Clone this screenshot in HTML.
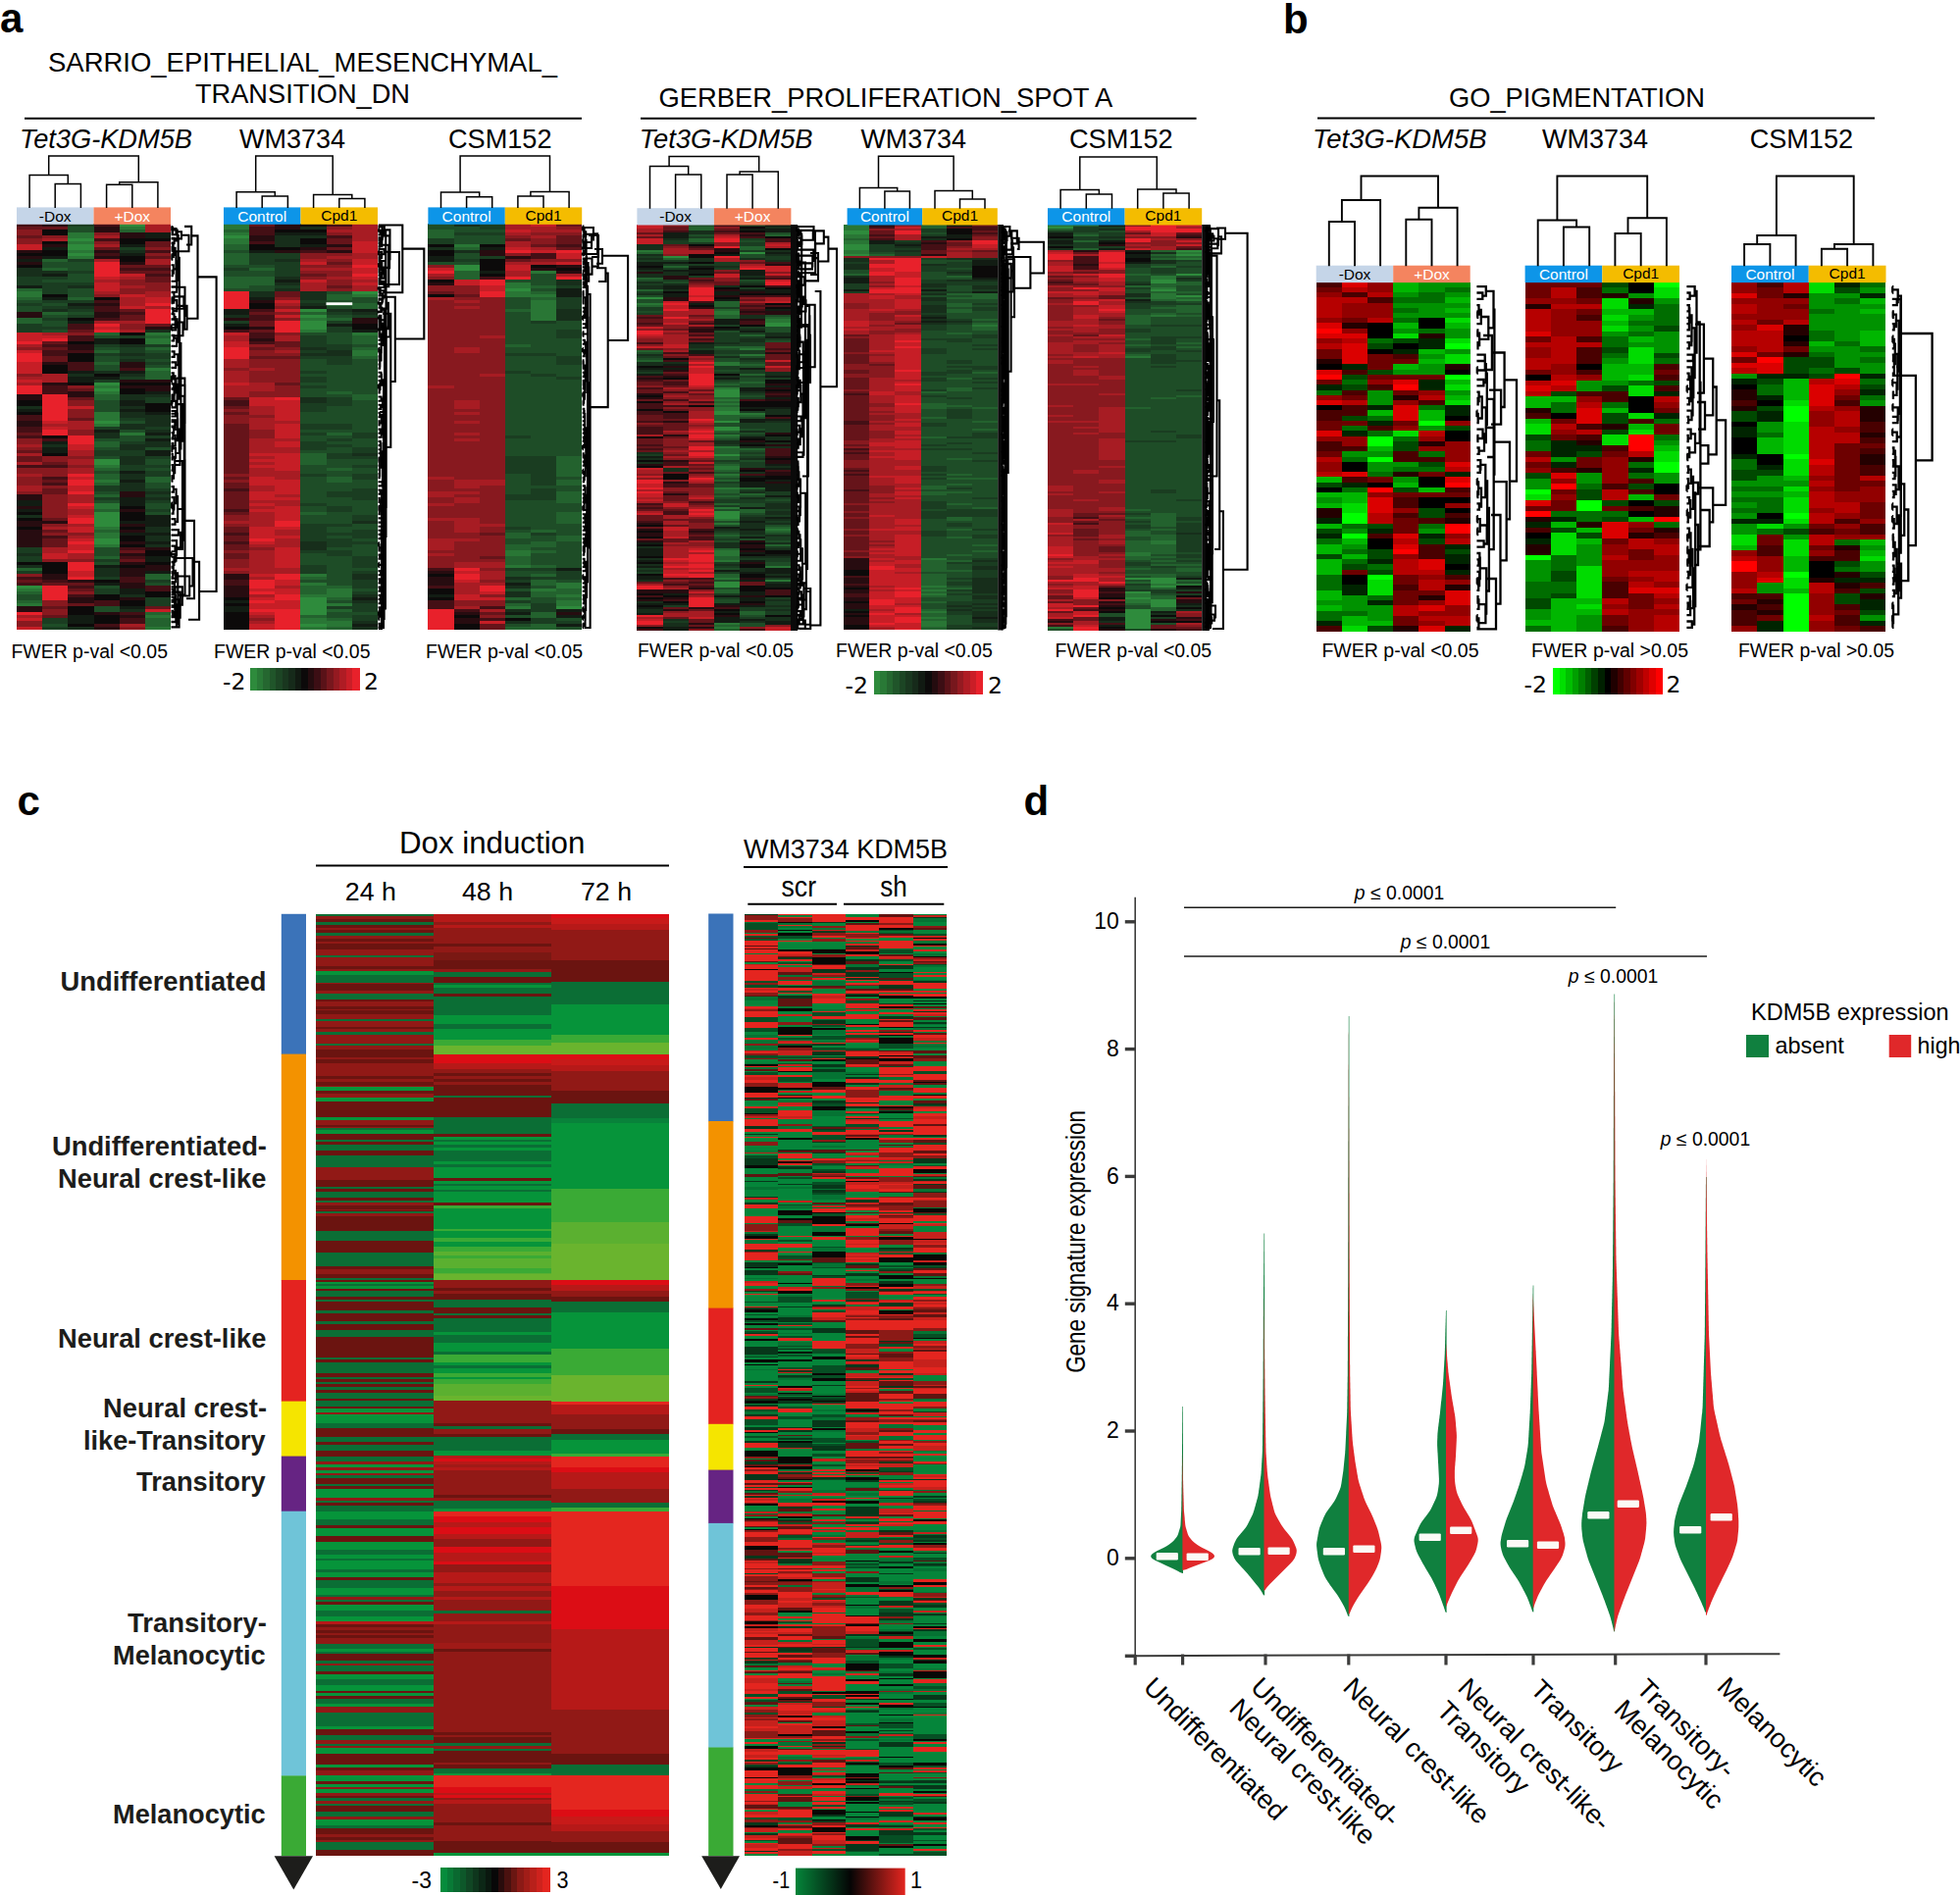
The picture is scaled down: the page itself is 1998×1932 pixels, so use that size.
<!DOCTYPE html><html><head><meta charset="utf-8"><title>Figure</title><style>html,body{margin:0;padding:0;background:#fff}svg{display:block}</style></head><body><svg width="1998" height="1932" viewBox="0 0 1998 1932" font-family="'Liberation Sans',sans-serif"><text x="0.0" y="33.0" font-size="42" font-weight="bold">a</text>
<text x="1308.0" y="33.5" font-size="42" font-weight="bold">b</text>
<text x="17.5" y="831.0" font-size="42" font-weight="bold">c</text>
<text x="1043.5" y="831.0" font-size="42" font-weight="bold">d</text>
<text x="49.0" y="72.5" font-size="27.3" textLength="519.0" lengthAdjust="spacingAndGlyphs">SARRIO_EPITHELIAL_MESENCHYMAL_</text>
<text x="199.0" y="105.0" font-size="27.3" textLength="219.0" lengthAdjust="spacingAndGlyphs">TRANSITION_DN</text>
<path d="M25.0 120.7L593.0 120.7" stroke="#000" stroke-width="2" fill="none"/>
<text x="671.4" y="109.3" font-size="27.3" textLength="463.0" lengthAdjust="spacingAndGlyphs">GERBER_PROLIFERATION_SPOT A</text>
<path d="M653.0 120.7L1219.6 120.7" stroke="#000" stroke-width="2" fill="none"/>
<text x="1477.0" y="109.0" font-size="27.3" textLength="261.0" lengthAdjust="spacingAndGlyphs">GO_PIGMENTATION</text>
<path d="M1343.0 120.5L1911.0 120.5" stroke="#000" stroke-width="2" fill="none"/>
<text x="20.0" y="150.5" font-size="27.3" font-style="italic" textLength="176.0" lengthAdjust="spacingAndGlyphs">Tet3G-KDM5B</text>
<text x="651.8" y="150.5" font-size="27.3" font-style="italic" textLength="176.8" lengthAdjust="spacingAndGlyphs">Tet3G-KDM5B</text>
<text x="1338.0" y="150.5" font-size="27.3" font-style="italic" textLength="177.5" lengthAdjust="spacingAndGlyphs">Tet3G-KDM5B</text>
<text x="244.0" y="150.5" font-size="27.3" textLength="108.0" lengthAdjust="spacingAndGlyphs">WM3734</text>
<text x="877.5" y="150.5" font-size="27.3" textLength="107.5" lengthAdjust="spacingAndGlyphs">WM3734</text>
<text x="1572.0" y="150.5" font-size="27.3" textLength="108.0" lengthAdjust="spacingAndGlyphs">WM3734</text>
<text x="457.0" y="150.5" font-size="27.3" textLength="105.5" lengthAdjust="spacingAndGlyphs">CSM152</text>
<text x="1090.0" y="150.5" font-size="27.3" textLength="105.7" lengthAdjust="spacingAndGlyphs">CSM152</text>
<text x="1783.7" y="150.5" font-size="27.3" textLength="105.3" lengthAdjust="spacingAndGlyphs">CSM152</text>
<g shape-rendering="crispEdges"><path fill="#2e8b3c" d="M17 597h26v3h-26zM69 243h27v3h-27zM69 249h27v6h-27zM69 258h27v3h-27zM96 390h26v3h-26zM96 396h26v3h-26zM96 429h26v3h-26zM96 468h26v6h-26zM96 522h26v15h-26zM96 549h26v6h-26zM122 228h26v3h-26z"/><path fill="#297635" d="M17 297h26v6h-26zM17 600h26v3h-26zM17 615h26v3h-26zM69 237h27v6h-27zM69 246h27v3h-27zM69 255h27v3h-27zM69 261h27v3h-27zM96 393h26v3h-26zM96 399h26v3h-26zM96 420h26v9h-26zM96 432h26v3h-26zM96 474h26v3h-26zM96 489h26v3h-26zM96 513h26v6h-26zM96 537h26v3h-26zM96 543h26v6h-26zM96 555h26v3h-26zM122 231h26v3h-26zM122 441h26v3h-26zM148 339h26v3h-26zM148 345h26v6h-26zM148 375h26v3h-26zM148 627h26v3h-26zM148 639h26v3h-26z"/><path fill="#23622e" d="M17 294h26v3h-26zM17 303h26v3h-26zM17 324h26v6h-26zM17 579h26v3h-26zM17 603h26v3h-26zM17 612h26v3h-26zM43 264h26v3h-26zM43 273h26v3h-26zM43 318h26v3h-26zM69 303h27v3h-27zM96 339h26v3h-26zM96 357h26v3h-26zM96 369h26v3h-26zM96 402h26v6h-26zM96 450h26v6h-26zM96 477h26v3h-26zM96 483h26v6h-26zM96 492h26v3h-26zM96 504h26v3h-26zM96 519h26v3h-26zM96 540h26v3h-26zM96 567h26v3h-26zM122 234h26v3h-26zM148 342h26v3h-26zM148 354h26v3h-26zM148 378h26v9h-26zM148 486h26v6h-26zM148 585h26v6h-26zM148 624h26v3h-26zM148 630h26v9h-26z"/><path fill="#1e4d27" d="M17 306h26v3h-26zM17 312h26v6h-26zM17 606h26v6h-26zM43 267h26v6h-26zM43 285h26v3h-26zM43 309h26v3h-26zM43 321h26v3h-26zM43 327h26v6h-26zM43 336h26v3h-26zM43 636h26v3h-26zM69 231h27v6h-27zM69 267h27v9h-27zM69 279h27v9h-27zM69 294h27v9h-27zM69 318h27v3h-27zM96 342h26v3h-26zM96 354h26v3h-26zM96 363h26v6h-26zM96 372h26v6h-26zM96 408h26v12h-26zM96 447h26v3h-26zM96 456h26v3h-26zM96 465h26v3h-26zM96 480h26v3h-26zM96 501h26v3h-26zM96 510h26v3h-26zM96 558h26v9h-26zM96 573h26v3h-26zM96 597h26v3h-26zM96 618h26v6h-26zM122 429h26v3h-26zM122 438h26v3h-26zM122 444h26v6h-26zM148 357h26v3h-26zM148 366h26v3h-26zM148 372h26v3h-26zM148 456h26v3h-26zM148 468h26v6h-26zM148 477h26v3h-26zM148 492h26v6h-26zM148 513h26v6h-26zM148 522h26v3h-26zM148 594h26v3h-26z"/><path fill="#1a3d21" d="M17 282h26v9h-26zM17 309h26v3h-26zM17 330h26v9h-26zM17 558h26v6h-26zM17 567h26v6h-26zM17 582h26v3h-26zM43 282h26v3h-26zM43 288h26v12h-26zM43 306h26v3h-26zM43 312h26v3h-26zM43 324h26v3h-26zM43 333h26v3h-26zM43 630h26v6h-26zM43 639h26v3h-26zM69 228h27v3h-27zM69 264h27v3h-27zM69 276h27v3h-27zM69 288h27v3h-27zM69 306h27v3h-27zM69 315h27v3h-27zM69 321h27v3h-27zM96 351h26v3h-26zM96 360h26v3h-26zM96 387h26v3h-26zM96 435h26v3h-26zM96 459h26v6h-26zM96 495h26v6h-26zM96 507h26v3h-26zM96 570h26v3h-26zM96 588h26v3h-26zM96 600h26v6h-26zM122 252h26v3h-26zM122 342h26v3h-26zM122 354h26v6h-26zM122 363h26v3h-26zM122 384h26v3h-26zM122 426h26v3h-26zM122 450h26v3h-26zM122 459h26v6h-26zM122 474h26v6h-26zM148 351h26v3h-26zM148 360h26v6h-26zM148 369h26v3h-26zM148 405h26v6h-26zM148 435h26v3h-26zM148 444h26v3h-26zM148 465h26v3h-26zM148 474h26v3h-26zM148 480h26v6h-26zM148 498h26v3h-26zM148 504h26v3h-26zM148 510h26v3h-26zM148 519h26v3h-26zM148 591h26v3h-26zM148 609h26v9h-26z"/><path fill="#172e1b" d="M17 273h26v9h-26zM17 414h26v3h-26zM17 525h26v3h-26zM17 564h26v3h-26zM17 576h26v3h-26zM43 276h26v3h-26zM43 315h26v3h-26zM43 453h26v3h-26zM69 291h27v3h-27zM69 312h27v3h-27zM69 381h27v3h-27zM69 639h27v3h-27zM96 378h26v3h-26zM96 441h26v6h-26zM96 579h26v9h-26zM122 255h26v3h-26zM122 351h26v3h-26zM122 360h26v3h-26zM122 366h26v3h-26zM122 381h26v3h-26zM122 402h26v6h-26zM122 414h26v3h-26zM122 420h26v6h-26zM122 432h26v6h-26zM122 453h26v6h-26zM122 465h26v9h-26zM122 483h26v6h-26zM122 492h26v9h-26zM122 606h26v3h-26zM122 621h26v3h-26zM148 336h26v3h-26zM148 402h26v3h-26zM148 423h26v12h-26zM148 438h26v3h-26zM148 450h26v6h-26zM148 501h26v3h-26zM148 507h26v3h-26zM148 537h26v6h-26zM148 546h26v6h-26zM148 555h26v3h-26z"/><path fill="#121c13" d="M17 264h26v3h-26zM17 291h26v3h-26zM17 417h26v3h-26zM17 510h26v6h-26zM17 519h26v3h-26zM43 252h26v3h-26zM43 261h26v3h-26zM43 279h26v3h-26zM43 303h26v3h-26zM43 450h26v3h-26zM43 456h26v6h-26zM69 309h27v3h-27zM69 327h27v3h-27zM69 378h27v3h-27zM69 384h27v6h-27zM69 627h27v9h-27zM96 345h26v6h-26zM96 384h26v3h-26zM96 438h26v3h-26zM96 576h26v3h-26zM96 594h26v3h-26zM122 249h26v3h-26zM122 258h26v3h-26zM122 378h26v3h-26zM122 408h26v6h-26zM122 417h26v3h-26zM122 480h26v3h-26zM122 489h26v3h-26zM122 507h26v9h-26zM122 531h26v3h-26zM122 543h26v3h-26zM122 600h26v6h-26zM122 618h26v3h-26zM148 237h26v6h-26zM148 399h26v3h-26zM148 420h26v3h-26zM148 441h26v3h-26zM148 447h26v3h-26zM148 459h26v6h-26zM148 525h26v12h-26zM148 543h26v3h-26zM148 552h26v3h-26zM148 567h26v6h-26zM148 582h26v3h-26z"/><path fill="#0c0a0a" d="M17 258h26v3h-26zM17 270h26v3h-26zM17 408h26v6h-26zM17 420h26v3h-26zM17 522h26v3h-26zM17 528h26v3h-26zM17 537h26v3h-26zM17 573h26v3h-26zM43 234h26v6h-26zM43 246h26v3h-26zM43 255h26v6h-26zM43 300h26v3h-26zM43 372h26v9h-26zM43 444h26v3h-26zM43 462h26v3h-26zM43 573h26v12h-26zM69 324h27v3h-27zM69 348h27v3h-27zM69 360h27v9h-27zM69 390h27v3h-27zM69 618h27v9h-27zM69 636h27v3h-27zM96 303h26v3h-26zM96 381h26v3h-26zM96 591h26v3h-26zM96 606h26v6h-26zM96 627h26v9h-26zM122 243h26v6h-26zM122 261h26v6h-26zM122 339h26v3h-26zM122 345h26v6h-26zM122 390h26v3h-26zM122 396h26v6h-26zM122 516h26v3h-26zM122 522h26v9h-26zM122 537h26v3h-26zM122 546h26v6h-26zM122 555h26v3h-26zM122 576h26v3h-26zM122 612h26v6h-26zM148 243h26v3h-26zM148 390h26v3h-26zM148 411h26v9h-26zM148 561h26v6h-26zM148 573h26v3h-26zM148 603h26v6h-26z"/><path fill="#270c10" d="M17 255h26v3h-26zM17 261h26v3h-26zM17 267h26v3h-26zM17 318h26v6h-26zM17 402h26v6h-26zM17 429h26v6h-26zM17 504h26v6h-26zM17 516h26v3h-26zM17 531h26v6h-26zM17 540h26v18h-26zM17 618h26v6h-26zM43 228h26v3h-26zM43 249h26v3h-26zM43 369h26v3h-26zM43 390h26v3h-26zM43 531h26v3h-26zM43 585h26v6h-26zM69 351h27v6h-27zM69 399h27v6h-27zM69 591h27v3h-27zM69 609h27v6h-27zM96 231h26v6h-26zM96 255h26v3h-26zM96 261h26v3h-26zM96 309h26v3h-26zM96 318h26v6h-26zM96 624h26v3h-26zM96 639h26v3h-26zM122 237h26v6h-26zM122 267h26v3h-26zM122 369h26v6h-26zM122 387h26v3h-26zM122 393h26v3h-26zM122 501h26v6h-26zM122 519h26v3h-26zM122 534h26v3h-26zM122 540h26v3h-26zM122 552h26v3h-26zM122 564h26v3h-26zM122 573h26v3h-26zM122 579h26v9h-26zM122 594h26v6h-26zM122 609h26v3h-26zM122 627h26v3h-26zM148 333h26v3h-26zM148 387h26v3h-26zM148 393h26v6h-26zM148 558h26v3h-26zM148 576h26v6h-26z"/><path fill="#440f15" d="M17 228h26v3h-26zM17 423h26v6h-26zM17 435h26v6h-26zM17 444h26v3h-26zM17 474h26v3h-26zM17 588h26v3h-26zM17 594h26v3h-26zM43 351h26v3h-26zM43 357h26v6h-26zM43 393h26v9h-26zM43 447h26v3h-26zM43 474h26v3h-26zM43 486h26v3h-26zM43 492h26v3h-26zM43 546h26v3h-26zM43 591h26v3h-26zM69 330h27v6h-27zM69 342h27v6h-27zM69 357h27v3h-27zM69 369h27v9h-27zM69 597h27v3h-27zM69 606h27v3h-27zM96 228h26v3h-26zM96 243h26v3h-26zM96 258h26v3h-26zM96 306h26v3h-26zM96 312h26v6h-26zM96 324h26v3h-26zM96 612h26v6h-26zM96 636h26v3h-26zM122 273h26v3h-26zM122 318h26v3h-26zM122 375h26v3h-26zM122 558h26v3h-26zM122 567h26v3h-26zM122 588h26v6h-26zM122 624h26v3h-26zM122 630h26v6h-26zM148 255h26v3h-26zM148 273h26v3h-26zM148 279h26v3h-26zM148 597h26v6h-26z"/><path fill="#66141a" d="M17 231h26v3h-26zM17 240h26v3h-26zM17 441h26v3h-26zM17 459h26v3h-26zM17 465h26v6h-26zM17 591h26v3h-26zM43 231h26v3h-26zM43 348h26v3h-26zM43 354h26v3h-26zM43 363h26v6h-26zM43 471h26v3h-26zM43 489h26v3h-26zM43 498h26v6h-26zM43 528h26v3h-26zM43 540h26v3h-26zM43 549h26v9h-26zM43 594h26v3h-26zM43 618h26v3h-26zM43 627h26v3h-26zM69 336h27v3h-27zM69 396h27v3h-27zM69 405h27v3h-27zM69 426h27v3h-27zM69 594h27v3h-27zM69 600h27v3h-27zM69 615h27v3h-27zM96 252h26v3h-26zM122 270h26v3h-26zM122 276h26v3h-26zM122 315h26v3h-26zM122 321h26v6h-26zM122 561h26v3h-26zM122 570h26v3h-26zM148 246h26v6h-26zM148 261h26v3h-26zM148 270h26v3h-26zM148 276h26v3h-26zM148 282h26v6h-26zM148 330h26v3h-26zM148 618h26v3h-26z"/><path fill="#88191f" d="M17 234h26v6h-26zM17 243h26v6h-26zM17 354h26v3h-26zM17 381h26v3h-26zM17 447h26v6h-26zM17 456h26v3h-26zM17 477h26v6h-26zM17 486h26v9h-26zM17 501h26v3h-26zM17 585h26v3h-26zM17 633h26v6h-26zM43 240h26v3h-26zM43 465h26v6h-26zM43 477h26v9h-26zM43 495h26v3h-26zM43 504h26v24h-26zM43 534h26v3h-26zM43 543h26v3h-26zM43 570h26v3h-26zM43 612h26v6h-26zM43 621h26v6h-26zM69 339h27v3h-27zM69 393h27v3h-27zM69 408h27v6h-27zM69 417h27v9h-27zM69 438h27v6h-27zM69 465h27v3h-27zM69 474h27v3h-27zM69 543h27v3h-27zM69 570h27v3h-27zM69 603h27v3h-27zM96 237h26v3h-26zM96 246h26v3h-26zM96 300h26v3h-26zM122 285h26v6h-26zM122 294h26v6h-26zM122 330h26v6h-26zM122 639h26v3h-26zM148 252h26v3h-26zM148 258h26v3h-26zM148 288h26v9h-26z"/><path fill="#a71c23" d="M17 351h26v3h-26zM17 384h26v3h-26zM17 390h26v3h-26zM17 453h26v3h-26zM17 462h26v3h-26zM17 471h26v3h-26zM17 483h26v3h-26zM17 495h26v6h-26zM17 627h26v3h-26zM43 243h26v3h-26zM43 339h26v3h-26zM43 381h26v9h-26zM43 432h26v3h-26zM43 537h26v3h-26zM43 558h26v6h-26zM69 429h27v9h-27zM69 459h27v6h-27zM69 468h27v6h-27zM69 477h27v6h-27zM69 504h27v9h-27zM69 519h27v6h-27zM69 534h27v3h-27zM69 546h27v3h-27zM69 564h27v6h-27zM96 240h26v3h-26zM96 249h26v3h-26zM96 264h26v3h-26zM96 285h26v3h-26zM96 297h26v3h-26zM96 327h26v3h-26zM122 282h26v3h-26zM122 291h26v3h-26zM122 303h26v9h-26zM122 327h26v3h-26zM122 336h26v3h-26zM122 636h26v3h-26zM148 228h26v9h-26zM148 264h26v6h-26zM148 297h26v6h-26zM148 312h26v3h-26z"/><path fill="#c61e26" d="M17 249h26v6h-26zM17 339h26v9h-26zM17 357h26v3h-26zM17 369h26v12h-26zM17 387h26v3h-26zM17 630h26v3h-26zM17 639h26v3h-26zM43 342h26v3h-26zM43 429h26v3h-26zM43 435h26v3h-26zM43 564h26v6h-26zM69 414h27v3h-27zM69 453h27v6h-27zM69 486h27v3h-27zM69 495h27v6h-27zM69 516h27v3h-27zM69 525h27v3h-27zM69 537h27v6h-27zM69 549h27v3h-27zM69 555h27v6h-27zM69 582h27v6h-27zM96 282h26v3h-26zM96 288h26v9h-26zM96 333h26v3h-26zM122 279h26v3h-26zM122 300h26v3h-26zM122 312h26v3h-26zM148 303h26v6h-26zM148 621h26v3h-26z"/><path fill="#e8212b" d="M17 348h26v3h-26zM17 360h26v9h-26zM17 393h26v9h-26zM17 624h26v3h-26zM43 345h26v3h-26zM43 402h26v27h-26zM43 438h26v6h-26zM43 597h26v15h-26zM69 444h27v9h-27zM69 483h27v3h-27zM69 489h27v6h-27zM69 501h27v3h-27zM69 513h27v3h-27zM69 528h27v6h-27zM69 552h27v3h-27zM69 561h27v3h-27zM69 573h27v9h-27zM69 588h27v3h-27zM96 267h26v15h-26zM96 330h26v3h-26zM96 336h26v3h-26zM148 309h26v3h-26zM148 315h26v15h-26z"/></g>
<rect x="17.00" y="211.40" width="78.50" height="17.40" fill="#c5d5e8"/>
<rect x="95.50" y="211.40" width="78.50" height="17.40" fill="#f4845f"/>
<text x="56.2" y="225.5" font-size="15.5" text-anchor="middle">-Dox</text>
<text x="134.8" y="225.5" font-size="15.5" text-anchor="middle" fill="#fff">+Dox</text>
<g shape-rendering="crispEdges"><path fill="#2e8b3c" d="M228 240h26v3h-26zM306 315h27v3h-27zM306 321h27v3h-27zM306 327h27v9h-27zM306 609h27v18h-27zM306 636h27v3h-27zM359 297h26v3h-26z"/><path fill="#297635" d="M228 228h26v6h-26zM228 237h26v3h-26zM228 243h26v6h-26zM306 324h27v3h-27zM306 336h27v3h-27zM306 585h27v3h-27zM306 594h27v3h-27zM306 606h27v3h-27zM306 630h27v6h-27zM306 639h27v3h-27zM333 600h26v9h-26zM333 615h26v3h-26zM333 633h26v6h-26zM359 300h26v3h-26zM359 339h26v3h-26zM359 357h26v6h-26z"/><path fill="#23622e" d="M228 234h26v3h-26zM228 249h26v6h-26zM228 258h26v12h-26zM228 282h26v12h-26zM254 273h26v3h-26zM254 282h26v9h-26zM306 318h27v3h-27zM306 462h27v12h-27zM306 522h27v3h-27zM306 588h27v3h-27zM306 597h27v9h-27zM306 627h27v3h-27zM333 300h26v6h-26zM333 309h26v3h-26zM333 324h26v3h-26zM333 399h26v3h-26zM333 441h26v3h-26zM333 477h26v3h-26zM333 486h26v6h-26zM333 597h26v3h-26zM333 609h26v3h-26zM333 621h26v3h-26zM333 630h26v3h-26zM333 639h26v3h-26zM359 309h26v6h-26zM359 342h26v9h-26zM359 354h26v3h-26zM359 363h26v3h-26zM359 402h26v6h-26z"/><path fill="#1e4d27" d="M228 255h26v3h-26zM228 270h26v3h-26zM228 276h26v6h-26zM228 294h26v3h-26zM254 270h26v3h-26zM254 276h26v6h-26zM254 291h26v6h-26zM306 339h27v3h-27zM306 366h27v12h-27zM306 381h27v3h-27zM306 390h27v3h-27zM306 396h27v9h-27zM306 420h27v12h-27zM306 438h27v3h-27zM306 444h27v6h-27zM306 459h27v3h-27zM306 474h27v9h-27zM306 486h27v27h-27zM306 516h27v6h-27zM306 525h27v9h-27zM306 564h27v12h-27zM306 591h27v3h-27zM333 297h26v3h-26zM333 306h26v3h-26zM333 312h26v3h-26zM333 321h26v3h-26zM333 339h26v12h-26zM333 372h26v27h-26zM333 402h26v3h-26zM333 414h26v18h-26zM333 438h26v3h-26zM333 444h26v3h-26zM333 450h26v3h-26zM333 456h26v6h-26zM333 468h26v9h-26zM333 480h26v6h-26zM333 492h26v9h-26zM333 507h26v9h-26zM333 522h26v12h-26zM333 537h26v6h-26zM333 546h26v3h-26zM333 558h26v3h-26zM333 567h26v30h-26zM333 612h26v3h-26zM333 624h26v6h-26zM359 303h26v6h-26zM359 351h26v3h-26zM359 366h26v36h-26zM359 408h26v33h-26zM359 447h26v9h-26zM359 468h26v6h-26zM359 477h26v6h-26zM359 489h26v9h-26zM359 510h26v15h-26zM359 534h26v6h-26zM359 549h26v3h-26zM359 555h26v12h-26zM359 579h26v3h-26zM359 600h26v3h-26zM359 624h26v3h-26z"/><path fill="#1a3d21" d="M228 273h26v3h-26zM228 327h26v3h-26zM254 258h26v12h-26zM280 258h26v6h-26zM280 267h26v15h-26zM280 291h26v3h-26zM306 306h27v3h-27zM306 342h27v12h-27zM306 357h27v3h-27zM306 363h27v3h-27zM306 378h27v3h-27zM306 384h27v6h-27zM306 393h27v3h-27zM306 411h27v9h-27zM306 432h27v6h-27zM306 441h27v3h-27zM306 450h27v9h-27zM306 483h27v3h-27zM306 513h27v3h-27zM306 534h27v18h-27zM306 561h27v3h-27zM306 576h27v9h-27zM333 318h26v3h-26zM333 327h26v3h-26zM333 333h26v6h-26zM333 351h26v6h-26zM333 363h26v9h-26zM333 405h26v9h-26zM333 432h26v6h-26zM333 447h26v3h-26zM333 453h26v3h-26zM333 462h26v6h-26zM333 501h26v6h-26zM333 516h26v6h-26zM333 534h26v3h-26zM333 543h26v3h-26zM333 549h26v9h-26zM333 561h26v6h-26zM333 618h26v3h-26zM359 321h26v3h-26zM359 441h26v6h-26zM359 456h26v6h-26zM359 465h26v3h-26zM359 474h26v3h-26zM359 483h26v6h-26zM359 498h26v12h-26zM359 525h26v6h-26zM359 540h26v9h-26zM359 552h26v3h-26zM359 567h26v12h-26zM359 582h26v3h-26zM359 591h26v9h-26zM359 603h26v3h-26zM359 615h26v9h-26zM359 627h26v6h-26z"/><path fill="#172e1b" d="M228 321h26v3h-26zM254 297h26v6h-26zM280 240h26v12h-26zM280 264h26v3h-26zM280 282h26v3h-26zM280 288h26v3h-26zM280 294h26v3h-26zM306 231h27v3h-27zM306 240h27v3h-27zM306 297h27v9h-27zM306 309h27v3h-27zM306 354h27v3h-27zM306 360h27v3h-27zM306 405h27v6h-27zM306 552h27v9h-27zM333 315h26v3h-26zM333 357h26v6h-26zM359 318h26v3h-26zM359 462h26v3h-26zM359 531h26v3h-26zM359 585h26v6h-26zM359 606h26v3h-26zM359 612h26v3h-26zM359 633h26v3h-26zM359 639h26v3h-26z"/><path fill="#121c13" d="M228 315h26v6h-26zM228 330h26v3h-26zM228 612h26v3h-26zM228 618h26v6h-26zM254 255h26v3h-26zM254 303h26v3h-26zM280 237h26v3h-26zM280 285h26v3h-26zM306 237h27v3h-27zM306 249h27v3h-27zM306 312h27v3h-27zM333 330h26v3h-26zM359 315h26v3h-26zM359 336h26v3h-26zM359 609h26v3h-26zM359 636h26v3h-26z"/><path fill="#0c0a0a" d="M228 333h26v3h-26zM228 609h26v3h-26zM228 615h26v3h-26zM228 624h26v18h-26zM254 249h26v6h-26zM254 309h26v6h-26zM280 234h26v3h-26zM280 252h26v3h-26zM306 228h27v3h-27zM306 234h27v3h-27zM306 243h27v6h-27zM359 330h26v6h-26z"/><path fill="#270c10" d="M228 324h26v3h-26zM228 585h26v6h-26zM228 597h26v12h-26zM254 240h26v6h-26zM254 306h26v3h-26zM254 333h26v3h-26zM254 345h26v3h-26zM280 228h26v6h-26zM280 255h26v3h-26zM306 252h27v3h-27zM333 249h26v3h-26zM333 255h26v3h-26zM359 324h26v6h-26z"/><path fill="#440f15" d="M228 336h26v3h-26zM228 408h26v6h-26zM228 498h26v3h-26zM228 519h26v3h-26zM228 543h26v3h-26zM228 552h26v3h-26zM228 591h26v6h-26zM254 231h26v9h-26zM254 246h26v3h-26zM254 315h26v3h-26zM254 321h26v6h-26zM254 339h26v6h-26zM254 348h26v3h-26zM306 255h27v3h-27zM333 228h26v3h-26zM333 240h26v3h-26z"/><path fill="#66141a" d="M228 405h26v3h-26zM228 414h26v3h-26zM228 420h26v3h-26zM228 432h26v51h-26zM228 486h26v3h-26zM228 492h26v6h-26zM228 501h26v18h-26zM228 522h26v3h-26zM228 537h26v6h-26zM228 546h26v6h-26zM228 555h26v6h-26zM228 564h26v6h-26zM254 228h26v3h-26zM254 318h26v3h-26zM254 327h26v6h-26zM254 336h26v3h-26zM254 354h26v3h-26zM254 363h26v3h-26zM280 297h26v6h-26zM280 348h26v6h-26zM280 363h26v3h-26zM280 390h26v3h-26zM306 279h27v3h-27zM333 243h26v6h-26zM333 252h26v3h-26zM333 267h26v3h-26zM333 291h26v3h-26z"/><path fill="#88191f" d="M228 375h26v3h-26zM228 417h26v3h-26zM228 423h26v9h-26zM228 483h26v3h-26zM228 489h26v3h-26zM228 525h26v6h-26zM228 534h26v3h-26zM228 561h26v3h-26zM228 570h26v9h-26zM228 582h26v3h-26zM254 351h26v3h-26zM254 357h26v6h-26zM254 366h26v9h-26zM254 378h26v12h-26zM254 399h26v6h-26zM254 423h26v3h-26zM254 438h26v9h-26zM254 558h26v3h-26zM254 630h26v3h-26zM280 303h26v3h-26zM280 312h26v3h-26zM280 318h26v3h-26zM280 324h26v3h-26zM280 339h26v3h-26zM280 354h26v3h-26zM280 360h26v3h-26zM280 366h26v24h-26zM280 393h26v12h-26zM306 258h27v6h-27zM306 270h27v3h-27zM306 276h27v3h-27zM306 282h27v3h-27zM333 231h26v3h-26zM333 237h26v3h-26zM333 258h26v3h-26zM333 264h26v3h-26zM333 270h26v3h-26zM333 276h26v6h-26zM333 285h26v6h-26zM333 294h26v3h-26z"/><path fill="#a71c23" d="M228 342h26v6h-26zM228 366h26v9h-26zM228 378h26v12h-26zM228 393h26v12h-26zM228 531h26v3h-26zM228 579h26v3h-26zM254 375h26v3h-26zM254 390h26v9h-26zM254 414h26v9h-26zM254 426h26v12h-26zM254 447h26v15h-26zM254 465h26v3h-26zM254 471h26v3h-26zM254 477h26v9h-26zM254 495h26v6h-26zM254 510h26v3h-26zM254 516h26v3h-26zM254 522h26v15h-26zM254 555h26v3h-26zM254 561h26v24h-26zM254 588h26v3h-26zM254 606h26v3h-26zM254 627h26v3h-26zM254 633h26v3h-26zM280 309h26v3h-26zM280 342h26v6h-26zM280 357h26v3h-26zM280 429h26v3h-26zM280 447h26v3h-26zM280 456h26v6h-26zM280 480h26v9h-26zM280 504h26v3h-26zM280 510h26v6h-26zM280 540h26v6h-26zM280 549h26v9h-26zM280 579h26v6h-26zM280 597h26v3h-26zM306 264h27v3h-27zM306 273h27v3h-27zM306 288h27v9h-27zM333 234h26v3h-26zM333 261h26v3h-26zM333 273h26v3h-26zM333 282h26v3h-26zM359 228h26v18h-26zM359 258h26v6h-26zM359 285h26v3h-26zM359 291h26v6h-26z"/><path fill="#c61e26" d="M228 339h26v3h-26zM228 348h26v6h-26zM228 390h26v3h-26zM254 405h26v9h-26zM254 462h26v3h-26zM254 468h26v3h-26zM254 474h26v3h-26zM254 486h26v9h-26zM254 501h26v9h-26zM254 513h26v3h-26zM254 519h26v3h-26zM254 537h26v12h-26zM254 552h26v3h-26zM254 585h26v3h-26zM254 600h26v3h-26zM254 609h26v3h-26zM254 615h26v6h-26zM254 624h26v3h-26zM254 636h26v6h-26zM280 306h26v3h-26zM280 315h26v3h-26zM280 321h26v3h-26zM280 408h26v21h-26zM280 432h26v15h-26zM280 450h26v6h-26zM280 462h26v18h-26zM280 489h26v15h-26zM280 507h26v3h-26zM280 516h26v15h-26zM280 537h26v3h-26zM280 546h26v3h-26zM280 558h26v21h-26zM280 591h26v6h-26zM280 600h26v6h-26zM280 612h26v9h-26zM306 267h27v3h-27zM306 285h27v3h-27zM359 246h26v12h-26zM359 264h26v6h-26zM359 273h26v6h-26zM359 282h26v3h-26zM359 288h26v3h-26z"/><path fill="#e8212b" d="M228 297h26v18h-26zM228 354h26v12h-26zM254 549h26v3h-26zM254 591h26v9h-26zM254 603h26v3h-26zM254 612h26v3h-26zM254 621h26v3h-26zM280 327h26v12h-26zM280 405h26v3h-26zM280 531h26v6h-26zM280 585h26v6h-26zM280 606h26v6h-26zM280 621h26v21h-26zM359 270h26v3h-26zM359 279h26v3h-26z"/></g>
<rect x="228.00" y="211.40" width="78.50" height="17.40" fill="#0d95e8"/>
<rect x="306.50" y="211.40" width="78.50" height="17.40" fill="#f4bc00"/>
<text x="267.2" y="225.5" font-size="15.5" text-anchor="middle" fill="#fff">Control</text>
<text x="345.8" y="224.5" font-size="15.5" text-anchor="middle">Cpd1</text>
<g shape-rendering="crispEdges"><path fill="#2e8b3c" d="M463 270h26v6h-26zM515 294h26v3h-26zM567 618h26v3h-26z"/><path fill="#297635" d="M463 249h26v3h-26zM515 288h26v6h-26zM515 297h26v6h-26zM515 561h26v6h-26zM515 576h26v3h-26zM515 618h26v3h-26zM541 276h26v3h-26zM541 300h26v3h-26zM541 306h26v21h-26zM541 600h26v3h-26zM567 594h26v6h-26zM567 606h26v3h-26zM567 612h26v6h-26z"/><path fill="#23622e" d="M436 234h27v9h-27zM463 252h26v3h-26zM463 276h26v9h-26zM515 315h26v3h-26zM515 351h26v3h-26zM515 543h26v6h-26zM515 555h26v6h-26zM515 567h26v9h-26zM515 609h26v3h-26zM515 615h26v3h-26zM515 639h26v3h-26zM541 291h26v3h-26zM541 297h26v3h-26zM541 303h26v3h-26zM541 540h26v3h-26zM541 552h26v6h-26zM541 561h26v3h-26zM541 576h26v3h-26zM541 585h26v3h-26zM541 591h26v6h-26zM541 603h26v6h-26zM541 624h26v6h-26zM541 636h26v6h-26zM567 465h26v21h-26zM567 489h26v6h-26zM567 501h26v12h-26zM567 522h26v12h-26zM567 546h26v6h-26zM567 600h26v6h-26zM567 609h26v3h-26z"/><path fill="#1e4d27" d="M436 228h27v6h-27zM436 267h27v3h-27zM463 231h26v6h-26zM463 240h26v9h-26zM463 258h26v6h-26zM463 267h26v3h-26zM489 234h26v3h-26zM489 240h26v9h-26zM515 285h26v3h-26zM515 303h26v12h-26zM515 318h26v33h-26zM515 354h26v6h-26zM515 363h26v15h-26zM515 381h26v63h-26zM515 447h26v18h-26zM515 483h26v21h-26zM515 510h26v27h-26zM515 540h26v3h-26zM515 549h26v6h-26zM515 582h26v6h-26zM515 600h26v3h-26zM515 627h26v3h-26zM515 636h26v3h-26zM541 279h26v12h-26zM541 294h26v3h-26zM541 330h26v30h-26zM541 363h26v18h-26zM541 384h26v81h-26zM541 495h26v3h-26zM541 510h26v30h-26zM541 546h26v6h-26zM541 558h26v3h-26zM541 564h26v12h-26zM541 582h26v3h-26zM541 597h26v3h-26zM541 609h26v6h-26zM567 327h26v9h-26zM567 345h26v18h-26zM567 372h26v12h-26zM567 387h26v78h-26zM567 486h26v3h-26zM567 495h26v6h-26zM567 513h26v9h-26zM567 534h26v12h-26zM567 552h26v27h-26zM567 591h26v3h-26zM567 630h26v3h-26zM567 639h26v3h-26z"/><path fill="#1a3d21" d="M436 243h27v6h-27zM463 237h26v3h-26zM463 264h26v3h-26zM489 228h26v6h-26zM489 237h26v3h-26zM489 261h26v3h-26zM515 360h26v3h-26zM515 378h26v3h-26zM515 444h26v3h-26zM515 465h26v18h-26zM515 504h26v6h-26zM515 537h26v3h-26zM515 579h26v3h-26zM515 591h26v3h-26zM515 612h26v3h-26zM541 327h26v3h-26zM541 360h26v3h-26zM541 381h26v3h-26zM541 465h26v30h-26zM541 498h26v12h-26zM541 543h26v3h-26zM541 579h26v3h-26zM541 588h26v3h-26zM541 615h26v9h-26zM541 630h26v6h-26zM567 291h26v3h-26zM567 303h26v12h-26zM567 336h26v9h-26zM567 363h26v9h-26zM567 384h26v3h-26zM567 582h26v9h-26zM567 633h26v3h-26z"/><path fill="#172e1b" d="M436 252h27v3h-27zM463 228h26v3h-26zM463 255h26v3h-26zM515 588h26v3h-26zM515 597h26v3h-26zM515 603h26v6h-26zM515 621h26v3h-26zM515 633h26v3h-26zM567 285h26v6h-26zM567 315h26v12h-26z"/><path fill="#121c13" d="M436 261h27v6h-27zM436 606h27v3h-27zM489 252h26v3h-26zM489 276h26v3h-26zM515 594h26v3h-26zM515 624h26v3h-26zM567 294h26v9h-26zM567 579h26v3h-26zM567 621h26v3h-26zM567 627h26v3h-26zM567 636h26v3h-26z"/><path fill="#0c0a0a" d="M436 249h27v3h-27zM436 255h27v6h-27zM436 285h27v3h-27zM436 300h27v3h-27zM436 585h27v3h-27zM436 600h27v6h-27zM436 609h27v3h-27zM463 627h26v3h-26zM463 636h26v6h-26zM489 249h26v3h-26zM489 264h26v12h-26zM489 279h26v3h-26zM515 630h26v3h-26zM541 270h26v3h-26zM567 273h26v3h-26z"/><path fill="#270c10" d="M436 288h27v3h-27zM436 582h27v3h-27zM436 588h27v9h-27zM463 624h26v3h-26zM463 630h26v6h-26zM489 255h26v6h-26zM515 261h26v3h-26zM541 273h26v3h-26zM567 270h26v3h-26zM567 276h26v3h-26zM567 624h26v3h-26z"/><path fill="#440f15" d="M436 579h27v3h-27zM436 597h27v3h-27zM436 612h27v9h-27zM463 621h26v3h-26zM489 282h26v3h-26zM489 618h26v3h-26zM489 630h26v3h-26zM541 258h26v6h-26zM567 249h26v3h-26z"/><path fill="#66141a" d="M436 297h27v3h-27zM463 300h26v3h-26zM489 543h26v3h-26zM489 567h26v3h-26zM489 624h26v3h-26zM489 636h26v6h-26zM515 243h26v3h-26zM515 264h26v3h-26zM541 249h26v3h-26zM567 228h26v3h-26zM567 240h26v9h-26zM567 252h26v3h-26z"/><path fill="#88191f" d="M436 270h27v3h-27zM436 282h27v3h-27zM436 291h27v6h-27zM436 306h27v87h-27zM436 396h27v90h-27zM436 489h27v12h-27zM436 507h27v6h-27zM436 516h27v12h-27zM436 531h27v18h-27zM436 561h27v3h-27zM436 567h27v12h-27zM463 291h26v9h-26zM463 303h26v3h-26zM463 309h26v3h-26zM463 315h26v39h-26zM463 360h26v48h-26zM463 417h26v3h-26zM463 423h26v6h-26zM463 432h26v9h-26zM463 444h26v3h-26zM463 450h26v39h-26zM463 498h26v3h-26zM463 504h26v3h-26zM463 513h26v15h-26zM463 543h26v6h-26zM463 552h26v21h-26zM463 612h26v6h-26zM489 303h26v39h-26zM489 345h26v36h-26zM489 384h26v105h-26zM489 495h26v39h-26zM489 537h26v6h-26zM489 546h26v21h-26zM489 570h26v3h-26zM489 579h26v3h-26zM489 591h26v3h-26zM489 606h26v3h-26zM489 612h26v6h-26zM489 627h26v3h-26zM515 240h26v3h-26zM515 258h26v3h-26zM541 237h26v3h-26zM541 243h26v6h-26zM541 264h26v3h-26zM567 231h26v3h-26zM567 237h26v3h-26zM567 264h26v3h-26z"/><path fill="#a71c23" d="M436 279h27v3h-27zM436 303h27v3h-27zM436 393h27v3h-27zM436 486h27v3h-27zM436 501h27v6h-27zM436 513h27v3h-27zM436 528h27v3h-27zM436 549h27v12h-27zM436 564h27v3h-27zM463 306h26v3h-26zM463 312h26v3h-26zM463 354h26v6h-26zM463 408h26v9h-26zM463 420h26v3h-26zM463 429h26v3h-26zM463 441h26v3h-26zM463 447h26v3h-26zM463 489h26v9h-26zM463 501h26v3h-26zM463 507h26v6h-26zM463 528h26v15h-26zM463 549h26v3h-26zM463 573h26v6h-26zM463 594h26v12h-26zM463 618h26v3h-26zM489 342h26v3h-26zM489 381h26v3h-26zM489 489h26v6h-26zM489 534h26v3h-26zM489 573h26v6h-26zM489 582h26v9h-26zM489 594h26v3h-26zM489 621h26v3h-26zM515 228h26v6h-26zM515 237h26v3h-26zM515 246h26v6h-26zM515 267h26v3h-26zM515 276h26v6h-26zM541 231h26v6h-26zM541 240h26v3h-26zM541 252h26v3h-26zM541 267h26v3h-26zM567 234h26v3h-26zM567 279h26v3h-26z"/><path fill="#c61e26" d="M436 273h27v3h-27zM463 285h26v6h-26zM463 582h26v3h-26zM463 591h26v3h-26zM463 606h26v6h-26zM489 291h26v6h-26zM489 603h26v3h-26zM489 609h26v3h-26zM489 633h26v3h-26zM515 234h26v3h-26zM515 252h26v3h-26zM515 270h26v6h-26zM541 228h26v3h-26zM541 255h26v3h-26zM567 258h26v6h-26zM567 267h26v3h-26z"/><path fill="#e8212b" d="M436 276h27v3h-27zM436 621h27v21h-27zM463 579h26v3h-26zM463 585h26v6h-26zM489 285h26v6h-26zM489 297h26v6h-26zM489 597h26v6h-26zM515 255h26v3h-26zM515 282h26v3h-26zM567 255h26v3h-26zM567 282h26v3h-26z"/></g>
<rect x="436.40" y="211.40" width="78.40" height="17.40" fill="#0d95e8"/>
<rect x="514.80" y="211.40" width="78.40" height="17.40" fill="#f4bc00"/>
<text x="475.6" y="225.5" font-size="15.5" text-anchor="middle" fill="#fff">Control</text>
<text x="554.0" y="224.5" font-size="15.5" text-anchor="middle">Cpd1</text>
<g shape-rendering="crispEdges"><path fill="#2e8b3c" d="M649 303h27v2h-27zM676 261h26v2h-26zM728 397h26v8h-26zM728 419h26v4h-26zM728 429h26v2h-26zM728 435h26v4h-26zM728 463h26v2h-26zM728 521h26v8h-26zM728 593h26v6h-26zM754 257h26v2h-26zM780 329h26v4h-26z"/><path fill="#297635" d="M649 255h27v2h-27zM649 309h27v2h-27zM728 317h26v4h-26zM728 369h26v4h-26zM728 395h26v2h-26zM728 407h26v2h-26zM728 411h26v2h-26zM728 415h26v4h-26zM728 443h26v2h-26zM728 455h26v2h-26zM728 475h26v4h-26zM728 483h26v2h-26zM728 497h26v2h-26zM728 517h26v2h-26zM728 529h26v2h-26zM728 533h26v2h-26zM728 561h26v6h-26zM728 571h26v2h-26zM728 589h26v2h-26zM728 635h26v2h-26zM728 639h26v2h-26zM754 355h26v2h-26zM754 361h26v2h-26zM754 421h26v2h-26zM780 325h26v4h-26zM780 539h26v2h-26zM780 577h26v2h-26zM780 591h26v2h-26z"/><path fill="#23622e" d="M649 257h27v2h-27zM649 283h27v2h-27zM649 295h27v2h-27zM649 311h27v2h-27zM649 357h27v2h-27zM649 367h27v2h-27zM676 263h26v2h-26zM676 271h26v2h-26zM702 231h26v4h-26zM702 243h26v4h-26zM728 307h26v6h-26zM728 315h26v2h-26zM728 321h26v4h-26zM728 353h26v2h-26zM728 391h26v2h-26zM728 405h26v2h-26zM728 409h26v2h-26zM728 413h26v2h-26zM728 423h26v6h-26zM728 439h26v2h-26zM728 445h26v2h-26zM728 457h26v6h-26zM728 465h26v4h-26zM728 473h26v2h-26zM728 479h26v2h-26zM728 485h26v2h-26zM728 489h26v2h-26zM728 499h26v4h-26zM728 505h26v2h-26zM728 513h26v2h-26zM728 545h26v2h-26zM728 559h26v2h-26zM728 567h26v4h-26zM728 585h26v4h-26zM728 601h26v4h-26zM728 637h26v2h-26zM728 641h26v2h-26zM754 251h26v4h-26zM754 341h26v2h-26zM754 353h26v2h-26zM754 371h26v2h-26zM754 381h26v2h-26zM754 389h26v2h-26zM754 423h26v2h-26zM754 457h26v2h-26zM754 497h26v2h-26zM754 503h26v2h-26zM754 519h26v4h-26zM754 623h26v4h-26zM780 239h26v2h-26zM780 323h26v2h-26zM780 537h26v2h-26zM780 541h26v2h-26zM780 555h26v2h-26z"/><path fill="#1e4d27" d="M649 285h27v2h-27zM649 301h27v2h-27zM649 305h27v4h-27zM649 317h27v2h-27zM649 359h27v2h-27zM649 365h27v2h-27zM676 287h26v2h-26zM702 229h26v2h-26zM702 239h26v2h-26zM728 337h26v2h-26zM728 355h26v2h-26zM728 361h26v2h-26zM728 365h26v4h-26zM728 377h26v2h-26zM728 389h26v2h-26zM728 393h26v2h-26zM728 431h26v4h-26zM728 441h26v2h-26zM728 447h26v2h-26zM728 471h26v2h-26zM728 481h26v2h-26zM728 487h26v2h-26zM728 493h26v4h-26zM728 503h26v2h-26zM728 507h26v2h-26zM728 519h26v2h-26zM728 531h26v2h-26zM728 535h26v2h-26zM728 543h26v2h-26zM728 547h26v2h-26zM728 551h26v2h-26zM728 579h26v2h-26zM728 591h26v2h-26zM728 599h26v2h-26zM728 611h26v4h-26zM754 245h26v2h-26zM754 259h26v4h-26zM754 285h26v2h-26zM754 363h26v2h-26zM754 369h26v2h-26zM754 373h26v2h-26zM754 385h26v4h-26zM754 391h26v4h-26zM754 403h26v2h-26zM754 425h26v2h-26zM754 437h26v2h-26zM754 441h26v2h-26zM754 459h26v2h-26zM754 463h26v2h-26zM754 469h26v2h-26zM754 505h26v2h-26zM754 513h26v4h-26zM754 523h26v2h-26zM754 549h26v2h-26zM754 627h26v2h-26zM754 635h26v4h-26zM780 237h26v2h-26zM780 321h26v2h-26zM780 333h26v6h-26zM780 347h26v2h-26zM780 509h26v2h-26zM780 535h26v2h-26zM780 543h26v2h-26zM780 551h26v2h-26zM780 573h26v4h-26z"/><path fill="#1a3d21" d="M649 261h27v2h-27zM649 265h27v2h-27zM649 289h27v2h-27zM649 297h27v2h-27zM649 313h27v4h-27zM649 319h27v2h-27zM649 363h27v2h-27zM649 379h27v2h-27zM649 463h27v2h-27zM649 579h27v2h-27zM649 583h27v2h-27zM676 245h26v4h-26zM676 265h26v2h-26zM676 269h26v2h-26zM676 273h26v2h-26zM676 285h26v2h-26zM676 617h26v2h-26zM676 633h26v2h-26zM702 241h26v2h-26zM702 247h26v2h-26zM702 269h26v2h-26zM702 281h26v2h-26zM702 355h26v2h-26zM728 267h26v4h-26zM728 273h26v2h-26zM728 313h26v2h-26zM728 331h26v2h-26zM728 339h26v10h-26zM728 351h26v2h-26zM728 357h26v4h-26zM728 373h26v4h-26zM728 379h26v2h-26zM728 387h26v2h-26zM728 453h26v2h-26zM728 469h26v2h-26zM728 491h26v2h-26zM728 509h26v4h-26zM728 515h26v2h-26zM728 541h26v2h-26zM728 549h26v2h-26zM728 573h26v2h-26zM728 577h26v2h-26zM728 583h26v2h-26zM728 605h26v2h-26zM728 609h26v2h-26zM754 229h26v2h-26zM754 243h26v2h-26zM754 247h26v4h-26zM754 255h26v2h-26zM754 287h26v2h-26zM754 293h26v2h-26zM754 333h26v2h-26zM754 339h26v2h-26zM754 343h26v2h-26zM754 349h26v4h-26zM754 357h26v4h-26zM754 367h26v2h-26zM754 377h26v4h-26zM754 383h26v2h-26zM754 401h26v2h-26zM754 405h26v2h-26zM754 419h26v2h-26zM754 431h26v6h-26zM754 443h26v2h-26zM754 461h26v2h-26zM754 465h26v2h-26zM754 471h26v6h-26zM754 499h26v2h-26zM754 509h26v4h-26zM754 525h26v2h-26zM754 545h26v2h-26zM754 569h26v2h-26zM754 619h26v4h-26zM754 629h26v2h-26zM780 261h26v4h-26zM780 345h26v2h-26zM780 385h26v2h-26zM780 431h26v10h-26zM780 501h26v4h-26zM780 507h26v2h-26zM780 511h26v2h-26zM780 519h26v2h-26zM780 525h26v2h-26zM780 531h26v2h-26zM780 547h26v4h-26zM780 557h26v2h-26zM780 569h26v4h-26zM780 589h26v2h-26zM780 609h26v2h-26zM780 613h26v4h-26zM780 619h26v2h-26zM780 623h26v4h-26z"/><path fill="#172e1b" d="M649 249h27v6h-27zM649 259h27v2h-27zM649 263h27v2h-27zM649 275h27v2h-27zM649 279h27v4h-27zM649 287h27v2h-27zM649 291h27v4h-27zM649 299h27v2h-27zM649 361h27v2h-27zM649 369h27v4h-27zM649 377h27v2h-27zM649 461h27v2h-27zM649 467h27v2h-27zM649 471h27v2h-27zM649 557h27v2h-27zM649 569h27v2h-27zM649 575h27v2h-27zM649 581h27v2h-27zM649 591h27v2h-27zM649 613h27v2h-27zM649 621h27v4h-27zM676 243h26v2h-26zM676 277h26v4h-26zM676 289h26v2h-26zM676 295h26v2h-26zM676 369h26v2h-26zM676 477h26v4h-26zM676 631h26v2h-26zM676 635h26v4h-26zM702 235h26v4h-26zM702 263h26v4h-26zM702 351h26v4h-26zM728 271h26v2h-26zM728 291h26v2h-26zM728 349h26v2h-26zM728 363h26v2h-26zM728 383h26v2h-26zM728 449h26v4h-26zM728 539h26v2h-26zM728 553h26v6h-26zM728 575h26v2h-26zM754 263h26v2h-26zM754 281h26v2h-26zM754 289h26v2h-26zM754 321h26v4h-26zM754 335h26v2h-26zM754 345h26v4h-26zM754 365h26v2h-26zM754 399h26v2h-26zM754 439h26v2h-26zM754 455h26v2h-26zM754 467h26v2h-26zM754 481h26v2h-26zM754 501h26v2h-26zM754 507h26v2h-26zM754 527h26v4h-26zM754 533h26v6h-26zM754 541h26v4h-26zM754 567h26v2h-26zM754 579h26v4h-26zM754 633h26v2h-26zM780 231h26v2h-26zM780 255h26v2h-26zM780 259h26v2h-26zM780 265h26v2h-26zM780 339h26v4h-26zM780 379h26v4h-26zM780 417h26v6h-26zM780 429h26v2h-26zM780 445h26v4h-26zM780 451h26v2h-26zM780 455h26v2h-26zM780 475h26v2h-26zM780 513h26v6h-26zM780 521h26v4h-26zM780 529h26v2h-26zM780 533h26v2h-26zM780 545h26v2h-26zM780 553h26v2h-26zM780 559h26v2h-26zM780 567h26v2h-26zM780 585h26v2h-26zM780 593h26v2h-26zM780 611h26v2h-26zM780 617h26v2h-26zM780 621h26v2h-26zM780 629h26v4h-26z"/><path fill="#121c13" d="M649 267h27v4h-27zM649 273h27v2h-27zM649 375h27v2h-27zM649 381h27v2h-27zM649 465h27v2h-27zM649 553h27v2h-27zM649 559h27v8h-27zM649 571h27v2h-27zM649 577h27v2h-27zM649 587h27v4h-27zM649 615h27v2h-27zM649 619h27v2h-27zM649 625h27v2h-27zM676 237h26v6h-26zM676 267h26v2h-26zM676 275h26v2h-26zM676 291h26v4h-26zM676 299h26v4h-26zM676 371h26v2h-26zM676 375h26v2h-26zM676 605h26v2h-26zM676 615h26v2h-26zM676 639h26v4h-26zM702 271h26v2h-26zM702 275h26v4h-26zM702 309h26v2h-26zM702 349h26v2h-26zM702 357h26v4h-26zM728 259h26v2h-26zM728 297h26v4h-26zM728 305h26v2h-26zM728 325h26v6h-26zM728 335h26v2h-26zM728 385h26v2h-26zM728 537h26v2h-26zM728 581h26v2h-26zM728 607h26v2h-26zM728 615h26v2h-26zM728 623h26v2h-26zM728 629h26v6h-26zM754 233h26v2h-26zM754 275h26v6h-26zM754 283h26v2h-26zM754 295h26v2h-26zM754 337h26v2h-26zM754 375h26v2h-26zM754 395h26v4h-26zM754 415h26v2h-26zM754 427h26v4h-26zM754 445h26v2h-26zM754 451h26v2h-26zM754 485h26v2h-26zM754 491h26v6h-26zM754 517h26v2h-26zM754 531h26v2h-26zM754 539h26v2h-26zM754 547h26v2h-26zM754 563h26v2h-26zM754 571h26v2h-26zM754 583h26v2h-26zM754 591h26v2h-26zM754 603h26v4h-26zM754 609h26v4h-26zM754 617h26v2h-26zM754 631h26v2h-26zM780 229h26v2h-26zM780 233h26v4h-26zM780 257h26v2h-26zM780 295h26v4h-26zM780 315h26v2h-26zM780 343h26v2h-26zM780 383h26v2h-26zM780 393h26v2h-26zM780 405h26v2h-26zM780 415h26v2h-26zM780 427h26v2h-26zM780 473h26v2h-26zM780 477h26v2h-26zM780 489h26v2h-26zM780 493h26v8h-26zM780 505h26v2h-26zM780 527h26v2h-26zM780 565h26v2h-26zM780 579h26v6h-26zM780 587h26v2h-26zM780 595h26v4h-26zM780 633h26v4h-26z"/><path fill="#0c0a0a" d="M649 271h27v2h-27zM649 373h27v2h-27zM649 403h27v2h-27zM649 409h27v2h-27zM649 417h27v2h-27zM649 445h27v2h-27zM649 469h27v2h-27zM649 475h27v2h-27zM649 535h27v2h-27zM649 541h27v2h-27zM649 547h27v2h-27zM649 555h27v2h-27zM649 567h27v2h-27zM649 573h27v2h-27zM649 585h27v2h-27zM649 605h27v2h-27zM649 609h27v2h-27zM649 617h27v2h-27zM649 639h27v2h-27zM676 297h26v2h-26zM676 365h26v2h-26zM676 385h26v2h-26zM676 419h26v2h-26zM676 483h26v6h-26zM676 607h26v2h-26zM676 613h26v2h-26zM702 249h26v2h-26zM702 259h26v4h-26zM702 267h26v2h-26zM702 273h26v2h-26zM702 279h26v2h-26zM702 311h26v2h-26zM702 413h26v2h-26zM728 257h26v2h-26zM728 293h26v2h-26zM728 303h26v2h-26zM728 333h26v2h-26zM728 381h26v2h-26zM728 621h26v2h-26zM728 625h26v2h-26zM754 231h26v2h-26zM754 235h26v2h-26zM754 291h26v2h-26zM754 299h26v2h-26zM754 331h26v2h-26zM754 409h26v6h-26zM754 417h26v2h-26zM754 447h26v2h-26zM754 453h26v2h-26zM754 479h26v2h-26zM754 487h26v4h-26zM754 553h26v2h-26zM754 559h26v2h-26zM754 565h26v2h-26zM754 575h26v4h-26zM754 585h26v4h-26zM754 597h26v6h-26zM754 613h26v2h-26zM780 241h26v2h-26zM780 253h26v2h-26zM780 293h26v2h-26zM780 299h26v2h-26zM780 309h26v2h-26zM780 313h26v2h-26zM780 387h26v4h-26zM780 397h26v2h-26zM780 409h26v6h-26zM780 423h26v2h-26zM780 443h26v2h-26zM780 449h26v2h-26zM780 467h26v2h-26zM780 485h26v4h-26zM780 561h26v4h-26zM780 599h26v2h-26zM780 607h26v2h-26zM780 627h26v2h-26z"/><path fill="#270c10" d="M649 277h27v2h-27zM649 385h27v2h-27zM649 401h27v2h-27zM649 405h27v2h-27zM649 473h27v2h-27zM649 533h27v2h-27zM649 539h27v2h-27zM649 543h27v4h-27zM649 551h27v2h-27zM649 601h27v4h-27zM649 611h27v2h-27zM676 281h26v4h-26zM676 303h26v4h-26zM676 373h26v2h-26zM676 377h26v2h-26zM676 383h26v2h-26zM676 429h26v2h-26zM676 443h26v2h-26zM676 469h26v2h-26zM676 491h26v2h-26zM676 503h26v2h-26zM676 601h26v4h-26zM676 609h26v2h-26zM676 621h26v2h-26zM702 313h26v2h-26zM702 335h26v4h-26zM702 541h26v2h-26zM702 599h26v2h-26zM702 619h26v2h-26zM702 635h26v2h-26zM702 639h26v2h-26zM728 253h26v4h-26zM728 295h26v2h-26zM728 301h26v2h-26zM728 617h26v2h-26zM728 627h26v2h-26zM754 239h26v2h-26zM754 297h26v2h-26zM754 317h26v2h-26zM754 325h26v2h-26zM754 449h26v2h-26zM754 477h26v2h-26zM754 551h26v2h-26zM754 555h26v4h-26zM754 561h26v2h-26zM754 573h26v2h-26zM754 589h26v2h-26zM754 607h26v2h-26zM754 615h26v2h-26zM780 269h26v2h-26zM780 317h26v4h-26zM780 359h26v2h-26zM780 391h26v2h-26zM780 395h26v2h-26zM780 399h26v2h-26zM780 403h26v2h-26zM780 407h26v2h-26zM780 441h26v2h-26zM780 453h26v2h-26zM780 465h26v2h-26zM780 469h26v4h-26zM780 481h26v4h-26zM780 491h26v2h-26z"/><path fill="#440f15" d="M649 323h27v2h-27zM649 329h27v2h-27zM649 349h27v2h-27zM649 383h27v2h-27zM649 387h27v2h-27zM649 395h27v2h-27zM649 411h27v6h-27zM649 419h27v4h-27zM649 429h27v2h-27zM649 435h27v8h-27zM649 453h27v2h-27zM649 457h27v2h-27zM649 513h27v2h-27zM649 517h27v2h-27zM649 531h27v2h-27zM649 607h27v2h-27zM649 641h27v2h-27zM676 235h26v2h-26zM676 359h26v2h-26zM676 367h26v2h-26zM676 381h26v2h-26zM676 389h26v4h-26zM676 399h26v2h-26zM676 407h26v2h-26zM676 413h26v2h-26zM676 421h26v6h-26zM676 471h26v4h-26zM676 493h26v4h-26zM676 521h26v4h-26zM676 589h26v2h-26zM676 595h26v2h-26zM676 611h26v2h-26zM702 251h26v2h-26zM702 285h26v2h-26zM702 307h26v2h-26zM702 329h26v2h-26zM702 333h26v2h-26zM702 341h26v2h-26zM702 345h26v2h-26zM702 361h26v2h-26zM702 409h26v2h-26zM702 481h26v2h-26zM702 511h26v2h-26zM702 539h26v2h-26zM702 543h26v2h-26zM702 547h26v4h-26zM702 589h26v2h-26zM702 593h26v2h-26zM702 597h26v2h-26zM728 229h26v2h-26zM728 235h26v2h-26zM728 619h26v2h-26zM754 237h26v2h-26zM754 241h26v2h-26zM754 301h26v2h-26zM754 311h26v2h-26zM754 315h26v2h-26zM754 319h26v2h-26zM754 327h26v4h-26zM754 407h26v2h-26zM754 483h26v2h-26zM754 641h26v2h-26zM780 243h26v4h-26zM780 267h26v2h-26zM780 283h26v2h-26zM780 291h26v2h-26zM780 301h26v2h-26zM780 311h26v2h-26zM780 355h26v2h-26zM780 401h26v2h-26zM780 425h26v2h-26zM780 457h26v8h-26zM780 479h26v2h-26zM780 601h26v6h-26z"/><path fill="#66141a" d="M649 237h27v2h-27zM649 241h27v2h-27zM649 321h27v2h-27zM649 325h27v4h-27zM649 331h27v2h-27zM649 355h27v2h-27zM649 389h27v4h-27zM649 397h27v4h-27zM649 407h27v2h-27zM649 423h27v6h-27zM649 433h27v2h-27zM649 447h27v6h-27zM649 455h27v2h-27zM649 459h27v2h-27zM649 515h27v2h-27zM649 519h27v2h-27zM649 525h27v6h-27zM649 537h27v2h-27zM649 549h27v2h-27zM649 593h27v2h-27zM676 231h26v4h-26zM676 249h26v2h-26zM676 335h26v2h-26zM676 363h26v2h-26zM676 379h26v2h-26zM676 387h26v2h-26zM676 393h26v2h-26zM676 417h26v2h-26zM676 427h26v2h-26zM676 431h26v8h-26zM676 445h26v2h-26zM676 455h26v2h-26zM676 463h26v2h-26zM676 481h26v2h-26zM676 501h26v2h-26zM676 505h26v6h-26zM676 519h26v2h-26zM676 529h26v2h-26zM676 535h26v2h-26zM676 549h26v4h-26zM676 593h26v2h-26zM676 619h26v2h-26zM676 629h26v2h-26zM702 253h26v2h-26zM702 283h26v2h-26zM702 287h26v2h-26zM702 321h26v2h-26zM702 327h26v2h-26zM702 339h26v2h-26zM702 347h26v2h-26zM702 397h26v2h-26zM702 401h26v2h-26zM702 449h26v2h-26zM702 469h26v2h-26zM702 473h26v2h-26zM702 477h26v2h-26zM702 493h26v4h-26zM702 513h26v2h-26zM702 529h26v4h-26zM702 545h26v2h-26zM702 591h26v2h-26zM702 595h26v2h-26zM702 621h26v2h-26zM702 631h26v4h-26zM702 637h26v2h-26zM728 233h26v2h-26zM728 237h26v2h-26zM728 277h26v2h-26zM728 287h26v4h-26zM754 267h26v2h-26zM754 305h26v2h-26zM754 309h26v2h-26zM754 313h26v2h-26zM754 593h26v4h-26zM780 281h26v2h-26zM780 349h26v6h-26zM780 357h26v2h-26zM780 361h26v6h-26zM780 369h26v4h-26z"/><path fill="#88191f" d="M649 335h27v2h-27zM649 345h27v4h-27zM649 351h27v2h-27zM649 393h27v2h-27zM649 431h27v2h-27zM649 483h27v2h-27zM649 487h27v2h-27zM649 637h27v2h-27zM676 229h26v2h-26zM676 251h26v2h-26zM676 259h26v2h-26zM676 331h26v4h-26zM676 339h26v2h-26zM676 355h26v2h-26zM676 361h26v2h-26zM676 397h26v2h-26zM676 401h26v2h-26zM676 405h26v2h-26zM676 409h26v2h-26zM676 415h26v2h-26zM676 441h26v2h-26zM676 447h26v8h-26zM676 457h26v2h-26zM676 461h26v2h-26zM676 467h26v2h-26zM676 489h26v2h-26zM676 497h26v4h-26zM676 511h26v2h-26zM676 517h26v2h-26zM676 555h26v2h-26zM676 591h26v2h-26zM676 597h26v2h-26zM676 623h26v2h-26zM702 289h26v2h-26zM702 323h26v2h-26zM702 343h26v2h-26zM702 365h26v2h-26zM702 403h26v4h-26zM702 411h26v2h-26zM702 415h26v4h-26zM702 433h26v2h-26zM702 467h26v2h-26zM702 475h26v2h-26zM702 479h26v2h-26zM702 483h26v2h-26zM702 497h26v8h-26zM702 509h26v2h-26zM702 515h26v2h-26zM702 527h26v2h-26zM702 533h26v6h-26zM702 553h26v4h-26zM702 601h26v2h-26zM702 605h26v2h-26zM702 641h26v2h-26zM728 231h26v2h-26zM728 247h26v4h-26zM728 275h26v2h-26zM728 283h26v4h-26zM754 265h26v2h-26zM754 303h26v2h-26zM754 639h26v2h-26zM780 277h26v2h-26zM780 375h26v4h-26zM780 637h26v2h-26z"/><path fill="#a71c23" d="M649 233h27v4h-27zM649 239h27v2h-27zM649 343h27v2h-27zM649 443h27v2h-27zM649 479h27v4h-27zM649 499h27v2h-27zM649 507h27v2h-27zM649 511h27v2h-27zM649 521h27v2h-27zM649 595h27v2h-27zM649 629h27v2h-27zM676 253h26v6h-26zM676 317h26v6h-26zM676 325h26v4h-26zM676 337h26v2h-26zM676 341h26v10h-26zM676 357h26v2h-26zM676 395h26v2h-26zM676 403h26v2h-26zM676 411h26v2h-26zM676 439h26v2h-26zM676 459h26v2h-26zM676 465h26v2h-26zM676 475h26v2h-26zM676 525h26v4h-26zM676 531h26v4h-26zM676 541h26v6h-26zM676 553h26v2h-26zM676 557h26v12h-26zM676 573h26v2h-26zM676 579h26v2h-26zM676 599h26v2h-26zM676 625h26v4h-26zM702 255h26v4h-26zM702 291h26v2h-26zM702 315h26v6h-26zM702 325h26v2h-26zM702 331h26v2h-26zM702 363h26v2h-26zM702 367h26v2h-26zM702 371h26v2h-26zM702 395h26v2h-26zM702 399h26v2h-26zM702 407h26v2h-26zM702 419h26v8h-26zM702 431h26v2h-26zM702 435h26v2h-26zM702 451h26v4h-26zM702 459h26v2h-26zM702 485h26v2h-26zM702 491h26v2h-26zM702 505h26v2h-26zM702 517h26v2h-26zM702 551h26v2h-26zM702 557h26v2h-26zM702 563h26v2h-26zM702 583h26v2h-26zM702 607h26v2h-26zM702 623h26v6h-26zM728 239h26v2h-26zM728 263h26v4h-26zM754 269h26v2h-26zM754 307h26v2h-26zM780 247h26v2h-26zM780 251h26v2h-26zM780 303h26v4h-26z"/><path fill="#c61e26" d="M649 229h27v4h-27zM649 243h27v6h-27zM649 333h27v2h-27zM649 341h27v2h-27zM649 353h27v2h-27zM649 477h27v2h-27zM649 485h27v2h-27zM649 493h27v4h-27zM649 503h27v4h-27zM649 509h27v2h-27zM649 523h27v2h-27zM649 631h27v2h-27zM676 307h26v2h-26zM676 311h26v4h-26zM676 329h26v2h-26zM676 351h26v4h-26zM676 513h26v4h-26zM676 537h26v4h-26zM676 547h26v2h-26zM676 571h26v2h-26zM676 575h26v2h-26zM676 581h26v4h-26zM676 587h26v2h-26zM702 301h26v2h-26zM702 375h26v6h-26zM702 393h26v2h-26zM702 429h26v2h-26zM702 437h26v2h-26zM702 441h26v2h-26zM702 447h26v2h-26zM702 465h26v2h-26zM702 471h26v2h-26zM702 489h26v2h-26zM702 507h26v2h-26zM702 521h26v2h-26zM702 525h26v2h-26zM702 559h26v2h-26zM702 573h26v2h-26zM702 579h26v2h-26zM702 603h26v2h-26zM702 629h26v2h-26zM728 241h26v2h-26zM728 279h26v4h-26zM754 271h26v2h-26zM780 249h26v2h-26zM780 271h26v6h-26zM780 279h26v2h-26zM780 285h26v2h-26zM780 307h26v2h-26zM780 367h26v2h-26zM780 373h26v2h-26zM780 639h26v4h-26z"/><path fill="#e8212b" d="M649 337h27v4h-27zM649 489h27v4h-27zM649 497h27v2h-27zM649 501h27v2h-27zM649 597h27v4h-27zM649 627h27v2h-27zM649 633h27v4h-27zM676 309h26v2h-26zM676 315h26v2h-26zM676 323h26v2h-26zM676 569h26v2h-26zM676 577h26v2h-26zM676 585h26v2h-26zM702 293h26v8h-26zM702 303h26v4h-26zM702 369h26v2h-26zM702 373h26v2h-26zM702 381h26v12h-26zM702 427h26v2h-26zM702 439h26v2h-26zM702 443h26v4h-26zM702 455h26v4h-26zM702 461h26v4h-26zM702 487h26v2h-26zM702 519h26v2h-26zM702 523h26v2h-26zM702 561h26v2h-26zM702 565h26v8h-26zM702 575h26v4h-26zM702 581h26v2h-26zM702 585h26v4h-26zM702 609h26v10h-26zM728 243h26v4h-26zM728 251h26v2h-26zM728 261h26v2h-26zM754 273h26v2h-26zM780 287h26v4h-26z"/></g>
<rect x="649.40" y="212.20" width="78.50" height="17.30" fill="#c5d5e8"/>
<rect x="727.90" y="212.20" width="78.50" height="17.30" fill="#f4845f"/>
<text x="688.6" y="226.2" font-size="15.5" text-anchor="middle">-Dox</text>
<text x="767.1" y="226.2" font-size="15.5" text-anchor="middle" fill="#fff">+Dox</text>
<g shape-rendering="crispEdges"><path fill="#2e8b3c" d="M860 235h26v4h-26zM860 249h26v6h-26zM860 259h26v2h-26z"/><path fill="#297635" d="M860 229h26v6h-26zM860 239h26v4h-26zM860 245h26v4h-26zM860 255h26v4h-26zM939 569h26v2h-26zM939 597h26v2h-26zM939 601h26v2h-26zM939 605h26v2h-26zM939 623h26v2h-26zM939 629h26v2h-26zM939 633h26v6h-26zM991 331h26v2h-26z"/><path fill="#23622e" d="M860 243h26v2h-26zM860 279h26v2h-26zM886 259h26v2h-26zM939 229h26v4h-26zM939 399h26v2h-26zM939 411h26v6h-26zM939 425h26v2h-26zM939 445h26v2h-26zM939 495h26v4h-26zM939 501h26v4h-26zM939 571h26v12h-26zM939 585h26v12h-26zM939 599h26v2h-26zM939 603h26v2h-26zM939 607h26v2h-26zM939 613h26v2h-26zM939 621h26v2h-26zM939 625h26v4h-26zM939 631h26v2h-26zM939 639h26v3h-26zM965 281h26v2h-26zM965 299h26v2h-26zM965 303h26v2h-26zM965 309h26v4h-26zM965 315h26v4h-26zM965 339h26v2h-26zM965 385h26v2h-26zM965 395h26v4h-26zM965 413h26v2h-26zM965 467h26v2h-26zM965 483h26v2h-26zM965 487h26v2h-26zM965 493h26v2h-26zM965 501h26v2h-26zM965 513h26v2h-26zM965 527h26v4h-26zM965 539h26v2h-26zM965 547h26v2h-26zM965 565h26v2h-26zM965 571h26v2h-26zM965 581h26v2h-26zM965 599h26v2h-26zM991 299h26v6h-26zM991 325h26v2h-26zM991 329h26v2h-26zM991 333h26v4h-26zM991 379h26v2h-26zM991 415h26v2h-26zM991 429h26v2h-26zM991 437h26v2h-26zM991 487h26v2h-26zM991 517h26v2h-26zM991 555h26v2h-26zM991 561h26v2h-26z"/><path fill="#1e4d27" d="M860 275h26v4h-26zM886 257h26v2h-26zM939 237h26v2h-26zM939 265h26v4h-26zM939 277h26v8h-26zM939 301h26v2h-26zM939 337h26v8h-26zM939 347h26v8h-26zM939 361h26v18h-26zM939 383h26v2h-26zM939 389h26v8h-26zM939 401h26v2h-26zM939 405h26v6h-26zM939 417h26v8h-26zM939 427h26v4h-26zM939 435h26v10h-26zM939 447h26v6h-26zM939 455h26v2h-26zM939 459h26v16h-26zM939 481h26v2h-26zM939 485h26v2h-26zM939 489h26v6h-26zM939 499h26v2h-26zM939 505h26v6h-26zM939 519h26v2h-26zM939 529h26v12h-26zM939 547h26v22h-26zM939 583h26v2h-26zM939 609h26v4h-26zM939 615h26v6h-26zM965 265h26v2h-26zM965 273h26v2h-26zM965 283h26v2h-26zM965 291h26v6h-26zM965 301h26v2h-26zM965 305h26v4h-26zM965 313h26v2h-26zM965 319h26v6h-26zM965 331h26v8h-26zM965 341h26v4h-26zM965 349h26v18h-26zM965 371h26v2h-26zM965 375h26v2h-26zM965 381h26v4h-26zM965 387h26v8h-26zM965 399h26v6h-26zM965 407h26v6h-26zM965 415h26v2h-26zM965 427h26v18h-26zM965 447h26v4h-26zM965 453h26v4h-26zM965 459h26v8h-26zM965 469h26v14h-26zM965 485h26v2h-26zM965 489h26v4h-26zM965 495h26v2h-26zM965 499h26v2h-26zM965 503h26v10h-26zM965 515h26v4h-26zM965 531h26v2h-26zM965 537h26v2h-26zM965 541h26v6h-26zM965 549h26v16h-26zM965 567h26v4h-26zM965 575h26v6h-26zM965 583h26v6h-26zM965 591h26v2h-26zM965 597h26v2h-26zM965 603h26v2h-26zM965 607h26v6h-26zM965 627h26v10h-26zM991 305h26v4h-26zM991 311h26v2h-26zM991 317h26v8h-26zM991 327h26v2h-26zM991 337h26v4h-26zM991 345h26v6h-26zM991 353h26v2h-26zM991 357h26v16h-26zM991 377h26v2h-26zM991 381h26v4h-26zM991 387h26v2h-26zM991 391h26v4h-26zM991 397h26v18h-26zM991 417h26v12h-26zM991 431h26v6h-26zM991 439h26v2h-26zM991 447h26v14h-26zM991 463h26v6h-26zM991 471h26v16h-26zM991 489h26v18h-26zM991 509h26v8h-26zM991 527h26v12h-26zM991 541h26v4h-26zM991 549h26v6h-26zM991 557h26v4h-26zM991 563h26v6h-26z"/><path fill="#1a3d21" d="M860 267h26v2h-26zM860 289h26v6h-26zM860 297h26v2h-26zM886 249h26v8h-26zM912 245h27v2h-27zM912 253h27v2h-27zM912 257h27v4h-27zM939 233h26v4h-26zM939 239h26v2h-26zM939 263h26v2h-26zM939 271h26v6h-26zM939 285h26v4h-26zM939 293h26v2h-26zM939 297h26v2h-26zM939 307h26v4h-26zM939 319h26v2h-26zM939 331h26v6h-26zM939 345h26v2h-26zM939 355h26v6h-26zM939 379h26v4h-26zM939 385h26v4h-26zM939 397h26v2h-26zM939 403h26v2h-26zM939 431h26v4h-26zM939 453h26v2h-26zM939 457h26v2h-26zM939 475h26v6h-26zM939 483h26v2h-26zM939 487h26v2h-26zM939 511h26v8h-26zM939 521h26v8h-26zM939 541h26v6h-26zM965 267h26v6h-26zM965 275h26v2h-26zM965 279h26v2h-26zM965 287h26v4h-26zM965 297h26v2h-26zM965 325h26v2h-26zM965 329h26v2h-26zM965 345h26v4h-26zM965 367h26v4h-26zM965 373h26v2h-26zM965 377h26v4h-26zM965 405h26v2h-26zM965 417h26v10h-26zM965 445h26v2h-26zM965 451h26v2h-26zM965 457h26v2h-26zM965 497h26v2h-26zM965 519h26v8h-26zM965 533h26v4h-26zM965 573h26v2h-26zM965 589h26v2h-26zM965 593h26v4h-26zM965 601h26v2h-26zM965 605h26v2h-26zM965 613h26v4h-26zM965 619h26v2h-26zM965 623h26v4h-26zM965 637h26v5h-26zM991 287h26v4h-26zM991 295h26v2h-26zM991 309h26v2h-26zM991 313h26v4h-26zM991 341h26v4h-26zM991 351h26v2h-26zM991 355h26v2h-26zM991 373h26v4h-26zM991 385h26v2h-26zM991 389h26v2h-26zM991 395h26v2h-26zM991 441h26v6h-26zM991 461h26v2h-26zM991 469h26v2h-26zM991 507h26v2h-26zM991 519h26v8h-26zM991 539h26v2h-26zM991 545h26v4h-26zM991 569h26v2h-26zM991 573h26v4h-26zM991 581h26v8h-26zM991 605h26v2h-26zM991 611h26v4h-26zM991 617h26v2h-26zM991 621h26v2h-26zM991 635h26v4h-26zM991 641h26v1h-26z"/><path fill="#172e1b" d="M860 263h26v4h-26zM860 269h26v6h-26zM860 281h26v2h-26zM912 247h27v2h-27zM912 251h27v2h-27zM912 255h27v2h-27zM939 243h26v2h-26zM939 269h26v2h-26zM939 289h26v4h-26zM939 299h26v2h-26zM939 303h26v4h-26zM939 311h26v8h-26zM939 321h26v2h-26zM939 325h26v2h-26zM939 329h26v2h-26zM965 263h26v2h-26zM965 277h26v2h-26zM965 285h26v2h-26zM965 327h26v2h-26zM965 617h26v2h-26zM965 621h26v2h-26zM991 263h26v2h-26zM991 285h26v2h-26zM991 291h26v4h-26zM991 571h26v2h-26zM991 577h26v4h-26zM991 589h26v16h-26zM991 607h26v4h-26zM991 615h26v2h-26zM991 619h26v2h-26zM991 623h26v6h-26zM991 631h26v4h-26zM991 639h26v2h-26z"/><path fill="#121c13" d="M860 283h26v6h-26zM860 295h26v2h-26zM860 621h26v2h-26zM886 245h26v4h-26zM912 249h27v2h-27zM939 241h26v2h-26zM939 295h26v2h-26zM939 323h26v2h-26zM939 327h26v2h-26zM965 229h26v2h-26zM965 239h26v4h-26zM991 265h26v6h-26zM991 283h26v2h-26zM991 297h26v2h-26zM991 629h26v2h-26z"/><path fill="#0c0a0a" d="M860 581h26v6h-26zM860 599h26v2h-26zM860 613h26v2h-26zM860 623h26v2h-26zM860 627h26v2h-26zM860 637h26v4h-26zM965 233h26v6h-26zM965 243h26v2h-26zM991 271h26v12h-26z"/><path fill="#270c10" d="M860 569h26v12h-26zM860 589h26v6h-26zM860 597h26v2h-26zM860 601h26v4h-26zM860 609h26v4h-26zM860 615h26v6h-26zM860 625h26v2h-26zM860 629h26v8h-26zM860 641h26v1h-26zM886 229h26v2h-26zM939 247h26v2h-26zM939 259h26v2h-26z"/><path fill="#440f15" d="M860 401h26v2h-26zM860 429h26v4h-26zM860 457h26v2h-26zM860 461h26v2h-26zM860 479h26v2h-26zM860 483h26v2h-26zM860 499h26v2h-26zM860 587h26v2h-26zM860 595h26v2h-26zM860 605h26v4h-26zM886 231h26v2h-26zM886 239h26v2h-26zM886 243h26v2h-26zM939 245h26v2h-26zM939 249h26v6h-26zM965 231h26v2h-26zM991 231h26v4h-26zM991 237h26v2h-26z"/><path fill="#66141a" d="M860 341h26v2h-26zM860 345h26v14h-26zM860 361h26v10h-26zM860 377h26v4h-26zM860 385h26v12h-26zM860 399h26v2h-26zM860 403h26v26h-26zM860 433h26v16h-26zM860 453h26v2h-26zM860 459h26v2h-26zM860 463h26v6h-26zM860 477h26v2h-26zM860 481h26v2h-26zM860 485h26v14h-26zM860 501h26v12h-26zM860 515h26v6h-26zM860 523h26v4h-26zM860 529h26v10h-26zM860 541h26v4h-26zM860 547h26v14h-26zM860 563h26v4h-26zM886 235h26v4h-26zM886 241h26v2h-26zM886 371h26v2h-26zM912 329h27v2h-27zM939 255h26v4h-26zM965 247h26v4h-26zM991 229h26v2h-26zM991 235h26v2h-26zM991 239h26v2h-26zM991 255h26v2h-26z"/><path fill="#88191f" d="M860 261h26v2h-26zM860 309h26v6h-26zM860 343h26v2h-26zM860 359h26v2h-26zM860 371h26v6h-26zM860 381h26v4h-26zM860 397h26v2h-26zM860 449h26v4h-26zM860 455h26v2h-26zM860 469h26v8h-26zM860 513h26v2h-26zM860 521h26v2h-26zM860 527h26v2h-26zM860 539h26v2h-26zM860 545h26v2h-26zM860 561h26v2h-26zM860 567h26v2h-26zM886 233h26v2h-26zM886 261h26v2h-26zM886 287h26v2h-26zM886 291h26v2h-26zM886 319h26v8h-26zM886 331h26v2h-26zM886 337h26v4h-26zM886 361h26v2h-26zM886 369h26v2h-26zM886 373h26v12h-26zM886 411h26v4h-26zM886 419h26v2h-26zM886 423h26v6h-26zM886 431h26v2h-26zM886 439h26v8h-26zM886 495h26v8h-26zM886 507h26v2h-26zM886 511h26v2h-26zM886 551h26v2h-26zM886 555h26v2h-26zM912 229h27v2h-27zM912 261h27v2h-27zM912 317h27v4h-27zM912 327h27v2h-27zM912 335h27v4h-27zM965 245h26v2h-26zM965 251h26v2h-26zM965 255h26v2h-26zM991 241h26v4h-26zM991 257h26v6h-26z"/><path fill="#a71c23" d="M860 299h26v10h-26zM860 315h26v12h-26zM860 333h26v2h-26zM860 337h26v4h-26zM886 265h26v4h-26zM886 281h26v6h-26zM886 289h26v2h-26zM886 299h26v2h-26zM886 305h26v10h-26zM886 317h26v2h-26zM886 327h26v4h-26zM886 333h26v4h-26zM886 341h26v16h-26zM886 359h26v2h-26zM886 363h26v6h-26zM886 385h26v14h-26zM886 403h26v8h-26zM886 415h26v4h-26zM886 421h26v2h-26zM886 429h26v2h-26zM886 433h26v6h-26zM886 447h26v4h-26zM886 455h26v4h-26zM886 461h26v4h-26zM886 467h26v18h-26zM886 487h26v8h-26zM886 503h26v4h-26zM886 509h26v2h-26zM886 513h26v12h-26zM886 527h26v12h-26zM886 541h26v10h-26zM886 553h26v2h-26zM886 557h26v2h-26zM886 561h26v2h-26zM886 565h26v4h-26zM886 571h26v2h-26zM886 597h26v2h-26zM886 601h26v2h-26zM886 621h26v2h-26zM886 639h26v3h-26zM912 233h27v2h-27zM912 239h27v6h-27zM912 301h27v4h-27zM912 315h27v2h-27zM912 323h27v4h-27zM912 331h27v4h-27zM912 339h27v2h-27zM912 387h27v2h-27zM912 399h27v4h-27zM912 421h27v6h-27zM912 429h27v2h-27zM912 435h27v4h-27zM912 443h27v2h-27zM912 447h27v2h-27zM912 457h27v2h-27zM912 469h27v6h-27zM912 479h27v6h-27zM912 493h27v4h-27zM912 499h27v2h-27zM912 505h27v2h-27zM912 509h27v20h-27zM912 535h27v2h-27zM912 541h27v4h-27zM912 567h27v4h-27zM912 575h27v4h-27zM912 583h27v2h-27zM912 615h27v2h-27zM912 625h27v2h-27zM965 253h26v2h-26zM965 257h26v6h-26zM991 253h26v2h-26z"/><path fill="#c61e26" d="M860 327h26v6h-26zM860 335h26v2h-26zM886 273h26v4h-26zM886 293h26v2h-26zM886 301h26v4h-26zM886 315h26v2h-26zM886 357h26v2h-26zM886 399h26v4h-26zM886 451h26v4h-26zM886 459h26v2h-26zM886 465h26v2h-26zM886 485h26v2h-26zM886 525h26v2h-26zM886 539h26v2h-26zM886 559h26v2h-26zM886 563h26v2h-26zM886 569h26v2h-26zM886 573h26v4h-26zM886 581h26v16h-26zM886 599h26v2h-26zM886 603h26v8h-26zM886 617h26v4h-26zM886 623h26v2h-26zM886 627h26v8h-26zM886 637h26v2h-26zM912 231h27v2h-27zM912 277h27v6h-27zM912 291h27v2h-27zM912 299h27v2h-27zM912 305h27v10h-27zM912 321h27v2h-27zM912 341h27v6h-27zM912 349h27v4h-27zM912 355h27v22h-27zM912 379h27v8h-27zM912 389h27v2h-27zM912 393h27v6h-27zM912 403h27v8h-27zM912 413h27v8h-27zM912 427h27v2h-27zM912 431h27v4h-27zM912 439h27v4h-27zM912 445h27v2h-27zM912 449h27v8h-27zM912 459h27v10h-27zM912 475h27v4h-27zM912 485h27v8h-27zM912 497h27v2h-27zM912 501h27v4h-27zM912 507h27v2h-27zM912 529h27v6h-27zM912 537h27v4h-27zM912 545h27v22h-27zM912 571h27v4h-27zM912 579h27v4h-27zM912 585h27v14h-27zM912 601h27v2h-27zM912 609h27v6h-27zM912 617h27v2h-27zM912 627h27v2h-27zM912 635h27v6h-27zM939 261h26v2h-26zM991 249h26v4h-26z"/><path fill="#e8212b" d="M886 263h26v2h-26zM886 269h26v4h-26zM886 277h26v4h-26zM886 295h26v4h-26zM886 577h26v4h-26zM886 611h26v6h-26zM886 625h26v2h-26zM886 635h26v2h-26zM912 235h27v4h-27zM912 263h27v14h-27zM912 283h27v8h-27zM912 293h27v6h-27zM912 347h27v2h-27zM912 353h27v2h-27zM912 377h27v2h-27zM912 391h27v2h-27zM912 411h27v2h-27zM912 599h27v2h-27zM912 603h27v6h-27zM912 619h27v6h-27zM912 629h27v6h-27zM912 641h27v1h-27zM991 245h26v4h-26z"/></g>
<rect x="863.60" y="212.20" width="76.60" height="17.30" fill="#0d95e8"/>
<rect x="940.20" y="212.20" width="76.60" height="17.30" fill="#f4bc00"/>
<text x="901.9" y="226.2" font-size="15.5" text-anchor="middle" fill="#fff">Control</text>
<text x="978.5" y="225.2" font-size="15.5" text-anchor="middle">Cpd1</text>
<g shape-rendering="crispEdges"><path fill="#2e8b3c" d="M1068 231h26v2h-26zM1147 589h26v2h-26zM1147 603h26v2h-26zM1147 609h26v2h-26zM1147 621h26v20h-26zM1173 285h26v4h-26zM1173 295h26v2h-26zM1173 589h26v6h-26zM1173 597h26v2h-26zM1173 611h26v8h-26zM1199 255h26v2h-26zM1199 259h26v2h-26zM1199 279h26v2h-26zM1199 301h26v2h-26z"/><path fill="#297635" d="M1068 229h26v2h-26zM1068 639h26v2h-26zM1147 363h26v2h-26zM1147 563h26v4h-26zM1147 605h26v4h-26zM1147 611h26v4h-26zM1173 281h26v4h-26zM1173 293h26v2h-26zM1173 299h26v6h-26zM1173 321h26v2h-26zM1173 551h26v4h-26zM1173 595h26v2h-26zM1199 257h26v2h-26zM1199 263h26v2h-26zM1199 305h26v2h-26zM1199 595h26v2h-26z"/><path fill="#23622e" d="M1068 233h26v2h-26zM1094 229h26v2h-26zM1094 239h26v2h-26zM1094 245h26v2h-26zM1094 253h26v2h-26zM1147 279h26v2h-26zM1147 291h26v2h-26zM1147 321h26v10h-26zM1147 345h26v2h-26zM1147 351h26v2h-26zM1147 361h26v2h-26zM1147 415h26v2h-26zM1147 519h26v2h-26zM1147 527h26v2h-26zM1147 541h26v6h-26zM1147 551h26v12h-26zM1147 567h26v4h-26zM1147 579h26v2h-26zM1147 585h26v2h-26zM1147 593h26v2h-26zM1147 615h26v2h-26zM1173 255h26v2h-26zM1173 259h26v2h-26zM1173 263h26v2h-26zM1173 271h26v2h-26zM1173 289h26v4h-26zM1173 297h26v2h-26zM1173 305h26v2h-26zM1173 313h26v2h-26zM1173 319h26v2h-26zM1173 405h26v2h-26zM1173 523h26v14h-26zM1173 539h26v2h-26zM1173 545h26v6h-26zM1173 555h26v10h-26zM1173 567h26v2h-26zM1173 571h26v2h-26zM1173 575h26v2h-26zM1173 585h26v4h-26zM1173 599h26v2h-26zM1173 607h26v4h-26zM1173 619h26v4h-26zM1199 261h26v2h-26zM1199 287h26v4h-26zM1199 297h26v2h-26zM1199 303h26v2h-26zM1199 311h26v8h-26zM1199 321h26v2h-26zM1199 349h26v2h-26zM1199 353h26v2h-26zM1199 403h26v2h-26zM1199 575h26v2h-26zM1199 579h26v4h-26zM1199 591h26v2h-26z"/><path fill="#1e4d27" d="M1068 641h26v2h-26zM1094 237h26v2h-26zM1120 235h27v2h-27zM1120 625h27v4h-27zM1147 273h26v6h-26zM1147 281h26v6h-26zM1147 295h26v4h-26zM1147 303h26v2h-26zM1147 315h26v6h-26zM1147 331h26v4h-26zM1147 339h26v6h-26zM1147 347h26v4h-26zM1147 353h26v2h-26zM1147 359h26v2h-26zM1147 365h26v50h-26zM1147 417h26v32h-26zM1147 451h26v68h-26zM1147 521h26v2h-26zM1147 525h26v2h-26zM1147 529h26v2h-26zM1147 533h26v2h-26zM1147 539h26v2h-26zM1147 547h26v4h-26zM1147 571h26v2h-26zM1147 577h26v2h-26zM1147 581h26v4h-26zM1147 587h26v2h-26zM1147 591h26v2h-26zM1147 597h26v4h-26zM1147 617h26v4h-26zM1147 641h26v2h-26zM1173 261h26v2h-26zM1173 269h26v2h-26zM1173 279h26v2h-26zM1173 311h26v2h-26zM1173 315h26v4h-26zM1173 323h26v8h-26zM1173 333h26v10h-26zM1173 351h26v2h-26zM1173 357h26v4h-26zM1173 371h26v2h-26zM1173 375h26v30h-26zM1173 407h26v32h-26zM1173 441h26v8h-26zM1173 451h26v48h-26zM1173 503h26v20h-26zM1173 537h26v2h-26zM1173 541h26v4h-26zM1173 565h26v2h-26zM1173 569h26v2h-26zM1173 573h26v2h-26zM1173 579h26v6h-26zM1173 605h26v2h-26zM1173 635h26v2h-26zM1199 267h26v4h-26zM1199 273h26v6h-26zM1199 281h26v2h-26zM1199 291h26v6h-26zM1199 299h26v2h-26zM1199 307h26v2h-26zM1199 319h26v2h-26zM1199 323h26v8h-26zM1199 333h26v10h-26zM1199 345h26v4h-26zM1199 351h26v2h-26zM1199 355h26v2h-26zM1199 359h26v8h-26zM1199 369h26v28h-26zM1199 399h26v4h-26zM1199 405h26v38h-26zM1199 447h26v62h-26zM1199 511h26v16h-26zM1199 531h26v2h-26zM1199 563h26v2h-26zM1199 569h26v2h-26zM1199 573h26v2h-26zM1199 577h26v2h-26zM1199 583h26v4h-26zM1199 593h26v2h-26z"/><path fill="#1a3d21" d="M1068 235h26v2h-26zM1094 231h26v6h-26zM1094 241h26v4h-26zM1094 247h26v6h-26zM1120 231h27v2h-27zM1120 237h27v4h-27zM1120 243h27v2h-27zM1120 251h27v2h-27zM1147 269h26v4h-26zM1147 287h26v2h-26zM1147 293h26v2h-26zM1147 309h26v6h-26zM1147 335h26v4h-26zM1147 355h26v4h-26zM1147 449h26v2h-26zM1147 523h26v2h-26zM1147 531h26v2h-26zM1147 535h26v4h-26zM1147 573h26v4h-26zM1147 595h26v2h-26zM1147 601h26v2h-26zM1173 273h26v6h-26zM1173 307h26v4h-26zM1173 331h26v2h-26zM1173 343h26v8h-26zM1173 353h26v4h-26zM1173 361h26v10h-26zM1173 373h26v2h-26zM1173 439h26v2h-26zM1173 449h26v2h-26zM1173 499h26v4h-26zM1173 577h26v2h-26zM1173 601h26v4h-26zM1173 629h26v2h-26zM1199 265h26v2h-26zM1199 271h26v2h-26zM1199 285h26v2h-26zM1199 309h26v2h-26zM1199 331h26v2h-26zM1199 343h26v2h-26zM1199 357h26v2h-26zM1199 367h26v2h-26zM1199 397h26v2h-26zM1199 443h26v4h-26zM1199 509h26v2h-26zM1199 527h26v4h-26zM1199 533h26v10h-26zM1199 545h26v18h-26zM1199 565h26v4h-26zM1199 571h26v2h-26zM1199 587h26v2h-26zM1199 601h26v2h-26zM1199 605h26v2h-26z"/><path fill="#172e1b" d="M1068 243h26v2h-26zM1068 249h26v2h-26zM1068 253h26v2h-26zM1120 233h27v2h-27zM1120 241h27v2h-27zM1120 633h27v2h-27zM1147 289h26v2h-26zM1147 299h26v4h-26zM1147 307h26v2h-26zM1173 257h26v2h-26zM1173 265h26v4h-26zM1173 625h26v2h-26zM1199 283h26v2h-26zM1199 543h26v2h-26zM1199 617h26v2h-26zM1199 621h26v2h-26z"/><path fill="#121c13" d="M1068 237h26v4h-26zM1068 245h26v4h-26zM1120 229h27v2h-27zM1120 245h27v2h-27zM1120 253h27v2h-27zM1120 629h27v4h-27zM1120 637h27v2h-27zM1147 255h26v2h-26zM1147 259h26v4h-26zM1147 267h26v2h-26zM1147 305h26v2h-26zM1173 623h26v2h-26zM1199 589h26v2h-26zM1199 599h26v2h-26zM1199 615h26v2h-26z"/><path fill="#0c0a0a" d="M1068 241h26v2h-26zM1068 251h26v2h-26zM1120 247h27v2h-27zM1120 609h27v2h-27zM1120 619h27v2h-27zM1120 623h27v2h-27zM1120 639h27v2h-27zM1147 257h26v2h-26zM1147 263h26v4h-26zM1173 627h26v2h-26zM1173 633h26v2h-26zM1199 597h26v2h-26zM1199 607h26v2h-26zM1199 619h26v2h-26zM1199 633h26v2h-26z"/><path fill="#270c10" d="M1068 633h26v2h-26zM1094 255h26v2h-26zM1094 269h26v2h-26zM1120 249h27v2h-27zM1120 599h27v4h-27zM1120 605h27v4h-27zM1120 613h27v2h-27zM1120 617h27v2h-27zM1120 621h27v2h-27zM1120 641h27v2h-27zM1173 631h26v2h-26zM1173 641h26v2h-26zM1199 241h26v2h-26zM1199 603h26v2h-26zM1199 611h26v4h-26zM1199 629h26v2h-26z"/><path fill="#440f15" d="M1068 287h26v2h-26zM1068 631h26v2h-26zM1068 637h26v2h-26zM1094 261h26v8h-26zM1094 271h26v4h-26zM1094 527h26v2h-26zM1094 533h26v2h-26zM1094 621h26v2h-26zM1120 603h27v2h-27zM1120 615h27v2h-27zM1120 635h27v2h-27zM1199 239h26v2h-26zM1199 253h26v2h-26zM1199 631h26v2h-26zM1199 641h26v2h-26z"/><path fill="#66141a" d="M1068 281h26v2h-26zM1068 285h26v2h-26zM1068 289h26v2h-26zM1068 303h26v2h-26zM1068 607h26v4h-26zM1068 613h26v2h-26zM1068 623h26v2h-26zM1094 257h26v2h-26zM1094 277h26v2h-26zM1094 289h26v2h-26zM1094 341h26v2h-26zM1094 523h26v4h-26zM1094 531h26v2h-26zM1094 539h26v8h-26zM1094 549h26v2h-26zM1094 619h26v2h-26zM1094 629h26v4h-26zM1120 301h27v4h-27zM1120 325h27v2h-27zM1120 523h27v2h-27zM1120 529h27v2h-27zM1120 557h27v6h-27zM1120 597h27v2h-27zM1147 237h26v2h-26zM1173 637h26v4h-26zM1199 237h26v2h-26zM1199 251h26v2h-26zM1199 609h26v2h-26zM1199 639h26v2h-26z"/><path fill="#88191f" d="M1068 265h26v2h-26zM1068 277h26v2h-26zM1068 283h26v2h-26zM1068 293h26v4h-26zM1068 305h26v4h-26zM1068 311h26v16h-26zM1068 333h26v2h-26zM1068 337h26v4h-26zM1068 343h26v6h-26zM1068 361h26v2h-26zM1068 365h26v2h-26zM1068 371h26v20h-26zM1068 393h26v20h-26zM1068 415h26v8h-26zM1068 425h26v4h-26zM1068 431h26v64h-26zM1068 501h26v2h-26zM1068 505h26v14h-26zM1068 527h26v6h-26zM1068 545h26v2h-26zM1068 569h26v2h-26zM1068 587h26v4h-26zM1068 595h26v2h-26zM1068 601h26v4h-26zM1068 635h26v2h-26zM1094 275h26v2h-26zM1094 281h26v2h-26zM1094 287h26v2h-26zM1094 291h26v2h-26zM1094 295h26v2h-26zM1094 303h26v2h-26zM1094 311h26v2h-26zM1094 339h26v2h-26zM1094 345h26v2h-26zM1094 351h26v8h-26zM1094 365h26v8h-26zM1094 375h26v2h-26zM1094 383h26v8h-26zM1094 393h26v36h-26zM1094 431h26v4h-26zM1094 437h26v4h-26zM1094 443h26v36h-26zM1094 483h26v26h-26zM1094 511h26v12h-26zM1094 535h26v4h-26zM1094 547h26v2h-26zM1094 551h26v16h-26zM1094 611h26v6h-26zM1120 275h27v4h-27zM1120 291h27v2h-27zM1120 323h27v2h-27zM1120 327h27v4h-27zM1120 335h27v6h-27zM1120 345h27v2h-27zM1120 349h27v2h-27zM1120 365h27v18h-27zM1120 387h27v14h-27zM1120 403h27v12h-27zM1120 441h27v6h-27zM1120 469h27v6h-27zM1120 477h27v12h-27zM1120 493h27v8h-27zM1120 503h27v14h-27zM1120 521h27v2h-27zM1120 527h27v2h-27zM1120 531h27v14h-27zM1120 549h27v2h-27zM1120 555h27v2h-27zM1120 563h27v2h-27zM1120 567h27v2h-27zM1120 571h27v8h-27zM1120 583h27v2h-27zM1120 611h27v2h-27zM1147 229h26v2h-26zM1147 241h26v2h-26zM1147 247h26v2h-26zM1147 251h26v2h-26zM1173 241h26v2h-26zM1173 245h26v6h-26zM1199 243h26v2h-26zM1199 247h26v2h-26zM1199 625h26v4h-26zM1199 637h26v2h-26z"/><path fill="#a71c23" d="M1068 255h26v2h-26zM1068 267h26v4h-26zM1068 279h26v2h-26zM1068 291h26v2h-26zM1068 299h26v4h-26zM1068 309h26v2h-26zM1068 327h26v6h-26zM1068 335h26v2h-26zM1068 341h26v2h-26zM1068 349h26v12h-26zM1068 363h26v2h-26zM1068 367h26v4h-26zM1068 391h26v2h-26zM1068 413h26v2h-26zM1068 423h26v2h-26zM1068 429h26v2h-26zM1068 495h26v6h-26zM1068 503h26v2h-26zM1068 519h26v8h-26zM1068 535h26v8h-26zM1068 547h26v10h-26zM1068 571h26v2h-26zM1068 575h26v2h-26zM1068 579h26v8h-26zM1068 593h26v2h-26zM1068 597h26v2h-26zM1068 605h26v2h-26zM1068 611h26v2h-26zM1068 619h26v2h-26zM1068 625h26v4h-26zM1094 259h26v2h-26zM1094 283h26v4h-26zM1094 301h26v2h-26zM1094 305h26v2h-26zM1094 313h26v8h-26zM1094 325h26v6h-26zM1094 333h26v6h-26zM1094 343h26v2h-26zM1094 347h26v4h-26zM1094 359h26v4h-26zM1094 373h26v2h-26zM1094 377h26v6h-26zM1094 391h26v2h-26zM1094 429h26v2h-26zM1094 435h26v2h-26zM1094 441h26v2h-26zM1094 479h26v4h-26zM1094 509h26v2h-26zM1094 529h26v2h-26zM1094 567h26v4h-26zM1094 575h26v10h-26zM1094 593h26v4h-26zM1094 633h26v4h-26zM1120 255h27v2h-27zM1120 287h27v4h-27zM1120 297h27v4h-27zM1120 307h27v4h-27zM1120 319h27v4h-27zM1120 331h27v4h-27zM1120 343h27v2h-27zM1120 347h27v2h-27zM1120 351h27v8h-27zM1120 361h27v4h-27zM1120 383h27v4h-27zM1120 401h27v2h-27zM1120 415h27v26h-27zM1120 447h27v22h-27zM1120 475h27v2h-27zM1120 489h27v4h-27zM1120 501h27v2h-27zM1120 517h27v4h-27zM1120 525h27v2h-27zM1120 545h27v4h-27zM1120 551h27v4h-27zM1120 565h27v2h-27zM1120 569h27v2h-27zM1120 579h27v4h-27zM1120 585h27v2h-27zM1120 589h27v4h-27zM1120 595h27v2h-27zM1147 235h26v2h-26zM1147 239h26v2h-26zM1147 249h26v2h-26zM1173 243h26v2h-26zM1173 251h26v4h-26zM1199 231h26v2h-26zM1199 623h26v2h-26zM1199 635h26v2h-26z"/><path fill="#c61e26" d="M1068 257h26v2h-26zM1068 271h26v6h-26zM1068 297h26v2h-26zM1068 533h26v2h-26zM1068 543h26v2h-26zM1068 557h26v8h-26zM1068 567h26v2h-26zM1068 573h26v2h-26zM1068 577h26v2h-26zM1068 599h26v2h-26zM1068 615h26v4h-26zM1068 629h26v2h-26zM1094 279h26v2h-26zM1094 297h26v4h-26zM1094 321h26v4h-26zM1094 331h26v2h-26zM1094 363h26v2h-26zM1094 571h26v4h-26zM1094 585h26v4h-26zM1094 597h26v4h-26zM1094 609h26v2h-26zM1094 623h26v4h-26zM1094 637h26v2h-26zM1120 267h27v2h-27zM1120 273h27v2h-27zM1120 283h27v4h-27zM1120 293h27v4h-27zM1120 305h27v2h-27zM1120 311h27v4h-27zM1120 317h27v2h-27zM1120 341h27v2h-27zM1120 359h27v2h-27zM1120 587h27v2h-27zM1147 253h26v2h-26zM1173 237h26v4h-26zM1199 229h26v2h-26zM1199 245h26v2h-26zM1199 249h26v2h-26z"/><path fill="#e8212b" d="M1068 259h26v6h-26zM1068 565h26v2h-26zM1068 591h26v2h-26zM1068 621h26v2h-26zM1094 293h26v2h-26zM1094 307h26v4h-26zM1094 589h26v4h-26zM1094 601h26v8h-26zM1094 617h26v2h-26zM1094 627h26v2h-26zM1094 639h26v4h-26zM1120 257h27v10h-27zM1120 269h27v4h-27zM1120 279h27v4h-27zM1120 315h27v2h-27zM1120 593h27v2h-27zM1147 231h26v4h-26zM1147 243h26v4h-26zM1173 229h26v8h-26zM1199 233h26v4h-26z"/></g>
<rect x="1068.00" y="212.20" width="78.60" height="17.30" fill="#0d95e8"/>
<rect x="1146.60" y="212.20" width="78.60" height="17.30" fill="#f4bc00"/>
<text x="1107.3" y="226.2" font-size="15.5" text-anchor="middle" fill="#fff">Control</text>
<text x="1185.9" y="225.2" font-size="15.5" text-anchor="middle">Cpd1</text>
<g shape-rendering="crispEdges"><path fill="#00ff00" d="M1368 523h26v11h-26zM1368 544h26v5h-26zM1394 445h26v10h-26zM1394 466h26v5h-26zM1394 586h26v5h-26zM1446 429h27v5h-27zM1473 350h26v6h-26zM1473 382h26v5h-26z"/><path fill="#00db00" d="M1368 513h26v10h-26zM1368 638h26v6h-26zM1394 591h26v16h-26zM1420 340h26v5h-26zM1420 439h26v6h-26zM1473 324h26v5h-26zM1473 345h26v5h-26zM1473 361h26v10h-26zM1473 392h26v6h-26zM1473 408h26v5h-26z"/><path fill="#00b600" d="M1342 486h26v6h-26zM1342 502h26v5h-26zM1342 513h26v5h-26zM1342 534h26v5h-26zM1342 555h26v10h-26zM1342 570h26v16h-26zM1342 602h26v10h-26zM1342 617h26v6h-26zM1368 502h26v11h-26zM1368 549h26v6h-26zM1368 565h26v5h-26zM1368 628h26v10h-26zM1394 418h26v6h-26zM1394 455h26v5h-26zM1394 633h26v5h-26zM1420 288h26v10h-26zM1420 329h26v6h-26zM1420 371h26v6h-26zM1420 492h26v5h-26zM1446 356h27v5h-27zM1446 366h27v5h-27zM1446 418h27v11h-27zM1446 497h27v5h-27zM1473 303h26v6h-26zM1473 314h26v5h-26zM1473 329h26v6h-26zM1473 387h26v5h-26zM1473 403h26v5h-26z"/><path fill="#009200" d="M1342 507h26v6h-26zM1342 612h26v5h-26zM1368 460h26v6h-26zM1368 539h26v5h-26zM1368 555h26v5h-26zM1368 607h26v16h-26zM1394 398h26v15h-26zM1394 460h26v6h-26zM1394 471h26v10h-26zM1394 617h26v16h-26zM1420 298h26v5h-26zM1420 309h26v5h-26zM1420 319h26v5h-26zM1420 335h26v5h-26zM1420 377h26v5h-26zM1420 471h26v5h-26zM1420 486h26v6h-26zM1446 288h27v10h-27zM1446 309h27v15h-27zM1446 361h27v5h-27zM1446 371h27v11h-27zM1446 434h27v5h-27zM1446 539h27v5h-27zM1473 288h26v5h-26zM1473 298h26v5h-26zM1473 309h26v5h-26zM1473 319h26v5h-26zM1473 335h26v10h-26zM1473 356h26v5h-26zM1473 398h26v5h-26z"/><path fill="#006d00" d="M1342 398h26v5h-26zM1342 549h26v6h-26zM1342 586h26v16h-26zM1342 623h26v10h-26zM1368 387h26v5h-26zM1368 434h26v5h-26zM1368 466h26v5h-26zM1368 497h26v5h-26zM1368 534h26v5h-26zM1368 560h26v5h-26zM1368 570h26v5h-26zM1368 623h26v5h-26zM1394 345h26v5h-26zM1394 424h26v5h-26zM1394 439h26v6h-26zM1394 481h26v5h-26zM1394 575h26v6h-26zM1394 607h26v5h-26zM1420 303h26v6h-26zM1420 314h26v5h-26zM1420 324h26v5h-26zM1420 445h26v5h-26zM1420 476h26v5h-26zM1446 298h27v11h-27zM1446 335h27v5h-27zM1446 413h27v5h-27zM1446 460h27v6h-27zM1446 476h27v5h-27zM1446 534h27v5h-27zM1473 293h26v5h-26z"/><path fill="#004900" d="M1342 492h26v5h-26zM1342 539h26v5h-26zM1342 565h26v5h-26zM1368 382h26v5h-26zM1368 392h26v6h-26zM1368 424h26v5h-26zM1368 575h26v6h-26zM1394 350h26v6h-26zM1394 377h26v5h-26zM1394 534h26v5h-26zM1394 560h26v10h-26zM1394 581h26v5h-26zM1394 638h26v6h-26zM1420 345h26v5h-26zM1420 450h26v10h-26zM1420 497h26v5h-26zM1446 471h27v5h-27zM1446 518h27v10h-27zM1446 549h27v6h-27zM1473 434h26v5h-26zM1473 560h26v5h-26z"/><path fill="#002400" d="M1342 392h26v6h-26zM1342 528h26v6h-26zM1342 544h26v5h-26zM1342 633h26v5h-26zM1368 371h26v6h-26zM1368 439h26v6h-26zM1368 492h26v5h-26zM1368 596h26v11h-26zM1394 413h26v5h-26zM1394 429h26v5h-26zM1394 539h26v5h-26zM1394 570h26v5h-26zM1394 612h26v5h-26zM1420 356h26v5h-26zM1446 345h27v11h-27zM1446 387h27v11h-27zM1446 544h27v5h-27zM1473 413h26v11h-26zM1473 481h26v5h-26zM1473 555h26v5h-26zM1473 565h26v10h-26zM1473 581h26v5h-26zM1473 638h26v6h-26z"/><path fill="#000000" d="M1342 371h26v6h-26zM1342 413h26v5h-26zM1342 497h26v5h-26zM1368 471h26v10h-26zM1368 586h26v10h-26zM1394 329h26v16h-26zM1394 356h26v5h-26zM1394 492h26v5h-26zM1394 549h26v11h-26zM1420 350h26v6h-26zM1446 324h27v11h-27zM1446 486h27v11h-27zM1446 507h27v11h-27zM1473 377h26v5h-26zM1473 424h26v5h-26zM1473 439h26v11h-26zM1473 507h26v6h-26zM1473 518h26v5h-26zM1473 575h26v6h-26z"/><path fill="#240000" d="M1342 366h26v5h-26zM1342 518h26v10h-26zM1368 329h26v6h-26zM1420 403h26v5h-26zM1420 481h26v5h-26zM1420 638h26v6h-26zM1446 340h27v5h-27zM1446 450h27v5h-27zM1446 607h27v5h-27zM1473 371h26v6h-26zM1473 528h26v6h-26zM1473 596h26v6h-26z"/><path fill="#490000" d="M1342 288h26v5h-26zM1342 418h26v11h-26zM1342 450h26v10h-26zM1342 638h26v6h-26zM1368 298h26v5h-26zM1368 377h26v5h-26zM1368 398h26v5h-26zM1368 413h26v11h-26zM1368 455h26v5h-26zM1368 486h26v6h-26zM1394 303h26v6h-26zM1394 392h26v6h-26zM1394 434h26v5h-26zM1394 544h26v5h-26zM1420 361h26v5h-26zM1420 460h26v11h-26zM1420 507h26v11h-26zM1420 523h26v5h-26zM1420 596h26v6h-26zM1446 408h27v5h-27zM1446 466h27v5h-27zM1446 528h27v6h-27zM1446 555h27v15h-27zM1473 497h26v5h-26zM1473 523h26v5h-26zM1473 586h26v5h-26z"/><path fill="#6d0000" d="M1342 293h26v5h-26zM1342 356h26v10h-26zM1342 387h26v5h-26zM1342 429h26v10h-26zM1342 460h26v6h-26zM1368 324h26v5h-26zM1368 403h26v5h-26zM1368 429h26v5h-26zM1368 581h26v5h-26zM1394 361h26v16h-26zM1394 382h26v5h-26zM1394 486h26v6h-26zM1420 366h26v5h-26zM1420 382h26v5h-26zM1420 398h26v5h-26zM1420 429h26v5h-26zM1420 502h26v5h-26zM1420 528h26v16h-26zM1420 586h26v10h-26zM1420 602h26v15h-26zM1420 628h26v10h-26zM1446 382h27v5h-27zM1446 481h27v5h-27zM1446 502h27v5h-27zM1446 602h27v5h-27zM1473 502h26v5h-26z"/><path fill="#920000" d="M1342 298h26v5h-26zM1342 324h26v5h-26zM1342 345h26v5h-26zM1342 403h26v5h-26zM1342 445h26v5h-26zM1342 471h26v10h-26zM1368 309h26v15h-26zM1368 335h26v5h-26zM1368 445h26v10h-26zM1394 288h26v10h-26zM1394 309h26v15h-26zM1394 387h26v5h-26zM1394 502h26v5h-26zM1420 408h26v5h-26zM1420 434h26v5h-26zM1420 518h26v5h-26zM1420 565h26v5h-26zM1446 398h27v5h-27zM1446 445h27v5h-27zM1446 455h27v5h-27zM1446 586h27v5h-27zM1446 612h27v5h-27zM1446 623h27v5h-27zM1446 633h27v5h-27zM1473 429h26v5h-26zM1473 450h26v21h-26zM1473 513h26v5h-26zM1473 544h26v5h-26zM1473 591h26v5h-26zM1473 617h26v11h-26z"/><path fill="#b60000" d="M1342 303h26v21h-26zM1342 350h26v6h-26zM1342 466h26v5h-26zM1342 481h26v5h-26zM1368 293h26v5h-26zM1368 303h26v6h-26zM1368 345h26v5h-26zM1368 408h26v5h-26zM1394 298h26v5h-26zM1394 324h26v5h-26zM1394 523h26v11h-26zM1420 549h26v6h-26zM1420 570h26v16h-26zM1420 617h26v11h-26zM1446 403h27v5h-27zM1446 439h27v6h-27zM1446 581h27v5h-27zM1446 591h27v11h-27zM1446 628h27v5h-27zM1473 476h26v5h-26zM1473 549h26v6h-26zM1473 628h26v10h-26z"/><path fill="#db0000" d="M1342 329h26v6h-26zM1342 340h26v5h-26zM1342 377h26v5h-26zM1342 408h26v5h-26zM1342 439h26v6h-26zM1368 288h26v5h-26zM1368 340h26v5h-26zM1368 350h26v21h-26zM1368 481h26v5h-26zM1394 507h26v16h-26zM1420 387h26v5h-26zM1420 413h26v16h-26zM1420 544h26v5h-26zM1420 555h26v5h-26zM1446 570h27v11h-27zM1446 617h27v6h-27zM1446 638h27v6h-27zM1473 471h26v5h-26zM1473 486h26v6h-26zM1473 602h26v15h-26z"/><path fill="#ff0000" d="M1342 335h26v5h-26zM1342 382h26v5h-26zM1394 497h26v5h-26zM1420 392h26v6h-26zM1420 560h26v5h-26zM1473 492h26v5h-26zM1473 534h26v10h-26z"/></g>
<rect x="1341.70" y="270.70" width="78.50" height="17.40" fill="#c5d5e8"/>
<rect x="1420.20" y="270.70" width="78.50" height="17.40" fill="#f4845f"/>
<text x="1381.0" y="284.8" font-size="15.5" text-anchor="middle">-Dox</text>
<text x="1459.5" y="284.8" font-size="15.5" text-anchor="middle" fill="#fff">+Dox</text>
<g shape-rendering="crispEdges"><path fill="#00ff00" d="M1555 499h26v5h-26zM1555 566h26v5h-26zM1607 510h26v11h-26zM1686 288h26v5h-26zM1686 471h26v11h-26z"/><path fill="#00db00" d="M1555 432h26v11h-26zM1555 504h26v6h-26zM1581 543h26v23h-26zM1607 577h26v33h-26zM1607 616h26v5h-26zM1633 304h27v11h-27zM1633 321h27v6h-27zM1633 332h27v6h-27zM1633 443h27v11h-27zM1660 354h26v17h-26zM1660 382h26v6h-26zM1660 393h26v11h-26zM1660 421h26v6h-26zM1660 438h26v5h-26zM1686 293h26v11h-26zM1686 460h26v11h-26z"/><path fill="#00b600" d="M1555 404h26v12h-26zM1555 427h26v5h-26zM1555 632h26v6h-26zM1581 404h26v6h-26zM1581 532h26v6h-26zM1581 610h26v34h-26zM1607 538h26v5h-26zM1607 549h26v6h-26zM1607 610h26v6h-26zM1607 621h26v6h-26zM1633 315h27v6h-27zM1633 327h27v5h-27zM1633 371h27v17h-27zM1633 416h27v5h-27zM1660 315h26v6h-26zM1660 343h26v6h-26zM1660 371h26v11h-26zM1660 432h26v6h-26zM1660 504h26v6h-26zM1660 527h26v5h-26zM1686 454h26v6h-26z"/><path fill="#009200" d="M1555 488h26v11h-26zM1555 571h26v22h-26zM1555 621h26v11h-26zM1581 466h26v5h-26zM1607 388h26v11h-26zM1607 482h26v11h-26zM1607 555h26v22h-26zM1607 627h26v17h-26zM1633 338h27v5h-27zM1633 365h27v6h-27zM1633 388h27v5h-27zM1660 299h26v5h-26zM1660 321h26v6h-26zM1660 332h26v6h-26zM1660 349h26v5h-26zM1686 304h26v6h-26zM1686 338h26v22h-26zM1686 449h26v5h-26zM1686 482h26v11h-26z"/><path fill="#006d00" d="M1555 449h26v11h-26zM1555 593h26v17h-26zM1555 638h26v6h-26zM1581 410h26v11h-26zM1581 521h26v6h-26zM1581 566h26v16h-26zM1581 593h26v12h-26zM1607 493h26v6h-26zM1607 521h26v11h-26zM1633 293h27v6h-27zM1633 343h27v11h-27zM1633 360h27v5h-27zM1633 410h27v6h-27zM1633 521h27v6h-27zM1660 327h26v5h-26zM1660 338h26v5h-26zM1660 388h26v5h-26zM1660 471h26v6h-26zM1660 482h26v6h-26zM1686 310h26v22h-26zM1686 365h26v6h-26zM1686 427h26v5h-26zM1686 443h26v6h-26zM1686 532h26v6h-26z"/><path fill="#004900" d="M1555 443h26v6h-26zM1555 482h26v6h-26zM1555 610h26v11h-26zM1581 399h26v5h-26zM1581 538h26v5h-26zM1581 582h26v11h-26zM1581 605h26v5h-26zM1607 460h26v6h-26zM1607 499h26v11h-26zM1607 543h26v6h-26zM1633 288h27v5h-27zM1633 354h27v6h-27zM1633 393h27v6h-27zM1633 421h27v11h-27zM1633 438h27v5h-27zM1633 510h27v6h-27zM1633 527h27v5h-27zM1660 493h26v6h-26zM1686 332h26v6h-26zM1686 360h26v5h-26zM1686 388h26v5h-26zM1686 510h26v6h-26z"/><path fill="#002400" d="M1555 532h26v6h-26zM1555 549h26v6h-26zM1581 449h26v17h-26zM1581 471h26v6h-26zM1581 527h26v5h-26zM1607 454h26v6h-26zM1660 310h26v5h-26zM1660 477h26v5h-26zM1686 399h26v5h-26zM1686 421h26v6h-26z"/><path fill="#000000" d="M1555 382h26v6h-26zM1555 543h26v6h-26zM1581 421h26v6h-26zM1607 371h26v6h-26zM1660 288h26v11h-26zM1660 404h26v17h-26zM1660 510h26v6h-26zM1660 521h26v6h-26zM1686 493h26v11h-26z"/><path fill="#240000" d="M1555 310h26v5h-26zM1555 416h26v5h-26zM1555 527h26v5h-26zM1555 555h26v11h-26zM1607 449h26v5h-26zM1607 477h26v5h-26zM1607 532h26v6h-26zM1633 299h27v5h-27zM1633 432h27v6h-27zM1660 304h26v6h-26zM1660 466h26v5h-26zM1660 543h26v6h-26zM1686 516h26v11h-26zM1686 538h26v5h-26z"/><path fill="#490000" d="M1555 421h26v6h-26zM1555 538h26v5h-26zM1581 477h26v5h-26zM1607 293h26v11h-26zM1607 321h26v6h-26zM1607 343h26v6h-26zM1607 354h26v17h-26zM1607 377h26v5h-26zM1607 399h26v5h-26zM1607 432h26v6h-26zM1607 443h26v6h-26zM1633 399h27v11h-27zM1633 454h27v6h-27zM1633 493h27v6h-27zM1633 593h27v17h-27zM1633 638h27v6h-27zM1660 427h26v5h-26zM1660 488h26v5h-26zM1660 499h26v5h-26zM1660 516h26v5h-26zM1686 371h26v6h-26zM1686 382h26v6h-26zM1686 393h26v6h-26zM1686 543h26v6h-26z"/><path fill="#6d0000" d="M1555 288h26v16h-26zM1555 343h26v6h-26zM1555 377h26v5h-26zM1555 460h26v6h-26zM1555 471h26v6h-26zM1555 516h26v5h-26zM1581 288h26v5h-26zM1581 427h26v5h-26zM1581 443h26v6h-26zM1581 499h26v5h-26zM1581 510h26v11h-26zM1607 288h26v5h-26zM1607 304h26v6h-26zM1607 315h26v6h-26zM1607 466h26v11h-26zM1633 460h27v6h-27zM1633 516h27v5h-27zM1633 549h27v6h-27zM1633 588h27v5h-27zM1633 627h27v11h-27zM1660 538h26v5h-26zM1660 560h26v11h-26zM1660 605h26v16h-26zM1686 377h26v5h-26zM1686 416h26v5h-26zM1686 432h26v11h-26zM1686 504h26v6h-26z"/><path fill="#920000" d="M1555 304h26v6h-26zM1555 354h26v11h-26zM1555 477h26v5h-26zM1581 304h26v6h-26zM1581 315h26v28h-26zM1581 371h26v11h-26zM1581 438h26v5h-26zM1581 488h26v5h-26zM1581 504h26v6h-26zM1607 327h26v16h-26zM1607 382h26v6h-26zM1607 404h26v6h-26zM1633 466h27v27h-27zM1633 555h27v11h-27zM1633 571h27v17h-27zM1633 616h27v5h-27zM1660 532h26v6h-26zM1660 571h26v11h-26zM1660 588h26v5h-26zM1660 621h26v23h-26zM1686 410h26v6h-26zM1686 549h26v6h-26zM1686 566h26v16h-26zM1686 593h26v6h-26zM1686 610h26v6h-26zM1686 621h26v6h-26z"/><path fill="#b60000" d="M1555 315h26v23h-26zM1555 349h26v5h-26zM1555 365h26v12h-26zM1555 388h26v5h-26zM1555 399h26v5h-26zM1555 466h26v5h-26zM1581 293h26v11h-26zM1581 310h26v5h-26zM1581 343h26v28h-26zM1581 382h26v6h-26zM1581 393h26v6h-26zM1581 432h26v6h-26zM1607 310h26v5h-26zM1607 349h26v5h-26zM1607 410h26v6h-26zM1607 438h26v5h-26zM1633 499h27v11h-27zM1633 566h27v5h-27zM1633 610h27v6h-27zM1633 621h27v6h-27zM1660 460h26v6h-26zM1660 549h26v11h-26zM1660 582h26v6h-26zM1660 593h26v6h-26zM1686 404h26v6h-26zM1686 555h26v11h-26zM1686 582h26v11h-26zM1686 605h26v5h-26zM1686 616h26v5h-26zM1686 627h26v17h-26z"/><path fill="#db0000" d="M1555 338h26v5h-26zM1555 393h26v6h-26zM1555 510h26v6h-26zM1581 388h26v5h-26zM1581 482h26v6h-26zM1607 416h26v16h-26zM1633 532h27v17h-27zM1660 599h26v6h-26zM1686 599h26v6h-26z"/><path fill="#ff0000" d="M1555 521h26v6h-26zM1581 493h26v6h-26zM1660 443h26v17h-26zM1686 527h26v5h-26z"/></g>
<rect x="1554.60" y="270.70" width="78.70" height="17.40" fill="#0d95e8"/>
<rect x="1633.30" y="270.70" width="78.70" height="17.40" fill="#f4bc00"/>
<text x="1593.9" y="284.8" font-size="15.5" text-anchor="middle" fill="#fff">Control</text>
<text x="1672.7" y="283.8" font-size="15.5" text-anchor="middle">Cpd1</text>
<g shape-rendering="crispEdges"><path fill="#00ff00" d="M1818 414h26v16h-26zM1818 463h26v5h-26zM1818 523h26v6h-26zM1818 583h26v6h-26zM1818 605h26v39h-26z"/><path fill="#00db00" d="M1765 545h26v11h-26zM1791 534h27v5h-27zM1818 408h26v6h-26zM1818 430h26v33h-26zM1818 468h26v17h-26zM1818 496h26v5h-26zM1818 507h26v16h-26zM1818 529h26v5h-26zM1818 550h26v17h-26zM1818 589h26v11h-26zM1844 288h26v11h-26zM1896 567h26v5h-26z"/><path fill="#00b600" d="M1765 556h26v5h-26zM1791 446h27v17h-27zM1818 386h26v22h-26zM1818 485h26v5h-26zM1818 501h26v6h-26zM1818 567h26v16h-26zM1818 600h26v5h-26zM1844 348h26v5h-26zM1896 304h26v6h-26zM1896 315h26v5h-26zM1896 337h26v16h-26zM1896 550h26v6h-26zM1896 561h26v6h-26z"/><path fill="#009200" d="M1765 381h26v5h-26zM1765 490h26v6h-26zM1765 501h26v6h-26zM1765 512h26v6h-26zM1765 523h26v6h-26zM1765 534h26v11h-26zM1791 430h27v11h-27zM1791 485h27v11h-27zM1791 501h27v6h-27zM1791 594h27v11h-27zM1818 490h26v6h-26zM1818 534h26v5h-26zM1818 545h26v5h-26zM1844 299h26v16h-26zM1844 320h26v17h-26zM1844 353h26v6h-26zM1870 299h26v5h-26zM1870 310h26v38h-26zM1870 353h26v22h-26zM1896 293h26v6h-26zM1896 310h26v5h-26zM1896 320h26v17h-26zM1896 359h26v5h-26zM1896 370h26v11h-26zM1896 408h26v6h-26zM1896 556h26v5h-26zM1896 572h26v11h-26zM1896 627h26v6h-26z"/><path fill="#006d00" d="M1765 468h26v11h-26zM1765 496h26v5h-26zM1765 507h26v5h-26zM1765 518h26v5h-26zM1791 392h27v11h-27zM1791 441h27v5h-27zM1791 496h27v5h-27zM1791 507h27v16h-27zM1791 539h27v6h-27zM1844 315h26v5h-26zM1844 337h26v11h-26zM1844 359h26v5h-26zM1844 375h26v6h-26zM1870 304h26v6h-26zM1870 348h26v5h-26zM1870 550h26v6h-26zM1870 578h26v5h-26zM1896 288h26v5h-26zM1896 353h26v6h-26zM1896 364h26v6h-26zM1896 386h26v6h-26zM1896 403h26v5h-26z"/><path fill="#004900" d="M1765 419h26v11h-26zM1765 479h26v11h-26zM1791 386h27v6h-27zM1791 414h27v5h-27zM1791 479h27v6h-27zM1818 364h26v17h-26zM1818 539h26v6h-26zM1844 364h26v11h-26zM1844 381h26v5h-26zM1870 293h26v6h-26zM1870 375h26v6h-26zM1870 572h26v6h-26zM1870 605h26v11h-26zM1896 392h26v5h-26zM1896 583h26v6h-26zM1896 600h26v5h-26zM1896 622h26v5h-26z"/><path fill="#002400" d="M1765 386h26v6h-26zM1765 435h26v11h-26zM1765 463h26v5h-26zM1765 529h26v5h-26zM1791 381h27v5h-27zM1791 403h27v5h-27zM1791 419h27v11h-27zM1791 474h27v5h-27zM1791 529h27v5h-27zM1791 633h27v11h-27zM1818 381h26v5h-26zM1870 288h26v5h-26zM1870 589h26v5h-26zM1896 299h26v5h-26zM1896 381h26v5h-26zM1896 397h26v6h-26zM1896 589h26v5h-26zM1896 611h26v11h-26zM1896 633h26v5h-26z"/><path fill="#000000" d="M1765 392h26v5h-26zM1765 430h26v5h-26zM1765 446h26v17h-26zM1791 408h27v6h-27zM1791 463h27v11h-27zM1791 523h27v6h-27zM1818 342h26v6h-26zM1844 572h26v17h-26z"/><path fill="#240000" d="M1765 397h26v11h-26zM1765 414h26v5h-26zM1765 616h26v6h-26zM1791 611h27v5h-27zM1791 622h27v5h-27zM1818 299h26v5h-26zM1818 331h26v11h-26zM1818 348h26v5h-26zM1818 359h26v5h-26zM1844 589h26v5h-26zM1870 556h26v5h-26zM1870 583h26v6h-26zM1870 594h26v6h-26zM1896 414h26v16h-26zM1896 441h26v5h-26zM1896 463h26v11h-26zM1896 605h26v6h-26z"/><path fill="#490000" d="M1765 408h26v6h-26zM1765 605h26v6h-26zM1765 622h26v16h-26zM1791 288h27v5h-27zM1791 556h27v11h-27zM1791 605h27v6h-27zM1791 616h27v6h-27zM1844 539h26v6h-26zM1844 567h26v5h-26zM1870 408h26v6h-26zM1870 529h26v5h-26zM1870 561h26v11h-26zM1870 600h26v5h-26zM1870 616h26v6h-26zM1870 627h26v11h-26zM1896 430h26v11h-26zM1896 446h26v6h-26zM1896 457h26v6h-26zM1896 474h26v11h-26zM1896 534h26v11h-26zM1896 594h26v6h-26zM1896 638h26v6h-26z"/><path fill="#6d0000" d="M1765 364h26v6h-26zM1765 611h26v5h-26zM1791 293h27v11h-27zM1791 326h27v5h-27zM1791 359h27v5h-27zM1791 545h27v11h-27zM1791 627h27v6h-27zM1818 310h26v5h-26zM1818 353h26v6h-26zM1844 534h26v5h-26zM1844 556h26v5h-26zM1870 403h26v5h-26zM1870 452h26v49h-26zM1870 539h26v6h-26zM1870 622h26v5h-26zM1870 638h26v6h-26zM1896 452h26v5h-26zM1896 490h26v6h-26zM1896 512h26v17h-26z"/><path fill="#920000" d="M1765 288h26v11h-26zM1765 304h26v6h-26zM1765 320h26v6h-26zM1765 331h26v6h-26zM1765 353h26v6h-26zM1765 561h26v6h-26zM1765 583h26v17h-26zM1765 638h26v6h-26zM1791 304h27v22h-27zM1791 567h27v16h-27zM1818 304h26v6h-26zM1818 315h26v11h-26zM1844 419h26v16h-26zM1844 485h26v5h-26zM1844 496h26v5h-26zM1844 518h26v5h-26zM1844 561h26v6h-26zM1844 605h26v22h-26zM1844 633h26v11h-26zM1870 397h26v6h-26zM1870 414h26v5h-26zM1870 435h26v6h-26zM1870 501h26v11h-26zM1870 523h26v6h-26zM1870 534h26v5h-26zM1870 545h26v5h-26zM1896 496h26v16h-26zM1896 529h26v5h-26zM1896 545h26v5h-26z"/><path fill="#b60000" d="M1765 310h26v10h-26zM1765 326h26v5h-26zM1765 337h26v16h-26zM1765 375h26v6h-26zM1765 567h26v5h-26zM1765 600h26v5h-26zM1791 337h27v22h-27zM1791 583h27v6h-27zM1818 288h26v11h-26zM1818 326h26v5h-26zM1844 386h26v6h-26zM1844 414h26v5h-26zM1844 435h26v33h-26zM1844 474h26v11h-26zM1844 490h26v6h-26zM1844 501h26v17h-26zM1844 523h26v11h-26zM1844 545h26v11h-26zM1844 594h26v11h-26zM1844 627h26v6h-26zM1870 392h26v5h-26zM1870 419h26v16h-26zM1870 441h26v11h-26zM1870 512h26v11h-26zM1896 485h26v5h-26z"/><path fill="#db0000" d="M1765 299h26v5h-26zM1765 359h26v5h-26zM1765 370h26v5h-26zM1791 331h27v6h-27zM1791 370h27v11h-27zM1791 589h27v5h-27zM1844 392h26v22h-26zM1844 468h26v6h-26zM1870 386h26v6h-26z"/><path fill="#ff0000" d="M1765 572h26v11h-26zM1791 364h27v6h-27zM1870 381h26v5h-26z"/></g>
<rect x="1765.00" y="270.70" width="78.75" height="17.40" fill="#0d95e8"/>
<rect x="1843.75" y="270.70" width="78.75" height="17.40" fill="#f4bc00"/>
<text x="1804.4" y="284.8" font-size="15.5" text-anchor="middle" fill="#fff">Control</text>
<text x="1883.1" y="283.8" font-size="15.5" text-anchor="middle">Cpd1</text>
<rect x="332.50" y="308.30" width="26.70" height="2.80" fill="#fff"/>
<text x="11.4" y="670.6" font-size="19.5" textLength="159.6" lengthAdjust="spacingAndGlyphs">FWER p-val &lt;0.05</text>
<text x="218.0" y="670.6" font-size="19.5" textLength="159.5" lengthAdjust="spacingAndGlyphs">FWER p-val &lt;0.05</text>
<text x="434.0" y="670.7" font-size="19.5" textLength="160.0" lengthAdjust="spacingAndGlyphs">FWER p-val &lt;0.05</text>
<text x="650.0" y="669.6" font-size="19.5" textLength="159.0" lengthAdjust="spacingAndGlyphs">FWER p-val &lt;0.05</text>
<text x="852.0" y="669.6" font-size="19.5" textLength="159.8" lengthAdjust="spacingAndGlyphs">FWER p-val &lt;0.05</text>
<text x="1075.6" y="669.6" font-size="19.5" textLength="159.6" lengthAdjust="spacingAndGlyphs">FWER p-val &lt;0.05</text>
<text x="1347.4" y="669.5" font-size="19.5" textLength="160.2" lengthAdjust="spacingAndGlyphs">FWER p-val &lt;0.05</text>
<text x="1561.0" y="669.5" font-size="19.5" textLength="160.0" lengthAdjust="spacingAndGlyphs">FWER p-val &gt;0.05</text>
<text x="1772.0" y="669.5" font-size="19.5" textLength="159.0" lengthAdjust="spacingAndGlyphs">FWER p-val &gt;0.05</text>
<g shape-rendering="crispEdges"><rect x="255.00" y="681.0" width="7.03" height="22.6" fill="#2e8b3c"/><rect x="261.53" y="681.0" width="7.03" height="22.6" fill="#297936"/><rect x="268.06" y="681.0" width="7.03" height="22.6" fill="#256730"/><rect x="274.59" y="681.0" width="7.03" height="22.6" fill="#20552a"/><rect x="281.12" y="681.0" width="7.03" height="22.6" fill="#1c4524"/><rect x="287.65" y="681.0" width="7.03" height="22.6" fill="#19371f"/><rect x="294.18" y="681.0" width="7.03" height="22.6" fill="#162a1a"/><rect x="300.71" y="681.0" width="7.03" height="22.6" fill="#111a12"/><rect x="307.24" y="681.0" width="7.03" height="22.6" fill="#0c0a0a"/><rect x="313.76" y="681.0" width="7.03" height="22.6" fill="#240c0f"/><rect x="320.29" y="681.0" width="7.03" height="22.6" fill="#3c0e14"/><rect x="326.82" y="681.0" width="7.03" height="22.6" fill="#5a1218"/><rect x="333.35" y="681.0" width="7.03" height="22.6" fill="#77171d"/><rect x="339.88" y="681.0" width="7.03" height="22.6" fill="#941a21"/><rect x="346.41" y="681.0" width="7.03" height="22.6" fill="#af1c24"/><rect x="352.94" y="681.0" width="7.03" height="22.6" fill="#ca1e27"/><rect x="359.47" y="681.0" width="7.03" height="22.6" fill="#e8212b"/></g>
<text x="227.0" y="702.5" font-size="23.5" font-family="'DejaVu Sans',sans-serif">-2</text>
<text x="371.0" y="702.5" font-size="23.5" font-family="'DejaVu Sans',sans-serif">2</text>
<g shape-rendering="crispEdges"><rect x="890.70" y="683.8" width="7.04" height="24.0" fill="#2e8b3c"/><rect x="897.24" y="683.8" width="7.04" height="24.0" fill="#297936"/><rect x="903.77" y="683.8" width="7.04" height="24.0" fill="#256730"/><rect x="910.31" y="683.8" width="7.04" height="24.0" fill="#20552a"/><rect x="916.84" y="683.8" width="7.04" height="24.0" fill="#1c4524"/><rect x="923.38" y="683.8" width="7.04" height="24.0" fill="#19371f"/><rect x="929.91" y="683.8" width="7.04" height="24.0" fill="#162a1a"/><rect x="936.45" y="683.8" width="7.04" height="24.0" fill="#111a12"/><rect x="942.98" y="683.8" width="7.04" height="24.0" fill="#0c0a0a"/><rect x="949.52" y="683.8" width="7.04" height="24.0" fill="#240c0f"/><rect x="956.05" y="683.8" width="7.04" height="24.0" fill="#3c0e14"/><rect x="962.59" y="683.8" width="7.04" height="24.0" fill="#5a1218"/><rect x="969.12" y="683.8" width="7.04" height="24.0" fill="#77171d"/><rect x="975.66" y="683.8" width="7.04" height="24.0" fill="#941a21"/><rect x="982.19" y="683.8" width="7.04" height="24.0" fill="#af1c24"/><rect x="988.73" y="683.8" width="7.04" height="24.0" fill="#ca1e27"/><rect x="995.26" y="683.8" width="7.04" height="24.0" fill="#e8212b"/></g>
<text x="861.5" y="706.5" font-size="23.5" font-family="'DejaVu Sans',sans-serif">-2</text>
<text x="1007.0" y="706.5" font-size="23.5" font-family="'DejaVu Sans',sans-serif">2</text>
<g shape-rendering="crispEdges"><rect x="1583.00" y="681.0" width="7.06" height="26.6" fill="#00ff00"/><rect x="1589.56" y="681.0" width="7.06" height="26.6" fill="#00df00"/><rect x="1596.13" y="681.0" width="7.06" height="26.6" fill="#00bf00"/><rect x="1602.69" y="681.0" width="7.06" height="26.6" fill="#009f00"/><rect x="1609.26" y="681.0" width="7.06" height="26.6" fill="#008000"/><rect x="1615.82" y="681.0" width="7.06" height="26.6" fill="#006000"/><rect x="1622.39" y="681.0" width="7.06" height="26.6" fill="#004000"/><rect x="1628.95" y="681.0" width="7.06" height="26.6" fill="#002000"/><rect x="1635.52" y="681.0" width="7.06" height="26.6" fill="#000000"/><rect x="1642.08" y="681.0" width="7.06" height="26.6" fill="#200000"/><rect x="1648.65" y="681.0" width="7.06" height="26.6" fill="#400000"/><rect x="1655.21" y="681.0" width="7.06" height="26.6" fill="#600000"/><rect x="1661.78" y="681.0" width="7.06" height="26.6" fill="#800000"/><rect x="1668.34" y="681.0" width="7.06" height="26.6" fill="#9f0000"/><rect x="1674.91" y="681.0" width="7.06" height="26.6" fill="#bf0000"/><rect x="1681.47" y="681.0" width="7.06" height="26.6" fill="#df0000"/><rect x="1688.04" y="681.0" width="7.06" height="26.6" fill="#ff0000"/></g>
<text x="1553.5" y="705.5" font-size="23.5" font-family="'DejaVu Sans',sans-serif">-2</text>
<text x="1698.5" y="705.5" font-size="23.5" font-family="'DejaVu Sans',sans-serif">2</text>
<path d="M56.2 211.9V187.5H82.4V211.9M30.1 211.9V178.6H69.3V187.5M108.6 211.9V188.2H134.8V211.9M121.7 188.2V185.7H160.9V211.9M49.7 178.6V159.0H141.3V185.7" stroke="#000" stroke-width="1.5" fill="none" stroke-linejoin="miter"/>
<path d="M267.2 211.9V200.0H293.4V211.9M241.1 211.9V195.7H280.3V200.0M345.8 211.9V202.5H371.9V211.9M319.6 211.9V198.6H358.8V202.5M260.7 195.7V159.0H339.2V198.6" stroke="#000" stroke-width="1.5" fill="none" stroke-linejoin="miter"/>
<path d="M475.6 211.9V200.7H501.7V211.9M449.5 211.9V196.0H488.7V200.7M527.9 211.9V200.0H554.0V211.9M540.9 200.0V195.4H580.1V211.9M469.1 196.0V159.0H560.5V195.4" stroke="#000" stroke-width="1.5" fill="none" stroke-linejoin="miter"/>
<path d="M688.6 212.7V177.9H714.8V212.7M662.5 212.7V169.6H701.7V177.9M741.0 212.7V177.9H767.1V212.7M754.1 177.9V175.0H793.3V212.7M682.1 169.6V159.6H773.7V175.0" stroke="#000" stroke-width="1.5" fill="none" stroke-linejoin="miter"/>
<path d="M901.9 212.7V195.0H927.4V212.7M876.4 212.7V191.4H914.7V195.0M978.5 212.7V202.9H1004.0V212.7M953.0 212.7V194.6H991.3V202.9M895.5 191.4V159.3H972.1V194.6" stroke="#000" stroke-width="1.5" fill="none" stroke-linejoin="miter"/>
<path d="M1107.3 212.7V197.9H1133.5V212.7M1081.1 212.7V193.6H1120.4V197.9M1185.9 212.7V197.0H1212.1V212.7M1159.7 212.7V192.9H1199.0V197.0M1100.8 193.6V160.0H1179.3V192.9" stroke="#000" stroke-width="1.5" fill="none" stroke-linejoin="miter"/>
<path d="M1354.8 271.2V226.0H1381.0V271.2M1367.9 226.0V204.0H1407.1V271.2M1433.3 271.2V223.8H1459.5V271.2M1446.4 223.8V211.7H1485.6V271.2M1387.5 204.0V179.5H1466.0V211.7" stroke="#000" stroke-width="1.9" fill="none" stroke-linejoin="miter"/>
<path d="M1593.9 271.2V231.5H1620.2V271.2M1567.7 271.2V224.5H1607.1V231.5M1646.4 271.2V238.0H1672.7V271.2M1659.5 238.0V222.3H1698.9V271.2M1587.4 224.5V179.5H1679.2V222.3" stroke="#000" stroke-width="1.9" fill="none" stroke-linejoin="miter"/>
<path d="M1778.1 271.2V249.0H1804.4V271.2M1791.2 249.0V240.0H1830.6V271.2M1856.9 271.2V253.8H1883.1V271.2M1870.0 253.8V249.0H1909.4V271.2M1810.9 240.0V179.5H1889.7V249.0" stroke="#000" stroke-width="1.9" fill="none" stroke-linejoin="miter"/>
<path d="M174.5 556.6H178.5V562.2H174.5M174.5 314.4H176.4V319.9H174.5M174.5 408.0H175.0V413.5H174.5M174.5 474.0H176.0V479.6H174.5M174.5 358.4H177.6V363.9H174.5M174.5 633.7H179.9V639.2H174.5M174.5 303.3H177.3V308.8H174.5M174.5 341.9H177.2V347.4H174.5M174.5 441.0H176.4V446.5H174.5M174.5 496.1H176.9V501.6H174.5M174.5 540.1H181.9V545.6H174.5M174.5 275.8H175.8V281.3H174.5M174.5 231.8H176.0V237.3H174.5M174.5 529.1H178.5V534.6H174.5M174.5 430.0H178.3V435.5H174.5M174.5 330.9H179.1V336.4H174.5M174.5 600.7H176.6V606.2H174.5M174.5 584.2H181.1V589.7H174.5M174.5 452.0H176.2V457.5H174.5M174.5 611.7H178.1V617.2H174.5M174.5 380.4H176.8V385.9H174.5M174.5 485.1H175.4V490.6H174.5M174.5 573.2H176.6V578.7H174.5M174.5 419.0H178.9V424.5H174.5M174.5 242.8H177.6V248.3H174.5M174.5 512.6H175.1V518.1H174.5M174.5 463.0H175.8V468.5H174.5M175.1 515.3H176.6V523.6H174.5M174.5 270.3H176.8V278.6H175.8M174.5 292.3H180.1V297.8H174.5M174.5 622.7H175.9V628.2H174.5M174.5 391.4H177.1V397.0H174.5M176.0 476.8H177.1V487.8H175.4M174.5 259.3H175.3V264.8H174.5M174.5 253.8H176.8V262.0H175.3M174.5 369.4H179.1V374.9H174.5M176.8 257.9H179.4V274.4H176.8M174.5 507.1H177.4V519.5H176.6M176.4 443.8H178.7V454.8H176.2M174.5 402.5H175.5V410.7H175.0M177.3 306.1H180.3V317.1H176.4M174.5 595.2H177.9V603.5H176.6M176.9 498.8H179.6V513.3H177.4M177.1 394.2H177.5V406.6H175.5M174.5 567.7H177.4V575.9H176.6M175.8 465.8H178.2V482.3H177.1M176.8 383.2H178.6V400.4H177.5M177.2 344.6H180.1V352.9H174.5M177.6 361.2H181.4V372.2H179.1M177.9 599.3H178.6V614.5H178.1M174.5 325.4H180.6V333.6H179.1M176.0 234.5H180.7V245.5H177.6M178.6 606.9H178.9V625.5H175.9M178.3 432.7H181.0V449.3H178.7M178.6 391.8H180.6V421.7H178.9M178.5 559.4H179.5V571.8H177.4M180.6 329.5H181.6V348.8H180.1M179.4 266.2H179.7V286.8H174.5M174.5 551.1H180.0V565.6H179.5M178.9 616.2H180.9V636.5H179.9M179.6 506.1H181.1V531.9H178.5M179.7 276.5H180.3V295.1H180.1M180.7 240.0H181.7V285.8H180.3M181.0 441.0H183.5V474.0H178.2M181.1 586.9H181.3V626.3H180.9M181.4 366.7H182.4V406.8H180.6M181.7 262.9H182.8V311.6H180.3M181.9 542.9H184.1V558.4H180.0M182.8 287.3H182.9V339.1H181.6M182.9 313.2H183.1V386.7H182.4M181.1 519.0H187.8V550.6H184.1M183.1 350.0H184.4V457.5H183.5M184.4 403.7H187.8V534.8H187.8M187.8 469.3H188.5V606.6H181.3M174.5 231.1H175.2V235.2H174.5M174.5 247.6H176.2V251.7H174.5M176.2 249.6H176.6V255.8H174.5M175.2 233.1H179.5V239.3H174.5M176.6 252.7H178.6V259.9H174.5M179.5 236.2H185.0V243.4H174.5M185.0 239.8H192.5V256.3H178.6M174.5 331.2H174.7V336.8H174.5M174.5 303.8H175.4V309.2H174.5M174.5 298.2H177.4V306.5H175.4M177.4 302.4H187.4V314.8H174.5M174.5 320.2H177.5V325.8H174.5M177.5 323.0H178.7V334.0H174.7M178.7 328.5H186.5V342.2H174.5M187.4 308.6H188.1V335.4H186.5M174.5 292.8H188.5V322.0H188.1M174.5 624.1H177.5V629.2H174.5M174.5 618.9H178.3V626.6H177.5M174.5 608.7H177.4V613.8H174.5M174.5 583.1H176.3V588.2H174.5M174.5 577.9H176.7V585.6H176.3M178.3 622.8H179.3V634.3H174.5M177.4 611.2H181.8V628.5H179.3M181.8 619.9H182.6V639.4H174.5M174.5 603.6H183.7V629.7H182.6M174.5 562.6H174.5V567.7H174.5M174.5 565.1H178.5V572.8H174.5M174.5 598.4H185.9V616.6H183.7M176.7 581.8H179.0V593.3H174.5M179.0 587.5H193.2V607.5H185.9M178.5 569.0H196.5V597.5H193.2M174.5 408.9H179.3V415.4H174.5M174.5 434.6H177.1V441.1H174.5M174.5 396.1H177.7V402.5H174.5M174.5 428.2H178.8V437.9H177.1M174.5 453.9H175.3V460.4H174.5M174.5 383.2H174.9V389.6H174.5M175.3 457.1H179.0V466.8H174.5M174.5 421.8H180.9V433.0H178.8M174.9 386.4H179.5V399.3H177.7M180.9 427.4H181.1V447.5H174.5M181.1 437.5H182.8V462.0H179.0M179.3 412.1H186.3V449.7H182.8M179.5 392.9H188.5V430.9H186.3M201.5 282.4H220.6V603.0H203.1M195.2 240.4H201.5V324.8H190.6M188.0 230.9H195.2V249.5H190.0M184.0 311.9H190.6V335.7H186.0M198.0 572.8H203.1V631.8H192.0M186.0 530.9H198.0V610.3H190.0M180.0 385.6H188.4V470.0H182.0M178.0 470.0H186.0V560.0H180.0" stroke="#000" stroke-width="2.1" fill="none"/>
<path d="M385.5 421.0H387.3V425.2H385.5M385.5 635.8H386.8V639.9H385.5M385.5 404.5H388.6V408.7H385.5M385.5 342.6H388.3V346.7H385.5M385.5 590.4H387.2V594.5H385.5M385.5 623.4H385.9V627.5H385.5M385.5 437.6H387.7V441.7H385.5M385.5 371.5H387.1V375.6H385.5M385.5 507.8H386.7V511.9H385.5M385.5 288.9H391.6V293.0H385.5M385.5 355.0H386.2V359.1H385.5M385.5 313.7H389.3V317.8H385.5M385.5 297.1H387.6V301.3H385.5M385.5 483.0H386.7V487.1H385.5M385.5 429.3H386.6V433.4H385.5M385.5 516.0H386.4V520.2H385.5M385.5 392.1H385.7V396.3H385.5M385.5 268.2H386.0V272.4H385.5M385.5 458.2H387.9V462.3H385.5M385.5 235.2H388.1V239.3H385.5M385.5 573.9H386.1V578.0H385.5M385.5 466.5H386.4V470.6H385.5M385.7 394.2H386.7V400.4H385.5M385.5 255.8H386.0V260.0H385.5M385.5 247.6H387.0V251.7H385.5M385.5 363.2H386.7V367.4H385.5M385.5 491.3H389.6V495.4H385.5M385.5 280.6H387.5V284.8H385.5M385.5 330.2H386.6V334.3H385.5M385.5 553.2H386.0V557.3H385.5M385.5 544.9H388.5V549.1H385.5M385.5 305.4H389.4V309.5H385.5M385.5 532.6H389.1V536.7H385.5M385.5 582.1H388.2V586.2H385.5M385.5 321.9H388.4V326.1H385.5M385.5 611.0H387.7V615.2H385.5M385.5 412.8H388.2V416.9H385.5M386.0 555.3H386.5V561.5H385.5M385.5 450.0H387.8V454.1H385.5M385.5 379.7H388.5V383.9H385.5M385.5 565.6H387.0V569.7H385.5M386.0 270.3H386.8V276.5H385.5M385.5 598.6H387.3V602.8H385.5M385.5 499.5H387.7V503.6H385.5M387.2 592.4H388.9V600.7H387.3M386.4 518.1H386.8V524.3H385.5M386.7 509.8H388.0V521.2H386.8M386.2 357.0H387.1V365.3H386.7M386.4 468.5H386.9V474.7H385.5M386.0 257.9H386.7V264.1H385.5M385.5 478.9H387.1V485.1H386.7M385.5 243.5H388.0V249.7H387.0M386.6 332.2H387.3V338.4H385.5M385.9 625.5H386.2V631.7H385.5M386.5 558.4H388.7V567.7H387.0M385.5 619.3H387.0V628.6H386.2M386.7 261.0H387.5V273.4H386.8M387.1 361.2H387.3V373.5H387.1M385.5 388.0H387.5V397.3H386.7M386.9 471.6H387.1V482.0H387.1M387.3 423.1H388.8V431.4H386.6M387.0 623.9H389.1V637.9H386.8M386.1 575.9H390.1V584.2H388.2M385.5 606.9H387.8V613.1H387.7M385.5 350.8H388.5V367.4H387.3M388.1 237.3H389.3V246.6H388.0M387.9 460.3H388.2V476.8H387.1M387.5 267.2H389.3V282.7H387.5M387.8 452.0H388.4V468.5H388.2M387.7 439.6H388.7V445.8H385.5M388.4 324.0H388.4V335.3H387.3M387.7 501.6H389.1V515.5H388.0M388.6 406.6H390.1V414.9H388.2M385.5 540.8H388.5V547.0H388.5M388.5 381.8H389.0V392.7H387.5M388.3 344.6H388.7V359.1H388.5M388.8 427.2H389.7V442.7H388.7M388.5 543.9H390.8V563.0H388.7M385.5 528.4H389.4V534.6H389.1M388.4 329.7H390.3V351.9H388.7M387.6 299.2H390.1V307.5H389.4M387.8 610.0H391.6V630.9H389.1M385.5 231.1H389.6V241.9H389.3M389.1 508.5H389.8V531.5H389.4M388.4 460.3H390.0V493.3H389.6M390.0 476.8H390.4V520.0H389.8M389.6 236.5H393.2V274.9H389.3M390.1 580.1H390.8V596.6H388.9M390.1 410.7H390.7V435.0H389.7M389.3 315.7H391.8V340.8H390.3M390.8 553.5H392.0V588.3H390.8M390.7 422.9H391.1V498.4H390.4M391.6 290.9H392.7V303.3H390.1M389.0 387.2H391.1V460.6H391.1M391.8 328.2H392.0V423.9H391.1M392.0 376.1H392.6V570.9H392.0M392.6 473.5H392.9V620.4H391.6M393.2 255.7H393.3V297.1H392.7M393.3 276.4H393.5V547.0H392.9M385.5 260.1H389.0V263.0H385.5M385.5 268.9H386.7V271.9H385.5M386.7 270.4H388.7V274.9H385.5M385.5 292.6H385.6V295.6H385.5M385.5 277.8H387.2V280.8H385.5M385.6 294.1H387.7V298.5H385.5M385.5 242.3H389.4V245.3H385.5M385.5 286.7H392.1V289.6H385.5M385.5 257.1H389.1V261.5H389.0M385.5 233.4H386.1V236.4H385.5M392.1 288.2H392.7V296.3H387.7M388.7 272.6H391.3V279.3H387.2M391.3 276.0H391.8V283.7H385.5M385.5 266.0H392.7V279.8H391.8M385.5 248.2H389.3V251.2H385.5M385.5 254.1H391.7V259.3H389.1M391.7 256.7H396.0V272.9H392.7M396.0 264.8H396.3V292.2H392.7M385.5 239.4H389.8V243.8H389.4M386.1 234.9H390.1V241.6H389.8M385.5 230.5H391.8V238.2H390.1M389.3 249.7H396.3V278.5H396.3M391.8 234.4H397.5V264.1H396.3M385.5 322.5H385.8V325.5H385.5M385.5 307.5H385.7V310.5H385.5M385.5 316.5H385.5V319.5H385.5M385.5 334.5H385.8V337.5H385.5M385.7 309.0H387.5V313.5H385.5M385.5 331.5H389.8V336.0H385.8M385.5 301.5H390.6V304.5H385.5M387.5 311.2H388.3V318.0H385.5M385.8 324.0H386.5V328.5H385.5M390.6 303.0H394.0V314.6H388.3M386.5 326.2H391.7V333.8H389.8M391.7 330.0H391.9V340.5H385.5M394.0 308.8H395.9V335.2H391.9M395.9 322.0H397.5V343.5H385.5M410.3 253.6H432.3V345.5H402.8M386.0 229.5H410.3V298.3H390.3M389.0 240.4H397.1V273.3H390.0M397.1 257.0H407.0V290.0H392.0M389.2 302.8H402.8V389.0H398.3M390.0 319.8H398.3V456.0H393.7M388.0 333.5H393.7V517.0H391.0M387.0 420.0H391.0V640.0H387.0M386.0 500.0H389.0V641.0H386.0" stroke="#000" stroke-width="2.1" fill="none"/>
<path d="M593.7 321.9H594.1V326.1H593.7M593.7 355.0H593.9V359.1H593.7M593.7 305.4H594.6V309.5H593.7M593.7 231.1H593.9V235.2H593.7M593.7 470.6H595.6V474.7H593.7M593.7 264.1H596.1V268.2H593.7M593.7 598.6H596.5V602.8H593.7M593.7 524.3H596.3V528.4H593.7M593.7 255.8H595.0V260.0H593.7M593.7 487.1H595.0V491.3H593.7M593.7 619.3H594.2V623.4H593.7M593.7 416.9H595.3V421.0H593.7M593.7 606.9H595.1V611.0H593.7M593.7 400.4H594.2V404.5H593.7M593.7 557.3H594.7V561.5H593.7M593.7 586.2H594.2V590.4H593.7M593.7 408.7H594.6V412.8H593.7M593.7 272.4H596.3V276.5H593.7M593.7 243.5H594.2V247.6H593.7M593.7 437.6H595.6V441.7H593.7M593.7 379.7H595.7V383.9H593.7M593.7 445.8H595.3V450.0H593.7M593.7 367.4H594.5V371.5H593.7M593.7 549.1H595.5V553.2H593.7M593.7 462.3H594.7V466.5H593.7M593.7 516.0H594.2V520.2H593.7M593.7 536.7H596.0V540.8H593.7M593.7 346.7H595.9V350.8H593.7M593.7 429.3H596.0V433.4H593.7M593.7 573.9H595.6V578.0H593.7M593.7 507.8H595.3V511.9H593.7M593.7 288.9H596.4V293.0H593.7M593.7 313.7H595.8V317.8H593.7M593.7 627.5H594.0V631.7H593.7M593.7 280.6H595.1V284.8H593.7M593.7 388.0H594.8V392.1H593.7M593.9 357.0H595.6V363.2H593.7M593.7 297.1H594.5V301.3H593.7M594.2 588.3H596.3V594.5H593.7M593.9 233.1H595.6V239.3H593.7M593.7 454.1H594.0V458.2H593.7M593.7 330.2H597.3V334.3H593.7M593.7 495.4H596.2V499.5H593.7M593.7 478.9H594.2V483.0H593.7M593.7 338.4H594.4V342.6H593.7M594.2 621.3H596.2V629.6H594.0M594.2 245.5H594.6V251.7H593.7M594.7 559.4H595.3V565.6H593.7M594.5 299.2H594.6V307.5H594.6M594.5 369.4H594.7V375.6H593.7M593.7 635.8H594.5V639.9H593.7M593.7 503.6H595.5V509.8H595.3M594.2 402.5H595.2V410.7H594.6M594.8 390.1H595.0V396.3H593.7M594.2 480.9H595.7V489.2H595.0M594.6 248.6H596.4V257.9H595.0M595.0 393.2H595.9V406.6H595.2M595.5 551.1H595.8V562.5H595.3M595.1 609.0H595.4V615.2H593.7M595.3 419.0H595.6V425.2H593.7M593.7 569.7H595.6V575.9H595.6M595.3 447.9H596.0V456.1H594.0M595.5 506.7H595.6V518.1H594.2M594.7 372.5H596.4V381.8H595.7M595.9 348.8H596.9V360.1H595.6M593.7 544.9H597.0V556.8H595.8M595.6 422.1H596.2V431.4H596.0M595.6 572.8H597.4V582.1H593.7M594.7 464.4H596.0V472.7H595.6M595.6 439.6H596.0V452.0H596.0M596.0 468.5H596.8V485.1H595.7M596.1 266.2H596.7V274.4H596.3M595.8 315.7H595.9V324.0H594.1M596.2 625.5H596.5V637.9H594.5M596.4 377.2H596.7V399.9H595.9M595.1 282.7H596.6V290.9H596.4M596.3 526.4H596.4V532.6H593.7M594.6 303.3H597.0V319.9H595.9M596.2 497.4H596.7V512.4H595.6M596.2 426.7H596.2V445.8H596.0M596.4 529.5H597.1V538.8H596.0M596.3 591.4H596.7V600.7H596.5M595.6 236.2H596.9V253.3H596.4M596.7 270.3H597.2V286.8H596.6M595.4 612.1H596.6V631.7H596.5M596.7 596.1H597.2V621.9H596.6M596.2 436.3H597.3V476.8H596.8M596.9 244.7H597.6V278.6H597.2M596.9 354.4H597.9V388.5H596.7M597.1 534.1H597.7V550.9H597.0M596.7 504.9H598.2V542.5H597.7M594.4 340.5H599.0V371.5H597.9M597.0 311.6H597.8V332.2H597.3M597.6 261.7H597.9V321.9H597.8M597.4 577.5H598.1V609.0H597.2M598.2 523.7H599.0V593.2H598.1M597.9 291.8H599.0V356.0H599.0M599.0 323.9H599.2V456.5H597.3M599.2 390.2H599.7V558.5H599.0M593.7 257.5H593.8V260.5H593.7M593.7 287.5H596.8V290.5H593.7M593.7 245.5H594.4V248.5H593.7M593.7 230.5H594.4V233.5H593.7M593.7 278.5H594.4V281.5H593.7M593.7 266.5H595.0V269.5H593.7M593.7 272.5H598.3V275.5H593.7M593.7 251.5H593.8V254.5H593.7M598.3 274.0H598.9V280.0H594.4M593.7 239.5H594.5V242.5H593.7M594.4 247.0H603.0V253.0H593.8M593.7 236.5H597.2V241.0H594.5M595.0 268.0H599.6V277.0H598.9M593.7 284.5H598.0V289.0H596.8M599.6 272.5H600.2V286.8H598.0M597.2 238.8H603.1V250.0H603.0M593.7 263.5H603.5V279.6H600.2M594.4 232.0H604.9V244.4H603.1M604.9 238.2H609.1V259.0H593.8M609.1 248.6H609.7V271.6H603.5M614.0 260.8H640.1V347.0H619.7M617.4 278.5H619.7V415.1H601.6M608.0 273.3H617.4V287.0H610.0M606.0 254.0H614.0V268.8H608.0M597.0 300.0H601.6V640.0H596.0M595.0 292.0H599.0V520.0H595.0M600.0 240.0H610.0V262.0H603.0" stroke="#000" stroke-width="2.1" fill="none"/>
<rect x="806.00" y="229.00" width="7.20" height="414.00" fill="#0a0a0a"/>
<path d="M812.0 314.1H813.6V318.7H812.0M812.0 470.5H813.4V475.1H812.0M812.0 341.7H815.3V346.3H812.0M812.0 461.3H818.5V465.9H812.0M812.0 277.3H813.9V281.9H812.0M812.0 525.7H812.7V530.3H812.0M812.0 438.3H812.6V442.9H812.0M812.0 350.9H813.8V355.5H812.0M812.0 245.1H813.0V249.7H812.0M812.0 231.3H812.3V235.9H812.0M812.0 539.5H813.0V544.1H812.0M812.0 636.1H812.9V640.7H812.0M812.0 378.5H812.8V383.1H812.0M812.0 585.5H814.4V590.1H812.0M812.0 553.3H813.9V557.9H812.0M812.0 258.9H812.4V263.5H812.0M812.0 392.3H812.4V396.9H812.0M812.0 502.7H812.8V507.3H812.0M812.0 617.7H812.5V622.3H812.0M812.0 369.3H813.1V373.9H812.0M812.0 295.7H812.7V300.3H812.0M812.0 415.3H812.4V419.9H812.0M812.0 516.5H814.6V521.1H812.0M812.0 484.3H813.6V488.9H812.0M812.3 233.6H814.0V240.5H812.0M812.0 327.9H813.8V332.5H812.0M812.0 613.1H813.1V620.0H812.5M812.0 603.9H813.4V608.5H812.0M812.0 447.5H813.7V452.1H812.0M812.7 528.0H813.6V534.9H812.0M812.0 631.5H813.1V638.4H812.9M812.0 562.5H812.8V567.1H812.0M812.0 424.5H816.6V429.1H812.0M812.0 360.1H812.7V364.7H812.0M812.4 394.6H812.6V401.5H812.0M812.8 505.0H813.9V511.9H812.0M812.0 410.7H813.3V417.6H812.4M812.4 261.2H812.6V268.1H812.0M812.0 493.5H812.4V498.1H812.0M812.6 264.6H814.4V272.7H812.0M812.0 576.3H814.5V580.9H812.0M812.0 387.7H815.7V398.1H812.6M812.0 433.7H815.2V440.6H812.6M812.0 594.7H815.8V599.3H812.0M812.0 626.9H814.7V635.0H813.1M812.8 564.8H816.2V571.7H812.0M812.0 286.5H813.8V291.1H812.0M812.0 304.9H812.1V309.5H812.0M813.4 472.8H813.5V479.7H812.0M812.7 298.0H813.3V307.2H812.1M813.6 316.4H814.1V323.3H812.0M813.1 371.6H813.3V380.8H812.8M813.0 541.8H814.3V548.7H812.0M813.7 449.8H813.7V456.7H812.0M812.0 406.1H813.8V414.1H813.3M812.7 362.4H814.8V376.2H813.3M813.0 247.4H813.1V254.3H812.0M813.4 606.2H813.5V616.5H813.1M814.6 518.8H815.0V531.5H813.6M813.5 476.2H813.7V486.6H813.6M813.8 288.8H814.3V302.6H813.3M813.7 481.4H814.4V495.8H812.4M814.3 295.7H815.7V319.9H814.1M813.8 330.2H814.5V337.1H812.0M814.3 545.2H815.5V555.6H813.9M815.3 344.0H815.5V353.2H813.8M814.0 237.1H816.4V250.9H813.1M813.9 508.4H815.8V525.1H815.0M813.5 611.4H817.8V630.9H814.7M814.5 578.6H815.8V587.8H814.4M813.9 279.6H815.8V307.8H815.7M815.5 348.6H818.7V369.3H814.8M815.2 437.1H815.7V453.2H813.7M815.5 550.4H816.2V568.2H816.2M815.8 293.7H816.9V333.6H814.5M815.8 583.2H816.6V597.0H815.8M814.4 488.6H816.0V516.8H815.8M816.2 559.3H818.0V590.1H816.6M815.7 392.9H816.3V410.1H813.8M814.4 268.7H817.1V313.7H816.9M816.6 426.8H817.7V445.2H815.7M816.4 244.0H817.2V291.2H817.1M816.0 502.7H821.2V574.7H818.0M816.3 401.5H818.5V436.0H817.7M818.7 358.9H819.0V418.8H818.5M819.0 388.9H819.4V463.6H818.5M817.2 267.6H820.9V426.2H819.4M821.2 538.7H821.9V621.1H817.8M820.9 346.9H823.0V579.9H821.9M812.0 266.5H815.4V270.4H812.0M812.0 238.9H817.2V242.8H812.0M812.0 258.6H814.2V262.5H812.0M815.4 268.4H827.9V274.4H812.0M812.0 246.8H814.8V250.7H812.0M812.0 290.1H812.4V294.1H812.0M814.2 260.6H828.3V271.4H827.9M817.2 240.8H817.4V248.7H814.8M812.4 292.1H813.0V298.0H812.0M812.0 254.6H829.3V266.0H828.3M812.0 234.9H828.8V244.8H817.4M812.0 286.2H814.2V295.1H813.0M812.0 231.0H829.5V239.8H828.8M829.5 235.4H830.9V260.3H829.3M812.0 282.2H820.1V290.6H814.2M830.9 247.9H831.2V278.3H812.0M831.2 263.1H834.0V286.4H820.1M812.0 362.5H813.6V367.5H812.0M812.0 307.5H817.7V312.5H812.0M812.0 347.5H813.1V352.5H812.0M812.0 372.5H812.5V377.5H812.0M812.0 392.5H812.1V397.5H812.0M812.0 342.5H813.4V350.0H813.1M812.0 302.5H818.9V310.0H817.7M812.0 332.5H813.7V337.5H812.0M818.9 306.2H821.5V317.5H812.0M812.0 357.5H815.0V365.0H813.6M812.0 322.5H813.5V327.5H812.0M813.7 335.0H814.0V346.2H813.4M813.5 325.0H814.9V340.6H814.0M821.5 311.9H825.1V332.8H814.9M812.0 382.5H812.5V387.5H812.0M825.1 322.3H825.4V361.2H815.0M812.5 385.0H813.6V395.0H812.1M825.4 341.8H826.0V375.0H812.5M826.0 358.4H826.0V390.0H813.6M812.0 592.2H817.5V596.6H812.0M812.0 623.1H816.0V627.5H812.0M812.0 601.0H814.5V605.5H812.0M816.0 625.3H818.0V632.0H812.0M812.0 614.3H813.9V618.7H812.0M814.5 603.2H816.9V609.9H812.0M816.9 606.6H817.7V616.5H813.9M817.5 594.4H821.7V611.5H817.7M818.0 628.6H818.7V636.4H812.0M818.7 632.5H820.8V640.8H812.0M821.7 603.0H826.0V636.7H820.8M844.4 253.6H853.0V394.3H836.4M839.8 241.6H844.4V266.5H834.0M830.0 235.4H839.8V248.4H832.0M830.7 297.0H836.4V637.5H826.2M822.0 310.8H830.7V374.3H823.9M818.0 331.0H823.9V485.5H818.0M815.0 594.4H819.4V628.4H815.0M819.4 600.0H826.2V641.0H815.0M826.0 258.0H834.0V280.0H826.0" stroke="#000" stroke-width="2.1" fill="none"/>
<rect x="1017.20" y="229.00" width="4.50" height="413.50" fill="#0a0a0a"/>
<path d="M1021.0 633.5H1022.2V635.5H1021.0M1021.0 517.7H1021.7V519.6H1021.0M1021.0 479.7H1021.4V481.7H1021.0M1021.0 423.8H1021.8V425.8H1021.0M1021.0 351.9H1021.9V353.8H1021.0M1021.0 533.6H1021.4V535.6H1021.0M1021.0 459.7H1021.6V461.7H1021.0M1021.0 603.5H1021.5V605.5H1021.0M1021.0 599.6H1023.0V601.5H1021.0M1021.0 411.8H1021.6V413.8H1021.0M1021.0 299.9H1021.4V301.9H1021.0M1021.0 337.9H1023.2V339.9H1021.0M1021.0 236.0H1021.6V238.0H1021.0M1021.0 383.8H1023.3V385.8H1021.0M1021.0 525.6H1021.9V527.6H1021.0M1021.0 248.0H1021.7V250.0H1021.0M1021.0 305.9H1022.1V307.9H1021.0M1021.0 357.8H1021.7V359.8H1021.0M1021.0 343.9H1021.8V345.9H1021.0M1021.0 313.9H1021.7V315.9H1021.0M1021.0 471.7H1021.5V473.7H1021.0M1021.0 475.7H1022.0V477.7H1021.0M1021.0 609.5H1023.7V611.5H1021.0M1021.0 277.9H1023.1V279.9H1021.0M1021.0 639.5H1021.6V641.5H1021.0M1021.0 593.6H1021.8V595.6H1021.0M1021.0 331.9H1021.5V333.9H1021.0M1021.0 397.8H1021.4V399.8H1021.0M1021.0 583.6H1021.5V585.6H1021.0M1021.0 509.7H1021.6V511.7H1021.0M1021.0 433.8H1021.9V435.8H1021.0M1021.0 465.7H1022.3V467.7H1021.0M1021.0 455.7H1021.9V457.7H1021.0M1021.0 571.6H1022.2V573.6H1021.0M1021.0 575.6H1021.4V577.6H1021.0M1021.0 254.0H1021.6V256.0H1021.0M1021.0 445.7H1021.9V447.7H1021.0M1021.0 387.8H1022.0V389.8H1021.0M1021.0 401.8H1021.6V403.8H1021.0M1021.0 317.9H1022.5V319.9H1021.0M1021.0 325.9H1023.0V327.9H1021.0M1021.0 427.8H1022.5V429.8H1021.0M1021.0 529.6H1021.9V531.6H1021.0M1021.0 629.5H1022.4V631.5H1021.0M1021.0 589.6H1021.7V591.6H1021.0M1021.0 539.6H1021.8V541.6H1021.0M1021.0 244.0H1021.2V246.0H1021.0M1021.0 262.0H1021.3V264.0H1021.0M1021.0 270.0H1021.5V271.9H1021.0M1021.0 258.0H1022.2V260.0H1021.0M1021.0 419.8H1022.5V421.8H1021.0M1021.0 561.6H1021.3V563.6H1021.0M1021.0 513.7H1022.5V515.7H1021.0M1021.0 437.7H1022.0V439.7H1021.0M1021.0 285.9H1021.7V287.9H1021.0M1021.0 369.8H1021.4V371.8H1021.0M1021.0 295.9H1021.9V297.9H1021.0M1021.0 242.0H1022.6V245.0H1021.2M1021.0 321.9H1022.0V323.9H1021.0M1021.0 543.6H1023.3V545.6H1021.0M1021.0 483.7H1021.1V485.7H1021.0M1021.0 621.5H1022.4V623.5H1021.0M1021.0 281.9H1021.6V283.9H1021.0M1021.0 451.7H1022.0V453.7H1021.0M1021.0 625.5H1022.2V627.5H1021.0M1021.0 501.7H1023.0V503.7H1021.0M1021.0 375.8H1023.6V377.8H1021.0M1021.0 405.8H1021.5V407.8H1021.0M1021.0 273.9H1021.9V275.9H1021.0M1021.0 347.9H1021.7V349.9H1021.0M1021.0 565.6H1022.3V567.6H1021.0M1021.0 549.6H1022.9V551.6H1021.0M1021.0 489.7H1021.8V491.7H1021.0M1021.0 579.6H1021.8V581.6H1021.0M1021.0 613.5H1021.7V615.5H1021.0M1021.0 557.6H1022.7V559.6H1021.0M1021.0 505.7H1021.8V507.7H1021.0M1021.0 493.7H1022.2V495.7H1021.0M1021.0 415.8H1022.5V417.8H1021.0M1021.0 363.8H1021.2V365.8H1021.0M1021.0 266.0H1021.9V268.0H1021.0M1021.0 441.7H1021.1V443.7H1021.0M1021.0 395.8H1021.7V398.8H1021.4M1021.0 521.6H1021.8V523.6H1021.0M1021.0 553.6H1022.3V555.6H1021.0M1021.0 291.9H1021.6V293.9H1021.0M1021.4 534.6H1022.6V537.6H1021.0M1021.0 469.7H1023.0V472.7H1021.5M1021.0 367.8H1021.7V370.8H1021.4M1021.0 230.0H1021.9V232.0H1021.0M1021.0 391.8H1022.0V393.8H1021.0M1021.0 309.9H1021.5V311.9H1021.0M1021.0 361.8H1021.8V364.8H1021.2M1021.1 484.7H1022.2V487.7H1021.0M1021.0 617.5H1021.4V619.5H1021.0M1021.0 497.7H1022.5V499.7H1021.0M1021.5 332.9H1022.3V335.9H1021.0M1021.0 379.8H1022.5V381.8H1021.0M1021.4 300.9H1022.5V303.9H1021.0M1021.7 518.6H1022.9V522.6H1021.8M1021.7 397.3H1022.4V402.8H1021.6M1021.0 234.0H1021.9V237.0H1021.6M1021.5 584.6H1022.6V587.6H1021.0M1021.0 252.0H1021.8V255.0H1021.6M1021.5 406.8H1021.6V409.8H1021.0M1021.7 614.5H1022.7V618.5H1021.4M1021.6 282.9H1022.7V286.9H1021.7M1021.8 344.9H1021.9V348.9H1021.7M1021.8 363.3H1021.9V369.3H1021.7M1021.7 590.6H1023.2V594.6H1021.8M1021.5 604.5H1022.0V607.5H1021.0M1021.6 460.7H1022.0V463.7H1021.0M1021.0 637.5H1023.3V640.5H1021.6M1021.9 267.0H1022.7V270.9H1021.5M1021.9 346.9H1022.0V352.9H1021.9M1022.0 388.8H1022.0V392.8H1022.0M1021.0 355.8H1022.5V358.8H1021.7M1021.7 249.0H1021.8V253.5H1021.8M1021.6 408.3H1021.8V412.8H1021.6M1021.0 289.9H1021.9V292.9H1021.6M1021.0 431.8H1022.9V434.8H1021.9M1021.4 576.6H1023.2V580.6H1021.8M1021.0 449.7H1022.6V452.7H1022.0M1021.1 442.7H1023.1V446.7H1021.9M1021.9 456.7H1022.5V462.2H1022.0M1021.9 291.4H1022.9V296.9H1021.9M1021.0 341.9H1022.2V349.9H1022.0M1021.5 310.9H1022.2V314.9H1021.7M1021.9 526.6H1022.8V530.6H1021.9M1022.0 476.7H1022.2V480.7H1021.4M1021.9 366.3H1023.2V373.8H1021.0M1021.8 506.7H1022.7V510.7H1021.6M1021.9 231.0H1023.0V235.5H1021.9M1022.3 566.6H1022.5V569.6H1021.0M1021.0 329.9H1022.8V334.4H1022.3M1022.2 478.7H1022.7V486.2H1022.2M1021.8 251.2H1023.1V259.0H1022.2M1022.4 622.5H1022.9V626.5H1022.2M1021.3 562.6H1022.9V568.1H1022.5M1022.2 494.7H1023.0V498.7H1022.5M1022.4 400.0H1023.2V410.5H1021.8M1021.8 424.8H1022.9V428.8H1022.5M1022.2 312.9H1022.8V318.9H1022.5M1021.0 240.0H1024.6V243.5H1022.6M1022.1 306.9H1023.4V315.9H1022.8M1022.4 630.5H1022.4V634.5H1022.2M1022.5 459.5H1022.8V466.7H1022.3M1022.7 269.0H1024.2V274.9H1021.9M1022.7 482.4H1023.6V490.7H1021.8M1022.2 345.9H1023.4V357.3H1022.5M1022.6 536.1H1023.6V540.6H1021.8M1022.7 508.7H1022.7V514.7H1022.5M1022.9 294.2H1023.4V302.4H1022.5M1022.9 433.3H1023.0V438.7H1022.0M1022.5 416.8H1022.6V420.8H1022.5M1022.6 451.2H1022.9V463.1H1022.8M1022.7 616.5H1024.8V624.5H1022.9M1022.6 418.8H1024.2V426.8H1022.9M1022.9 520.6H1023.0V528.6H1022.8M1022.3 554.6H1023.5V558.6H1022.7M1023.0 600.6H1023.3V606.0H1022.0M1022.7 511.7H1023.2V524.6H1023.0M1022.9 457.2H1024.6V471.2H1023.0M1023.0 496.7H1023.5V502.7H1023.0M1023.0 326.9H1023.2V332.1H1022.8M1022.6 586.1H1023.9V592.6H1023.2M1021.0 547.6H1023.1V550.6H1022.9M1023.3 544.6H1023.3V549.1H1023.1M1023.1 255.1H1023.2V263.0H1021.3M1022.5 380.8H1024.4V384.8H1023.3M1023.1 278.9H1023.5V284.9H1022.7M1022.0 390.8H1023.4V405.3H1023.2M1023.0 436.0H1023.4V444.7H1023.1M1022.9 565.3H1023.0V572.6H1022.2M1023.3 546.9H1023.6V556.6H1023.5M1022.0 322.9H1023.4V329.5H1023.2M1021.0 597.6H1023.5V603.3H1023.3M1023.5 281.9H1023.9V298.3H1023.4M1023.0 569.0H1023.3V578.6H1023.2M1023.4 311.4H1023.7V326.2H1023.4M1023.2 338.9H1023.5V351.6H1023.4M1023.6 486.6H1023.7V499.7H1023.5M1023.2 518.2H1023.7V538.4H1023.6M1023.5 345.2H1023.9V370.1H1023.2M1022.4 632.5H1024.8V639.0H1023.3M1023.3 573.8H1024.2V589.3H1023.9M1023.7 493.1H1024.1V528.3H1023.7M1023.9 290.1H1024.3V318.8H1023.7M1023.9 357.7H1024.0V376.8H1023.6M1024.2 422.8H1024.4V440.4H1023.4M1024.1 510.7H1024.3V551.7H1023.6M1024.2 581.5H1024.5V600.4H1023.5M1024.3 304.5H1024.3V367.2H1024.0M1023.4 398.0H1025.1V431.6H1024.4M1024.2 271.9H1024.8V335.8H1024.3M1024.5 591.0H1024.9V610.5H1023.7M1023.0 233.2H1024.6V241.7H1024.6M1024.6 464.2H1024.7V531.2H1024.3M1024.8 303.9H1025.0V382.8H1024.4M1024.6 237.5H1025.1V259.0H1023.2M1025.1 414.8H1025.2V497.7H1024.7M1024.8 620.5H1025.3V635.8H1024.8M1025.2 456.3H1025.6V600.8H1024.9M1025.1 248.3H1025.9V343.4H1025.0M1025.6 528.5H1025.7V628.1H1025.3M1025.9 295.8H1026.0V578.3H1025.7M1021.0 250.3H1021.6V252.3H1021.0M1021.0 264.5H1021.1V266.5H1021.0M1021.0 240.2H1024.9V242.2H1021.0M1021.0 288.8H1023.1V290.9H1021.0M1021.1 265.5H1021.6V268.6H1021.0M1021.0 278.7H1021.3V280.7H1021.0M1021.0 246.2H1022.8V248.3H1021.0M1021.0 230.0H1021.4V232.0H1021.0M1021.0 276.7H1021.5V279.7H1021.3M1024.9 241.2H1025.8V244.2H1021.0M1025.8 242.7H1026.1V247.3H1022.8M1021.0 234.1H1023.6V236.1H1021.0M1021.6 251.3H1022.0V254.4H1021.0M1021.0 282.8H1021.4V284.8H1021.0M1023.1 289.9H1023.6V292.9H1021.0M1023.6 235.1H1025.1V238.1H1021.0M1025.1 236.6H1026.5V245.0H1026.1M1021.6 267.0H1022.6V270.6H1021.0M1021.4 231.0H1029.4V240.8H1026.5M1021.5 278.2H1022.3V283.8H1021.4M1022.0 252.8H1024.2V256.4H1021.0M1029.4 235.9H1031.3V254.6H1024.2M1021.0 262.5H1023.6V268.8H1022.6M1023.6 265.6H1027.2V272.6H1021.0M1021.0 274.6H1023.0V281.0H1022.3M1021.0 286.8H1025.4V291.4H1023.6M1021.0 294.9H1021.1V297.0H1021.0M1023.0 277.8H1027.3V289.1H1025.4M1027.2 269.1H1030.8V283.5H1027.3M1021.1 295.9H1024.1V299.0H1021.0M1030.8 276.3H1033.0V297.5H1024.1M1021.0 258.4H1021.8V260.4H1021.0M1031.3 245.3H1032.0V259.4H1021.8M1032.0 252.3H1033.0V286.9H1033.0M1038.6 246.8H1064.0V278.5H1050.4M1027.0 262.0H1050.4V293.7H1034.0M1030.0 242.7H1038.6V254.0H1036.8M1028.0 235.4H1036.8V248.4H1030.0M1025.0 264.2H1034.0V323.2H1030.6M1024.0 268.8H1030.6V378.8H1027.7M1023.0 274.5H1027.7V482.0H1024.0M1022.0 300.0H1024.5V640.0H1022.0" stroke="#000" stroke-width="2.1" fill="none"/>
<rect x="1225.20" y="229.00" width="4.50" height="414.00" fill="#0a0a0a"/>
<path d="M1229.0 528.0H1231.4V530.0H1229.0M1229.0 232.0H1229.9V234.0H1229.0M1229.0 600.0H1229.3V602.0H1229.0M1229.0 504.0H1230.2V506.0H1229.0M1229.0 318.0H1230.2V320.0H1229.0M1229.0 468.0H1230.4V470.0H1229.0M1229.0 298.0H1231.4V300.0H1229.0M1229.0 594.0H1229.8V596.0H1229.0M1229.0 384.0H1229.5V386.0H1229.0M1229.0 548.0H1229.8V550.0H1229.0M1229.0 614.0H1229.3V616.0H1229.0M1229.0 510.0H1229.9V512.0H1229.0M1229.0 566.0H1230.5V568.0H1229.0M1229.0 464.0H1231.2V466.0H1229.0M1229.0 540.0H1230.0V542.0H1229.0M1229.0 454.0H1230.1V456.0H1229.0M1229.0 306.0H1229.4V308.0H1229.0M1229.0 544.0H1229.7V546.0H1229.0M1229.0 284.0H1229.5V286.0H1229.0M1229.0 288.0H1229.4V290.0H1229.0M1229.0 560.0H1230.3V562.0H1229.0M1229.0 520.0H1230.0V522.0H1229.0M1229.0 534.0H1229.3V536.0H1229.0M1229.0 280.0H1230.2V282.0H1229.0M1229.0 362.0H1231.1V364.0H1229.0M1229.0 312.0H1230.1V314.0H1229.0M1229.0 640.0H1231.1V642.0H1229.0M1229.0 496.0H1229.4V498.0H1229.0M1229.0 554.0H1230.2V556.0H1229.0M1229.0 414.0H1229.5V416.0H1229.0M1229.0 610.0H1229.3V612.0H1229.0M1229.0 630.0H1229.7V632.0H1229.0M1229.0 484.0H1230.5V486.0H1229.0M1229.0 256.0H1229.5V258.0H1229.0M1229.0 292.0H1229.7V294.0H1229.0M1229.0 606.0H1231.2V608.0H1229.0M1229.0 636.0H1230.7V638.0H1229.0M1229.0 472.0H1229.7V474.0H1229.0M1229.0 584.0H1231.1V586.0H1229.0M1229.0 442.0H1230.8V444.0H1229.0M1229.0 492.0H1229.8V494.0H1229.0M1229.0 250.0H1229.6V252.0H1229.0M1229.0 246.0H1229.7V248.0H1229.0M1229.0 348.0H1230.0V350.0H1229.0M1229.0 260.0H1231.3V262.0H1229.0M1229.0 358.0H1231.2V360.0H1229.0M1229.0 396.0H1229.6V398.0H1229.0M1229.0 572.0H1230.6V574.0H1229.0M1229.0 402.0H1230.0V404.0H1229.0M1229.0 598.0H1230.3V601.0H1229.3M1229.0 488.0H1231.5V490.0H1229.0M1229.0 580.0H1230.4V582.0H1229.0M1229.0 322.0H1230.2V324.0H1229.0M1229.0 326.0H1229.5V328.0H1229.0M1229.0 366.0H1232.0V368.0H1229.0M1229.0 426.0H1231.3V428.0H1229.0M1229.0 458.0H1230.6V460.0H1229.0M1229.0 624.0H1230.8V626.0H1229.0M1229.0 338.0H1229.6V340.0H1229.0M1229.0 266.0H1230.0V268.0H1229.0M1229.0 446.0H1230.7V448.0H1229.0M1229.0 374.0H1230.0V376.0H1229.0M1229.0 344.0H1230.7V346.0H1229.0M1229.0 276.0H1229.9V278.0H1229.0M1229.0 422.0H1229.9V424.0H1229.0M1229.0 380.0H1229.3V382.0H1229.0M1229.0 438.0H1232.2V440.0H1229.0M1229.0 388.0H1229.3V390.0H1229.0M1229.0 378.0H1229.4V381.0H1229.3M1229.0 352.0H1230.1V354.0H1229.0M1229.0 334.0H1229.9V336.0H1229.0M1229.0 516.0H1229.1V518.0H1229.0M1229.0 406.0H1231.3V408.0H1229.0M1229.0 480.0H1230.8V482.0H1229.0M1229.0 590.0H1229.4V592.0H1229.0M1229.0 410.0H1229.7V412.0H1229.0M1229.0 238.0H1230.3V240.0H1229.0M1229.3 611.0H1230.5V615.0H1229.3M1229.0 476.0H1230.4V478.0H1229.0M1229.0 618.0H1231.4V620.0H1229.0M1229.4 379.5H1230.5V385.0H1229.5M1229.0 330.0H1230.0V332.0H1229.0M1229.0 370.0H1229.2V372.0H1229.0M1229.5 415.0H1229.9V418.0H1229.0M1229.0 514.0H1229.8V517.0H1229.1M1229.0 432.0H1231.2V434.0H1229.0M1229.0 532.0H1229.9V535.0H1229.3M1229.6 251.0H1230.0V254.0H1229.0M1229.4 289.0H1229.7V293.0H1229.7M1229.0 576.0H1230.5V578.0H1229.0M1229.0 524.0H1229.6V526.0H1229.0M1229.0 450.0H1229.5V452.0H1229.0M1229.0 272.0H1230.3V274.0H1229.0M1229.4 497.0H1230.0V500.0H1229.0M1229.0 242.0H1231.2V244.0H1229.0M1229.3 389.0H1229.7V392.0H1229.0M1229.0 302.0H1230.4V304.0H1229.0M1230.0 252.5H1231.0V257.0H1229.5M1229.0 588.0H1231.9V591.0H1229.4M1229.4 307.0H1230.1V310.0H1229.0M1229.0 394.0H1230.2V397.0H1229.6M1229.5 285.0H1230.0V291.0H1229.7M1229.0 230.0H1231.3V233.0H1229.9M1229.8 549.0H1229.9V552.0H1229.0M1229.7 631.0H1230.1V634.0H1229.0M1229.6 339.0H1230.5V342.0H1229.0M1229.9 416.5H1230.6V420.0H1229.0M1230.0 331.0H1232.9V335.0H1229.9M1230.0 288.0H1230.3V296.0H1229.0M1229.9 511.0H1232.4V515.5H1229.8M1230.0 498.5H1230.1V502.0H1229.0M1230.0 541.0H1230.8V545.0H1229.7M1229.9 533.5H1230.7V538.0H1229.0M1229.0 400.0H1230.3V403.0H1230.0M1230.0 521.0H1231.6V525.0H1229.6M1229.0 628.0H1230.6V632.5H1230.1M1229.2 371.0H1230.8V375.0H1230.0M1230.1 500.2H1230.2V505.0H1230.2M1229.7 390.5H1230.3V395.5H1230.2M1230.0 267.0H1230.3V270.0H1229.0M1229.9 277.0H1230.2V281.0H1230.2M1229.8 493.0H1230.3V502.6H1230.2M1230.1 308.5H1231.8V313.0H1230.1M1230.1 353.0H1231.2V356.0H1229.0M1230.3 273.0H1230.6V279.0H1230.2M1229.0 316.0H1231.6V319.0H1230.2M1230.3 393.0H1231.0V401.5H1230.3M1229.5 451.0H1230.2V455.0H1230.1M1230.2 555.0H1231.9V558.0H1229.0M1230.4 469.0H1230.7V473.0H1229.7M1229.8 595.0H1230.6V599.5H1230.3M1230.5 567.0H1230.6V570.0H1229.0M1230.2 323.0H1230.4V327.0H1229.5M1229.0 236.0H1230.7V239.0H1230.3M1230.6 459.0H1230.7V462.0H1229.0M1230.3 497.8H1230.8V508.0H1229.0M1229.7 411.0H1230.7V418.2H1230.6M1230.5 340.5H1231.0V345.0H1230.7M1229.0 264.0H1230.7V268.5H1230.3M1230.5 577.0H1230.7V581.0H1230.4M1230.3 561.0H1230.5V564.0H1229.0M1230.6 630.2H1230.9V637.0H1230.7M1230.6 597.2H1231.2V604.0H1229.0M1230.6 573.0H1230.7V579.0H1230.7M1230.7 471.0H1230.9V477.0H1230.4M1230.7 447.0H1231.6V453.0H1230.2M1230.7 414.6H1231.2V423.0H1229.9M1230.7 266.2H1231.1V276.0H1230.6M1230.5 562.5H1231.1V568.5H1230.6M1230.8 543.0H1232.5V550.5H1229.9M1229.0 622.0H1230.9V625.0H1230.8M1231.2 433.0H1231.5V436.0H1229.0M1230.9 474.0H1232.9V481.0H1230.8M1230.8 373.0H1231.9V382.2H1230.5M1231.0 342.8H1231.2V349.0H1230.0M1230.7 576.0H1231.2V585.0H1231.1M1231.2 600.6H1231.4V607.0H1231.2M1230.9 633.6H1232.3V641.0H1231.1M1231.2 243.0H1232.1V247.0H1229.7M1229.0 430.0H1232.1V434.5H1231.5M1231.1 565.5H1231.9V580.5H1231.2M1231.1 271.1H1232.4V292.0H1230.3M1231.4 603.8H1232.7V613.0H1230.5M1230.7 460.5H1231.3V465.0H1231.2M1231.2 359.0H1231.3V363.0H1231.1M1231.5 489.0H1233.8V502.9H1230.8M1231.3 407.0H1232.3V418.8H1231.2M1231.3 231.5H1231.6V237.5H1230.7M1231.2 345.9H1231.4V354.5H1231.2M1231.4 529.0H1231.4V535.8H1230.7M1231.4 350.2H1232.1V361.0H1231.3M1231.4 299.0H1234.1V303.0H1230.4M1231.4 619.0H1231.7V623.5H1230.9M1230.8 443.0H1231.7V450.0H1231.6M1231.6 523.0H1231.8V532.4H1231.4M1231.6 317.5H1231.7V325.0H1230.4M1231.7 446.5H1232.1V462.8H1231.3M1231.0 254.8H1232.5V261.0H1231.3M1231.9 377.6H1232.0V397.2H1231.0M1231.8 310.8H1232.1V321.2H1231.7M1231.9 556.5H1232.3V573.0H1231.9M1231.6 234.5H1233.8V245.0H1232.1M1231.8 527.7H1233.1V546.8H1232.5M1232.1 355.6H1232.9V367.0H1232.0M1231.7 621.2H1233.1V637.3H1232.3M1232.2 439.0H1232.3V454.6H1232.1M1232.1 432.2H1233.1V446.8H1232.3M1232.0 387.4H1232.4V412.9H1232.3M1231.9 589.5H1234.0V608.4H1232.7M1233.1 537.2H1233.1V564.8H1232.3M1232.5 257.9H1232.6V281.6H1232.4M1232.9 361.3H1233.6V400.2H1232.4M1231.3 427.0H1234.3V439.5H1233.1M1232.9 477.5H1234.0V485.0H1230.5M1232.1 316.0H1233.0V333.0H1232.9M1232.4 513.2H1233.2V551.0H1233.1M1233.0 324.5H1234.6V380.7H1233.6M1234.3 433.3H1234.4V481.2H1234.0M1233.8 496.0H1235.7V532.1H1233.2M1234.1 301.0H1234.6V352.6H1234.6M1233.8 239.8H1234.8V269.7H1232.6M1234.0 599.0H1234.5V629.3H1233.1M1234.6 326.8H1234.8V457.3H1234.4M1234.8 254.7H1235.0V392.0H1234.8M1235.7 514.0H1235.7V614.1H1234.5M1235.0 323.4H1236.0V564.1H1235.7M1229.0 244.5H1230.8V246.5H1229.0M1229.0 258.9H1230.4V261.0H1229.0M1229.0 238.3H1236.1V240.3H1229.0M1229.0 234.2H1229.1V236.2H1229.0M1229.0 250.7H1232.1V252.7H1229.0M1236.1 239.3H1236.4V242.4H1229.0M1229.0 230.0H1232.9V232.1H1229.0M1229.0 256.8H1231.0V259.9H1230.4M1236.4 240.9H1237.4V245.5H1230.8M1232.1 251.7H1234.6V254.8H1229.0M1237.4 243.2H1241.3V248.6H1229.0M1232.9 231.1H1233.2V235.2H1229.1M1241.3 245.9H1241.3V253.2H1234.6M1233.2 233.1H1242.0V249.6H1241.3M1242.0 241.3H1245.0V258.4H1231.0M1229.0 611.0H1230.0V613.1H1229.0M1229.0 621.3H1231.5V623.4H1229.0M1229.0 615.2H1231.7V617.2H1229.0M1229.0 625.5H1233.0V627.5H1229.0M1229.0 619.3H1231.9V622.4H1231.5M1229.0 637.8H1229.0V639.9H1229.0M1229.0 633.7H1229.0V635.8H1229.0M1229.0 634.8H1230.9V638.9H1229.0M1230.9 636.8H1231.8V642.0H1229.0M1230.0 612.1H1231.8V616.2H1231.7M1229.0 631.7H1233.7V639.4H1231.8M1229.0 629.6H1235.2V635.5H1233.7M1233.0 626.5H1238.0V632.6H1235.2M1231.8 614.1H1233.1V620.8H1231.9M1233.1 617.5H1239.0V629.5H1238.0M1249.0 237.7H1271.6V580.8H1246.9M1240.0 232.5H1249.0V243.8H1242.0M1243.2 521.3H1246.9V641.0H1236.0M1240.5 408.3H1243.2V560.0H1238.0M1233.0 260.8H1240.5V485.5H1237.0M1232.0 346.0H1237.0V430.0H1232.0M1231.0 262.0H1234.0V640.0H1231.0" stroke="#000" stroke-width="2.1" fill="none"/>
<path d="M1505.4 488.1H1505.8V494.4H1505.4M1505.4 456.5H1507.6V462.8H1505.4M1505.4 443.9H1506.4V450.2H1505.4M1505.4 589.3H1505.8V595.6H1505.4M1505.4 570.3H1507.4V576.6H1505.4M1505.4 475.5H1508.8V481.8H1505.4M1505.4 551.3H1512.6V557.7H1505.4M1505.4 387.0H1512.4V393.3H1505.4M1505.4 349.1H1506.5V355.4H1505.4M1505.4 405.9H1506.6V412.3H1505.4M1505.4 374.3H1505.8V380.7H1505.4M1505.4 361.7H1513.7V368.0H1505.4M1505.4 627.2H1505.6V633.5H1505.4M1505.4 500.8H1506.3V507.1H1505.4M1505.4 513.4H1507.9V519.7H1505.4M1505.6 630.4H1507.4V639.8H1505.4M1505.4 526.1H1505.9V532.4H1505.4M1505.4 418.6H1505.5V424.9H1505.4M1505.4 317.4H1506.2V323.8H1505.4M1505.4 608.2H1506.5V614.6H1505.4M1505.8 592.4H1507.2V601.9H1505.4M1505.4 336.4H1506.3V342.7H1505.4M1505.5 421.8H1506.7V431.2H1505.4M1506.3 339.6H1508.1V352.2H1506.5M1505.4 538.7H1506.1V545.0H1505.4M1505.4 298.5H1511.3V304.8H1505.4M1505.9 529.2H1508.7V541.9H1506.1M1505.4 311.1H1507.5V320.6H1506.2M1506.5 611.4H1507.4V620.9H1505.4M1505.4 582.9H1508.1V597.2H1507.2M1505.4 437.6H1511.5V447.0H1506.4M1507.5 315.9H1509.8V330.1H1505.4M1505.4 399.6H1507.6V409.1H1506.6M1507.4 616.1H1514.4V635.1H1507.4M1505.4 469.2H1509.3V478.6H1508.8M1507.6 404.4H1510.7V426.5H1506.7M1505.4 564.0H1508.3V573.5H1507.4M1505.8 491.3H1507.1V503.9H1506.3M1508.3 568.7H1508.7V590.1H1508.1M1507.1 497.6H1510.0V516.6H1507.9M1509.3 473.9H1514.3V507.1H1510.0M1509.8 323.0H1517.3V345.9H1508.1M1511.5 442.3H1513.0V459.7H1507.6M1505.4 292.2H1514.8V301.6H1511.3M1508.7 535.5H1515.7V554.5H1512.6M1513.7 364.9H1513.8V377.5H1505.8M1508.7 579.4H1515.2V625.6H1514.4M1513.8 371.2H1514.8V390.1H1512.4M1510.7 415.4H1514.8V451.0H1513.0M1514.3 490.5H1516.1V545.0H1515.7M1514.8 296.9H1522.5V334.4H1517.3M1514.8 380.7H1515.8V433.2H1514.8M1516.1 517.8H1517.9V602.5H1515.2M1515.8 406.9H1522.7V560.1H1517.9M1522.5 315.7H1523.4V483.5H1522.7M1533.6 387.3H1546.0V490.6H1539.0M1520.9 359.5H1533.6V415.0H1530.1M1512.0 342.0H1520.9V377.0H1514.0M1518.0 397.6H1530.1V432.6H1520.0M1523.0 450.7H1539.0V529.3H1535.7M1522.0 491.2H1535.7V571.4H1529.5M1520.0 525.0H1529.5V615.7H1525.0M1516.0 590.0H1525.0V641.4H1505.4M1514.0 436.0H1523.0V466.0H1516.0" stroke="#000" stroke-width="2.3" fill="none"/>
<path d="M1719.4 349.1H1721.9V355.4H1719.4M1719.4 330.1H1721.9V336.4H1719.4M1719.4 614.6H1720.7V620.9H1719.4M1719.4 570.3H1720.3V576.6H1719.4M1719.4 582.9H1721.3V589.3H1719.4M1719.4 361.7H1725.9V368.0H1719.4M1719.4 405.9H1722.0V412.3H1719.4M1719.4 311.1H1721.8V317.4H1719.4M1719.4 507.1H1722.0V513.4H1719.4M1719.4 298.5H1722.6V304.8H1719.4M1719.4 557.7H1720.3V564.0H1719.4M1719.4 494.4H1719.5V500.8H1719.4M1719.4 545.0H1720.2V551.3H1719.4M1719.4 519.7H1719.8V526.1H1719.4M1719.4 424.9H1721.2V431.2H1719.4M1719.4 475.5H1721.1V481.8H1719.4M1719.4 443.9H1720.7V450.2H1719.4M1719.4 462.8H1720.2V469.2H1719.4M1719.4 538.7H1722.0V548.2H1720.2M1719.4 633.5H1724.8V639.8H1719.4M1719.4 488.1H1721.0V497.6H1719.5M1719.4 608.2H1722.8V617.7H1720.7M1719.8 522.9H1720.8V532.4H1719.4M1719.4 380.7H1721.6V387.0H1719.4M1719.4 393.3H1719.7V399.6H1719.4M1719.4 595.6H1719.5V601.9H1719.4M1720.3 560.8H1721.7V573.5H1720.3M1719.4 456.5H1722.2V466.0H1720.2M1721.7 567.1H1722.9V586.1H1721.3M1719.4 418.6H1724.5V428.1H1721.2M1719.4 437.6H1723.6V447.0H1720.7M1719.4 323.8H1721.9V333.2H1721.9M1721.6 383.8H1723.1V396.5H1719.7M1721.1 478.6H1723.8V492.9H1721.0M1722.0 510.2H1723.2V527.6H1720.8M1721.8 314.3H1722.3V328.5H1721.9M1719.4 342.7H1724.3V352.2H1721.9M1722.8 613.0H1723.1V627.2H1719.4M1723.1 390.1H1723.5V409.1H1722.0M1722.0 543.4H1723.5V576.6H1722.9M1719.4 292.2H1727.6V301.6H1722.6M1723.8 485.8H1726.0V518.9H1723.2M1723.5 560.0H1725.4V598.8H1719.5M1719.4 374.3H1724.5V399.6H1723.5M1723.6 442.3H1728.0V461.3H1722.2M1725.4 579.4H1726.1V620.1H1723.1M1722.3 321.4H1724.5V347.5H1724.3M1726.1 599.7H1727.2V636.7H1724.8M1724.5 387.0H1725.5V423.3H1724.5M1725.9 364.9H1726.3V405.2H1725.5M1724.5 334.4H1727.6V385.0H1726.3M1726.0 502.3H1728.2V618.2H1727.2M1727.6 296.9H1729.5V359.7H1727.6M1729.5 328.3H1732.7V451.8H1728.0M1732.7 390.0H1733.4V560.3H1728.2M1749.7 428.4H1759.1V514.9H1746.2M1746.2 394.5H1749.7V463.4H1741.4M1736.9 365.7H1746.2V423.3H1738.0M1728.0 330.7H1736.9V400.7H1730.0M1730.0 410.0H1738.0V437.7H1731.0M1733.0 454.2H1741.4V472.7H1734.0M1731.0 497.4H1746.2V532.3H1742.7M1726.0 492.0H1731.0V503.5H1726.0M1733.0 520.0H1742.7V557.0H1731.0M1727.0 535.0H1731.0V576.0H1727.0" stroke="#000" stroke-width="2.3" fill="none"/>
<path d="M1928.8 545.0H1929.7V551.3H1928.8M1928.8 456.5H1930.4V462.8H1928.8M1928.8 304.8H1933.7V311.1H1928.8M1928.8 317.4H1929.7V323.8H1928.8M1928.8 387.0H1929.2V393.3H1928.8M1928.8 564.0H1930.1V570.3H1928.8M1928.8 576.6H1930.6V582.9H1928.8M1928.8 412.3H1929.4V418.6H1928.8M1928.8 601.9H1930.9V608.2H1928.8M1928.8 330.1H1930.7V336.4H1928.8M1928.8 614.6H1929.3V620.9H1928.8M1928.8 526.1H1929.0V532.4H1928.8M1928.8 437.6H1929.1V443.9H1928.8M1928.8 500.8H1930.6V507.1H1928.8M1928.8 469.2H1930.2V475.5H1928.8M1928.8 481.8H1931.5V488.1H1928.8M1928.8 513.4H1929.1V519.7H1928.8M1928.8 589.3H1930.4V595.6H1928.8M1928.8 374.3H1930.9V380.7H1928.8M1928.8 627.2H1929.1V633.5H1928.8M1928.8 424.9H1934.4V431.2H1928.8M1929.0 529.2H1930.7V538.7H1928.8M1929.1 630.4H1929.4V639.8H1928.8M1928.8 292.2H1929.2V298.5H1928.8M1928.8 399.6H1929.9V405.9H1928.8M1929.7 548.2H1930.0V557.7H1928.8M1928.8 342.7H1929.4V349.1H1928.8M1928.8 361.7H1930.1V368.0H1928.8M1929.4 345.9H1930.9V355.4H1928.8M1929.1 440.7H1933.7V450.2H1928.8M1929.2 390.1H1933.5V402.8H1929.9M1928.8 494.4H1932.6V503.9H1930.6M1929.3 617.7H1930.0V635.1H1929.4M1930.0 552.9H1931.6V567.1H1930.1M1930.6 579.8H1931.1V592.4H1930.4M1929.7 320.6H1932.9V333.2H1930.7M1929.1 516.6H1933.6V534.0H1930.7M1930.1 364.9H1930.9V377.5H1930.9M1930.9 350.6H1931.8V371.2H1930.9M1931.1 586.1H1933.3V605.1H1930.9M1930.4 459.7H1931.9V472.3H1930.2M1931.9 466.0H1932.3V485.0H1931.5M1932.3 475.5H1935.5V499.2H1932.6M1931.6 560.0H1933.5V595.6H1933.3M1933.5 577.8H1935.2V626.4H1930.0M1933.6 525.3H1935.9V602.1H1935.2M1931.8 360.9H1934.3V396.5H1933.5M1929.4 415.4H1934.7V428.1H1934.4M1929.2 295.3H1934.7V308.0H1933.7M1932.9 326.9H1935.6V378.7H1934.3M1935.6 352.8H1936.9V421.8H1934.7M1935.5 487.3H1937.7V563.7H1935.9M1936.9 387.3H1937.5V445.5H1933.7M1937.5 416.4H1937.8V525.5H1937.7M1934.7 301.6H1937.8V470.9H1937.8M1937.5 340.0H1969.6V469.3H1952.9M1933.0 305.0H1937.5V374.0H1933.0M1928.8 382.8H1952.9V556.2H1945.3M1941.2 519.5H1945.3V592.2H1938.0M1935.0 493.4H1941.2V545.9H1936.0M1934.0 574.7H1938.0V609.7H1934.0" stroke="#000" stroke-width="2.3" fill="none"/>
<text x="407.0" y="870.0" font-size="31.3" textLength="189.4" lengthAdjust="spacingAndGlyphs">Dox induction</text>
<path d="M322.0 882.5L682.0 882.5" stroke="#000" stroke-width="2" fill="none"/>
<text x="351.8" y="917.5" font-size="26.6" textLength="52.0" lengthAdjust="spacingAndGlyphs">24 h</text>
<text x="471.0" y="917.5" font-size="26.6" textLength="52.0" lengthAdjust="spacingAndGlyphs">48 h</text>
<text x="592.0" y="917.5" font-size="26.6" textLength="52.0" lengthAdjust="spacingAndGlyphs">72 h</text>
<text x="758.0" y="875.3" font-size="27" textLength="208.0" lengthAdjust="spacingAndGlyphs">WM3734 KDM5B</text>
<path d="M758.0 884.0L966.0 884.0" stroke="#000" stroke-width="2.2" fill="none"/>
<text x="796.5" y="913.5" font-size="30" textLength="35.5" lengthAdjust="spacingAndGlyphs">scr</text>
<text x="897.3" y="913.5" font-size="30" textLength="27.5" lengthAdjust="spacingAndGlyphs">sh</text>
<path d="M762.3 921.8L853.0 921.8" stroke="#000" stroke-width="2" fill="none"/>
<path d="M860.0 921.8L962.3 921.8" stroke="#000" stroke-width="2" fill="none"/>
<rect x="286.80" y="931.80" width="25.20" height="143.20" fill="#3b73b9"/>
<rect x="286.80" y="1074.60" width="25.20" height="230.80" fill="#f39200"/>
<rect x="286.80" y="1305.00" width="25.20" height="124.00" fill="#e42320"/>
<rect x="286.80" y="1428.60" width="25.20" height="56.40" fill="#f5e500"/>
<rect x="286.80" y="1484.60" width="25.20" height="56.50" fill="#662483"/>
<rect x="286.80" y="1540.70" width="25.20" height="270.10" fill="#6fc4d8"/>
<rect x="286.80" y="1810.40" width="25.20" height="81.80" fill="#3aaa35"/>
<rect x="722.20" y="931.50" width="25.30" height="211.90" fill="#3b73b9"/>
<rect x="722.20" y="1143.00" width="25.30" height="191.00" fill="#f39200"/>
<rect x="722.20" y="1333.60" width="25.30" height="118.60" fill="#e42320"/>
<rect x="722.20" y="1451.80" width="25.30" height="47.20" fill="#f5e500"/>
<rect x="722.20" y="1498.60" width="25.30" height="54.70" fill="#662483"/>
<rect x="722.20" y="1552.90" width="25.30" height="229.00" fill="#6fc4d8"/>
<rect x="722.20" y="1781.50" width="25.30" height="110.60" fill="#3aaa35"/>
<path d="M279.6 1892.3H319L299.3 1926.4z" fill="#1d1d1b"/>
<path d="M715.2 1892.3H754L734.8 1925.9z" fill="#1d1d1b"/>
<text x="61.4" y="1010.4" font-size="27.3" font-weight="bold" fill="#1d1d1b" textLength="210.0" lengthAdjust="spacingAndGlyphs">Undifferentiated</text>
<text x="52.9" y="1178.0" font-size="27.3" font-weight="bold" fill="#1d1d1b" textLength="219.1" lengthAdjust="spacingAndGlyphs">Undifferentiated-</text>
<text x="59.0" y="1211.0" font-size="27.3" font-weight="bold" fill="#1d1d1b" textLength="212.4" lengthAdjust="spacingAndGlyphs">Neural crest-like</text>
<text x="59.0" y="1374.0" font-size="27.3" font-weight="bold" fill="#1d1d1b" textLength="212.4" lengthAdjust="spacingAndGlyphs">Neural crest-like</text>
<text x="105.0" y="1445.4" font-size="27.3" font-weight="bold" fill="#1d1d1b" textLength="167.0" lengthAdjust="spacingAndGlyphs">Neural crest-</text>
<text x="85.0" y="1478.0" font-size="27.3" font-weight="bold" fill="#1d1d1b" textLength="185.7" lengthAdjust="spacingAndGlyphs">like-Transitory</text>
<text x="139.0" y="1520.0" font-size="27.3" font-weight="bold" fill="#1d1d1b" textLength="131.7" lengthAdjust="spacingAndGlyphs">Transitory</text>
<text x="130.0" y="1664.0" font-size="27.3" font-weight="bold" fill="#1d1d1b" textLength="142.0" lengthAdjust="spacingAndGlyphs">Transitory-</text>
<text x="115.0" y="1696.8" font-size="27.3" font-weight="bold" fill="#1d1d1b" textLength="155.7" lengthAdjust="spacingAndGlyphs">Melanocytic</text>
<text x="115.0" y="1858.6" font-size="27.3" font-weight="bold" fill="#1d1d1b" textLength="155.7" lengthAdjust="spacingAndGlyphs">Melanocytic</text>
<rect x="322.00" y="932.00" width="360.00" height="959.80" fill="#911916"/>
<g shape-rendering="crispEdges"><path fill="#0b6e35" d="M322 931.5h120v3.0h-120zM322 939.7h120v3.6h-120zM322 950.5h120v3.8h-120zM322 973.4h120v3.0h-120zM322 993.4h120v8.5h-120zM322 1012.8h120v6.0h-120zM322 1038.3h120v3.0h-120zM322 1051.9h120v3.4h-120zM322 1063.4h120v3.2h-120zM322 1150.1h120v2.5h-120zM322 1155.3h120v0.7h-120zM322 1161.3h120v3.2h-120zM322 1166.8h120v6.4h-120zM322 1178.1h120v12.1h-120zM322 1209.7h120v3.0h-120zM322 1214.8h120v6.4h-120zM322 1223.4h120v3.0h-120zM322 1234.8h120v2.7h-120zM322 1254.2h120v11.5h-120zM322 1276.6h120v8.5h-120zM322 1284.8h120v6.4h-120zM322 1302.1h120v3.0h-120zM322 1309.0h120v2.0h-120zM322 1315.8h120v6.0h-120zM322 1324.6h120v3.0h-120zM322 1335.8h120v3.0h-120zM322 1346.6h120v3.4h-120zM322 1355.2h120v8.5h-120zM322 1383.4h120v3.2h-120zM322 1388.9h120v11.5h-120zM322 1403.2h120v3.0h-120zM322 1408.7h120v3.0h-120zM322 1414.0h120v3.2h-120zM322 1419.9h120v6.0h-120zM322 1428.1h120v6.0h-120zM322 1450.7h120v5.8h-120zM322 1464.4h120v6.0h-120zM322 1473.0h120v6.0h-120zM322 1484.2h120v6.0h-120zM322 1503.8h120v3.2h-120zM322 1512.3h120v3.4h-120zM322 1529.3h120v3.4h-120zM322 1534.8h120v6.0h-120zM322 1549.1h120v6.0h-120zM322 1579.7h120v6.0h-120zM322 1588.5h120v3.0h-120zM322 1599.7h120v3.4h-120zM322 1610.9h120v8.5h-120zM322 1625.2h120v3.0h-120zM322 1630.7h120v3.0h-120zM322 1641.3h120v0.6h-120zM322 1641.5h120v6.4h-120zM322 1675.8h120v5.4h-120zM322 1684.0h120v2.7h-120zM322 1692.6h120v3.4h-120zM322 1698.1h120v6.0h-120zM322 1711.9h120v6.0h-120zM322 1731.9h120v5.8h-120zM322 1745.6h120v14.6h-120zM322 1768.5h120v6.0h-120zM322 1777.2h120v3.0h-120zM322 1832.8h120v3.4h-120zM322 1838.5h120v3.0h-120zM322 1846.6h120v6.0h-120zM322 1860.9h120v3.4h-120zM322 1877.2h120v9.5h-120zM442 990.3h120v6.0h-120zM442 1001.5h120v3.0h-120zM442 1006.6h120v6.4h-120zM442 1015.8h120v19.7h-120zM442 1044.0h120v5.2h-120zM442 1116.8h120v2.7h-120zM442 1138.9h120v17.0h-120zM442 1161.7h120v2.7h-120zM442 1166.8h120v3.4h-120zM442 1172.6h120v11.5h-120zM442 1186.8h120v3.2h-120zM442 1206.6h120v3.0h-120zM442 1212.1h120v3.0h-120zM442 1324.6h120v8.5h-120zM442 1338.5h120v2.7h-120zM442 1344.0h120v14.2h-120zM442 1360.9h120v8.3h-120zM442 1377.7h120v3.4h-120zM442 1391.9h120v3.0h-120zM442 1453.6h120v3.4h-120zM442 1464.8h120v14.2h-120zM442 1529.3h120v8.9h-120zM442 1642.1h120v2.7h-120zM442 1776.6h120v3.6h-120zM442 1782.8h120v3.0h-120zM442 1802.1h120v6.0h-120zM562 1001.0h120v23.3h-120zM562 1125.0h120v15.3h-120zM562 1327.0h120v11.3h-120zM562 1462.0h120v6.3h-120zM562 1532.0h120v5.3h-120zM562 1799.0h120v11.7h-120z"/><path fill="#911916" d="M322 934.2h120v3.0h-120zM322 945.4h120v2.7h-120zM322 954.0h120v3.0h-120zM322 959.3h120v3.2h-120zM322 967.9h120v5.8h-120zM322 976.0h120v9.5h-120zM322 987.7h120v3.0h-120zM322 1001.5h120v1.9h-120zM322 1009.5h120v3.6h-120zM322 1020.4h120v6.2h-120zM322 1028.8h120v1.8h-120zM322 1033.7h120v4.9h-120zM322 1040.9h120v6.5h-120zM322 1048.8h120v3.5h-120zM322 1055.0h120v8.7h-120zM322 1066.2h120v4.2h-120zM322 1077.6h120v2.6h-120zM322 1083.2h120v11.1h-120zM322 1094.0h120v3.0h-120zM322 1099.4h120v4.1h-120zM322 1106.3h120v1.7h-120zM322 1114.2h120v5.4h-120zM322 1141.7h120v5.5h-120zM322 1148.7h120v1.7h-120zM322 1189.9h120v8.9h-120zM322 1198.5h120v4.6h-120zM322 1226.0h120v3.5h-120zM322 1232.3h120v1.9h-120zM322 1237.2h120v3.4h-120zM322 1294.0h120v5.4h-120zM322 1439.3h120v3.0h-120zM322 1489.9h120v3.0h-120zM322 1495.6h120v3.2h-120zM322 1501.1h120v3.0h-120zM322 1526.6h120v3.0h-120zM322 1627.9h120v3.2h-120zM322 1658.9h120v3.4h-120zM322 1664.6h120v2.7h-120zM322 1670.1h120v6.0h-120zM322 1695.6h120v2.7h-120zM322 1740.1h120v5.8h-120zM322 1774.2h120v3.4h-120zM322 1779.9h120v2.7h-120zM322 1804.8h120v5.4h-120zM322 1821.5h120v3.0h-120zM322 1827.2h120v4.4h-120zM322 1835.8h120v3.0h-120zM322 1852.3h120v3.2h-120zM322 1869.3h120v3.5h-120zM322 1875.6h120v1.9h-120zM442 939.7h120v3.6h-120zM442 945.4h120v17.0h-120zM442 964.8h120v6.4h-120zM442 987.2h120v3.4h-120zM442 1089.3h120v5.0h-120zM442 1097.0h120v3.4h-120zM442 1103.0h120v3.4h-120zM442 1304.8h120v8.9h-120zM442 1315.8h120v3.4h-120zM442 1428.1h120v23.4h-120zM442 1456.6h120v5.4h-120zM442 1498.5h120v25.4h-120zM442 1526.6h120v3.0h-120zM442 1568.5h120v6.8h-120zM442 1575.0h120v2.5h-120zM442 1594.2h120v8.9h-120zM442 1614.0h120v3.4h-120zM442 1622.1h120v6.0h-120zM442 1630.7h120v11.7h-120zM442 1644.6h120v8.9h-120zM442 1655.8h120v19.7h-120zM442 1684.0h120v82.3h-120zM442 1768.5h120v3.0h-120zM442 1779.9h120v3.2h-120zM442 1796.6h120v3.0h-120zM442 1832.8h120v3.0h-120zM442 1838.5h120v19.7h-120zM442 1860.9h120v16.6h-120zM562 948.0h120v31.3h-120zM562 1092.0h120v20.3h-120zM562 1316.0h120v6.3h-120zM562 1442.0h120v15.3h-120zM562 1518.0h120v14.3h-120zM562 1743.0h120v45.3h-120zM562 1867.0h120v11.3h-120z"/><path fill="#6b1410" d="M322 936.8h120v3.2h-120zM322 943.0h120v2.7h-120zM322 947.9h120v3.0h-120zM322 956.6h120v3.0h-120zM322 962.1h120v6.0h-120zM322 985.2h120v2.7h-120zM322 1003.1h120v6.6h-120zM322 1018.5h120v2.2h-120zM322 1026.3h120v2.8h-120zM322 1030.3h120v3.6h-120zM322 1047.1h120v1.9h-120zM322 1070.2h120v7.7h-120zM322 1079.9h120v3.6h-120zM322 1096.6h120v3.0h-120zM322 1103.1h120v3.5h-120zM322 1111.1h120v3.4h-120zM322 1122.6h120v16.6h-120zM322 1146.9h120v2.1h-120zM322 1155.6h120v6.0h-120zM322 1164.2h120v3.0h-120zM322 1173.0h120v5.4h-120zM322 1202.8h120v7.2h-120zM322 1212.3h120v2.7h-120zM322 1220.9h120v2.7h-120zM322 1229.2h120v3.4h-120zM322 1233.9h120v1.2h-120zM322 1240.3h120v5.0h-120zM322 1245.0h120v9.5h-120zM322 1265.4h120v11.5h-120zM322 1290.9h120v3.4h-120zM322 1299.1h120v3.4h-120zM322 1304.8h120v2.7h-120zM322 1313.4h120v2.7h-120zM322 1321.5h120v3.4h-120zM322 1327.2h120v8.9h-120zM322 1338.5h120v8.5h-120zM322 1349.7h120v5.8h-120zM322 1363.4h120v20.3h-120zM322 1386.2h120v3.0h-120zM322 1400.1h120v3.4h-120zM322 1405.8h120v3.2h-120zM322 1411.3h120v3.0h-120zM322 1416.8h120v3.4h-120zM322 1425.6h120v2.7h-120zM322 1433.8h120v3.0h-120zM322 1456.2h120v8.5h-120zM322 1470.1h120v3.2h-120zM322 1478.7h120v5.8h-120zM322 1506.6h120v6.0h-120zM322 1515.4h120v3.0h-120zM322 1532.3h120v2.7h-120zM322 1554.8h120v3.2h-120zM322 1565.4h120v6.4h-120zM322 1607.9h120v3.4h-120zM322 1633.4h120v3.4h-120zM322 1655.8h120v3.4h-120zM322 1661.9h120v3.0h-120zM322 1667.0h120v3.4h-120zM322 1686.4h120v6.4h-120zM322 1703.8h120v3.4h-120zM322 1723.2h120v3.4h-120zM322 1728.9h120v3.4h-120zM322 1763.0h120v5.8h-120zM322 1787.9h120v11.1h-120zM322 1801.7h120v3.4h-120zM322 1816.0h120v3.0h-120zM322 1831.3h120v1.7h-120zM322 1841.1h120v5.8h-120zM322 1864.0h120v5.6h-120zM322 1872.5h120v3.4h-120zM322 1886.4h120v5.6h-120zM442 962.1h120v3.0h-120zM442 979.1h120v8.5h-120zM442 996.0h120v5.8h-120zM442 1012.8h120v3.4h-120zM442 1094.0h120v3.4h-120zM442 1100.1h120v3.2h-120zM442 1106.0h120v11.1h-120zM442 1119.3h120v19.9h-120zM442 1155.6h120v3.4h-120zM442 1200.9h120v3.0h-120zM442 1226.0h120v3.4h-120zM442 1313.4h120v2.7h-120zM442 1318.9h120v6.0h-120zM442 1332.8h120v6.0h-120zM442 1340.9h120v3.4h-120zM442 1451.1h120v2.7h-120zM442 1461.7h120v3.4h-120zM442 1523.6h120v3.4h-120zM442 1680.9h120v3.4h-120zM442 1766.0h120v2.7h-120zM442 1771.1h120v5.8h-120zM442 1785.4h120v11.5h-120zM442 1799.3h120v3.2h-120zM442 1857.9h120v3.4h-120zM442 1877.2h120v11.9h-120zM562 979.0h120v22.3h-120zM562 1112.0h120v13.3h-120zM562 1322.0h120v5.3h-120zM562 1457.0h120v5.3h-120zM562 1788.0h120v11.3h-120zM562 1878.0h120v11.3h-120z"/><path fill="#06943a" d="M322 990.3h120v3.4h-120zM322 1107.7h120v3.8h-120zM322 1119.3h120v3.6h-120zM322 1138.9h120v3.2h-120zM322 1152.3h120v3.3h-120zM322 1307.2h120v2.1h-120zM322 1310.7h120v3.0h-120zM322 1436.4h120v3.2h-120zM322 1441.9h120v9.1h-120zM322 1492.6h120v3.4h-120zM322 1498.5h120v3.0h-120zM322 1518.1h120v8.9h-120zM322 1540.5h120v8.9h-120zM322 1557.7h120v8.1h-120zM322 1571.5h120v3.8h-120zM322 1575.0h120v5.0h-120zM322 1585.4h120v3.4h-120zM322 1591.1h120v8.9h-120zM322 1602.8h120v5.4h-120zM322 1619.1h120v6.4h-120zM322 1636.4h120v5.2h-120zM322 1647.7h120v5.4h-120zM322 1680.9h120v3.4h-120zM322 1706.8h120v5.4h-120zM322 1717.7h120v5.8h-120zM322 1726.2h120v3.0h-120zM322 1737.4h120v3.0h-120zM322 1759.9h120v3.4h-120zM322 1782.3h120v5.8h-120zM322 1798.7h120v3.4h-120zM322 1809.9h120v6.4h-120zM322 1818.7h120v3.2h-120zM322 1824.2h120v3.4h-120zM322 1855.2h120v6.0h-120zM442 1004.2h120v2.7h-120zM442 1035.2h120v9.1h-120zM442 1048.9h120v11.5h-120zM442 1158.7h120v3.4h-120zM442 1164.2h120v3.0h-120zM442 1169.9h120v3.0h-120zM442 1183.8h120v3.4h-120zM442 1189.7h120v11.5h-120zM442 1203.6h120v3.4h-120zM442 1209.3h120v3.2h-120zM442 1214.8h120v11.5h-120zM442 1231.7h120v13.6h-120zM442 1245.0h120v6.4h-120zM442 1251.1h120v2.1h-120zM442 1254.6h120v3.0h-120zM442 1257.2h120v5.4h-120zM442 1265.5h120v6.2h-120zM442 1357.9h120v3.4h-120zM442 1368.9h120v9.1h-120zM442 1388.9h120v3.4h-120zM442 1394.6h120v5.8h-120zM442 1403.2h120v3.0h-120zM442 1478.7h120v5.8h-120zM442 1537.9h120v3.0h-120zM442 1807.9h120v2.7h-120zM442 1888.9h120v3.2h-120zM562 1024.0h120v31.3h-120zM562 1145.0h120v67.3h-120zM562 1338.0h120v37.3h-120zM562 1468.0h120v14.3h-120zM562 1889.0h120v3.1h-120z"/><path fill="#b61918" d="M322 1652.8h120v3.4h-120zM442 931.5h120v8.5h-120zM442 943.0h120v2.7h-120zM442 1083.2h120v6.4h-120zM442 1484.2h120v3.0h-120zM442 1489.9h120v3.0h-120zM442 1495.6h120v3.2h-120zM442 1551.7h120v5.8h-120zM442 1563.4h120v5.4h-120zM442 1583.0h120v8.9h-120zM442 1602.8h120v11.5h-120zM442 1617.0h120v5.4h-120zM442 1627.9h120v3.2h-120zM442 1653.2h120v3.0h-120zM442 1827.2h120v3.4h-120zM442 1835.4h120v3.4h-120zM562 942.0h120v6.3h-120zM562 1086.0h120v6.3h-120zM562 1310.0h120v6.3h-120zM562 1432.0h120v10.3h-120zM562 1501.0h120v17.3h-120zM562 1661.0h120v82.3h-120zM562 1860.0h120v7.3h-120z"/><path fill="#7a1813" d="M442 970.9h120v8.5h-120z"/><path fill="#3aaa35" d="M442 1060.1h120v6.0h-120zM442 1229.1h120v3.0h-120zM442 1252.9h120v1.9h-120zM442 1262.3h120v3.4h-120zM442 1271.3h120v4.6h-120zM442 1279.4h120v3.7h-120zM442 1292.8h120v5.9h-120zM442 1380.7h120v8.5h-120zM442 1400.1h120v3.4h-120zM442 1405.8h120v5.8h-120zM562 1055.0h120v8.3h-120zM562 1212.0h120v34.3h-120zM562 1375.0h120v27.3h-120zM562 1482.0h120v2.9h-120zM562 1537.0h120v4.0h-120z"/><path fill="#6ab42e" d="M442 1065.8h120v9.5h-120zM442 1299.1h120v6.0h-120zM442 1422.6h120v5.8h-120zM562 1063.0h120v11.9h-120zM562 1268.0h120v37.3h-120zM562 1402.0h120v26.9h-120z"/><path fill="#dc0d15" d="M442 1075.0h120v8.5h-120zM442 1486.8h120v3.4h-120zM442 1546.0h120v6.0h-120zM442 1557.2h120v6.4h-120zM442 1577.2h120v6.0h-120zM442 1591.5h120v3.0h-120zM442 1821.5h120v6.0h-120zM442 1830.3h120v2.7h-120zM562 931.8h120v4.5h-120zM562 1074.6h120v5.7h-120zM562 1305.0h120v5.3h-120zM562 1496.0h120v5.3h-120zM562 1617.0h120v44.3h-120zM562 1845.0h120v7.3h-120z"/><path fill="#5bb030" d="M442 1275.6h120v4.1h-120zM442 1282.8h120v10.3h-120zM442 1298.4h120v0.9h-120zM442 1411.3h120v11.5h-120zM562 1246.0h120v22.3h-120z"/><path fill="#a01a17" d="M442 1492.6h120v3.4h-120zM442 1675.2h120v6.0h-120z"/><path fill="#e4261f" d="M442 1540.5h120v5.8h-120zM442 1810.3h120v11.5h-120zM562 1428.6h120v3.7h-120zM562 1484.6h120v11.7h-120zM562 1540.7h120v76.6h-120zM562 1810.4h120v34.9h-120z"/><path fill="#c81a19" d="M562 936.0h120v6.3h-120zM562 1080.0h120v6.3h-120zM562 1852.0h120v8.3h-120z"/><path fill="#08823a" d="M562 1140.0h120v5.3h-120z"/></g>
<g shape-rendering="crispEdges"><rect x="449.30" y="1904.3" width="7.01" height="24.7" fill="#058c3c"/><rect x="455.81" y="1904.3" width="7.01" height="24.7" fill="#087a36"/><rect x="462.32" y="1904.3" width="7.01" height="24.7" fill="#0a6930"/><rect x="468.84" y="1904.3" width="7.01" height="24.7" fill="#0d582a"/><rect x="475.35" y="1904.3" width="7.01" height="24.7" fill="#104624"/><rect x="481.86" y="1904.3" width="7.01" height="24.7" fill="#0e361d"/><rect x="488.37" y="1904.3" width="7.01" height="24.7" fill="#0c2716"/><rect x="494.88" y="1904.3" width="7.01" height="24.7" fill="#0a180f"/><rect x="501.39" y="1904.3" width="7.01" height="24.7" fill="#080808"/><rect x="507.91" y="1904.3" width="7.01" height="24.7" fill="#290c0c"/><rect x="514.42" y="1904.3" width="7.01" height="24.7" fill="#4a110f"/><rect x="520.93" y="1904.3" width="7.01" height="24.7" fill="#6a1612"/><rect x="527.44" y="1904.3" width="7.01" height="24.7" fill="#8b1a16"/><rect x="533.95" y="1904.3" width="7.01" height="24.7" fill="#a11d18"/><rect x="540.46" y="1904.3" width="7.01" height="24.7" fill="#b8201a"/><rect x="546.98" y="1904.3" width="7.01" height="24.7" fill="#ce221d"/><rect x="553.49" y="1904.3" width="7.01" height="24.7" fill="#e4251f"/></g>
<text x="419.6" y="1924.6" font-size="24" textLength="20.4" lengthAdjust="spacingAndGlyphs">-3</text>
<text x="567.5" y="1924.6" font-size="24" textLength="12.0" lengthAdjust="spacingAndGlyphs">3</text>
<g shape-rendering="crispEdges"><path fill="#05853a" d="M759 951h34v1h-34zM759 972h34v1h-34zM759 981h34v2h-34zM759 1020h34v6h-34zM759 1052h34v3h-34zM759 1080h34v4h-34zM759 1092h34v1h-34zM759 1122h34v6h-34zM759 1140h34v1h-34zM759 1154h34v2h-34zM759 1157h34v2h-34zM759 1160h34v4h-34zM759 1168h34v5h-34zM759 1176h34v2h-34zM759 1191h34v6h-34zM759 1200h34v4h-34zM759 1205h34v5h-34zM759 1213h34v7h-34zM759 1223h34v3h-34zM759 1232h34v8h-34zM759 1247h34v1h-34zM759 1285h34v2h-34zM759 1293h34v2h-34zM759 1300h34v3h-34zM759 1304h34v2h-34zM759 1311h34v3h-34zM759 1317h34v2h-34zM759 1320h34v7h-34zM759 1328h34v4h-34zM759 1338h34v2h-34zM759 1341h34v2h-34zM759 1348h34v1h-34zM759 1351h34v3h-34zM759 1356h34v1h-34zM759 1362h34v3h-34zM759 1367h34v6h-34zM759 1384h34v2h-34zM759 1389h34v2h-34zM759 1392h34v4h-34zM759 1397h34v11h-34zM759 1410h34v2h-34zM759 1413h34v2h-34zM759 1420h34v1h-34zM759 1431h34v1h-34zM759 1453h34v2h-34zM759 1461h34v3h-34zM759 1466h34v3h-34zM759 1476h34v3h-34zM759 1487h34v1h-34zM759 1535h34v5h-34zM759 1546h34v2h-34zM759 1557h34v2h-34zM759 1700h34v3h-34zM759 1706h34v2h-34zM759 1732h34v1h-34zM759 1738h34v2h-34zM759 1773h34v3h-34zM759 1778h34v2h-34zM759 1818h34v2h-34zM759 1845h34v2h-34zM759 1868h34v1h-34zM759 1877h34v2h-34zM759 1890h34v2h-34zM793 933h35v2h-35zM793 946h35v2h-35zM793 949h35v2h-35zM793 957h35v2h-35zM793 960h35v8h-35zM793 980h35v1h-35zM793 984h35v2h-35zM793 1004h35v1h-35zM793 1013h35v2h-35zM793 1031h35v3h-35zM793 1036h35v6h-35zM793 1045h35v2h-35zM793 1056h35v2h-35zM793 1082h35v2h-35zM793 1087h35v1h-35zM793 1093h35v3h-35zM793 1103h35v1h-35zM793 1114h35v2h-35zM793 1120h35v2h-35zM793 1128h35v4h-35zM793 1141h35v5h-35zM793 1154h35v6h-35zM793 1162h35v10h-35zM793 1175h35v1h-35zM793 1181h35v2h-35zM793 1188h35v1h-35zM793 1192h35v4h-35zM793 1199h35v1h-35zM793 1202h35v5h-35zM793 1208h35v2h-35zM793 1212h35v12h-35zM793 1226h35v2h-35zM793 1232h35v2h-35zM793 1239h35v3h-35zM793 1250h35v10h-35zM793 1261h35v3h-35zM793 1266h35v2h-35zM793 1272h35v4h-35zM793 1277h35v3h-35zM793 1285h35v2h-35zM793 1290h35v6h-35zM793 1300h35v8h-35zM793 1309h35v3h-35zM793 1319h35v1h-35zM793 1328h35v4h-35zM793 1333h35v8h-35zM793 1348h35v1h-35zM793 1352h35v2h-35zM793 1356h35v3h-35zM793 1360h35v2h-35zM793 1367h35v1h-35zM793 1376h35v2h-35zM793 1380h35v1h-35zM793 1383h35v3h-35zM793 1388h35v6h-35zM793 1400h35v2h-35zM793 1407h35v6h-35zM793 1418h35v2h-35zM793 1423h35v1h-35zM793 1431h35v3h-35zM793 1440h35v4h-35zM793 1447h35v8h-35zM793 1460h35v3h-35zM793 1468h35v1h-35zM793 1477h35v8h-35zM793 1509h35v2h-35zM793 1514h35v2h-35zM793 1522h35v2h-35zM793 1525h35v3h-35zM793 1548h35v1h-35zM793 1581h35v2h-35zM793 1644h35v4h-35zM793 1650h35v2h-35zM793 1655h35v1h-35zM793 1711h35v3h-35zM793 1717h35v2h-35zM793 1756h35v1h-35zM793 1773h35v2h-35zM793 1781h35v2h-35zM793 1789h35v2h-35zM793 1815h35v1h-35zM793 1820h35v1h-35zM793 1824h35v5h-35zM793 1837h35v5h-35zM793 1866h35v3h-35zM828 941h34v3h-34zM828 956h34v1h-34zM828 960h34v7h-34zM828 972h34v1h-34zM828 999h34v1h-34zM828 1008h34v5h-34zM828 1023h34v6h-34zM828 1047h34v1h-34zM828 1055h34v1h-34zM828 1060h34v1h-34zM828 1066h34v2h-34zM828 1076h34v1h-34zM828 1082h34v3h-34zM828 1100h34v3h-34zM828 1114h34v3h-34zM828 1120h34v2h-34zM828 1138h34v10h-34zM828 1165h34v3h-34zM828 1170h34v2h-34zM828 1176h34v4h-34zM828 1189h34v3h-34zM828 1202h34v3h-34zM828 1223h34v3h-34zM828 1260h34v1h-34zM828 1264h34v7h-34zM828 1293h34v7h-34zM828 1314h34v11h-34zM828 1327h34v3h-34zM828 1335h34v1h-34zM828 1348h34v6h-34zM828 1359h34v8h-34zM828 1380h34v3h-34zM828 1386h34v6h-34zM828 1408h34v4h-34zM828 1413h34v8h-34zM828 1432h34v5h-34zM828 1439h34v3h-34zM828 1455h34v1h-34zM828 1460h34v6h-34zM828 1471h34v1h-34zM828 1479h34v3h-34zM828 1485h34v2h-34zM828 1490h34v3h-34zM828 1495h34v3h-34zM828 1500h34v1h-34zM828 1503h34v1h-34zM828 1509h34v10h-34zM828 1525h34v2h-34zM828 1535h34v3h-34zM828 1540h34v4h-34zM828 1546h34v3h-34zM828 1554h34v3h-34zM828 1559h34v1h-34zM828 1562h34v3h-34zM828 1572h34v1h-34zM828 1586h34v6h-34zM828 1599h34v1h-34zM828 1602h34v2h-34zM828 1610h34v2h-34zM828 1624h34v2h-34zM828 1655h34v1h-34zM828 1671h34v1h-34zM828 1696h34v4h-34zM828 1703h34v3h-34zM828 1708h34v1h-34zM828 1746h34v3h-34zM828 1783h34v1h-34zM828 1805h34v2h-34zM828 1812h34v1h-34zM828 1824h34v2h-34zM828 1831h34v1h-34zM828 1844h34v1h-34zM828 1852h34v3h-34zM828 1882h34v2h-34zM828 1890h34v2h-34zM862 932h34v3h-34zM862 940h34v1h-34zM862 957h34v2h-34zM862 975h34v3h-34zM862 1000h34v2h-34zM862 1016h34v2h-34zM862 1031h34v3h-34zM862 1039h34v5h-34zM862 1048h34v2h-34zM862 1063h34v5h-34zM862 1088h34v5h-34zM862 1096h34v2h-34zM862 1106h34v2h-34zM862 1130h34v3h-34zM862 1136h34v2h-34zM862 1162h34v10h-34zM862 1173h34v2h-34zM862 1178h34v2h-34zM862 1186h34v2h-34zM862 1192h34v4h-34zM862 1199h34v1h-34zM862 1215h34v6h-34zM862 1234h34v2h-34zM862 1237h34v2h-34zM862 1245h34v2h-34zM862 1250h34v2h-34zM862 1260h34v1h-34zM862 1272h34v5h-34zM862 1287h34v1h-34zM862 1293h34v2h-34zM862 1296h34v2h-34zM862 1301h34v3h-34zM862 1306h34v2h-34zM862 1316h34v1h-34zM862 1397h34v3h-34zM862 1442h34v2h-34zM862 1468h34v1h-34zM862 1504h34v2h-34zM862 1511h34v5h-34zM862 1520h34v2h-34zM862 1525h34v2h-34zM862 1528h34v2h-34zM862 1533h34v3h-34zM862 1549h34v2h-34zM862 1556h34v1h-34zM862 1573h34v2h-34zM862 1584h34v7h-34zM862 1599h34v3h-34zM862 1604h34v4h-34zM862 1613h34v2h-34zM862 1629h34v7h-34zM862 1640h34v7h-34zM862 1668h34v1h-34zM862 1687h34v1h-34zM862 1708h34v4h-34zM862 1717h34v7h-34zM862 1733h34v3h-34zM862 1738h34v2h-34zM862 1741h34v2h-34zM862 1746h34v11h-34zM862 1760h34v5h-34zM862 1772h34v1h-34zM862 1775h34v8h-34zM862 1791h34v1h-34zM862 1800h34v8h-34zM862 1821h34v2h-34zM862 1836h34v1h-34zM862 1839h34v8h-34zM862 1848h34v4h-34zM862 1855h34v3h-34zM862 1863h34v1h-34zM862 1866h34v6h-34zM862 1888h34v4h-34zM896 956h35v3h-35zM896 972h35v1h-35zM896 980h35v3h-35zM896 988h35v3h-35zM896 1012h35v1h-35zM896 1018h35v5h-35zM896 1029h35v3h-35zM896 1034h35v2h-35zM896 1048h35v2h-35zM896 1069h35v2h-35zM896 1122h35v5h-35zM896 1135h35v5h-35zM896 1141h35v2h-35zM896 1149h35v2h-35zM896 1159h35v1h-35zM896 1165h35v2h-35zM896 1188h35v3h-35zM896 1199h35v1h-35zM896 1216h35v4h-35zM896 1258h35v2h-35zM896 1269h35v3h-35zM896 1287h35v3h-35zM896 1292h35v1h-35zM896 1298h35v2h-35zM896 1304h35v2h-35zM896 1320h35v5h-35zM896 1335h35v1h-35zM896 1375h35v3h-35zM896 1396h35v1h-35zM896 1416h35v2h-35zM896 1429h35v2h-35zM896 1444h35v1h-35zM896 1477h35v2h-35zM896 1504h35v4h-35zM896 1511h35v1h-35zM896 1517h35v2h-35zM896 1525h35v2h-35zM896 1535h35v3h-35zM896 1546h35v2h-35zM896 1556h35v4h-35zM896 1567h35v1h-35zM896 1578h35v3h-35zM896 1583h35v3h-35zM896 1594h35v3h-35zM896 1599h35v5h-35zM896 1605h35v7h-35zM896 1615h35v1h-35zM896 1629h35v3h-35zM896 1639h35v1h-35zM896 1656h35v5h-35zM896 1671h35v3h-35zM896 1680h35v2h-35zM896 1692h35v4h-35zM896 1701h35v3h-35zM896 1709h35v2h-35zM896 1712h35v5h-35zM896 1719h35v3h-35zM896 1727h35v5h-35zM896 1733h35v3h-35zM896 1743h35v5h-35zM896 1749h35v3h-35zM896 1762h35v2h-35zM896 1765h35v2h-35zM896 1772h35v1h-35zM896 1775h35v1h-35zM896 1781h35v10h-35zM896 1792h35v5h-35zM896 1804h35v3h-35zM896 1808h35v7h-35zM896 1818h35v2h-35zM896 1823h35v5h-35zM896 1831h35v1h-35zM896 1840h35v2h-35zM896 1844h35v1h-35zM896 1853h35v3h-35zM896 1858h35v2h-35zM896 1863h35v1h-35zM896 1879h35v1h-35zM896 1884h35v6h-35zM931 932h34v1h-34zM931 940h34v4h-34zM931 948h34v4h-34zM931 965h34v3h-34zM931 970h34v2h-34zM931 986h34v5h-34zM931 992h34v2h-34zM931 996h34v3h-34zM931 1008h34v2h-34zM931 1012h34v1h-34zM931 1018h34v2h-34zM931 1021h34v2h-34zM931 1024h34v2h-34zM931 1028h34v1h-34zM931 1036h34v1h-34zM931 1040h34v2h-34zM931 1045h34v2h-34zM931 1052h34v1h-34zM931 1068h34v3h-34zM931 1074h34v2h-34zM931 1082h34v5h-34zM931 1106h34v3h-34zM931 1120h34v2h-34zM931 1133h34v2h-34zM931 1159h34v1h-34zM931 1186h34v2h-34zM931 1196h34v1h-34zM931 1245h34v2h-34zM931 1250h34v6h-34zM931 1304h34v5h-34zM931 1320h34v2h-34zM931 1365h34v2h-34zM931 1402h34v6h-34zM931 1428h34v1h-34zM931 1436h34v3h-34zM931 1444h34v1h-34zM931 1453h34v5h-34zM931 1461h34v2h-34zM931 1468h34v1h-34zM931 1480h34v2h-34zM931 1484h34v6h-34zM931 1493h34v10h-34zM931 1522h34v3h-34zM931 1527h34v1h-34zM931 1548h34v1h-34zM931 1554h34v6h-34zM931 1572h34v1h-34zM931 1584h34v4h-34zM931 1597h34v2h-34zM931 1602h34v8h-34zM931 1618h34v5h-34zM931 1639h34v3h-34zM931 1644h34v1h-34zM931 1648h34v7h-34zM931 1656h34v2h-34zM931 1668h34v3h-34zM931 1674h34v3h-34zM931 1679h34v1h-34zM931 1682h34v5h-34zM931 1696h34v5h-34zM931 1711h34v1h-34zM931 1725h34v3h-34zM931 1733h34v3h-34zM931 1741h34v5h-34zM931 1749h34v19h-34zM931 1775h34v1h-34zM931 1778h34v3h-34zM931 1786h34v11h-34zM931 1804h34v1h-34zM931 1808h34v4h-34zM931 1813h34v2h-34zM931 1818h34v2h-34zM931 1824h34v2h-34zM931 1828h34v1h-34zM931 1832h34v2h-34zM931 1839h34v9h-34zM931 1850h34v2h-34zM931 1856h34v2h-34zM931 1860h34v3h-34zM931 1866h34v2h-34zM931 1871h34v5h-34zM931 1877h34v3h-34zM931 1882h34v3h-34z"/><path fill="#057333" d="M759 940h34v1h-34zM759 1016h34v4h-34zM759 1055h34v3h-34zM759 1060h34v4h-34zM759 1066h34v5h-34zM759 1084h34v1h-34zM759 1088h34v2h-34zM759 1173h34v2h-34zM759 1210h34v3h-34zM759 1256h34v2h-34zM759 1264h34v4h-34zM759 1303h34v1h-34zM759 1343h34v1h-34zM759 1381h34v2h-34zM759 1396h34v1h-34zM759 1421h34v2h-34zM759 1439h34v3h-34zM759 1520h34v2h-34zM759 1540h34v1h-34zM759 1543h34v1h-34zM759 1696h34v2h-34zM759 1824h34v2h-34zM759 1828h34v1h-34zM793 941h35v2h-35zM793 944h35v2h-35zM793 994h35v2h-35zM793 999h35v1h-35zM793 1026h35v2h-35zM793 1060h35v1h-35zM793 1076h35v1h-35zM793 1079h35v1h-35zM793 1111h35v1h-35zM793 1122h35v2h-35zM793 1148h35v3h-35zM793 1210h35v2h-35zM793 1229h35v3h-35zM793 1320h35v2h-35zM793 1341h35v2h-35zM793 1359h35v1h-35zM793 1368h35v4h-35zM793 1373h35v2h-35zM793 1405h35v2h-35zM793 1464h35v2h-35zM793 1498h35v2h-35zM793 1528h35v4h-35zM793 1541h35v2h-35zM793 1568h35v2h-35zM793 1594h35v2h-35zM793 1616h35v2h-35zM793 1672h35v2h-35zM793 1695h35v3h-35zM793 1714h35v2h-35zM793 1776h35v4h-35zM793 1791h35v3h-35zM793 1796h35v1h-35zM793 1858h35v2h-35zM828 946h34v2h-34zM828 967h34v1h-34zM828 996h34v1h-34zM828 1000h34v5h-34zM828 1029h34v2h-34zM828 1039h34v1h-34zM828 1050h34v5h-34zM828 1061h34v2h-34zM828 1088h34v2h-34zM828 1093h34v7h-34zM828 1132h34v6h-34zM828 1168h34v2h-34zM828 1180h34v1h-34zM828 1188h34v1h-34zM828 1212h34v1h-34zM828 1218h34v5h-34zM828 1228h34v1h-34zM828 1231h34v1h-34zM828 1250h34v6h-34zM828 1272h34v4h-34zM828 1288h34v4h-34zM828 1311h34v1h-34zM828 1421h34v2h-34zM828 1437h34v2h-34zM828 1445h34v3h-34zM828 1458h34v2h-34zM828 1519h34v3h-34zM828 1527h34v1h-34zM828 1551h34v1h-34zM828 1565h34v2h-34zM828 1570h34v2h-34zM828 1644h34v1h-34zM828 1706h34v2h-34zM828 1724h34v1h-34zM828 1792h34v2h-34zM828 1802h34v2h-34zM828 1823h34v1h-34zM828 1836h34v1h-34zM862 949h34v2h-34zM862 960h34v2h-34zM862 983h34v3h-34zM862 1005h34v3h-34zM862 1028h34v1h-34zM862 1047h34v1h-34zM862 1052h34v1h-34zM862 1068h34v1h-34zM862 1093h34v2h-34zM862 1151h34v1h-34zM862 1304h34v2h-34zM862 1330h34v2h-34zM862 1444h34v1h-34zM862 1477h34v2h-34zM862 1516h34v1h-34zM862 1522h34v3h-34zM862 1560h34v2h-34zM862 1572h34v1h-34zM862 1578h34v2h-34zM862 1592h34v2h-34zM862 1596h34v1h-34zM862 1618h34v5h-34zM862 1626h34v2h-34zM862 1637h34v3h-34zM862 1669h34v2h-34zM862 1680h34v2h-34zM862 1688h34v5h-34zM862 1704h34v2h-34zM862 1767h34v3h-34zM862 1792h34v2h-34zM862 1820h34v1h-34zM862 1824h34v5h-34zM862 1853h34v2h-34zM896 949h35v2h-35zM896 967h35v1h-35zM896 1056h35v2h-35zM896 1098h35v3h-35zM896 1104h35v2h-35zM896 1112h35v5h-35zM896 1157h35v2h-35zM896 1168h35v2h-35zM896 1183h35v1h-35zM896 1186h35v2h-35zM896 1452h35v4h-35zM896 1464h35v4h-35zM896 1528h35v4h-35zM896 1551h35v1h-35zM896 1588h35v4h-35zM896 1612h35v3h-35zM896 1628h35v1h-35zM896 1652h35v3h-35zM896 1661h35v2h-35zM896 1690h35v2h-35zM896 1704h35v2h-35zM896 1722h35v2h-35zM896 1725h35v2h-35zM896 1741h35v2h-35zM896 1752h35v4h-35zM896 1770h35v2h-35zM896 1773h35v2h-35zM896 1834h35v2h-35zM896 1852h35v1h-35zM896 1860h35v1h-35zM931 936h34v4h-34zM931 959h34v3h-34zM931 972h34v3h-34zM931 984h34v2h-34zM931 999h34v1h-34zM931 1044h34v1h-34zM931 1048h34v2h-34zM931 1061h34v2h-34zM931 1064h34v4h-34zM931 1114h34v2h-34zM931 1200h34v2h-34zM931 1212h34v3h-34zM931 1231h34v1h-34zM931 1277h34v2h-34zM931 1301h34v2h-34zM931 1357h34v3h-34zM931 1426h34v2h-34zM931 1479h34v1h-34zM931 1519h34v1h-34zM931 1540h34v1h-34zM931 1560h34v2h-34zM931 1564h34v1h-34zM931 1581h34v2h-34zM931 1592h34v2h-34zM931 1599h34v3h-34zM931 1623h34v1h-34zM931 1647h34v1h-34zM931 1663h34v5h-34zM931 1701h34v2h-34zM931 1716h34v3h-34zM931 1722h34v2h-34zM931 1746h34v2h-34zM931 1887h34v1h-34z"/><path fill="#064f24" d="M759 941h34v7h-34zM759 954h34v2h-34zM759 957h34v2h-34zM759 1000h34v2h-34zM759 1004h34v3h-34zM759 1037h34v5h-34zM759 1048h34v4h-34zM759 1076h34v3h-34zM759 1093h34v3h-34zM759 1130h34v5h-34zM759 1178h34v3h-34zM759 1327h34v1h-34zM759 1340h34v1h-34zM759 1346h34v2h-34zM759 1357h34v2h-34zM759 1383h34v1h-34zM759 1415h34v5h-34zM759 1437h34v2h-34zM759 1447h34v6h-34zM759 1464h34v2h-34zM759 1516h34v1h-34zM759 1604h34v1h-34zM759 1727h34v3h-34zM759 1733h34v2h-34zM759 1746h34v2h-34zM759 1799h34v1h-34zM759 1853h34v2h-34zM759 1876h34v1h-34zM793 954h35v3h-35zM793 981h35v2h-35zM793 1010h35v2h-35zM793 1058h35v2h-35zM793 1064h35v2h-35zM793 1077h35v2h-35zM793 1084h35v1h-35zM793 1098h35v5h-35zM793 1200h35v2h-35zM793 1228h35v1h-35zM793 1247h35v3h-35zM793 1264h35v2h-35zM793 1280h35v4h-35zM793 1322h35v6h-35zM793 1349h35v2h-35zM793 1354h35v2h-35zM793 1362h35v2h-35zM793 1372h35v1h-35zM793 1381h35v2h-35zM793 1394h35v2h-35zM793 1404h35v1h-35zM793 1421h35v2h-35zM793 1434h35v2h-35zM793 1444h35v3h-35zM793 1492h35v1h-35zM793 1552h35v2h-35zM793 1565h35v3h-35zM793 1653h35v2h-35zM793 1684h35v1h-35zM793 1724h35v3h-35zM793 1735h35v1h-35zM793 1797h35v2h-35zM793 1853h35v3h-35zM828 1032h34v4h-34zM828 1045h34v2h-34zM828 1056h34v4h-34zM828 1068h34v3h-34zM828 1077h34v2h-34zM828 1125h34v3h-34zM828 1148h34v1h-34zM828 1152h34v2h-34zM828 1157h34v5h-34zM828 1186h34v2h-34zM828 1192h34v2h-34zM828 1205h34v3h-34zM828 1216h34v2h-34zM828 1237h34v3h-34zM828 1271h34v1h-34zM828 1287h34v1h-34zM828 1292h34v1h-34zM828 1301h34v2h-34zM828 1336h34v2h-34zM828 1375h34v5h-34zM828 1392h34v8h-34zM828 1402h34v3h-34zM828 1424h34v2h-34zM828 1442h34v3h-34zM828 1466h34v5h-34zM828 1472h34v2h-34zM828 1482h34v3h-34zM828 1493h34v2h-34zM828 1508h34v1h-34zM828 1629h34v2h-34zM828 1728h34v4h-34zM828 1740h34v1h-34zM828 1810h34v2h-34zM828 1840h34v2h-34zM828 1885h34v2h-34zM862 1020h34v3h-34zM862 1055h34v3h-34zM862 1069h34v2h-34zM862 1135h34v1h-34zM862 1146h34v3h-34zM862 1317h34v7h-34zM862 1469h34v2h-34zM862 1501h34v2h-34zM862 1548h34v1h-34zM862 1551h34v1h-34zM862 1568h34v2h-34zM862 1575h34v1h-34zM862 1594h34v2h-34zM862 1597h34v2h-34zM862 1628h34v1h-34zM862 1671h34v8h-34zM862 1693h34v3h-34zM862 1743h34v1h-34zM862 1757h34v2h-34zM862 1773h34v2h-34zM862 1783h34v1h-34zM862 1796h34v1h-34zM862 1799h34v1h-34zM862 1829h34v2h-34zM862 1887h34v1h-34zM896 948h35v1h-35zM896 951h35v1h-35zM896 968h35v4h-35zM896 978h35v2h-35zM896 992h35v5h-35zM896 999h35v1h-35zM896 1064h35v5h-35zM896 1087h35v1h-35zM896 1132h35v1h-35zM896 1140h35v1h-35zM896 1236h35v1h-35zM896 1274h35v2h-35zM896 1277h35v2h-35zM896 1290h35v2h-35zM896 1293h35v2h-35zM896 1370h35v3h-35zM896 1405h35v2h-35zM896 1496h35v4h-35zM896 1519h35v1h-35zM896 1568h35v2h-35zM896 1573h35v2h-35zM896 1620h35v1h-35zM896 1640h35v4h-35zM896 1696h35v5h-35zM896 1757h35v5h-35zM896 1767h35v1h-35zM896 1797h35v3h-35zM896 1815h35v1h-35zM896 1832h35v2h-35zM896 1837h35v3h-35zM896 1871h35v8h-35zM896 1890h35v2h-35zM931 952h34v2h-34zM931 983h34v1h-34zM931 1092h34v3h-34zM931 1127h34v1h-34zM931 1165h34v2h-34zM931 1188h34v1h-34zM931 1237h34v2h-34zM931 1290h34v2h-34zM931 1314h34v2h-34zM931 1319h34v1h-34zM931 1360h34v4h-34zM931 1528h34v2h-34zM931 1568h34v2h-34zM931 1588h34v3h-34zM931 1596h34v1h-34zM931 1634h34v2h-34zM931 1680h34v2h-34zM931 1719h34v3h-34zM931 1736h34v4h-34zM931 1768h34v5h-34zM931 1800h34v2h-34zM931 1807h34v1h-34zM931 1834h34v3h-34zM931 1864h34v2h-34zM931 1876h34v1h-34zM931 1888h34v4h-34z"/><path fill="#07371a" d="M759 932h34v1h-34zM759 1119h34v1h-34zM759 1148h34v3h-34zM759 1156h34v1h-34zM759 1181h34v7h-34zM759 1204h34v1h-34zM759 1220h34v1h-34zM759 1226h34v2h-34zM759 1258h34v2h-34zM759 1274h34v2h-34zM759 1287h34v5h-34zM759 1295h34v5h-34zM759 1316h34v1h-34zM759 1333h34v2h-34zM759 1359h34v1h-34zM759 1373h34v8h-34zM759 1408h34v2h-34zM759 1426h34v2h-34zM759 1432h34v2h-34zM759 1442h34v2h-34zM759 1455h34v3h-34zM759 1469h34v2h-34zM759 1490h34v3h-34zM759 1503h34v6h-34zM759 1519h34v1h-34zM759 1525h34v2h-34zM759 1586h34v3h-34zM759 1679h34v1h-34zM759 1690h34v2h-34zM759 1693h34v3h-34zM759 1794h34v2h-34zM759 1800h34v2h-34zM759 1858h34v3h-34zM759 1869h34v2h-34zM759 1887h34v1h-34zM793 976h35v2h-35zM793 1005h35v2h-35zM793 1015h35v3h-35zM793 1116h35v1h-35zM793 1172h35v1h-35zM793 1189h35v3h-35zM793 1207h35v1h-35zM793 1287h35v1h-35zM793 1332h35v1h-35zM793 1343h35v5h-35zM793 1375h35v1h-35zM793 1397h35v2h-35zM793 1402h35v2h-35zM793 1424h35v2h-35zM793 1428h35v3h-35zM793 1455h35v1h-35zM793 1458h35v2h-35zM793 1466h35v2h-35zM793 1471h35v5h-35zM793 1501h35v2h-35zM793 1536h35v2h-35zM793 1549h35v2h-35zM793 1589h35v5h-35zM793 1658h35v2h-35zM793 1680h35v4h-35zM828 940h34v1h-34zM828 949h34v2h-34zM828 988h34v4h-34zM828 1040h34v4h-34zM828 1064h34v2h-34zM828 1072h34v4h-34zM828 1085h34v3h-34zM828 1090h34v3h-34zM828 1122h34v3h-34zM828 1151h34v1h-34zM828 1164h34v1h-34zM828 1175h34v1h-34zM828 1194h34v2h-34zM828 1208h34v4h-34zM828 1213h34v3h-34zM828 1300h34v1h-34zM828 1330h34v2h-34zM828 1354h34v5h-34zM828 1412h34v1h-34zM828 1426h34v2h-34zM828 1429h34v2h-34zM828 1448h34v7h-34zM828 1474h34v5h-34zM828 1506h34v2h-34zM828 1679h34v1h-34zM828 1776h34v2h-34zM828 1780h34v1h-34zM828 1850h34v2h-34zM828 1856h34v2h-34zM862 964h34v1h-34zM862 978h34v2h-34zM862 986h34v3h-34zM862 991h34v5h-34zM862 997h34v2h-34zM862 1013h34v2h-34zM862 1077h34v2h-34zM862 1095h34v1h-34zM862 1098h34v2h-34zM862 1104h34v2h-34zM862 1124h34v1h-34zM862 1128h34v2h-34zM862 1140h34v1h-34zM862 1223h34v3h-34zM862 1288h34v2h-34zM862 1298h34v3h-34zM862 1325h34v2h-34zM862 1386h34v2h-34zM862 1391h34v3h-34zM862 1407h34v1h-34zM862 1436h34v1h-34zM862 1439h34v1h-34zM862 1509h34v2h-34zM862 1536h34v10h-34zM862 1552h34v2h-34zM862 1570h34v2h-34zM862 1608h34v5h-34zM862 1666h34v2h-34zM862 1679h34v1h-34zM862 1732h34v1h-34zM862 1744h34v2h-34zM862 1815h34v1h-34zM862 1860h34v3h-34zM862 1876h34v1h-34zM862 1880h34v7h-34zM896 984h35v4h-35zM896 1004h35v4h-35zM896 1023h35v1h-35zM896 1036h35v3h-35zM896 1052h35v1h-35zM896 1152h35v2h-35zM896 1272h35v2h-35zM896 1295h35v1h-35zM896 1306h35v3h-35zM896 1314h35v2h-35zM896 1328h35v4h-35zM896 1367h35v1h-35zM896 1400h35v2h-35zM896 1413h35v2h-35zM896 1490h35v2h-35zM896 1500h35v1h-35zM896 1508h35v1h-35zM896 1527h35v1h-35zM896 1560h35v2h-35zM896 1592h35v2h-35zM896 1604h35v1h-35zM896 1632h35v5h-35zM896 1644h35v4h-35zM896 1650h35v2h-35zM896 1663h35v1h-35zM896 1666h35v2h-35zM896 1688h35v2h-35zM896 1706h35v3h-35zM896 1764h35v1h-35zM896 1776h35v5h-35zM896 1816h35v2h-35zM896 1820h35v1h-35zM896 1836h35v1h-35zM896 1847h35v5h-35zM896 1861h35v2h-35zM896 1866h35v5h-35zM931 935h34v1h-34zM931 1000h34v2h-34zM931 1020h34v1h-34zM931 1031h34v1h-34zM931 1042h34v2h-34zM931 1047h34v1h-34zM931 1125h34v2h-34zM931 1157h34v2h-34zM931 1181h34v5h-34zM931 1202h34v2h-34zM931 1207h34v1h-34zM931 1215h34v1h-34zM931 1292h34v1h-34zM931 1439h34v1h-34zM931 1508h34v1h-34zM931 1525h34v2h-34zM931 1530h34v2h-34zM931 1565h34v3h-34zM931 1570h34v2h-34zM931 1583h34v1h-34zM931 1594h34v2h-34zM931 1629h34v2h-34zM931 1636h34v3h-34zM931 1645h34v2h-34zM931 1655h34v1h-34zM931 1661h34v2h-34zM931 1692h34v1h-34zM931 1728h34v5h-34zM931 1815h34v3h-34zM931 1820h34v4h-34zM931 1837h34v2h-34zM931 1852h34v1h-34zM931 1868h34v3h-34z"/><path fill="#080806" d="M759 988h34v1h-34zM759 1085h34v2h-34zM759 1108h34v6h-34zM759 1135h34v1h-34zM759 1188h34v3h-34zM759 1260h34v3h-34zM759 1292h34v1h-34zM759 1335h34v3h-34zM759 1344h34v2h-34zM759 1349h34v2h-34zM759 1365h34v2h-34zM759 1386h34v3h-34zM759 1391h34v1h-34zM759 1428h34v3h-34zM759 1460h34v1h-34zM759 1479h34v6h-34zM759 1495h34v1h-34zM759 1533h34v2h-34zM759 1548h34v1h-34zM759 1559h34v1h-34zM759 1576h34v4h-34zM759 1626h34v5h-34zM759 1653h34v3h-34zM759 1658h34v2h-34zM759 1780h34v3h-34zM759 1802h34v3h-34zM759 1812h34v1h-34zM759 1861h34v2h-34zM793 940h35v1h-35zM793 948h35v1h-35zM793 951h35v3h-35zM793 968h35v2h-35zM793 1028h35v3h-35zM793 1047h35v8h-35zM793 1066h35v2h-35zM793 1092h35v1h-35zM793 1109h35v2h-35zM793 1119h35v1h-35zM793 1160h35v2h-35zM793 1184h35v2h-35zM793 1234h35v5h-35zM793 1242h35v2h-35zM793 1288h35v2h-35zM793 1308h35v1h-35zM793 1316h35v3h-35zM793 1378h35v2h-35zM793 1386h35v2h-35zM793 1413h35v2h-35zM793 1420h35v1h-35zM793 1426h35v2h-35zM793 1469h35v2h-35zM793 1485h35v7h-35zM793 1495h35v3h-35zM793 1508h35v1h-35zM793 1516h35v1h-35zM793 1546h35v2h-35zM793 1610h35v2h-35zM793 1642h35v2h-35zM793 1732h35v1h-35zM793 1749h35v2h-35zM793 1768h35v2h-35zM793 1802h35v8h-35zM828 968h34v4h-34zM828 976h34v7h-34zM828 1048h34v2h-34zM828 1080h34v2h-34zM828 1103h34v5h-34zM828 1128h34v4h-34zM828 1236h34v1h-34zM828 1240h34v8h-34zM828 1256h34v4h-34zM828 1276h34v6h-34zM828 1383h34v3h-34zM828 1400h34v2h-34zM828 1405h34v3h-34zM828 1423h34v1h-34zM828 1428h34v1h-34zM828 1456h34v2h-34zM828 1530h34v2h-34zM828 1725h34v2h-34zM828 1760h34v2h-34zM828 1818h34v2h-34zM828 1845h34v5h-34zM828 1855h34v1h-34zM828 1863h34v5h-34zM862 938h34v2h-34zM862 970h34v3h-34zM862 1015h34v1h-34zM862 1044h34v1h-34zM862 1079h34v1h-34zM862 1160h34v2h-34zM862 1204h34v1h-34zM862 1248h34v2h-34zM862 1312h34v2h-34zM862 1437h34v2h-34zM862 1498h34v2h-34zM862 1506h34v3h-34zM862 1530h34v3h-34zM862 1591h34v1h-34zM862 1615h34v3h-34zM862 1636h34v1h-34zM862 1647h34v1h-34zM862 1656h34v2h-34zM862 1696h34v7h-34zM862 1712h34v2h-34zM862 1724h34v3h-34zM862 1728h34v2h-34zM862 1736h34v2h-34zM862 1765h34v2h-34zM862 1797h34v2h-34zM862 1808h34v4h-34zM862 1813h34v2h-34zM862 1816h34v2h-34zM862 1823h34v1h-34zM862 1832h34v4h-34zM862 1837h34v2h-34zM862 1847h34v1h-34zM862 1852h34v1h-34zM862 1872h34v4h-34zM896 946h35v2h-35zM896 991h35v1h-35zM896 1015h35v3h-35zM896 1026h35v2h-35zM896 1047h35v1h-35zM896 1055h35v1h-35zM896 1058h35v6h-35zM896 1076h35v1h-35zM896 1079h35v3h-35zM896 1128h35v2h-35zM896 1133h35v2h-35zM896 1247h35v1h-35zM896 1261h35v3h-35zM896 1282h35v5h-35zM896 1300h35v4h-35zM896 1309h35v3h-35zM896 1336h35v4h-35zM896 1581h35v2h-35zM896 1597h35v2h-35zM896 1616h35v2h-35zM896 1621h35v2h-35zM896 1664h35v2h-35zM896 1674h35v6h-35zM896 1684h35v4h-35zM896 1711h35v1h-35zM896 1717h35v2h-35zM896 1732h35v1h-35zM896 1738h35v3h-35zM896 1748h35v1h-35zM896 1756h35v1h-35zM896 1791h35v1h-35zM896 1800h35v2h-35zM896 1882h35v2h-35zM931 956h34v1h-34zM931 962h34v2h-34zM931 975h34v1h-34zM931 1016h34v2h-34zM931 1023h34v1h-34zM931 1103h34v1h-34zM931 1116h34v1h-34zM931 1192h34v4h-34zM931 1232h34v4h-34zM931 1263h34v1h-34zM931 1279h34v6h-34zM931 1287h34v3h-34zM931 1303h34v1h-34zM931 1364h34v1h-34zM931 1549h34v2h-34zM931 1573h34v2h-34zM931 1613h34v3h-34zM931 1658h34v2h-34zM931 1671h34v3h-34zM931 1687h34v3h-34zM931 1693h34v3h-34zM931 1704h34v7h-34zM931 1740h34v1h-34zM931 1773h34v2h-34zM931 1797h34v3h-34zM931 1826h34v2h-34zM931 1853h34v3h-34zM931 1880h34v2h-34z"/><path fill="#5f1411" d="M759 956h34v1h-34zM759 964h34v1h-34zM759 967h34v1h-34zM759 980h34v1h-34zM759 1015h34v1h-34zM759 1090h34v2h-34zM759 1120h34v2h-34zM759 1197h34v3h-34zM759 1354h34v2h-34zM759 1423h34v1h-34zM759 1488h34v2h-34zM759 1493h34v2h-34zM759 1512h34v2h-34zM759 1522h34v2h-34zM759 1549h34v2h-34zM759 1556h34v1h-34zM759 1580h34v6h-34zM759 1589h34v2h-34zM759 1612h34v1h-34zM759 1618h34v2h-34zM759 1669h34v3h-34zM759 1684h34v1h-34zM759 1698h34v2h-34zM759 1704h34v2h-34zM759 1735h34v3h-34zM759 1840h34v4h-34zM793 975h35v1h-35zM793 991h35v3h-35zM793 1018h35v8h-35zM793 1080h35v2h-35zM793 1173h35v2h-35zM793 1196h35v3h-35zM793 1244h35v3h-35zM793 1298h35v2h-35zM793 1463h35v1h-35zM793 1506h35v2h-35zM793 1512h35v2h-35zM793 1538h35v3h-35zM793 1551h35v1h-35zM793 1556h35v3h-35zM793 1583h35v5h-35zM793 1599h35v1h-35zM793 1612h35v1h-35zM793 1639h35v3h-35zM793 1666h35v2h-35zM793 1679h35v1h-35zM793 1687h35v3h-35zM793 1693h35v2h-35zM793 1704h35v2h-35zM793 1716h35v1h-35zM793 1722h35v2h-35zM793 1730h35v2h-35zM793 1733h35v2h-35zM793 1754h35v2h-35zM793 1783h35v1h-35zM793 1829h35v2h-35zM793 1832h35v5h-35zM793 1842h35v2h-35zM793 1861h35v3h-35zM793 1874h35v6h-35zM828 983h34v1h-34zM828 1005h34v2h-34zM828 1108h34v3h-34zM828 1149h34v2h-34zM828 1172h34v3h-34zM828 1199h34v1h-34zM828 1226h34v2h-34zM828 1282h34v5h-34zM828 1346h34v2h-34zM828 1544h34v2h-34zM828 1628h34v1h-34zM828 1668h34v3h-34zM828 1680h34v5h-34zM828 1764h34v6h-34zM828 1794h34v3h-34zM862 941h34v2h-34zM862 965h34v3h-34zM862 980h34v3h-34zM862 1008h34v2h-34zM862 1080h34v5h-34zM862 1157h34v2h-34zM862 1172h34v1h-34zM862 1188h34v1h-34zM862 1200h34v2h-34zM862 1228h34v1h-34zM862 1236h34v1h-34zM862 1247h34v1h-34zM862 1290h34v3h-34zM862 1356h34v4h-34zM862 1362h34v2h-34zM862 1380h34v1h-34zM862 1394h34v3h-34zM862 1405h34v2h-34zM862 1420h34v9h-34zM862 1448h34v2h-34zM862 1471h34v6h-34zM862 1485h34v2h-34zM862 1517h34v3h-34zM862 1580h34v4h-34zM862 1655h34v1h-34zM862 1685h34v2h-34zM862 1703h34v1h-34zM862 1759h34v1h-34zM896 932h35v3h-35zM896 952h35v2h-35zM896 973h35v2h-35zM896 997h35v2h-35zM896 1008h35v2h-35zM896 1040h35v2h-35zM896 1071h35v1h-35zM896 1085h35v2h-35zM896 1109h35v2h-35zM896 1130h35v2h-35zM896 1167h35v1h-35zM896 1215h35v1h-35zM896 1226h35v3h-35zM896 1239h35v1h-35zM896 1255h35v3h-35zM896 1316h35v1h-35zM896 1344h35v2h-35zM896 1368h35v2h-35zM896 1380h35v4h-35zM896 1408h35v5h-35zM896 1418h35v3h-35zM896 1442h35v2h-35zM896 1458h35v2h-35zM896 1472h35v2h-35zM896 1485h35v2h-35zM896 1544h35v2h-35zM896 1562h35v3h-35zM896 1802h35v2h-35zM896 1807h35v1h-35zM896 1821h35v2h-35zM896 1880h35v2h-35zM931 946h34v2h-34zM931 980h34v1h-34zM931 1026h34v2h-34zM931 1037h34v3h-34zM931 1053h34v2h-34zM931 1071h34v3h-34zM931 1076h34v3h-34zM931 1101h34v2h-34zM931 1104h34v2h-34zM931 1122h34v3h-34zM931 1146h34v2h-34zM931 1162h34v3h-34zM931 1173h34v3h-34zM931 1199h34v1h-34zM931 1208h34v4h-34zM931 1236h34v1h-34zM931 1293h34v2h-34zM931 1298h34v3h-34zM931 1335h34v3h-34zM931 1340h34v3h-34zM931 1376h34v2h-34zM931 1413h34v2h-34zM931 1421h34v5h-34zM931 1448h34v2h-34zM931 1532h34v1h-34zM931 1591h34v1h-34zM931 1631h34v1h-34zM931 1831h34v1h-34z"/><path fill="#8b1a16" d="M759 933h34v5h-34zM759 948h34v3h-34zM759 1002h34v2h-34zM759 1012h34v3h-34zM759 1029h34v2h-34zM759 1064h34v2h-34zM759 1074h34v2h-34zM759 1079h34v1h-34zM759 1104h34v4h-34zM759 1136h34v2h-34zM759 1164h34v4h-34zM759 1248h34v7h-34zM759 1276h34v1h-34zM759 1314h34v2h-34zM759 1424h34v2h-34zM759 1485h34v2h-34zM759 1498h34v2h-34zM759 1532h34v1h-34zM759 1544h34v2h-34zM759 1560h34v2h-34zM759 1567h34v5h-34zM759 1599h34v1h-34zM759 1607h34v5h-34zM759 1613h34v3h-34zM759 1620h34v1h-34zM759 1624h34v2h-34zM759 1631h34v5h-34zM759 1644h34v3h-34zM759 1652h34v1h-34zM759 1743h34v3h-34zM759 1748h34v3h-34zM759 1752h34v2h-34zM759 1765h34v7h-34zM759 1797h34v2h-34zM759 1826h34v2h-34zM759 1836h34v1h-34zM759 1855h34v3h-34zM759 1863h34v1h-34zM793 936h35v4h-35zM793 996h35v3h-35zM793 1042h35v3h-35zM793 1068h35v3h-35zM793 1146h35v2h-35zM793 1284h35v1h-35zM793 1296h35v2h-35zM793 1493h35v2h-35zM793 1503h35v3h-35zM793 1520h35v2h-35zM793 1564h35v1h-35zM793 1578h35v2h-35zM793 1602h35v2h-35zM793 1613h35v3h-35zM793 1618h35v5h-35zM793 1692h35v1h-35zM793 1703h35v1h-35zM793 1770h35v2h-35zM793 1775h35v1h-35zM793 1794h35v2h-35zM793 1810h35v3h-35zM793 1816h35v4h-35zM793 1844h35v1h-35zM793 1856h35v2h-35zM793 1872h35v2h-35zM793 1885h35v2h-35zM828 944h34v2h-34zM828 951h34v3h-34zM828 957h34v3h-34zM828 973h34v3h-34zM828 994h34v2h-34zM828 1007h34v1h-34zM828 1044h34v1h-34zM828 1162h34v2h-34zM828 1183h34v3h-34zM828 1197h34v2h-34zM828 1312h34v2h-34zM828 1332h34v1h-34zM828 1552h34v2h-34zM828 1568h34v2h-34zM828 1575h34v3h-34zM828 1592h34v4h-34zM828 1604h34v4h-34zM828 1612h34v1h-34zM828 1626h34v2h-34zM828 1634h34v3h-34zM828 1658h34v10h-34zM828 1685h34v5h-34zM828 1735h34v5h-34zM828 1773h34v2h-34zM828 1778h34v2h-34zM828 1781h34v2h-34zM828 1858h34v3h-34zM828 1869h34v2h-34zM828 1880h34v2h-34zM862 952h34v4h-34zM862 989h34v2h-34zM862 1004h34v1h-34zM862 1018h34v2h-34zM862 1058h34v2h-34zM862 1071h34v1h-34zM862 1111h34v8h-34zM862 1149h34v2h-34zM862 1183h34v1h-34zM862 1229h34v2h-34zM862 1261h34v3h-34zM862 1308h34v3h-34zM862 1314h34v2h-34zM862 1324h34v1h-34zM862 1341h34v2h-34zM862 1344h34v2h-34zM862 1370h34v5h-34zM862 1415h34v1h-34zM862 1445h34v3h-34zM862 1460h34v3h-34zM862 1488h34v4h-34zM862 1500h34v1h-34zM862 1602h34v2h-34zM862 1770h34v2h-34zM862 1812h34v1h-34zM862 1831h34v1h-34zM896 941h35v2h-35zM896 1050h35v2h-35zM896 1095h35v1h-35zM896 1111h35v1h-35zM896 1156h35v1h-35zM896 1162h35v3h-35zM896 1175h35v5h-35zM896 1200h35v5h-35zM896 1220h35v1h-35zM896 1229h35v5h-35zM896 1240h35v2h-35zM896 1253h35v2h-35zM896 1264h35v5h-35zM896 1296h35v2h-35zM896 1341h35v3h-35zM896 1356h35v11h-35zM896 1378h35v2h-35zM896 1384h35v4h-35zM896 1426h35v2h-35zM896 1437h35v2h-35zM896 1447h35v3h-35zM896 1456h35v2h-35zM896 1468h35v1h-35zM896 1480h35v2h-35zM896 1488h35v2h-35zM896 1501h35v3h-35zM896 1570h35v3h-35zM896 1618h35v2h-35zM896 1648h35v2h-35zM896 1655h35v1h-35zM896 1724h35v1h-35zM931 944h34v2h-34zM931 976h34v2h-34zM931 981h34v2h-34zM931 1079h34v3h-34zM931 1178h34v3h-34zM931 1216h34v5h-34zM931 1224h34v7h-34zM931 1269h34v3h-34zM931 1309h34v2h-34zM931 1325h34v2h-34zM931 1333h34v2h-34zM931 1354h34v3h-34zM931 1372h34v3h-34zM931 1408h34v4h-34zM931 1434h34v2h-34zM931 1447h34v1h-34zM931 1469h34v2h-34zM931 1492h34v1h-34zM931 1520h34v2h-34zM931 1533h34v2h-34zM931 1575h34v3h-34zM931 1624h34v4h-34zM931 1812h34v1h-34z"/><path fill="#c6211c" d="M759 983h34v1h-34zM759 1008h34v2h-34zM759 1028h34v1h-34zM759 1071h34v1h-34zM759 1098h34v3h-34zM759 1138h34v2h-34zM759 1175h34v1h-34zM759 1221h34v2h-34zM759 1255h34v1h-34zM759 1306h34v2h-34zM759 1528h34v2h-34zM759 1541h34v2h-34zM759 1551h34v1h-34zM759 1592h34v2h-34zM759 1640h34v4h-34zM759 1656h34v2h-34zM759 1660h34v3h-34zM759 1664h34v2h-34zM759 1672h34v5h-34zM759 1692h34v1h-34zM759 1711h34v5h-34zM759 1722h34v2h-34zM759 1740h34v3h-34zM759 1751h34v1h-34zM759 1754h34v6h-34zM759 1762h34v3h-34zM759 1783h34v3h-34zM759 1789h34v3h-34zM759 1839h34v1h-34zM759 1847h34v3h-34zM759 1864h34v4h-34zM759 1871h34v3h-34zM759 1880h34v4h-34zM793 973h35v2h-35zM793 986h35v5h-35zM793 1034h35v2h-35zM793 1061h35v2h-35zM793 1071h35v5h-35zM793 1085h35v2h-35zM793 1104h35v5h-35zM793 1112h35v2h-35zM793 1117h35v2h-35zM793 1124h35v3h-35zM793 1138h35v2h-35zM793 1224h35v2h-35zM793 1312h35v2h-35zM793 1399h35v1h-35zM793 1416h35v2h-35zM793 1476h35v1h-35zM793 1500h35v1h-35zM793 1524h35v1h-35zM793 1535h35v1h-35zM793 1543h35v3h-35zM793 1554h35v2h-35zM793 1604h35v1h-35zM793 1608h35v2h-35zM793 1629h35v3h-35zM793 1634h35v5h-35zM793 1664h35v2h-35zM793 1674h35v2h-35zM793 1698h35v2h-35zM793 1719h35v3h-35zM793 1736h35v2h-35zM793 1744h35v4h-35zM793 1759h35v9h-35zM793 1813h35v2h-35zM793 1821h35v3h-35zM793 1871h35v1h-35zM793 1887h35v5h-35zM828 948h34v1h-34zM828 992h34v2h-34zM828 1015h34v3h-34zM828 1071h34v1h-34zM828 1196h34v1h-34zM828 1229h34v2h-34zM828 1333h34v2h-34zM828 1343h34v3h-34zM828 1487h34v3h-34zM828 1522h34v2h-34zM828 1528h34v2h-34zM828 1560h34v2h-34zM828 1573h34v2h-34zM828 1583h34v1h-34zM828 1613h34v7h-34zM828 1621h34v3h-34zM828 1632h34v2h-34zM828 1637h34v2h-34zM828 1676h34v1h-34zM828 1701h34v2h-34zM828 1744h34v2h-34zM828 1749h34v2h-34zM828 1754h34v6h-34zM828 1789h34v2h-34zM828 1804h34v1h-34zM828 1808h34v2h-34zM828 1813h34v2h-34zM828 1829h34v2h-34zM828 1876h34v4h-34zM828 1884h34v1h-34zM862 968h34v2h-34zM862 1029h34v2h-34zM862 1061h34v2h-34zM862 1087h34v1h-34zM862 1141h34v2h-34zM862 1156h34v1h-34zM862 1176h34v2h-34zM862 1181h34v2h-34zM862 1189h34v3h-34zM862 1205h34v3h-34zM862 1212h34v3h-34zM862 1226h34v2h-34zM862 1242h34v2h-34zM862 1268h34v1h-34zM862 1277h34v2h-34zM862 1280h34v2h-34zM862 1284h34v1h-34zM862 1327h34v1h-34zM862 1332h34v4h-34zM862 1340h34v1h-34zM862 1375h34v5h-34zM862 1384h34v2h-34zM862 1389h34v2h-34zM862 1400h34v4h-34zM862 1408h34v5h-34zM862 1418h34v2h-34zM862 1440h34v2h-34zM862 1456h34v4h-34zM862 1464h34v4h-34zM862 1487h34v1h-34zM862 1493h34v2h-34zM862 1562h34v6h-34zM862 1663h34v3h-34zM862 1682h34v2h-34zM862 1794h34v2h-34zM862 1818h34v2h-34zM896 976h35v2h-35zM896 1028h35v1h-35zM896 1072h35v2h-35zM896 1077h35v2h-35zM896 1082h35v3h-35zM896 1106h35v3h-35zM896 1181h35v2h-35zM896 1184h35v2h-35zM896 1205h35v2h-35zM896 1208h35v4h-35zM896 1237h35v2h-35zM896 1248h35v5h-35zM896 1276h35v1h-35zM896 1325h35v2h-35zM896 1402h35v2h-35zM896 1492h35v4h-35zM896 1512h35v2h-35zM896 1516h35v1h-35zM896 1532h35v3h-35zM896 1538h35v5h-35zM896 1554h35v2h-35zM896 1586h35v2h-35zM896 1637h35v2h-35zM896 1668h35v3h-35zM896 1682h35v2h-35zM896 1768h35v2h-35zM896 1864h35v2h-35zM931 933h34v2h-34zM931 954h34v2h-34zM931 978h34v2h-34zM931 1034h34v2h-34zM931 1058h34v3h-34zM931 1128h34v2h-34zM931 1138h34v3h-34zM931 1197h34v2h-34zM931 1204h34v1h-34zM931 1223h34v1h-34zM931 1248h34v2h-34zM931 1256h34v7h-34zM931 1264h34v4h-34zM931 1285h34v2h-34zM931 1311h34v3h-34zM931 1316h34v1h-34zM931 1328h34v2h-34zM931 1332h34v1h-34zM931 1338h34v2h-34zM931 1343h34v3h-34zM931 1367h34v3h-34zM931 1375h34v1h-34zM931 1386h34v8h-34zM931 1400h34v2h-34zM931 1412h34v1h-34zM931 1415h34v1h-34zM931 1440h34v4h-34zM931 1474h34v5h-34zM931 1504h34v2h-34zM931 1516h34v3h-34zM931 1562h34v2h-34zM931 1628h34v1h-34zM931 1642h34v2h-34zM931 1690h34v2h-34zM931 1703h34v1h-34zM931 1724h34v1h-34z"/><path fill="#e4251f" d="M759 938h34v2h-34zM759 952h34v2h-34zM759 959h34v5h-34zM759 965h34v2h-34zM759 968h34v4h-34zM759 973h34v7h-34zM759 984h34v4h-34zM759 989h34v11h-34zM759 1007h34v1h-34zM759 1010h34v2h-34zM759 1026h34v2h-34zM759 1031h34v6h-34zM759 1042h34v6h-34zM759 1058h34v2h-34zM759 1072h34v2h-34zM759 1087h34v1h-34zM759 1096h34v2h-34zM759 1101h34v3h-34zM759 1114h34v5h-34zM759 1128h34v2h-34zM759 1141h34v7h-34zM759 1151h34v3h-34zM759 1159h34v1h-34zM759 1228h34v4h-34zM759 1240h34v7h-34zM759 1263h34v1h-34zM759 1268h34v6h-34zM759 1277h34v8h-34zM759 1308h34v3h-34zM759 1319h34v1h-34zM759 1332h34v1h-34zM759 1360h34v2h-34zM759 1412h34v1h-34zM759 1434h34v3h-34zM759 1444h34v3h-34zM759 1458h34v2h-34zM759 1471h34v5h-34zM759 1496h34v2h-34zM759 1500h34v3h-34zM759 1509h34v3h-34zM759 1514h34v2h-34zM759 1517h34v2h-34zM759 1524h34v1h-34zM759 1527h34v1h-34zM759 1530h34v2h-34zM759 1552h34v4h-34zM759 1562h34v5h-34zM759 1572h34v4h-34zM759 1591h34v1h-34zM759 1594h34v5h-34zM759 1600h34v4h-34zM759 1605h34v2h-34zM759 1616h34v2h-34zM759 1621h34v3h-34zM759 1636h34v4h-34zM759 1647h34v5h-34zM759 1663h34v1h-34zM759 1666h34v3h-34zM759 1677h34v2h-34zM759 1680h34v4h-34zM759 1685h34v5h-34zM759 1703h34v1h-34zM759 1708h34v3h-34zM759 1716h34v6h-34zM759 1724h34v3h-34zM759 1730h34v2h-34zM759 1760h34v2h-34zM759 1772h34v1h-34zM759 1776h34v2h-34zM759 1786h34v3h-34zM759 1792h34v2h-34zM759 1796h34v1h-34zM759 1805h34v7h-34zM759 1813h34v5h-34zM759 1820h34v4h-34zM759 1829h34v7h-34zM759 1837h34v2h-34zM759 1844h34v1h-34zM759 1850h34v3h-34zM759 1874h34v2h-34zM759 1879h34v1h-34zM759 1884h34v3h-34zM759 1888h34v2h-34zM793 932h35v1h-35zM793 935h35v1h-35zM793 943h35v1h-35zM793 959h35v1h-35zM793 970h35v3h-35zM793 978h35v2h-35zM793 983h35v1h-35zM793 1000h35v4h-35zM793 1007h35v3h-35zM793 1012h35v1h-35zM793 1055h35v1h-35zM793 1063h35v1h-35zM793 1088h35v4h-35zM793 1096h35v2h-35zM793 1127h35v1h-35zM793 1132h35v6h-35zM793 1140h35v1h-35zM793 1151h35v3h-35zM793 1176h35v5h-35zM793 1183h35v1h-35zM793 1186h35v2h-35zM793 1260h35v1h-35zM793 1268h35v4h-35zM793 1276h35v1h-35zM793 1314h35v2h-35zM793 1351h35v1h-35zM793 1364h35v3h-35zM793 1396h35v1h-35zM793 1415h35v1h-35zM793 1436h35v4h-35zM793 1456h35v2h-35zM793 1511h35v1h-35zM793 1517h35v3h-35zM793 1532h35v3h-35zM793 1559h35v5h-35zM793 1570h35v8h-35zM793 1580h35v1h-35zM793 1588h35v1h-35zM793 1596h35v3h-35zM793 1600h35v2h-35zM793 1605h35v3h-35zM793 1623h35v6h-35zM793 1632h35v2h-35zM793 1648h35v2h-35zM793 1652h35v1h-35zM793 1656h35v2h-35zM793 1660h35v4h-35zM793 1668h35v4h-35zM793 1676h35v3h-35zM793 1685h35v2h-35zM793 1690h35v2h-35zM793 1700h35v3h-35zM793 1706h35v5h-35zM793 1727h35v3h-35zM793 1738h35v6h-35zM793 1748h35v1h-35zM793 1751h35v3h-35zM793 1757h35v2h-35zM793 1772h35v1h-35zM793 1780h35v1h-35zM793 1784h35v5h-35zM793 1799h35v3h-35zM793 1831h35v1h-35zM793 1845h35v8h-35zM793 1860h35v1h-35zM793 1864h35v2h-35zM793 1869h35v2h-35zM793 1880h35v5h-35zM828 932h34v8h-34zM828 954h34v2h-34zM828 984h34v4h-34zM828 997h34v2h-34zM828 1013h34v2h-34zM828 1018h34v5h-34zM828 1031h34v1h-34zM828 1036h34v3h-34zM828 1063h34v1h-34zM828 1079h34v1h-34zM828 1111h34v3h-34zM828 1117h34v3h-34zM828 1154h34v3h-34zM828 1181h34v2h-34zM828 1200h34v2h-34zM828 1232h34v4h-34zM828 1248h34v2h-34zM828 1261h34v3h-34zM828 1303h34v8h-34zM828 1325h34v2h-34zM828 1338h34v5h-34zM828 1367h34v8h-34zM828 1431h34v1h-34zM828 1498h34v2h-34zM828 1501h34v2h-34zM828 1504h34v2h-34zM828 1524h34v1h-34zM828 1532h34v3h-34zM828 1538h34v2h-34zM828 1549h34v2h-34zM828 1557h34v2h-34zM828 1567h34v1h-34zM828 1578h34v5h-34zM828 1584h34v2h-34zM828 1596h34v3h-34zM828 1600h34v2h-34zM828 1608h34v2h-34zM828 1620h34v1h-34zM828 1631h34v1h-34zM828 1639h34v5h-34zM828 1645h34v10h-34zM828 1656h34v2h-34zM828 1672h34v4h-34zM828 1677h34v2h-34zM828 1690h34v6h-34zM828 1700h34v1h-34zM828 1709h34v15h-34zM828 1727h34v1h-34zM828 1732h34v3h-34zM828 1741h34v3h-34zM828 1751h34v3h-34zM828 1762h34v2h-34zM828 1770h34v3h-34zM828 1775h34v1h-34zM828 1784h34v5h-34zM828 1791h34v1h-34zM828 1797h34v5h-34zM828 1807h34v1h-34zM828 1815h34v3h-34zM828 1820h34v3h-34zM828 1826h34v3h-34zM828 1832h34v4h-34zM828 1837h34v3h-34zM828 1842h34v2h-34zM828 1861h34v2h-34zM828 1868h34v1h-34zM828 1871h34v5h-34zM828 1887h34v3h-34zM862 935h34v3h-34zM862 943h34v6h-34zM862 951h34v1h-34zM862 956h34v1h-34zM862 959h34v1h-34zM862 962h34v2h-34zM862 973h34v2h-34zM862 996h34v1h-34zM862 999h34v1h-34zM862 1002h34v2h-34zM862 1010h34v3h-34zM862 1023h34v5h-34zM862 1034h34v5h-34zM862 1045h34v2h-34zM862 1050h34v2h-34zM862 1053h34v2h-34zM862 1060h34v1h-34zM862 1072h34v5h-34zM862 1085h34v2h-34zM862 1100h34v4h-34zM862 1108h34v3h-34zM862 1119h34v5h-34zM862 1125h34v3h-34zM862 1133h34v2h-34zM862 1138h34v2h-34zM862 1143h34v3h-34zM862 1152h34v4h-34zM862 1159h34v1h-34zM862 1175h34v1h-34zM862 1180h34v1h-34zM862 1184h34v2h-34zM862 1196h34v3h-34zM862 1202h34v2h-34zM862 1208h34v4h-34zM862 1221h34v2h-34zM862 1231h34v3h-34zM862 1239h34v3h-34zM862 1244h34v1h-34zM862 1252h34v8h-34zM862 1264h34v4h-34zM862 1269h34v3h-34zM862 1279h34v1h-34zM862 1282h34v2h-34zM862 1285h34v2h-34zM862 1295h34v1h-34zM862 1311h34v1h-34zM862 1328h34v2h-34zM862 1336h34v4h-34zM862 1343h34v1h-34zM862 1346h34v10h-34zM862 1360h34v2h-34zM862 1364h34v6h-34zM862 1381h34v3h-34zM862 1388h34v1h-34zM862 1404h34v1h-34zM862 1413h34v2h-34zM862 1416h34v2h-34zM862 1429h34v7h-34zM862 1450h34v6h-34zM862 1463h34v1h-34zM862 1479h34v6h-34zM862 1492h34v1h-34zM862 1495h34v3h-34zM862 1503h34v1h-34zM862 1527h34v1h-34zM862 1546h34v2h-34zM862 1554h34v2h-34zM862 1557h34v3h-34zM862 1576h34v2h-34zM862 1623h34v3h-34zM862 1648h34v7h-34zM862 1658h34v5h-34zM862 1684h34v1h-34zM862 1706h34v2h-34zM862 1714h34v3h-34zM862 1727h34v1h-34zM862 1730h34v2h-34zM862 1740h34v1h-34zM862 1784h34v7h-34zM862 1858h34v2h-34zM862 1864h34v2h-34zM862 1877h34v3h-34zM896 935h35v6h-35zM896 943h35v3h-35zM896 954h35v2h-35zM896 959h35v8h-35zM896 975h35v1h-35zM896 983h35v1h-35zM896 1000h35v4h-35zM896 1010h35v2h-35zM896 1013h35v2h-35zM896 1024h35v2h-35zM896 1032h35v2h-35zM896 1039h35v1h-35zM896 1042h35v5h-35zM896 1053h35v2h-35zM896 1074h35v2h-35zM896 1088h35v7h-35zM896 1096h35v2h-35zM896 1101h35v3h-35zM896 1117h35v5h-35zM896 1127h35v1h-35zM896 1143h35v6h-35zM896 1151h35v1h-35zM896 1154h35v2h-35zM896 1160h35v2h-35zM896 1170h35v5h-35zM896 1180h35v1h-35zM896 1191h35v8h-35zM896 1207h35v1h-35zM896 1212h35v3h-35zM896 1221h35v5h-35zM896 1234h35v2h-35zM896 1242h35v5h-35zM896 1260h35v1h-35zM896 1279h35v3h-35zM896 1312h35v2h-35zM896 1317h35v3h-35zM896 1327h35v1h-35zM896 1332h35v3h-35zM896 1340h35v1h-35zM896 1346h35v10h-35zM896 1373h35v2h-35zM896 1388h35v8h-35zM896 1397h35v3h-35zM896 1404h35v1h-35zM896 1407h35v1h-35zM896 1415h35v1h-35zM896 1421h35v5h-35zM896 1428h35v1h-35zM896 1431h35v6h-35zM896 1439h35v3h-35zM896 1445h35v2h-35zM896 1450h35v2h-35zM896 1460h35v4h-35zM896 1469h35v3h-35zM896 1474h35v3h-35zM896 1479h35v1h-35zM896 1482h35v3h-35zM896 1487h35v1h-35zM896 1509h35v2h-35zM896 1514h35v2h-35zM896 1520h35v5h-35zM896 1543h35v1h-35zM896 1548h35v3h-35zM896 1552h35v2h-35zM896 1565h35v2h-35zM896 1575h35v3h-35zM896 1623h35v5h-35zM896 1736h35v2h-35zM896 1828h35v3h-35zM896 1842h35v2h-35zM896 1845h35v2h-35zM896 1856h35v2h-35zM931 957h34v2h-34zM931 964h34v1h-34zM931 968h34v2h-34zM931 991h34v1h-34zM931 994h34v2h-34zM931 1002h34v6h-34zM931 1010h34v2h-34zM931 1013h34v3h-34zM931 1029h34v2h-34zM931 1032h34v2h-34zM931 1050h34v2h-34zM931 1055h34v3h-34zM931 1063h34v1h-34zM931 1087h34v5h-34zM931 1095h34v6h-34zM931 1109h34v5h-34zM931 1117h34v3h-34zM931 1130h34v3h-34zM931 1135h34v3h-34zM931 1141h34v5h-34zM931 1148h34v9h-34zM931 1160h34v2h-34zM931 1167h34v6h-34zM931 1176h34v2h-34zM931 1189h34v3h-34zM931 1205h34v2h-34zM931 1221h34v2h-34zM931 1239h34v6h-34zM931 1247h34v1h-34zM931 1268h34v1h-34zM931 1272h34v5h-34zM931 1295h34v3h-34zM931 1317h34v2h-34zM931 1322h34v3h-34zM931 1327h34v1h-34zM931 1330h34v2h-34zM931 1346h34v8h-34zM931 1370h34v2h-34zM931 1378h34v8h-34zM931 1394h34v6h-34zM931 1416h34v5h-34zM931 1429h34v5h-34zM931 1445h34v2h-34zM931 1450h34v3h-34zM931 1458h34v3h-34zM931 1463h34v5h-34zM931 1471h34v3h-34zM931 1482h34v2h-34zM931 1490h34v2h-34zM931 1503h34v1h-34zM931 1506h34v2h-34zM931 1509h34v7h-34zM931 1535h34v5h-34zM931 1541h34v7h-34zM931 1551h34v3h-34zM931 1578h34v3h-34zM931 1610h34v3h-34zM931 1616h34v2h-34zM931 1632h34v2h-34zM931 1660h34v1h-34zM931 1677h34v2h-34zM931 1712h34v4h-34zM931 1748h34v1h-34zM931 1776h34v2h-34zM931 1781h34v5h-34zM931 1802h34v2h-34zM931 1805h34v2h-34zM931 1829h34v2h-34zM931 1848h34v2h-34zM931 1858h34v2h-34zM931 1863h34v1h-34zM931 1885h34v2h-34z"/></g>
<defs><linearGradient id="gc2"><stop offset="0" stop-color="#05853a"/><stop offset=".5" stop-color="#050505"/><stop offset="1" stop-color="#e4251f"/></linearGradient></defs>
<rect x="811.00" y="1904.60" width="111.70" height="28.00" fill="url(#gc2)"/>
<text x="787.6" y="1925.3" font-size="24" textLength="17.5" lengthAdjust="spacingAndGlyphs">-1</text>
<text x="928.0" y="1925.3" font-size="24" textLength="12.0" lengthAdjust="spacingAndGlyphs">1</text>
<path d="M1157.2 914.7L1157.2 1697.0" stroke="#3c3c3b" stroke-width="1.6" fill="none"/>
<path d="M1147 1688.3L1157 1688.2L1814.4 1686.2" stroke="#3c3c3b" stroke-width="2" fill="none"/>
<path d="M1146.8 939.8L1157.2 939.8" stroke="#3c3c3b" stroke-width="3.4" fill="none"/>
<text x="1140.8" y="947.0" font-size="23" text-anchor="end">10</text>
<path d="M1146.8 1069.6L1157.2 1069.6" stroke="#3c3c3b" stroke-width="3.4" fill="none"/>
<text x="1140.8" y="1076.8" font-size="23" text-anchor="end">8</text>
<path d="M1146.8 1199.4L1157.2 1199.4" stroke="#3c3c3b" stroke-width="3.4" fill="none"/>
<text x="1140.8" y="1206.6" font-size="23" text-anchor="end">6</text>
<path d="M1146.8 1329.2L1157.2 1329.2" stroke="#3c3c3b" stroke-width="3.4" fill="none"/>
<text x="1140.8" y="1336.4" font-size="23" text-anchor="end">4</text>
<path d="M1146.8 1459.0L1157.2 1459.0" stroke="#3c3c3b" stroke-width="3.4" fill="none"/>
<text x="1140.8" y="1466.2" font-size="23" text-anchor="end">2</text>
<path d="M1146.8 1588.8L1157.2 1588.8" stroke="#3c3c3b" stroke-width="3.4" fill="none"/>
<text x="1140.8" y="1596.0" font-size="23" text-anchor="end">0</text>
<path d="M1146.8 1688.3L1157.2 1688.3" stroke="#3c3c3b" stroke-width="3.4" fill="none"/>
<path d="M1157.2 1687.0L1157.2 1697.5" stroke="#3c3c3b" stroke-width="3.2" fill="none"/>
<path d="M1205.6 1686.5L1205.6 1697.5" stroke="#3c3c3b" stroke-width="3.2" fill="none"/>
<path d="M1290.0 1686.5L1290.0 1697.5" stroke="#3c3c3b" stroke-width="3.2" fill="none"/>
<path d="M1374.8 1686.5L1374.8 1697.5" stroke="#3c3c3b" stroke-width="3.2" fill="none"/>
<path d="M1474.0 1686.5L1474.0 1697.5" stroke="#3c3c3b" stroke-width="3.2" fill="none"/>
<path d="M1563.0 1686.5L1563.0 1697.5" stroke="#3c3c3b" stroke-width="3.2" fill="none"/>
<path d="M1646.7 1686.5L1646.7 1697.5" stroke="#3c3c3b" stroke-width="3.2" fill="none"/>
<path d="M1739.0 1686.5L1739.0 1697.5" stroke="#3c3c3b" stroke-width="3.2" fill="none"/>
<text transform="translate(1106 1399.8) rotate(-90)" font-size="27" textLength="267.7" lengthAdjust="spacingAndGlyphs">Gene signature expression</text>
<path d="M1206.0 1434.0L1205.4 1434.0L1205.4 1435.0L1205.4 1436.0L1205.4 1437.0L1205.4 1438.0L1205.4 1439.0L1205.3 1440.0L1205.3 1441.0L1205.3 1442.0L1205.3 1443.0L1205.3 1444.0L1205.3 1445.0L1205.3 1446.0L1205.3 1447.0L1205.3 1448.0L1205.3 1449.0L1205.3 1450.0L1205.2 1451.0L1205.2 1452.0L1205.2 1453.0L1205.2 1454.0L1205.2 1455.0L1205.2 1456.0L1205.2 1457.0L1205.2 1458.0L1205.2 1459.0L1205.2 1460.0L1205.2 1461.0L1205.1 1462.0L1205.1 1463.0L1205.1 1464.0L1205.1 1465.0L1205.1 1466.0L1205.1 1467.0L1205.1 1468.0L1205.1 1469.0L1205.1 1470.0L1205.1 1471.0L1205.1 1472.0L1205.0 1473.0L1205.0 1474.0L1205.0 1475.0L1205.0 1476.0L1205.0 1477.0L1205.0 1478.0L1205.0 1479.0L1205.0 1480.0L1205.0 1481.0L1205.0 1482.0L1205.0 1483.0L1204.9 1484.0L1204.9 1485.0L1204.9 1486.0L1204.9 1487.0L1204.9 1488.0L1204.9 1489.0L1204.9 1490.0L1204.9 1491.0L1204.9 1492.0L1204.9 1493.0L1204.9 1494.0L1204.8 1495.0L1204.8 1496.0L1204.8 1497.0L1204.8 1498.0L1204.8 1499.0L1204.8 1500.0L1204.8 1501.0L1204.8 1502.0L1204.8 1503.0L1204.7 1504.0L1204.7 1505.0L1204.7 1506.0L1204.7 1507.0L1204.7 1508.0L1204.7 1509.0L1204.7 1510.0L1204.6 1511.0L1204.6 1512.0L1204.6 1513.0L1204.6 1514.0L1204.6 1515.0L1204.6 1516.0L1204.5 1517.0L1204.5 1518.0L1204.5 1519.0L1204.5 1520.0L1204.5 1521.0L1204.5 1522.0L1204.5 1523.0L1204.4 1524.0L1204.4 1525.0L1204.4 1526.0L1204.4 1527.0L1204.4 1528.0L1204.4 1529.0L1204.4 1530.0L1204.3 1531.0L1204.3 1532.0L1204.3 1533.0L1204.3 1534.0L1204.3 1535.0L1204.3 1536.0L1204.2 1537.0L1204.2 1538.0L1204.2 1539.0L1204.2 1540.0L1204.1 1541.0L1204.1 1542.0L1204.0 1543.0L1204.0 1544.0L1203.9 1545.0L1203.9 1546.0L1203.8 1547.0L1203.8 1548.0L1203.7 1549.0L1203.7 1550.0L1203.6 1551.0L1203.6 1552.0L1203.5 1553.0L1203.5 1554.0L1203.4 1555.0L1203.3 1556.0L1203.1 1557.0L1202.8 1558.0L1202.5 1559.0L1202.2 1560.0L1201.9 1561.0L1201.6 1562.0L1201.3 1563.0L1201.0 1564.0L1200.6 1565.0L1200.1 1566.0L1199.5 1567.0L1198.7 1568.0L1197.9 1569.0L1197.1 1570.0L1196.2 1571.0L1195.1 1572.0L1193.9 1573.0L1192.6 1574.0L1191.2 1575.0L1189.7 1576.0L1188.0 1577.0L1186.1 1578.0L1184.0 1579.0L1181.9 1580.0L1179.8 1581.0L1178.0 1582.0L1176.3 1583.0L1174.9 1584.0L1173.9 1585.0L1173.3 1586.0L1173.2 1587.0L1173.7 1588.0L1174.6 1589.0L1176.1 1590.0L1177.9 1591.0L1180.1 1592.0L1182.2 1593.0L1184.4 1594.0L1186.4 1595.0L1188.5 1596.0L1190.7 1597.0L1192.9 1598.0L1195.1 1599.0L1197.2 1600.0L1199.2 1601.0L1201.1 1602.0L1202.8 1603.0L1205.4 1604.0L1206.0 1604.0z" fill="#10803f"/>
<path d="M1205.4 1480.0L1205.4 1480.0L1205.4 1481.0L1205.4 1482.0L1205.5 1483.0L1205.5 1484.0L1205.5 1485.0L1205.5 1486.0L1205.6 1487.0L1205.6 1488.0L1205.6 1489.0L1205.6 1490.0L1205.6 1491.0L1205.7 1492.0L1205.7 1493.0L1205.7 1494.0L1205.7 1495.0L1205.8 1496.0L1205.8 1497.0L1205.8 1498.0L1205.8 1499.0L1205.8 1500.0L1205.9 1501.0L1205.9 1502.0L1205.9 1503.0L1205.9 1504.0L1206.0 1505.0L1206.0 1506.0L1206.0 1507.0L1206.0 1508.0L1206.0 1509.0L1206.1 1510.0L1206.1 1511.0L1206.1 1512.0L1206.1 1513.0L1206.2 1514.0L1206.2 1515.0L1206.2 1516.0L1206.2 1517.0L1206.3 1518.0L1206.3 1519.0L1206.3 1520.0L1206.3 1521.0L1206.4 1522.0L1206.4 1523.0L1206.4 1524.0L1206.5 1525.0L1206.5 1526.0L1206.5 1527.0L1206.6 1528.0L1206.6 1529.0L1206.6 1530.0L1206.6 1531.0L1206.7 1532.0L1206.7 1533.0L1206.7 1534.0L1206.8 1535.0L1206.8 1536.0L1206.8 1537.0L1206.8 1538.0L1206.9 1539.0L1206.9 1540.0L1207.0 1541.0L1207.1 1542.0L1207.2 1543.0L1207.3 1544.0L1207.4 1545.0L1207.5 1546.0L1207.6 1547.0L1207.7 1548.0L1207.7 1549.0L1207.8 1550.0L1207.9 1551.0L1208.0 1552.0L1208.1 1553.0L1208.2 1554.0L1208.3 1555.0L1208.5 1556.0L1208.7 1557.0L1209.0 1558.0L1209.3 1559.0L1209.6 1560.0L1209.9 1561.0L1210.2 1562.0L1210.5 1563.0L1210.8 1564.0L1211.2 1565.0L1211.7 1566.0L1212.3 1567.0L1213.1 1568.0L1213.9 1569.0L1214.7 1570.0L1215.6 1571.0L1216.7 1572.0L1217.9 1573.0L1219.2 1574.0L1220.6 1575.0L1222.1 1576.0L1223.8 1577.0L1225.6 1578.0L1227.7 1579.0L1229.7 1580.0L1231.7 1581.0L1233.5 1582.0L1235.1 1583.0L1236.4 1584.0L1237.4 1585.0L1237.9 1586.0L1238.0 1587.0L1237.4 1588.0L1236.3 1589.0L1234.7 1590.0L1232.5 1591.0L1230.0 1592.0L1227.4 1593.0L1224.7 1594.0L1222.1 1595.0L1219.4 1596.0L1216.7 1597.0L1214.1 1598.0L1211.6 1599.0L1209.5 1600.0L1205.4 1601.0L1205.4 1601.0z" fill="#e0282a"/>
<path d="M1289.1 1257.5L1288.5 1257.5L1288.5 1258.5L1288.5 1259.5L1288.5 1260.5L1288.5 1261.5L1288.5 1262.5L1288.5 1263.5L1288.4 1264.5L1288.4 1265.5L1288.4 1266.5L1288.4 1267.5L1288.4 1268.5L1288.4 1269.5L1288.4 1270.5L1288.4 1271.5L1288.4 1272.5L1288.4 1273.5L1288.4 1274.5L1288.4 1275.5L1288.3 1276.5L1288.3 1277.5L1288.3 1278.5L1288.3 1279.5L1288.3 1280.5L1288.3 1281.5L1288.3 1282.5L1288.3 1283.5L1288.3 1284.5L1288.3 1285.5L1288.3 1286.5L1288.3 1287.5L1288.2 1288.5L1288.2 1289.5L1288.2 1290.5L1288.2 1291.5L1288.2 1292.5L1288.2 1293.5L1288.2 1294.5L1288.2 1295.5L1288.2 1296.5L1288.2 1297.5L1288.2 1298.5L1288.2 1299.5L1288.1 1300.5L1288.1 1301.5L1288.1 1302.5L1288.1 1303.5L1288.1 1304.5L1288.1 1305.5L1288.1 1306.5L1288.1 1307.5L1288.1 1308.5L1288.1 1309.5L1288.1 1310.5L1288.1 1311.5L1288.0 1312.5L1288.0 1313.5L1288.0 1314.5L1288.0 1315.5L1288.0 1316.5L1288.0 1317.5L1288.0 1318.5L1288.0 1319.5L1288.0 1320.5L1288.0 1321.5L1288.0 1322.5L1288.0 1323.5L1287.9 1324.5L1287.9 1325.5L1287.9 1326.5L1287.9 1327.5L1287.9 1328.5L1287.9 1329.5L1287.9 1330.5L1287.9 1331.5L1287.9 1332.5L1287.9 1333.5L1287.9 1334.5L1287.9 1335.5L1287.9 1336.5L1287.9 1337.5L1287.9 1338.5L1287.9 1339.5L1287.9 1340.5L1287.9 1341.5L1287.8 1342.5L1287.8 1343.5L1287.8 1344.5L1287.8 1345.5L1287.8 1346.5L1287.8 1347.5L1287.8 1348.5L1287.8 1349.5L1287.8 1350.5L1287.8 1351.5L1287.8 1352.5L1287.8 1353.5L1287.8 1354.5L1287.8 1355.5L1287.8 1356.5L1287.8 1357.5L1287.8 1358.5L1287.8 1359.5L1287.8 1360.5L1287.8 1361.5L1287.8 1362.5L1287.8 1363.5L1287.8 1364.5L1287.7 1365.5L1287.7 1366.5L1287.7 1367.5L1287.7 1368.5L1287.7 1369.5L1287.7 1370.5L1287.7 1371.5L1287.7 1372.5L1287.7 1373.5L1287.7 1374.5L1287.7 1375.5L1287.7 1376.5L1287.7 1377.5L1287.7 1378.5L1287.7 1379.5L1287.7 1380.5L1287.7 1381.5L1287.7 1382.5L1287.7 1383.5L1287.7 1384.5L1287.7 1385.5L1287.7 1386.5L1287.7 1387.5L1287.6 1388.5L1287.6 1389.5L1287.6 1390.5L1287.6 1391.5L1287.6 1392.5L1287.6 1393.5L1287.6 1394.5L1287.6 1395.5L1287.6 1396.5L1287.6 1397.5L1287.6 1398.5L1287.6 1399.5L1287.6 1400.5L1287.6 1401.5L1287.6 1402.5L1287.6 1403.5L1287.6 1404.5L1287.6 1405.5L1287.5 1406.5L1287.5 1407.5L1287.5 1408.5L1287.5 1409.5L1287.5 1410.5L1287.5 1411.5L1287.5 1412.5L1287.5 1413.5L1287.5 1414.5L1287.5 1415.5L1287.5 1416.5L1287.4 1417.5L1287.4 1418.5L1287.4 1419.5L1287.4 1420.5L1287.4 1421.5L1287.4 1422.5L1287.4 1423.5L1287.4 1424.5L1287.4 1425.5L1287.4 1426.5L1287.4 1427.5L1287.4 1428.5L1287.3 1429.5L1287.3 1430.5L1287.3 1431.5L1287.3 1432.5L1287.3 1433.5L1287.3 1434.5L1287.3 1435.5L1287.3 1436.5L1287.3 1437.5L1287.3 1438.5L1287.3 1439.5L1287.2 1440.5L1287.2 1441.5L1287.2 1442.5L1287.2 1443.5L1287.2 1444.5L1287.2 1445.5L1287.2 1446.5L1287.2 1447.5L1287.2 1448.5L1287.2 1449.5L1287.2 1450.5L1287.1 1451.5L1287.1 1452.5L1287.1 1453.5L1287.1 1454.5L1287.1 1455.5L1287.1 1456.5L1287.1 1457.5L1287.1 1458.5L1287.1 1459.5L1287.1 1460.5L1287.1 1461.5L1287.1 1462.5L1287.0 1463.5L1287.0 1464.5L1287.0 1465.5L1287.0 1466.5L1287.0 1467.5L1287.0 1468.5L1287.0 1469.5L1287.0 1470.5L1287.0 1471.5L1287.0 1472.5L1287.0 1473.5L1286.9 1474.5L1286.9 1475.5L1286.9 1476.5L1286.9 1477.5L1286.9 1478.5L1286.9 1479.5L1286.8 1480.5L1286.8 1481.5L1286.7 1482.5L1286.7 1483.5L1286.6 1484.5L1286.6 1485.5L1286.5 1486.5L1286.4 1487.5L1286.4 1488.5L1286.3 1489.5L1286.3 1490.5L1286.2 1491.5L1286.1 1492.5L1286.1 1493.5L1286.0 1494.5L1286.0 1495.5L1285.9 1496.5L1285.8 1497.5L1285.8 1498.5L1285.7 1499.5L1285.6 1500.5L1285.6 1501.5L1285.5 1502.5L1285.4 1503.5L1285.3 1504.5L1285.1 1505.5L1285.0 1506.5L1284.9 1507.5L1284.7 1508.5L1284.6 1509.5L1284.5 1510.5L1284.3 1511.5L1284.2 1512.5L1284.1 1513.5L1283.9 1514.5L1283.8 1515.5L1283.7 1516.5L1283.5 1517.5L1283.4 1518.5L1283.2 1519.5L1283.1 1520.5L1283.0 1521.5L1282.8 1522.5L1282.6 1523.5L1282.5 1524.5L1282.3 1525.5L1282.0 1526.5L1281.8 1527.5L1281.5 1528.5L1281.2 1529.5L1281.0 1530.5L1280.7 1531.5L1280.4 1532.5L1280.1 1533.5L1279.9 1534.5L1279.6 1535.5L1279.3 1536.5L1279.0 1537.5L1278.7 1538.5L1278.5 1539.5L1278.1 1540.5L1277.8 1541.5L1277.5 1542.5L1277.1 1543.5L1276.7 1544.5L1276.2 1545.5L1275.7 1546.5L1275.2 1547.5L1274.7 1548.5L1274.2 1549.5L1273.7 1550.5L1273.2 1551.5L1272.7 1552.5L1272.2 1553.5L1271.7 1554.5L1271.1 1555.5L1270.5 1556.5L1269.8 1557.5L1269.0 1558.5L1268.2 1559.5L1267.4 1560.5L1266.5 1561.5L1265.7 1562.5L1264.8 1563.5L1264.0 1564.5L1263.1 1565.5L1262.3 1566.5L1261.5 1567.5L1260.8 1568.5L1260.2 1569.5L1259.7 1570.5L1259.2 1571.5L1258.7 1572.5L1258.3 1573.5L1257.9 1574.5L1257.6 1575.5L1257.2 1576.5L1256.9 1577.5L1256.6 1578.5L1256.4 1579.5L1256.2 1580.5L1256.2 1581.5L1256.3 1582.5L1256.5 1583.5L1256.7 1584.5L1257.0 1585.5L1257.4 1586.5L1257.8 1587.5L1258.2 1588.5L1258.8 1589.5L1259.4 1590.5L1260.1 1591.5L1260.9 1592.5L1261.8 1593.5L1262.7 1594.5L1263.6 1595.5L1264.5 1596.5L1265.4 1597.5L1266.3 1598.5L1267.3 1599.5L1268.2 1600.5L1269.1 1601.5L1270.0 1602.5L1270.9 1603.5L1271.8 1604.5L1272.6 1605.5L1273.4 1606.5L1274.3 1607.5L1275.1 1608.5L1275.9 1609.5L1276.7 1610.5L1277.5 1611.5L1278.3 1612.5L1279.1 1613.5L1279.9 1614.5L1280.7 1615.5L1281.6 1616.5L1282.4 1617.5L1283.2 1618.5L1283.9 1619.5L1284.6 1620.5L1285.3 1621.5L1285.9 1622.5L1286.5 1623.5L1287.0 1624.5L1287.5 1625.5L1288.5 1626.5L1289.1 1626.5z" fill="#10803f"/>
<path d="M1288.5 1321.0L1288.5 1321.0L1288.5 1322.0L1288.5 1323.0L1288.5 1324.0L1288.5 1325.0L1288.6 1326.0L1288.6 1327.0L1288.6 1328.0L1288.6 1329.0L1288.6 1330.0L1288.6 1331.0L1288.6 1332.0L1288.6 1333.0L1288.6 1334.0L1288.6 1335.0L1288.7 1336.0L1288.7 1337.0L1288.7 1338.0L1288.7 1339.0L1288.7 1340.0L1288.7 1341.0L1288.7 1342.0L1288.7 1343.0L1288.7 1344.0L1288.7 1345.0L1288.8 1346.0L1288.8 1347.0L1288.8 1348.0L1288.8 1349.0L1288.8 1350.0L1288.8 1351.0L1288.8 1352.0L1288.8 1353.0L1288.8 1354.0L1288.8 1355.0L1288.9 1356.0L1288.9 1357.0L1288.9 1358.0L1288.9 1359.0L1288.9 1360.0L1288.9 1361.0L1288.9 1362.0L1288.9 1363.0L1288.9 1364.0L1288.9 1365.0L1289.0 1366.0L1289.0 1367.0L1289.0 1368.0L1289.0 1369.0L1289.0 1370.0L1289.0 1371.0L1289.0 1372.0L1289.0 1373.0L1289.0 1374.0L1289.0 1375.0L1289.1 1376.0L1289.1 1377.0L1289.1 1378.0L1289.1 1379.0L1289.1 1380.0L1289.1 1381.0L1289.1 1382.0L1289.1 1383.0L1289.1 1384.0L1289.1 1385.0L1289.2 1386.0L1289.2 1387.0L1289.2 1388.0L1289.2 1389.0L1289.2 1390.0L1289.2 1391.0L1289.2 1392.0L1289.2 1393.0L1289.2 1394.0L1289.2 1395.0L1289.3 1396.0L1289.3 1397.0L1289.3 1398.0L1289.3 1399.0L1289.3 1400.0L1289.3 1401.0L1289.3 1402.0L1289.3 1403.0L1289.3 1404.0L1289.3 1405.0L1289.4 1406.0L1289.4 1407.0L1289.4 1408.0L1289.4 1409.0L1289.4 1410.0L1289.4 1411.0L1289.4 1412.0L1289.4 1413.0L1289.4 1414.0L1289.4 1415.0L1289.5 1416.0L1289.5 1417.0L1289.5 1418.0L1289.5 1419.0L1289.5 1420.0L1289.5 1421.0L1289.5 1422.0L1289.6 1423.0L1289.6 1424.0L1289.6 1425.0L1289.6 1426.0L1289.6 1427.0L1289.6 1428.0L1289.7 1429.0L1289.7 1430.0L1289.7 1431.0L1289.7 1432.0L1289.7 1433.0L1289.7 1434.0L1289.8 1435.0L1289.8 1436.0L1289.8 1437.0L1289.8 1438.0L1289.8 1439.0L1289.8 1440.0L1289.8 1441.0L1289.9 1442.0L1289.9 1443.0L1289.9 1444.0L1289.9 1445.0L1289.9 1446.0L1290.0 1447.0L1290.0 1448.0L1290.0 1449.0L1290.0 1450.0L1290.0 1451.0L1290.0 1452.0L1290.0 1453.0L1290.1 1454.0L1290.1 1455.0L1290.1 1456.0L1290.1 1457.0L1290.1 1458.0L1290.2 1459.0L1290.2 1460.0L1290.2 1461.0L1290.2 1462.0L1290.2 1463.0L1290.2 1464.0L1290.2 1465.0L1290.3 1466.0L1290.3 1467.0L1290.3 1468.0L1290.3 1469.0L1290.3 1470.0L1290.3 1471.0L1290.4 1472.0L1290.4 1473.0L1290.4 1474.0L1290.4 1475.0L1290.4 1476.0L1290.5 1477.0L1290.5 1478.0L1290.5 1479.0L1290.5 1480.0L1290.6 1481.0L1290.6 1482.0L1290.7 1483.0L1290.8 1484.0L1290.8 1485.0L1290.9 1486.0L1291.0 1487.0L1291.0 1488.0L1291.1 1489.0L1291.2 1490.0L1291.2 1491.0L1291.3 1492.0L1291.3 1493.0L1291.4 1494.0L1291.5 1495.0L1291.5 1496.0L1291.6 1497.0L1291.7 1498.0L1291.7 1499.0L1291.8 1500.0L1291.9 1501.0L1292.0 1502.0L1292.1 1503.0L1292.2 1504.0L1292.3 1505.0L1292.4 1506.0L1292.5 1507.0L1292.7 1508.0L1292.8 1509.0L1293.0 1510.0L1293.1 1511.0L1293.2 1512.0L1293.4 1513.0L1293.5 1514.0L1293.6 1515.0L1293.8 1516.0L1293.9 1517.0L1294.0 1518.0L1294.2 1519.0L1294.3 1520.0L1294.5 1521.0L1294.6 1522.0L1294.8 1523.0L1294.9 1524.0L1295.1 1525.0L1295.3 1526.0L1295.5 1527.0L1295.8 1528.0L1296.0 1529.0L1296.3 1530.0L1296.5 1531.0L1296.8 1532.0L1297.0 1533.0L1297.2 1534.0L1297.5 1535.0L1297.8 1536.0L1298.0 1537.0L1298.3 1538.0L1298.5 1539.0L1298.8 1540.0L1299.1 1541.0L1299.4 1542.0L1299.8 1543.0L1300.3 1544.0L1300.7 1545.0L1301.3 1546.0L1301.8 1547.0L1302.4 1548.0L1302.9 1549.0L1303.5 1550.0L1304.1 1551.0L1304.6 1552.0L1305.2 1553.0L1305.8 1554.0L1306.4 1555.0L1307.1 1556.0L1307.8 1557.0L1308.5 1558.0L1309.2 1559.0L1310.0 1560.0L1310.8 1561.0L1311.7 1562.0L1312.5 1563.0L1313.3 1564.0L1314.1 1565.0L1314.9 1566.0L1315.7 1567.0L1316.4 1568.0L1317.1 1569.0L1317.7 1570.0L1318.2 1571.0L1318.7 1572.0L1319.1 1573.0L1319.6 1574.0L1320.0 1575.0L1320.4 1576.0L1320.8 1577.0L1321.2 1578.0L1321.5 1579.0L1321.7 1580.0L1321.8 1581.0L1321.7 1582.0L1321.6 1583.0L1321.4 1584.0L1321.1 1585.0L1320.8 1586.0L1320.4 1587.0L1320.0 1588.0L1319.5 1589.0L1318.8 1590.0L1318.1 1591.0L1317.3 1592.0L1316.4 1593.0L1315.5 1594.0L1314.5 1595.0L1313.5 1596.0L1312.5 1597.0L1311.5 1598.0L1310.5 1599.0L1309.5 1600.0L1308.5 1601.0L1307.5 1602.0L1306.5 1603.0L1305.5 1604.0L1304.5 1605.0L1303.5 1606.0L1302.5 1607.0L1301.5 1608.0L1300.5 1609.0L1299.5 1610.0L1298.5 1611.0L1297.5 1612.0L1296.5 1613.0L1295.5 1614.0L1294.5 1615.0L1293.6 1616.0L1292.7 1617.0L1291.8 1618.0L1291.0 1619.0L1290.3 1620.0L1289.7 1621.0L1288.5 1622.0L1288.5 1622.0z" fill="#e0282a"/>
<path d="M1375.4 1036.0L1374.8 1036.0L1374.8 1037.0L1374.8 1038.0L1374.8 1039.0L1374.8 1040.0L1374.8 1041.0L1374.8 1042.0L1374.8 1043.0L1374.8 1044.0L1374.8 1045.0L1374.8 1046.0L1374.8 1047.0L1374.8 1048.0L1374.8 1049.0L1374.8 1050.0L1374.8 1051.0L1374.8 1052.0L1374.8 1053.0L1374.8 1054.0L1374.7 1055.0L1374.7 1056.0L1374.7 1057.0L1374.7 1058.0L1374.7 1059.0L1374.7 1060.0L1374.7 1061.0L1374.7 1062.0L1374.7 1063.0L1374.7 1064.0L1374.7 1065.0L1374.7 1066.0L1374.7 1067.0L1374.7 1068.0L1374.7 1069.0L1374.7 1070.0L1374.7 1071.0L1374.7 1072.0L1374.7 1073.0L1374.7 1074.0L1374.7 1075.0L1374.7 1076.0L1374.7 1077.0L1374.7 1078.0L1374.7 1079.0L1374.7 1080.0L1374.7 1081.0L1374.7 1082.0L1374.7 1083.0L1374.7 1084.0L1374.7 1085.0L1374.7 1086.0L1374.7 1087.0L1374.7 1088.0L1374.7 1089.0L1374.7 1090.0L1374.6 1091.0L1374.6 1092.0L1374.6 1093.0L1374.6 1094.0L1374.6 1095.0L1374.6 1096.0L1374.6 1097.0L1374.6 1098.0L1374.6 1099.0L1374.6 1100.0L1374.6 1101.0L1374.6 1102.0L1374.6 1103.0L1374.6 1104.0L1374.6 1105.0L1374.6 1106.0L1374.6 1107.0L1374.6 1108.0L1374.6 1109.0L1374.6 1110.0L1374.6 1111.0L1374.6 1112.0L1374.6 1113.0L1374.6 1114.0L1374.6 1115.0L1374.6 1116.0L1374.6 1117.0L1374.6 1118.0L1374.6 1119.0L1374.6 1120.0L1374.6 1121.0L1374.6 1122.0L1374.6 1123.0L1374.6 1124.0L1374.6 1125.0L1374.6 1126.0L1374.6 1127.0L1374.5 1128.0L1374.5 1129.0L1374.5 1130.0L1374.5 1131.0L1374.5 1132.0L1374.5 1133.0L1374.5 1134.0L1374.5 1135.0L1374.5 1136.0L1374.5 1137.0L1374.5 1138.0L1374.5 1139.0L1374.5 1140.0L1374.5 1141.0L1374.5 1142.0L1374.5 1143.0L1374.5 1144.0L1374.5 1145.0L1374.5 1146.0L1374.5 1147.0L1374.5 1148.0L1374.5 1149.0L1374.5 1150.0L1374.5 1151.0L1374.5 1152.0L1374.5 1153.0L1374.5 1154.0L1374.5 1155.0L1374.5 1156.0L1374.5 1157.0L1374.5 1158.0L1374.5 1159.0L1374.5 1160.0L1374.5 1161.0L1374.5 1162.0L1374.5 1163.0L1374.4 1164.0L1374.4 1165.0L1374.4 1166.0L1374.4 1167.0L1374.4 1168.0L1374.4 1169.0L1374.4 1170.0L1374.4 1171.0L1374.4 1172.0L1374.4 1173.0L1374.4 1174.0L1374.4 1175.0L1374.4 1176.0L1374.4 1177.0L1374.4 1178.0L1374.4 1179.0L1374.4 1180.0L1374.4 1181.0L1374.4 1182.0L1374.4 1183.0L1374.4 1184.0L1374.4 1185.0L1374.4 1186.0L1374.4 1187.0L1374.4 1188.0L1374.4 1189.0L1374.4 1190.0L1374.4 1191.0L1374.4 1192.0L1374.4 1193.0L1374.4 1194.0L1374.4 1195.0L1374.4 1196.0L1374.4 1197.0L1374.4 1198.0L1374.4 1199.0L1374.4 1200.0L1374.3 1201.0L1374.3 1202.0L1374.3 1203.0L1374.3 1204.0L1374.3 1205.0L1374.3 1206.0L1374.3 1207.0L1374.3 1208.0L1374.3 1209.0L1374.3 1210.0L1374.3 1211.0L1374.3 1212.0L1374.3 1213.0L1374.3 1214.0L1374.3 1215.0L1374.3 1216.0L1374.3 1217.0L1374.3 1218.0L1374.3 1219.0L1374.3 1220.0L1374.3 1221.0L1374.3 1222.0L1374.3 1223.0L1374.3 1224.0L1374.3 1225.0L1374.3 1226.0L1374.3 1227.0L1374.3 1228.0L1374.3 1229.0L1374.3 1230.0L1374.3 1231.0L1374.3 1232.0L1374.3 1233.0L1374.3 1234.0L1374.3 1235.0L1374.3 1236.0L1374.3 1237.0L1374.3 1238.0L1374.3 1239.0L1374.3 1240.0L1374.3 1241.0L1374.3 1242.0L1374.3 1243.0L1374.3 1244.0L1374.3 1245.0L1374.3 1246.0L1374.3 1247.0L1374.3 1248.0L1374.3 1249.0L1374.3 1250.0L1374.3 1251.0L1374.3 1252.0L1374.3 1253.0L1374.3 1254.0L1374.3 1255.0L1374.3 1256.0L1374.3 1257.0L1374.3 1258.0L1374.3 1259.0L1374.3 1260.0L1374.3 1261.0L1374.3 1262.0L1374.3 1263.0L1374.3 1264.0L1374.3 1265.0L1374.3 1266.0L1374.2 1267.0L1374.2 1268.0L1374.2 1269.0L1374.2 1270.0L1374.2 1271.0L1374.2 1272.0L1374.2 1273.0L1374.2 1274.0L1374.2 1275.0L1374.2 1276.0L1374.2 1277.0L1374.2 1278.0L1374.2 1279.0L1374.2 1280.0L1374.2 1281.0L1374.2 1282.0L1374.2 1283.0L1374.2 1284.0L1374.2 1285.0L1374.2 1286.0L1374.2 1287.0L1374.2 1288.0L1374.2 1289.0L1374.2 1290.0L1374.2 1291.0L1374.2 1292.0L1374.2 1293.0L1374.2 1294.0L1374.2 1295.0L1374.2 1296.0L1374.2 1297.0L1374.2 1298.0L1374.2 1299.0L1374.2 1300.0L1374.2 1301.0L1374.2 1302.0L1374.2 1303.0L1374.2 1304.0L1374.2 1305.0L1374.2 1306.0L1374.2 1307.0L1374.2 1308.0L1374.2 1309.0L1374.2 1310.0L1374.2 1311.0L1374.2 1312.0L1374.1 1313.0L1374.1 1314.0L1374.1 1315.0L1374.1 1316.0L1374.1 1317.0L1374.1 1318.0L1374.1 1319.0L1374.1 1320.0L1374.1 1321.0L1374.1 1322.0L1374.1 1323.0L1374.1 1324.0L1374.1 1325.0L1374.1 1326.0L1374.1 1327.0L1374.1 1328.0L1374.1 1329.0L1374.1 1330.0L1374.1 1331.0L1374.1 1332.0L1374.1 1333.0L1374.1 1334.0L1374.1 1335.0L1374.1 1336.0L1374.1 1337.0L1374.0 1338.0L1374.0 1339.0L1374.0 1340.0L1374.0 1341.0L1374.0 1342.0L1374.0 1343.0L1374.0 1344.0L1374.0 1345.0L1374.0 1346.0L1374.0 1347.0L1374.0 1348.0L1374.0 1349.0L1374.0 1350.0L1374.0 1351.0L1374.0 1352.0L1374.0 1353.0L1374.0 1354.0L1374.0 1355.0L1374.0 1356.0L1374.0 1357.0L1374.0 1358.0L1374.0 1359.0L1374.0 1360.0L1374.0 1361.0L1374.0 1362.0L1373.9 1363.0L1373.9 1364.0L1373.9 1365.0L1373.9 1366.0L1373.9 1367.0L1373.9 1368.0L1373.9 1369.0L1373.9 1370.0L1373.9 1371.0L1373.9 1372.0L1373.9 1373.0L1373.9 1374.0L1373.9 1375.0L1373.9 1376.0L1373.9 1377.0L1373.9 1378.0L1373.9 1379.0L1373.9 1380.0L1373.9 1381.0L1373.9 1382.0L1373.9 1383.0L1373.9 1384.0L1373.9 1385.0L1373.9 1386.0L1373.9 1387.0L1373.8 1388.0L1373.8 1389.0L1373.8 1390.0L1373.8 1391.0L1373.8 1392.0L1373.8 1393.0L1373.8 1394.0L1373.8 1395.0L1373.8 1396.0L1373.8 1397.0L1373.8 1398.0L1373.8 1399.0L1373.8 1400.0L1373.8 1401.0L1373.8 1402.0L1373.8 1403.0L1373.7 1404.0L1373.7 1405.0L1373.7 1406.0L1373.7 1407.0L1373.7 1408.0L1373.7 1409.0L1373.6 1410.0L1373.6 1411.0L1373.6 1412.0L1373.6 1413.0L1373.6 1414.0L1373.6 1415.0L1373.6 1416.0L1373.5 1417.0L1373.5 1418.0L1373.5 1419.0L1373.5 1420.0L1373.5 1421.0L1373.5 1422.0L1373.5 1423.0L1373.4 1424.0L1373.4 1425.0L1373.4 1426.0L1373.4 1427.0L1373.4 1428.0L1373.4 1429.0L1373.3 1430.0L1373.3 1431.0L1373.3 1432.0L1373.3 1433.0L1373.3 1434.0L1373.3 1435.0L1373.3 1436.0L1373.2 1437.0L1373.2 1438.0L1373.2 1439.0L1373.2 1440.0L1373.1 1441.0L1373.1 1442.0L1373.1 1443.0L1373.0 1444.0L1373.0 1445.0L1372.9 1446.0L1372.9 1447.0L1372.8 1448.0L1372.8 1449.0L1372.7 1450.0L1372.7 1451.0L1372.6 1452.0L1372.6 1453.0L1372.5 1454.0L1372.5 1455.0L1372.4 1456.0L1372.4 1457.0L1372.3 1458.0L1372.3 1459.0L1372.2 1460.0L1372.2 1461.0L1372.2 1462.0L1372.1 1463.0L1372.1 1464.0L1372.0 1465.0L1372.0 1466.0L1371.9 1467.0L1371.9 1468.0L1371.8 1469.0L1371.8 1470.0L1371.7 1471.0L1371.7 1472.0L1371.6 1473.0L1371.6 1474.0L1371.5 1475.0L1371.5 1476.0L1371.4 1477.0L1371.4 1478.0L1371.3 1479.0L1371.2 1480.0L1371.2 1481.0L1371.1 1482.0L1371.0 1483.0L1370.9 1484.0L1370.8 1485.0L1370.7 1486.0L1370.6 1487.0L1370.5 1488.0L1370.4 1489.0L1370.3 1490.0L1370.2 1491.0L1370.1 1492.0L1370.0 1493.0L1369.9 1494.0L1369.8 1495.0L1369.7 1496.0L1369.6 1497.0L1369.5 1498.0L1369.4 1499.0L1369.3 1500.0L1369.1 1501.0L1369.0 1502.0L1368.8 1503.0L1368.7 1504.0L1368.5 1505.0L1368.4 1506.0L1368.2 1507.0L1368.1 1508.0L1367.9 1509.0L1367.8 1510.0L1367.6 1511.0L1367.5 1512.0L1367.3 1513.0L1367.1 1514.0L1366.9 1515.0L1366.7 1516.0L1366.4 1517.0L1366.0 1518.0L1365.7 1519.0L1365.2 1520.0L1364.8 1521.0L1364.4 1522.0L1363.9 1523.0L1363.5 1524.0L1363.0 1525.0L1362.6 1526.0L1362.1 1527.0L1361.6 1528.0L1361.1 1529.0L1360.5 1530.0L1359.9 1531.0L1359.2 1532.0L1358.5 1533.0L1357.8 1534.0L1357.1 1535.0L1356.3 1536.0L1355.6 1537.0L1354.8 1538.0L1354.1 1539.0L1353.4 1540.0L1352.7 1541.0L1352.0 1542.0L1351.4 1543.0L1350.9 1544.0L1350.4 1545.0L1349.9 1546.0L1349.4 1547.0L1349.0 1548.0L1348.6 1549.0L1348.2 1550.0L1347.7 1551.0L1347.3 1552.0L1346.9 1553.0L1346.5 1554.0L1346.1 1555.0L1345.7 1556.0L1345.4 1557.0L1345.0 1558.0L1344.8 1559.0L1344.5 1560.0L1344.3 1561.0L1344.1 1562.0L1343.9 1563.0L1343.7 1564.0L1343.5 1565.0L1343.4 1566.0L1343.2 1567.0L1343.0 1568.0L1342.8 1569.0L1342.7 1570.0L1342.5 1571.0L1342.3 1572.0L1342.2 1573.0L1342.1 1574.0L1342.1 1575.0L1342.1 1576.0L1342.2 1577.0L1342.3 1578.0L1342.4 1579.0L1342.5 1580.0L1342.6 1581.0L1342.8 1582.0L1342.9 1583.0L1343.0 1584.0L1343.2 1585.0L1343.3 1586.0L1343.4 1587.0L1343.6 1588.0L1343.8 1589.0L1344.0 1590.0L1344.3 1591.0L1344.6 1592.0L1344.9 1593.0L1345.2 1594.0L1345.6 1595.0L1345.9 1596.0L1346.3 1597.0L1346.6 1598.0L1347.0 1599.0L1347.4 1600.0L1347.8 1601.0L1348.2 1602.0L1348.6 1603.0L1349.0 1604.0L1349.4 1605.0L1349.9 1606.0L1350.3 1607.0L1350.8 1608.0L1351.4 1609.0L1351.9 1610.0L1352.6 1611.0L1353.2 1612.0L1353.9 1613.0L1354.6 1614.0L1355.2 1615.0L1355.9 1616.0L1356.6 1617.0L1357.4 1618.0L1358.1 1619.0L1358.8 1620.0L1359.5 1621.0L1360.3 1622.0L1361.0 1623.0L1361.8 1624.0L1362.5 1625.0L1363.2 1626.0L1363.9 1627.0L1364.5 1628.0L1365.1 1629.0L1365.7 1630.0L1366.3 1631.0L1366.9 1632.0L1367.5 1633.0L1368.0 1634.0L1368.6 1635.0L1369.1 1636.0L1369.7 1637.0L1370.2 1638.0L1370.7 1639.0L1371.1 1640.0L1371.6 1641.0L1372.0 1642.0L1372.4 1643.0L1372.8 1644.0L1373.2 1645.0L1373.6 1646.0L1373.9 1647.0L1374.8 1648.0L1375.4 1648.0z" fill="#10803f"/>
<path d="M1374.8 1036.0L1374.8 1036.0L1374.8 1037.0L1374.8 1038.0L1374.8 1039.0L1374.8 1040.0L1374.8 1041.0L1374.8 1042.0L1374.8 1043.0L1374.8 1044.0L1374.8 1045.0L1374.8 1046.0L1374.8 1047.0L1374.8 1048.0L1374.8 1049.0L1374.8 1050.0L1374.8 1051.0L1374.8 1052.0L1374.9 1053.0L1374.9 1054.0L1374.9 1055.0L1374.9 1056.0L1374.9 1057.0L1374.9 1058.0L1374.9 1059.0L1374.9 1060.0L1374.9 1061.0L1374.9 1062.0L1374.9 1063.0L1374.9 1064.0L1374.9 1065.0L1374.9 1066.0L1374.9 1067.0L1374.9 1068.0L1374.9 1069.0L1374.9 1070.0L1374.9 1071.0L1374.9 1072.0L1374.9 1073.0L1374.9 1074.0L1374.9 1075.0L1374.9 1076.0L1374.9 1077.0L1374.9 1078.0L1374.9 1079.0L1374.9 1080.0L1374.9 1081.0L1374.9 1082.0L1374.9 1083.0L1374.9 1084.0L1374.9 1085.0L1375.0 1086.0L1375.0 1087.0L1375.0 1088.0L1375.0 1089.0L1375.0 1090.0L1375.0 1091.0L1375.0 1092.0L1375.0 1093.0L1375.0 1094.0L1375.0 1095.0L1375.0 1096.0L1375.0 1097.0L1375.0 1098.0L1375.0 1099.0L1375.0 1100.0L1375.0 1101.0L1375.0 1102.0L1375.0 1103.0L1375.0 1104.0L1375.0 1105.0L1375.0 1106.0L1375.0 1107.0L1375.0 1108.0L1375.0 1109.0L1375.0 1110.0L1375.0 1111.0L1375.0 1112.0L1375.0 1113.0L1375.0 1114.0L1375.0 1115.0L1375.0 1116.0L1375.0 1117.0L1375.0 1118.0L1375.1 1119.0L1375.1 1120.0L1375.1 1121.0L1375.1 1122.0L1375.1 1123.0L1375.1 1124.0L1375.1 1125.0L1375.1 1126.0L1375.1 1127.0L1375.1 1128.0L1375.1 1129.0L1375.1 1130.0L1375.1 1131.0L1375.1 1132.0L1375.1 1133.0L1375.1 1134.0L1375.1 1135.0L1375.1 1136.0L1375.1 1137.0L1375.1 1138.0L1375.1 1139.0L1375.1 1140.0L1375.1 1141.0L1375.1 1142.0L1375.1 1143.0L1375.1 1144.0L1375.1 1145.0L1375.1 1146.0L1375.1 1147.0L1375.1 1148.0L1375.1 1149.0L1375.1 1150.0L1375.2 1151.0L1375.2 1152.0L1375.2 1153.0L1375.2 1154.0L1375.2 1155.0L1375.2 1156.0L1375.2 1157.0L1375.2 1158.0L1375.2 1159.0L1375.2 1160.0L1375.2 1161.0L1375.2 1162.0L1375.2 1163.0L1375.2 1164.0L1375.2 1165.0L1375.2 1166.0L1375.2 1167.0L1375.2 1168.0L1375.2 1169.0L1375.2 1170.0L1375.2 1171.0L1375.2 1172.0L1375.2 1173.0L1375.2 1174.0L1375.2 1175.0L1375.2 1176.0L1375.2 1177.0L1375.2 1178.0L1375.2 1179.0L1375.2 1180.0L1375.2 1181.0L1375.2 1182.0L1375.2 1183.0L1375.3 1184.0L1375.3 1185.0L1375.3 1186.0L1375.3 1187.0L1375.3 1188.0L1375.3 1189.0L1375.3 1190.0L1375.3 1191.0L1375.3 1192.0L1375.3 1193.0L1375.3 1194.0L1375.3 1195.0L1375.3 1196.0L1375.3 1197.0L1375.3 1198.0L1375.3 1199.0L1375.3 1200.0L1375.3 1201.0L1375.3 1202.0L1375.3 1203.0L1375.3 1204.0L1375.3 1205.0L1375.3 1206.0L1375.3 1207.0L1375.3 1208.0L1375.3 1209.0L1375.3 1210.0L1375.3 1211.0L1375.3 1212.0L1375.3 1213.0L1375.3 1214.0L1375.3 1215.0L1375.3 1216.0L1375.4 1217.0L1375.4 1218.0L1375.4 1219.0L1375.4 1220.0L1375.4 1221.0L1375.4 1222.0L1375.4 1223.0L1375.4 1224.0L1375.4 1225.0L1375.4 1226.0L1375.4 1227.0L1375.4 1228.0L1375.4 1229.0L1375.4 1230.0L1375.4 1231.0L1375.4 1232.0L1375.4 1233.0L1375.4 1234.0L1375.4 1235.0L1375.4 1236.0L1375.4 1237.0L1375.4 1238.0L1375.4 1239.0L1375.4 1240.0L1375.4 1241.0L1375.4 1242.0L1375.4 1243.0L1375.4 1244.0L1375.4 1245.0L1375.4 1246.0L1375.4 1247.0L1375.4 1248.0L1375.4 1249.0L1375.5 1250.0L1375.5 1251.0L1375.5 1252.0L1375.5 1253.0L1375.5 1254.0L1375.5 1255.0L1375.5 1256.0L1375.5 1257.0L1375.5 1258.0L1375.5 1259.0L1375.5 1260.0L1375.5 1261.0L1375.5 1262.0L1375.5 1263.0L1375.5 1264.0L1375.5 1265.0L1375.5 1266.0L1375.5 1267.0L1375.5 1268.0L1375.5 1269.0L1375.5 1270.0L1375.5 1271.0L1375.5 1272.0L1375.5 1273.0L1375.5 1274.0L1375.5 1275.0L1375.5 1276.0L1375.5 1277.0L1375.5 1278.0L1375.5 1279.0L1375.5 1280.0L1375.5 1281.0L1375.5 1282.0L1375.5 1283.0L1375.6 1284.0L1375.6 1285.0L1375.6 1286.0L1375.6 1287.0L1375.6 1288.0L1375.6 1289.0L1375.6 1290.0L1375.6 1291.0L1375.6 1292.0L1375.6 1293.0L1375.6 1294.0L1375.6 1295.0L1375.6 1296.0L1375.6 1297.0L1375.6 1298.0L1375.6 1299.0L1375.6 1300.0L1375.6 1301.0L1375.6 1302.0L1375.6 1303.0L1375.6 1304.0L1375.6 1305.0L1375.6 1306.0L1375.6 1307.0L1375.6 1308.0L1375.7 1309.0L1375.7 1310.0L1375.7 1311.0L1375.7 1312.0L1375.7 1313.0L1375.7 1314.0L1375.7 1315.0L1375.7 1316.0L1375.7 1317.0L1375.7 1318.0L1375.7 1319.0L1375.7 1320.0L1375.7 1321.0L1375.7 1322.0L1375.7 1323.0L1375.7 1324.0L1375.8 1325.0L1375.8 1326.0L1375.8 1327.0L1375.8 1328.0L1375.8 1329.0L1375.8 1330.0L1375.8 1331.0L1375.8 1332.0L1375.8 1333.0L1375.8 1334.0L1375.8 1335.0L1375.8 1336.0L1375.8 1337.0L1375.8 1338.0L1375.8 1339.0L1375.8 1340.0L1375.8 1341.0L1375.9 1342.0L1375.9 1343.0L1375.9 1344.0L1375.9 1345.0L1375.9 1346.0L1375.9 1347.0L1375.9 1348.0L1375.9 1349.0L1375.9 1350.0L1375.9 1351.0L1375.9 1352.0L1375.9 1353.0L1375.9 1354.0L1375.9 1355.0L1375.9 1356.0L1375.9 1357.0L1375.9 1358.0L1376.0 1359.0L1376.0 1360.0L1376.0 1361.0L1376.0 1362.0L1376.0 1363.0L1376.0 1364.0L1376.0 1365.0L1376.0 1366.0L1376.0 1367.0L1376.0 1368.0L1376.0 1369.0L1376.0 1370.0L1376.0 1371.0L1376.0 1372.0L1376.0 1373.0L1376.0 1374.0L1376.0 1375.0L1376.1 1376.0L1376.1 1377.0L1376.1 1378.0L1376.1 1379.0L1376.1 1380.0L1376.1 1381.0L1376.1 1382.0L1376.1 1383.0L1376.1 1384.0L1376.1 1385.0L1376.1 1386.0L1376.1 1387.0L1376.1 1388.0L1376.1 1389.0L1376.1 1390.0L1376.1 1391.0L1376.2 1392.0L1376.2 1393.0L1376.2 1394.0L1376.2 1395.0L1376.2 1396.0L1376.2 1397.0L1376.2 1398.0L1376.2 1399.0L1376.2 1400.0L1376.2 1401.0L1376.2 1402.0L1376.2 1403.0L1376.3 1404.0L1376.3 1405.0L1376.3 1406.0L1376.3 1407.0L1376.3 1408.0L1376.3 1409.0L1376.4 1410.0L1376.4 1411.0L1376.4 1412.0L1376.4 1413.0L1376.4 1414.0L1376.4 1415.0L1376.5 1416.0L1376.5 1417.0L1376.5 1418.0L1376.5 1419.0L1376.5 1420.0L1376.5 1421.0L1376.6 1422.0L1376.6 1423.0L1376.6 1424.0L1376.6 1425.0L1376.6 1426.0L1376.6 1427.0L1376.6 1428.0L1376.7 1429.0L1376.7 1430.0L1376.7 1431.0L1376.7 1432.0L1376.7 1433.0L1376.7 1434.0L1376.8 1435.0L1376.8 1436.0L1376.8 1437.0L1376.9 1438.0L1376.9 1439.0L1377.0 1440.0L1377.0 1441.0L1377.1 1442.0L1377.1 1443.0L1377.2 1444.0L1377.3 1445.0L1377.3 1446.0L1377.4 1447.0L1377.4 1448.0L1377.5 1449.0L1377.6 1450.0L1377.6 1451.0L1377.7 1452.0L1377.8 1453.0L1377.8 1454.0L1377.9 1455.0L1377.9 1456.0L1378.0 1457.0L1378.1 1458.0L1378.1 1459.0L1378.2 1460.0L1378.2 1461.0L1378.3 1462.0L1378.4 1463.0L1378.4 1464.0L1378.5 1465.0L1378.6 1466.0L1378.6 1467.0L1378.7 1468.0L1378.8 1469.0L1378.9 1470.0L1379.0 1471.0L1379.1 1472.0L1379.2 1473.0L1379.3 1474.0L1379.5 1475.0L1379.6 1476.0L1379.7 1477.0L1379.8 1478.0L1380.0 1479.0L1380.1 1480.0L1380.2 1481.0L1380.4 1482.0L1380.5 1483.0L1380.6 1484.0L1380.8 1485.0L1380.9 1486.0L1381.0 1487.0L1381.2 1488.0L1381.3 1489.0L1381.4 1490.0L1381.6 1491.0L1381.8 1492.0L1381.9 1493.0L1382.1 1494.0L1382.3 1495.0L1382.4 1496.0L1382.6 1497.0L1382.8 1498.0L1382.9 1499.0L1383.1 1500.0L1383.3 1501.0L1383.4 1502.0L1383.6 1503.0L1383.8 1504.0L1384.0 1505.0L1384.1 1506.0L1384.3 1507.0L1384.5 1508.0L1384.7 1509.0L1385.0 1510.0L1385.2 1511.0L1385.5 1512.0L1385.8 1513.0L1386.1 1514.0L1386.4 1515.0L1386.8 1516.0L1387.1 1517.0L1387.4 1518.0L1387.7 1519.0L1388.0 1520.0L1388.4 1521.0L1388.7 1522.0L1389.0 1523.0L1389.4 1524.0L1389.7 1525.0L1390.0 1526.0L1390.3 1527.0L1390.7 1528.0L1391.1 1529.0L1391.5 1530.0L1391.9 1531.0L1392.4 1532.0L1392.8 1533.0L1393.3 1534.0L1393.8 1535.0L1394.3 1536.0L1394.8 1537.0L1395.3 1538.0L1395.8 1539.0L1396.3 1540.0L1396.8 1541.0L1397.3 1542.0L1397.8 1543.0L1398.2 1544.0L1398.7 1545.0L1399.1 1546.0L1399.6 1547.0L1400.0 1548.0L1400.4 1549.0L1400.8 1550.0L1401.2 1551.0L1401.6 1552.0L1402.0 1553.0L1402.4 1554.0L1402.8 1555.0L1403.2 1556.0L1403.6 1557.0L1403.9 1558.0L1404.3 1559.0L1404.6 1560.0L1404.9 1561.0L1405.2 1562.0L1405.4 1563.0L1405.7 1564.0L1405.9 1565.0L1406.1 1566.0L1406.4 1567.0L1406.6 1568.0L1406.8 1569.0L1407.0 1570.0L1407.3 1571.0L1407.5 1572.0L1407.7 1573.0L1407.9 1574.0L1408.0 1575.0L1408.2 1576.0L1408.2 1577.0L1408.3 1578.0L1408.2 1579.0L1408.1 1580.0L1408.0 1581.0L1407.9 1582.0L1407.8 1583.0L1407.6 1584.0L1407.5 1585.0L1407.3 1586.0L1407.2 1587.0L1407.0 1588.0L1406.8 1589.0L1406.5 1590.0L1406.3 1591.0L1405.9 1592.0L1405.6 1593.0L1405.2 1594.0L1404.8 1595.0L1404.4 1596.0L1404.0 1597.0L1403.6 1598.0L1403.1 1599.0L1402.6 1600.0L1402.2 1601.0L1401.6 1602.0L1401.1 1603.0L1400.6 1604.0L1400.0 1605.0L1399.5 1606.0L1398.9 1607.0L1398.3 1608.0L1397.7 1609.0L1397.1 1610.0L1396.4 1611.0L1395.8 1612.0L1395.1 1613.0L1394.5 1614.0L1393.8 1615.0L1393.1 1616.0L1392.4 1617.0L1391.7 1618.0L1391.0 1619.0L1390.3 1620.0L1389.6 1621.0L1388.9 1622.0L1388.2 1623.0L1387.5 1624.0L1386.8 1625.0L1386.1 1626.0L1385.4 1627.0L1384.8 1628.0L1384.1 1629.0L1383.5 1630.0L1382.9 1631.0L1382.3 1632.0L1381.7 1633.0L1381.1 1634.0L1380.5 1635.0L1380.0 1636.0L1379.4 1637.0L1378.9 1638.0L1378.4 1639.0L1377.9 1640.0L1377.5 1641.0L1377.0 1642.0L1376.6 1643.0L1376.2 1644.0L1375.8 1645.0L1374.8 1646.0L1374.8 1646.0z" fill="#e0282a"/>
<path d="M1474.6 1335.9L1474.0 1335.9L1474.0 1336.9L1473.9 1337.9L1473.9 1338.9L1473.9 1339.9L1473.9 1340.9L1473.8 1341.9L1473.8 1342.9L1473.8 1343.9L1473.7 1344.9L1473.7 1345.9L1473.7 1346.9L1473.7 1347.9L1473.6 1348.9L1473.6 1349.9L1473.6 1350.9L1473.5 1351.9L1473.5 1352.9L1473.5 1353.9L1473.4 1354.9L1473.4 1355.9L1473.4 1356.9L1473.4 1357.9L1473.3 1358.9L1473.3 1359.9L1473.3 1360.9L1473.3 1361.9L1473.2 1362.9L1473.2 1363.9L1473.2 1364.9L1473.2 1365.9L1473.1 1366.9L1473.1 1367.9L1473.1 1368.9L1473.1 1369.9L1473.0 1370.9L1473.0 1371.9L1473.0 1372.9L1473.0 1373.9L1472.9 1374.9L1472.9 1375.9L1472.9 1376.9L1472.8 1377.9L1472.8 1378.9L1472.8 1379.9L1472.7 1380.9L1472.7 1381.9L1472.6 1382.9L1472.6 1383.9L1472.5 1384.9L1472.5 1385.9L1472.4 1386.9L1472.3 1387.9L1472.3 1388.9L1472.2 1389.9L1472.2 1390.9L1472.1 1391.9L1472.1 1392.9L1472.0 1393.9L1471.9 1394.9L1471.9 1395.9L1471.8 1396.9L1471.8 1397.9L1471.7 1398.9L1471.6 1399.9L1471.6 1400.9L1471.5 1401.9L1471.5 1402.9L1471.4 1403.9L1471.4 1404.9L1471.3 1405.9L1471.2 1406.9L1471.2 1407.9L1471.1 1408.9L1471.0 1409.9L1471.0 1410.9L1470.9 1411.9L1470.8 1412.9L1470.7 1413.9L1470.6 1414.9L1470.5 1415.9L1470.4 1416.9L1470.3 1417.9L1470.2 1418.9L1470.1 1419.9L1470.0 1420.9L1469.9 1421.9L1469.8 1422.9L1469.7 1423.9L1469.6 1424.9L1469.5 1425.9L1469.4 1426.9L1469.3 1427.9L1469.1 1428.9L1469.0 1429.9L1468.9 1430.9L1468.8 1431.9L1468.7 1432.9L1468.6 1433.9L1468.5 1434.9L1468.4 1435.9L1468.3 1436.9L1468.2 1437.9L1468.1 1438.9L1468.0 1439.9L1467.9 1440.9L1467.8 1441.9L1467.6 1442.9L1467.5 1443.9L1467.4 1444.9L1467.3 1445.9L1467.1 1446.9L1467.0 1447.9L1466.9 1448.9L1466.8 1449.9L1466.6 1450.9L1466.5 1451.9L1466.4 1452.9L1466.3 1453.9L1466.1 1454.9L1466.0 1455.9L1465.9 1456.9L1465.8 1457.9L1465.7 1458.9L1465.6 1459.9L1465.5 1460.9L1465.4 1461.9L1465.4 1462.9L1465.3 1463.9L1465.3 1464.9L1465.3 1465.9L1465.2 1466.9L1465.2 1467.9L1465.1 1468.9L1465.1 1469.9L1465.1 1470.9L1465.1 1471.9L1465.1 1472.9L1465.1 1473.9L1465.2 1474.9L1465.2 1475.9L1465.3 1476.9L1465.3 1477.9L1465.4 1478.9L1465.4 1479.9L1465.5 1480.9L1465.6 1481.9L1465.6 1482.9L1465.7 1483.9L1465.7 1484.9L1465.8 1485.9L1465.8 1486.9L1465.9 1487.9L1465.9 1488.9L1466.0 1489.9L1466.0 1490.9L1466.1 1491.9L1466.2 1492.9L1466.2 1493.9L1466.3 1494.9L1466.3 1495.9L1466.4 1496.9L1466.4 1497.9L1466.5 1498.9L1466.5 1499.9L1466.6 1500.9L1466.6 1501.9L1466.7 1502.9L1466.7 1503.9L1466.8 1504.9L1466.8 1505.9L1466.9 1506.9L1466.9 1507.9L1466.9 1508.9L1466.9 1509.9L1466.9 1510.9L1466.8 1511.9L1466.8 1512.9L1466.6 1513.9L1466.5 1514.9L1466.4 1515.9L1466.2 1516.9L1466.1 1517.9L1465.9 1518.9L1465.8 1519.9L1465.6 1520.9L1465.4 1521.9L1465.2 1522.9L1465.0 1523.9L1464.7 1524.9L1464.4 1525.9L1464.0 1526.9L1463.6 1527.9L1463.2 1528.9L1462.7 1529.9L1462.2 1530.9L1461.8 1531.9L1461.3 1532.9L1460.8 1533.9L1460.4 1534.9L1459.9 1535.9L1459.4 1536.9L1458.9 1537.9L1458.4 1538.9L1457.8 1539.9L1457.1 1540.9L1456.4 1541.9L1455.7 1542.9L1455.0 1543.9L1454.2 1544.9L1453.5 1545.9L1452.7 1546.9L1451.9 1547.9L1451.2 1548.9L1450.4 1549.9L1449.7 1550.9L1449.0 1551.9L1448.4 1552.9L1447.8 1553.9L1447.3 1554.9L1446.8 1555.9L1446.3 1556.9L1445.9 1557.9L1445.4 1558.9L1445.0 1559.9L1444.5 1560.9L1444.1 1561.9L1443.7 1562.9L1443.2 1563.9L1442.8 1564.9L1442.4 1565.9L1442.0 1566.9L1441.8 1567.9L1441.6 1568.9L1441.5 1569.9L1441.5 1570.9L1441.6 1571.9L1441.8 1572.9L1442.0 1573.9L1442.2 1574.9L1442.5 1575.9L1442.7 1576.9L1443.0 1577.9L1443.2 1578.9L1443.5 1579.9L1443.9 1580.9L1444.2 1581.9L1444.7 1582.9L1445.1 1583.9L1445.6 1584.9L1446.1 1585.9L1446.6 1586.9L1447.2 1587.9L1447.7 1588.9L1448.3 1589.9L1448.8 1590.9L1449.3 1591.9L1449.9 1592.9L1450.4 1593.9L1451.0 1594.9L1451.6 1595.9L1452.2 1596.9L1452.7 1597.9L1453.3 1598.9L1453.9 1599.9L1454.5 1600.9L1455.1 1601.9L1455.7 1602.9L1456.3 1603.9L1456.9 1604.9L1457.5 1605.9L1458.1 1606.9L1458.7 1607.9L1459.3 1608.9L1459.8 1609.9L1460.3 1610.9L1460.8 1611.9L1461.3 1612.9L1461.8 1613.9L1462.3 1614.9L1462.8 1615.9L1463.2 1616.9L1463.7 1617.9L1464.2 1618.9L1464.6 1619.9L1465.1 1620.9L1465.5 1621.9L1466.0 1622.9L1466.4 1623.9L1466.9 1624.9L1467.3 1625.9L1467.7 1626.9L1468.0 1627.9L1468.4 1628.9L1468.8 1629.9L1469.1 1630.9L1469.5 1631.9L1469.9 1632.9L1470.2 1633.9L1470.6 1634.9L1470.9 1635.9L1471.3 1636.9L1471.7 1637.9L1472.0 1638.9L1472.3 1639.9L1472.7 1640.9L1473.0 1641.9L1473.2 1642.9L1474.0 1643.9L1474.6 1643.9z" fill="#10803f"/>
<path d="M1474.0 1370.0L1474.0 1370.0L1474.1 1371.0L1474.2 1372.0L1474.3 1373.0L1474.3 1374.0L1474.4 1375.0L1474.5 1376.0L1474.6 1377.0L1474.7 1378.0L1474.8 1379.0L1474.8 1380.0L1474.9 1381.0L1475.0 1382.0L1475.1 1383.0L1475.2 1384.0L1475.2 1385.0L1475.3 1386.0L1475.4 1387.0L1475.5 1388.0L1475.6 1389.0L1475.7 1390.0L1475.8 1391.0L1475.8 1392.0L1475.9 1393.0L1476.0 1394.0L1476.1 1395.0L1476.2 1396.0L1476.3 1397.0L1476.3 1398.0L1476.4 1399.0L1476.6 1400.0L1476.7 1401.0L1476.8 1402.0L1476.9 1403.0L1477.1 1404.0L1477.2 1405.0L1477.3 1406.0L1477.5 1407.0L1477.6 1408.0L1477.8 1409.0L1477.9 1410.0L1478.0 1411.0L1478.2 1412.0L1478.3 1413.0L1478.5 1414.0L1478.6 1415.0L1478.7 1416.0L1478.9 1417.0L1479.0 1418.0L1479.2 1419.0L1479.3 1420.0L1479.4 1421.0L1479.6 1422.0L1479.7 1423.0L1479.9 1424.0L1480.0 1425.0L1480.2 1426.0L1480.4 1427.0L1480.5 1428.0L1480.7 1429.0L1480.9 1430.0L1481.1 1431.0L1481.2 1432.0L1481.4 1433.0L1481.6 1434.0L1481.8 1435.0L1481.9 1436.0L1482.1 1437.0L1482.3 1438.0L1482.4 1439.0L1482.6 1440.0L1482.8 1441.0L1483.0 1442.0L1483.1 1443.0L1483.3 1444.0L1483.4 1445.0L1483.5 1446.0L1483.6 1447.0L1483.7 1448.0L1483.8 1449.0L1483.9 1450.0L1484.0 1451.0L1484.1 1452.0L1484.1 1453.0L1484.2 1454.0L1484.3 1455.0L1484.4 1456.0L1484.5 1457.0L1484.5 1458.0L1484.6 1459.0L1484.7 1460.0L1484.8 1461.0L1484.8 1462.0L1484.9 1463.0L1484.9 1464.0L1484.9 1465.0L1484.9 1466.0L1484.8 1467.0L1484.8 1468.0L1484.8 1469.0L1484.7 1470.0L1484.7 1471.0L1484.6 1472.0L1484.6 1473.0L1484.5 1474.0L1484.5 1475.0L1484.4 1476.0L1484.4 1477.0L1484.3 1478.0L1484.3 1479.0L1484.2 1480.0L1484.2 1481.0L1484.1 1482.0L1484.1 1483.0L1484.0 1484.0L1484.0 1485.0L1483.9 1486.0L1483.8 1487.0L1483.8 1488.0L1483.7 1489.0L1483.6 1490.0L1483.5 1491.0L1483.4 1492.0L1483.4 1493.0L1483.3 1494.0L1483.2 1495.0L1483.1 1496.0L1483.1 1497.0L1483.0 1498.0L1482.9 1499.0L1482.9 1500.0L1482.9 1501.0L1482.9 1502.0L1482.9 1503.0L1482.9 1504.0L1482.9 1505.0L1482.9 1506.0L1482.9 1507.0L1483.0 1508.0L1483.0 1509.0L1483.1 1510.0L1483.2 1511.0L1483.3 1512.0L1483.4 1513.0L1483.6 1514.0L1483.7 1515.0L1483.9 1516.0L1484.1 1517.0L1484.3 1518.0L1484.5 1519.0L1484.7 1520.0L1485.0 1521.0L1485.3 1522.0L1485.6 1523.0L1486.0 1524.0L1486.4 1525.0L1486.9 1526.0L1487.3 1527.0L1487.8 1528.0L1488.2 1529.0L1488.7 1530.0L1489.2 1531.0L1489.6 1532.0L1490.1 1533.0L1490.6 1534.0L1491.1 1535.0L1491.7 1536.0L1492.2 1537.0L1492.8 1538.0L1493.4 1539.0L1494.0 1540.0L1494.6 1541.0L1495.2 1542.0L1495.8 1543.0L1496.4 1544.0L1497.0 1545.0L1497.6 1546.0L1498.2 1547.0L1498.7 1548.0L1499.3 1549.0L1499.8 1550.0L1500.3 1551.0L1500.7 1552.0L1501.1 1553.0L1501.5 1554.0L1501.9 1555.0L1502.3 1556.0L1502.6 1557.0L1503.0 1558.0L1503.4 1559.0L1503.8 1560.0L1504.1 1561.0L1504.5 1562.0L1504.9 1563.0L1505.3 1564.0L1505.6 1565.0L1506.0 1566.0L1506.3 1567.0L1506.5 1568.0L1506.7 1569.0L1506.7 1570.0L1506.7 1571.0L1506.6 1572.0L1506.4 1573.0L1506.3 1574.0L1506.0 1575.0L1505.8 1576.0L1505.6 1577.0L1505.4 1578.0L1505.1 1579.0L1504.8 1580.0L1504.5 1581.0L1504.2 1582.0L1503.7 1583.0L1503.2 1584.0L1502.7 1585.0L1502.2 1586.0L1501.6 1587.0L1501.0 1588.0L1500.5 1589.0L1499.9 1590.0L1499.3 1591.0L1498.7 1592.0L1498.1 1593.0L1497.5 1594.0L1496.9 1595.0L1496.3 1596.0L1495.6 1597.0L1495.0 1598.0L1494.3 1599.0L1493.7 1600.0L1493.0 1601.0L1492.3 1602.0L1491.7 1603.0L1491.0 1604.0L1490.3 1605.0L1489.7 1606.0L1489.0 1607.0L1488.4 1608.0L1487.8 1609.0L1487.2 1610.0L1486.6 1611.0L1486.0 1612.0L1485.5 1613.0L1485.0 1614.0L1484.5 1615.0L1484.0 1616.0L1483.5 1617.0L1483.0 1618.0L1482.5 1619.0L1482.0 1620.0L1481.5 1621.0L1481.0 1622.0L1480.5 1623.0L1480.0 1624.0L1479.6 1625.0L1479.1 1626.0L1478.7 1627.0L1478.2 1628.0L1477.8 1629.0L1477.4 1630.0L1477.0 1631.0L1476.5 1632.0L1476.1 1633.0L1475.7 1634.0L1475.3 1635.0L1475.0 1636.0L1474.7 1637.0L1474.0 1638.0L1474.0 1638.0z" fill="#e0282a"/>
<path d="M1563.3 1310.5L1562.7 1310.5L1562.7 1311.5L1562.7 1312.5L1562.6 1313.5L1562.6 1314.5L1562.6 1315.5L1562.6 1316.5L1562.6 1317.5L1562.6 1318.5L1562.5 1319.5L1562.5 1320.5L1562.5 1321.5L1562.5 1322.5L1562.5 1323.5L1562.5 1324.5L1562.4 1325.5L1562.4 1326.5L1562.4 1327.5L1562.4 1328.5L1562.4 1329.5L1562.3 1330.5L1562.3 1331.5L1562.3 1332.5L1562.3 1333.5L1562.3 1334.5L1562.3 1335.5L1562.2 1336.5L1562.2 1337.5L1562.2 1338.5L1562.2 1339.5L1562.2 1340.5L1562.2 1341.5L1562.1 1342.5L1562.1 1343.5L1562.1 1344.5L1562.1 1345.5L1562.1 1346.5L1562.0 1347.5L1562.0 1348.5L1562.0 1349.5L1562.0 1350.5L1562.0 1351.5L1562.0 1352.5L1561.9 1353.5L1561.9 1354.5L1561.9 1355.5L1561.9 1356.5L1561.9 1357.5L1561.9 1358.5L1561.8 1359.5L1561.8 1360.5L1561.8 1361.5L1561.8 1362.5L1561.8 1363.5L1561.8 1364.5L1561.8 1365.5L1561.7 1366.5L1561.7 1367.5L1561.7 1368.5L1561.7 1369.5L1561.7 1370.5L1561.7 1371.5L1561.6 1372.5L1561.6 1373.5L1561.6 1374.5L1561.6 1375.5L1561.6 1376.5L1561.6 1377.5L1561.5 1378.5L1561.5 1379.5L1561.5 1380.5L1561.5 1381.5L1561.5 1382.5L1561.5 1383.5L1561.4 1384.5L1561.4 1385.5L1561.4 1386.5L1561.4 1387.5L1561.4 1388.5L1561.4 1389.5L1561.4 1390.5L1561.3 1391.5L1561.3 1392.5L1561.3 1393.5L1561.3 1394.5L1561.3 1395.5L1561.3 1396.5L1561.2 1397.5L1561.2 1398.5L1561.2 1399.5L1561.2 1400.5L1561.1 1401.5L1561.1 1402.5L1561.1 1403.5L1561.0 1404.5L1561.0 1405.5L1561.0 1406.5L1560.9 1407.5L1560.9 1408.5L1560.8 1409.5L1560.8 1410.5L1560.8 1411.5L1560.7 1412.5L1560.7 1413.5L1560.7 1414.5L1560.6 1415.5L1560.6 1416.5L1560.5 1417.5L1560.5 1418.5L1560.5 1419.5L1560.4 1420.5L1560.4 1421.5L1560.4 1422.5L1560.3 1423.5L1560.3 1424.5L1560.2 1425.5L1560.2 1426.5L1560.2 1427.5L1560.1 1428.5L1560.1 1429.5L1560.1 1430.5L1560.0 1431.5L1560.0 1432.5L1559.9 1433.5L1559.9 1434.5L1559.9 1435.5L1559.8 1436.5L1559.8 1437.5L1559.7 1438.5L1559.7 1439.5L1559.7 1440.5L1559.6 1441.5L1559.5 1442.5L1559.5 1443.5L1559.4 1444.5L1559.4 1445.5L1559.3 1446.5L1559.3 1447.5L1559.2 1448.5L1559.1 1449.5L1559.1 1450.5L1559.0 1451.5L1559.0 1452.5L1558.9 1453.5L1558.8 1454.5L1558.8 1455.5L1558.7 1456.5L1558.7 1457.5L1558.6 1458.5L1558.5 1459.5L1558.5 1460.5L1558.4 1461.5L1558.4 1462.5L1558.3 1463.5L1558.3 1464.5L1558.2 1465.5L1558.1 1466.5L1558.1 1467.5L1558.0 1468.5L1557.9 1469.5L1557.9 1470.5L1557.8 1471.5L1557.7 1472.5L1557.6 1473.5L1557.5 1474.5L1557.4 1475.5L1557.2 1476.5L1557.1 1477.5L1556.9 1478.5L1556.8 1479.5L1556.6 1480.5L1556.4 1481.5L1556.3 1482.5L1556.1 1483.5L1555.9 1484.5L1555.8 1485.5L1555.6 1486.5L1555.4 1487.5L1555.3 1488.5L1555.1 1489.5L1554.9 1490.5L1554.8 1491.5L1554.6 1492.5L1554.4 1493.5L1554.2 1494.5L1554.0 1495.5L1553.7 1496.5L1553.5 1497.5L1553.2 1498.5L1552.9 1499.5L1552.6 1500.5L1552.3 1501.5L1552.1 1502.5L1551.8 1503.5L1551.5 1504.5L1551.2 1505.5L1550.9 1506.5L1550.6 1507.5L1550.3 1508.5L1550.0 1509.5L1549.7 1510.5L1549.4 1511.5L1549.1 1512.5L1548.8 1513.5L1548.5 1514.5L1548.1 1515.5L1547.8 1516.5L1547.5 1517.5L1547.1 1518.5L1546.8 1519.5L1546.4 1520.5L1546.1 1521.5L1545.8 1522.5L1545.4 1523.5L1545.1 1524.5L1544.7 1525.5L1544.4 1526.5L1544.0 1527.5L1543.7 1528.5L1543.3 1529.5L1543.0 1530.5L1542.6 1531.5L1542.2 1532.5L1541.8 1533.5L1541.4 1534.5L1541.0 1535.5L1540.6 1536.5L1540.2 1537.5L1539.8 1538.5L1539.4 1539.5L1539.0 1540.5L1538.6 1541.5L1538.2 1542.5L1537.8 1543.5L1537.4 1544.5L1537.0 1545.5L1536.6 1546.5L1536.2 1547.5L1535.8 1548.5L1535.5 1549.5L1535.1 1550.5L1534.8 1551.5L1534.5 1552.5L1534.2 1553.5L1533.9 1554.5L1533.6 1555.5L1533.3 1556.5L1533.0 1557.5L1532.7 1558.5L1532.4 1559.5L1532.1 1560.5L1531.8 1561.5L1531.5 1562.5L1531.2 1563.5L1531.0 1564.5L1530.7 1565.5L1530.5 1566.5L1530.3 1567.5L1530.2 1568.5L1530.0 1569.5L1529.9 1570.5L1529.7 1571.5L1529.6 1572.5L1529.6 1573.5L1529.6 1574.5L1529.7 1575.5L1529.8 1576.5L1530.0 1577.5L1530.2 1578.5L1530.4 1579.5L1530.6 1580.5L1530.9 1581.5L1531.2 1582.5L1531.5 1583.5L1531.8 1584.5L1532.2 1585.5L1532.6 1586.5L1533.1 1587.5L1533.6 1588.5L1534.1 1589.5L1534.7 1590.5L1535.2 1591.5L1535.7 1592.5L1536.3 1593.5L1536.8 1594.5L1537.4 1595.5L1538.0 1596.5L1538.5 1597.5L1539.1 1598.5L1539.8 1599.5L1540.4 1600.5L1541.1 1601.5L1541.8 1602.5L1542.4 1603.5L1543.1 1604.5L1543.8 1605.5L1544.5 1606.5L1545.1 1607.5L1545.8 1608.5L1546.5 1609.5L1547.1 1610.5L1547.7 1611.5L1548.4 1612.5L1548.9 1613.5L1549.5 1614.5L1550.0 1615.5L1550.6 1616.5L1551.1 1617.5L1551.7 1618.5L1552.2 1619.5L1552.7 1620.5L1553.2 1621.5L1553.8 1622.5L1554.3 1623.5L1554.8 1624.5L1555.3 1625.5L1555.8 1626.5L1556.3 1627.5L1556.8 1628.5L1557.2 1629.5L1557.6 1630.5L1558.0 1631.5L1558.4 1632.5L1558.8 1633.5L1559.1 1634.5L1559.5 1635.5L1559.9 1636.5L1560.3 1637.5L1560.6 1638.5L1561.0 1639.5L1561.3 1640.5L1561.7 1641.5L1561.9 1642.5L1562.7 1643.5L1563.3 1643.5z" fill="#10803f"/>
<path d="M1562.7 1320.0L1562.7 1320.0L1562.8 1321.0L1562.8 1322.0L1562.9 1323.0L1562.9 1324.0L1563.0 1325.0L1563.0 1326.0L1563.1 1327.0L1563.1 1328.0L1563.2 1329.0L1563.2 1330.0L1563.2 1331.0L1563.3 1332.0L1563.4 1333.0L1563.4 1334.0L1563.5 1335.0L1563.5 1336.0L1563.5 1337.0L1563.6 1338.0L1563.7 1339.0L1563.7 1340.0L1563.8 1341.0L1563.8 1342.0L1563.9 1343.0L1563.9 1344.0L1564.0 1345.0L1564.0 1346.0L1564.1 1347.0L1564.1 1348.0L1564.2 1349.0L1564.2 1350.0L1564.3 1351.0L1564.3 1352.0L1564.4 1353.0L1564.4 1354.0L1564.5 1355.0L1564.5 1356.0L1564.6 1357.0L1564.6 1358.0L1564.7 1359.0L1564.7 1360.0L1564.8 1361.0L1564.8 1362.0L1564.9 1363.0L1564.9 1364.0L1565.0 1365.0L1565.0 1366.0L1565.1 1367.0L1565.1 1368.0L1565.2 1369.0L1565.2 1370.0L1565.3 1371.0L1565.3 1372.0L1565.4 1373.0L1565.4 1374.0L1565.5 1375.0L1565.5 1376.0L1565.6 1377.0L1565.7 1378.0L1565.7 1379.0L1565.7 1380.0L1565.8 1381.0L1565.8 1382.0L1565.9 1383.0L1565.9 1384.0L1566.0 1385.0L1566.0 1386.0L1566.1 1387.0L1566.1 1388.0L1566.2 1389.0L1566.2 1390.0L1566.3 1391.0L1566.3 1392.0L1566.4 1393.0L1566.4 1394.0L1566.5 1395.0L1566.5 1396.0L1566.6 1397.0L1566.6 1398.0L1566.7 1399.0L1566.7 1400.0L1566.7 1401.0L1566.8 1402.0L1566.8 1403.0L1566.9 1404.0L1566.9 1405.0L1567.0 1406.0L1567.0 1407.0L1567.1 1408.0L1567.1 1409.0L1567.2 1410.0L1567.2 1411.0L1567.3 1412.0L1567.3 1413.0L1567.4 1414.0L1567.4 1415.0L1567.5 1416.0L1567.5 1417.0L1567.6 1418.0L1567.6 1419.0L1567.7 1420.0L1567.7 1421.0L1567.7 1422.0L1567.8 1423.0L1567.8 1424.0L1567.9 1425.0L1567.9 1426.0L1568.0 1427.0L1568.0 1428.0L1568.1 1429.0L1568.1 1430.0L1568.2 1431.0L1568.2 1432.0L1568.3 1433.0L1568.3 1434.0L1568.4 1435.0L1568.4 1436.0L1568.5 1437.0L1568.5 1438.0L1568.6 1439.0L1568.7 1440.0L1568.7 1441.0L1568.8 1442.0L1568.9 1443.0L1568.9 1444.0L1569.0 1445.0L1569.0 1446.0L1569.1 1447.0L1569.2 1448.0L1569.2 1449.0L1569.3 1450.0L1569.4 1451.0L1569.4 1452.0L1569.5 1453.0L1569.6 1454.0L1569.6 1455.0L1569.7 1456.0L1569.7 1457.0L1569.8 1458.0L1569.9 1459.0L1569.9 1460.0L1570.0 1461.0L1570.1 1462.0L1570.1 1463.0L1570.2 1464.0L1570.2 1465.0L1570.3 1466.0L1570.4 1467.0L1570.4 1468.0L1570.5 1469.0L1570.6 1470.0L1570.6 1471.0L1570.7 1472.0L1570.8 1473.0L1570.8 1474.0L1570.9 1475.0L1571.0 1476.0L1571.0 1477.0L1571.1 1478.0L1571.2 1479.0L1571.3 1480.0L1571.4 1481.0L1571.5 1482.0L1571.7 1483.0L1571.8 1484.0L1572.0 1485.0L1572.1 1486.0L1572.3 1487.0L1572.4 1488.0L1572.6 1489.0L1572.7 1490.0L1572.9 1491.0L1573.0 1492.0L1573.2 1493.0L1573.3 1494.0L1573.5 1495.0L1573.6 1496.0L1573.8 1497.0L1573.9 1498.0L1574.1 1499.0L1574.2 1500.0L1574.4 1501.0L1574.5 1502.0L1574.7 1503.0L1574.8 1504.0L1575.0 1505.0L1575.1 1506.0L1575.3 1507.0L1575.4 1508.0L1575.6 1509.0L1575.8 1510.0L1576.0 1511.0L1576.2 1512.0L1576.4 1513.0L1576.7 1514.0L1576.9 1515.0L1577.2 1516.0L1577.5 1517.0L1577.8 1518.0L1578.1 1519.0L1578.4 1520.0L1578.7 1521.0L1578.9 1522.0L1579.2 1523.0L1579.5 1524.0L1579.8 1525.0L1580.1 1526.0L1580.4 1527.0L1580.7 1528.0L1581.0 1529.0L1581.3 1530.0L1581.6 1531.0L1581.9 1532.0L1582.2 1533.0L1582.5 1534.0L1582.8 1535.0L1583.2 1536.0L1583.6 1537.0L1584.0 1538.0L1584.4 1539.0L1584.8 1540.0L1585.3 1541.0L1585.7 1542.0L1586.1 1543.0L1586.5 1544.0L1587.0 1545.0L1587.4 1546.0L1587.8 1547.0L1588.2 1548.0L1588.6 1549.0L1589.1 1550.0L1589.5 1551.0L1589.9 1552.0L1590.3 1553.0L1590.7 1554.0L1591.1 1555.0L1591.4 1556.0L1591.8 1557.0L1592.1 1558.0L1592.4 1559.0L1592.7 1560.0L1593.0 1561.0L1593.4 1562.0L1593.7 1563.0L1594.0 1564.0L1594.2 1565.0L1594.5 1566.0L1594.8 1567.0L1595.0 1568.0L1595.1 1569.0L1595.2 1570.0L1595.3 1571.0L1595.4 1572.0L1595.5 1573.0L1595.5 1574.0L1595.5 1575.0L1595.4 1576.0L1595.3 1577.0L1595.1 1578.0L1594.8 1579.0L1594.6 1580.0L1594.3 1581.0L1594.0 1582.0L1593.7 1583.0L1593.4 1584.0L1593.1 1585.0L1592.7 1586.0L1592.3 1587.0L1591.8 1588.0L1591.3 1589.0L1590.8 1590.0L1590.2 1591.0L1589.5 1592.0L1588.9 1593.0L1588.2 1594.0L1587.5 1595.0L1586.9 1596.0L1586.2 1597.0L1585.5 1598.0L1584.9 1599.0L1584.2 1600.0L1583.5 1601.0L1582.8 1602.0L1582.1 1603.0L1581.4 1604.0L1580.7 1605.0L1580.0 1606.0L1579.4 1607.0L1578.7 1608.0L1578.0 1609.0L1577.3 1610.0L1576.6 1611.0L1576.0 1612.0L1575.4 1613.0L1574.8 1614.0L1574.2 1615.0L1573.6 1616.0L1573.1 1617.0L1572.5 1618.0L1572.0 1619.0L1571.5 1620.0L1570.9 1621.0L1570.4 1622.0L1569.9 1623.0L1569.3 1624.0L1568.8 1625.0L1568.3 1626.0L1567.8 1627.0L1567.4 1628.0L1567.0 1629.0L1566.6 1630.0L1566.2 1631.0L1565.8 1632.0L1565.4 1633.0L1565.0 1634.0L1564.6 1635.0L1564.3 1636.0L1563.9 1637.0L1563.6 1638.0L1563.3 1639.0L1562.7 1640.0L1562.7 1640.0z" fill="#e0282a"/>
<path d="M1646.1 1013.4L1645.5 1013.4L1645.5 1014.4L1645.5 1015.4L1645.5 1016.4L1645.5 1017.4L1645.5 1018.4L1645.5 1019.4L1645.5 1020.4L1645.5 1021.4L1645.4 1022.4L1645.4 1023.4L1645.4 1024.4L1645.4 1025.4L1645.4 1026.4L1645.4 1027.4L1645.4 1028.4L1645.4 1029.4L1645.4 1030.4L1645.4 1031.4L1645.4 1032.4L1645.4 1033.4L1645.4 1034.4L1645.4 1035.4L1645.4 1036.4L1645.4 1037.4L1645.4 1038.4L1645.3 1039.4L1645.3 1040.4L1645.3 1041.4L1645.3 1042.4L1645.3 1043.4L1645.3 1044.4L1645.3 1045.4L1645.3 1046.4L1645.3 1047.4L1645.3 1048.4L1645.3 1049.4L1645.3 1050.4L1645.3 1051.4L1645.3 1052.4L1645.3 1053.4L1645.3 1054.4L1645.3 1055.4L1645.3 1056.4L1645.2 1057.4L1645.2 1058.4L1645.2 1059.4L1645.2 1060.4L1645.2 1061.4L1645.2 1062.4L1645.2 1063.4L1645.2 1064.4L1645.2 1065.4L1645.2 1066.4L1645.2 1067.4L1645.2 1068.4L1645.2 1069.4L1645.2 1070.4L1645.2 1071.4L1645.2 1072.4L1645.2 1073.4L1645.1 1074.4L1645.1 1075.4L1645.1 1076.4L1645.1 1077.4L1645.1 1078.4L1645.1 1079.4L1645.1 1080.4L1645.1 1081.4L1645.1 1082.4L1645.1 1083.4L1645.1 1084.4L1645.1 1085.4L1645.1 1086.4L1645.1 1087.4L1645.1 1088.4L1645.1 1089.4L1645.1 1090.4L1645.0 1091.4L1645.0 1092.4L1645.0 1093.4L1645.0 1094.4L1645.0 1095.4L1645.0 1096.4L1645.0 1097.4L1645.0 1098.4L1645.0 1099.4L1645.0 1100.4L1645.0 1101.4L1645.0 1102.4L1645.0 1103.4L1645.0 1104.4L1645.0 1105.4L1645.0 1106.4L1645.0 1107.4L1645.0 1108.4L1645.0 1109.4L1645.0 1110.4L1645.0 1111.4L1645.0 1112.4L1645.0 1113.4L1645.0 1114.4L1645.0 1115.4L1645.0 1116.4L1644.9 1117.4L1644.9 1118.4L1644.9 1119.4L1644.9 1120.4L1644.9 1121.4L1644.9 1122.4L1644.9 1123.4L1644.9 1124.4L1644.9 1125.4L1644.9 1126.4L1644.9 1127.4L1644.9 1128.4L1644.9 1129.4L1644.9 1130.4L1644.9 1131.4L1644.9 1132.4L1644.9 1133.4L1644.9 1134.4L1644.9 1135.4L1644.9 1136.4L1644.9 1137.4L1644.9 1138.4L1644.9 1139.4L1644.9 1140.4L1644.9 1141.4L1644.9 1142.4L1644.9 1143.4L1644.9 1144.4L1644.9 1145.4L1644.9 1146.4L1644.9 1147.4L1644.9 1148.4L1644.9 1149.4L1644.8 1150.4L1644.8 1151.4L1644.8 1152.4L1644.8 1153.4L1644.8 1154.4L1644.8 1155.4L1644.8 1156.4L1644.8 1157.4L1644.8 1158.4L1644.8 1159.4L1644.8 1160.4L1644.8 1161.4L1644.8 1162.4L1644.8 1163.4L1644.8 1164.4L1644.8 1165.4L1644.8 1166.4L1644.8 1167.4L1644.8 1168.4L1644.8 1169.4L1644.8 1170.4L1644.8 1171.4L1644.8 1172.4L1644.8 1173.4L1644.8 1174.4L1644.8 1175.4L1644.8 1176.4L1644.8 1177.4L1644.8 1178.4L1644.8 1179.4L1644.8 1180.4L1644.8 1181.4L1644.8 1182.4L1644.7 1183.4L1644.7 1184.4L1644.7 1185.4L1644.7 1186.4L1644.7 1187.4L1644.7 1188.4L1644.7 1189.4L1644.7 1190.4L1644.7 1191.4L1644.7 1192.4L1644.7 1193.4L1644.7 1194.4L1644.7 1195.4L1644.7 1196.4L1644.7 1197.4L1644.7 1198.4L1644.7 1199.4L1644.7 1200.4L1644.7 1201.4L1644.7 1202.4L1644.7 1203.4L1644.7 1204.4L1644.7 1205.4L1644.6 1206.4L1644.6 1207.4L1644.6 1208.4L1644.6 1209.4L1644.6 1210.4L1644.6 1211.4L1644.6 1212.4L1644.6 1213.4L1644.6 1214.4L1644.6 1215.4L1644.6 1216.4L1644.6 1217.4L1644.6 1218.4L1644.5 1219.4L1644.5 1220.4L1644.5 1221.4L1644.5 1222.4L1644.5 1223.4L1644.5 1224.4L1644.5 1225.4L1644.5 1226.4L1644.5 1227.4L1644.5 1228.4L1644.5 1229.4L1644.5 1230.4L1644.4 1231.4L1644.4 1232.4L1644.4 1233.4L1644.4 1234.4L1644.4 1235.4L1644.4 1236.4L1644.4 1237.4L1644.4 1238.4L1644.4 1239.4L1644.4 1240.4L1644.4 1241.4L1644.4 1242.4L1644.4 1243.4L1644.3 1244.4L1644.3 1245.4L1644.3 1246.4L1644.3 1247.4L1644.3 1248.4L1644.3 1249.4L1644.3 1250.4L1644.3 1251.4L1644.3 1252.4L1644.3 1253.4L1644.3 1254.4L1644.3 1255.4L1644.2 1256.4L1644.2 1257.4L1644.2 1258.4L1644.2 1259.4L1644.2 1260.4L1644.2 1261.4L1644.2 1262.4L1644.2 1263.4L1644.2 1264.4L1644.2 1265.4L1644.2 1266.4L1644.2 1267.4L1644.2 1268.4L1644.1 1269.4L1644.1 1270.4L1644.1 1271.4L1644.1 1272.4L1644.1 1273.4L1644.1 1274.4L1644.1 1275.4L1644.1 1276.4L1644.1 1277.4L1644.1 1278.4L1644.1 1279.4L1644.1 1280.4L1644.0 1281.4L1644.0 1282.4L1644.0 1283.4L1644.0 1284.4L1644.0 1285.4L1644.0 1286.4L1644.0 1287.4L1644.0 1288.4L1644.0 1289.4L1644.0 1290.4L1644.0 1291.4L1644.0 1292.4L1644.0 1293.4L1643.9 1294.4L1643.9 1295.4L1643.9 1296.4L1643.9 1297.4L1643.9 1298.4L1643.9 1299.4L1643.9 1300.4L1643.9 1301.4L1643.8 1302.4L1643.8 1303.4L1643.8 1304.4L1643.8 1305.4L1643.8 1306.4L1643.7 1307.4L1643.7 1308.4L1643.7 1309.4L1643.7 1310.4L1643.6 1311.4L1643.6 1312.4L1643.6 1313.4L1643.6 1314.4L1643.5 1315.4L1643.5 1316.4L1643.5 1317.4L1643.5 1318.4L1643.4 1319.4L1643.4 1320.4L1643.4 1321.4L1643.4 1322.4L1643.4 1323.4L1643.3 1324.4L1643.3 1325.4L1643.3 1326.4L1643.3 1327.4L1643.2 1328.4L1643.2 1329.4L1643.2 1330.4L1643.2 1331.4L1643.1 1332.4L1643.1 1333.4L1643.1 1334.4L1643.1 1335.4L1643.0 1336.4L1643.0 1337.4L1643.0 1338.4L1643.0 1339.4L1643.0 1340.4L1642.9 1341.4L1642.9 1342.4L1642.9 1343.4L1642.9 1344.4L1642.8 1345.4L1642.8 1346.4L1642.8 1347.4L1642.8 1348.4L1642.7 1349.4L1642.7 1350.4L1642.7 1351.4L1642.7 1352.4L1642.7 1353.4L1642.6 1354.4L1642.6 1355.4L1642.6 1356.4L1642.6 1357.4L1642.5 1358.4L1642.5 1359.4L1642.5 1360.4L1642.4 1361.4L1642.4 1362.4L1642.3 1363.4L1642.3 1364.4L1642.2 1365.4L1642.2 1366.4L1642.1 1367.4L1642.1 1368.4L1642.0 1369.4L1642.0 1370.4L1642.0 1371.4L1641.9 1372.4L1641.9 1373.4L1641.8 1374.4L1641.8 1375.4L1641.7 1376.4L1641.7 1377.4L1641.6 1378.4L1641.6 1379.4L1641.5 1380.4L1641.5 1381.4L1641.4 1382.4L1641.4 1383.4L1641.3 1384.4L1641.3 1385.4L1641.2 1386.4L1641.2 1387.4L1641.1 1388.4L1641.1 1389.4L1641.1 1390.4L1641.0 1391.4L1641.0 1392.4L1640.9 1393.4L1640.9 1394.4L1640.8 1395.4L1640.8 1396.4L1640.7 1397.4L1640.7 1398.4L1640.6 1399.4L1640.6 1400.4L1640.5 1401.4L1640.5 1402.4L1640.4 1403.4L1640.4 1404.4L1640.3 1405.4L1640.3 1406.4L1640.2 1407.4L1640.2 1408.4L1640.2 1409.4L1640.1 1410.4L1640.1 1411.4L1640.0 1412.4L1640.0 1413.4L1639.9 1414.4L1639.8 1415.4L1639.8 1416.4L1639.7 1417.4L1639.6 1418.4L1639.4 1419.4L1639.3 1420.4L1639.2 1421.4L1639.1 1422.4L1638.9 1423.4L1638.8 1424.4L1638.7 1425.4L1638.6 1426.4L1638.4 1427.4L1638.3 1428.4L1638.2 1429.4L1638.0 1430.4L1637.9 1431.4L1637.8 1432.4L1637.7 1433.4L1637.5 1434.4L1637.4 1435.4L1637.3 1436.4L1637.1 1437.4L1637.0 1438.4L1636.9 1439.4L1636.7 1440.4L1636.6 1441.4L1636.5 1442.4L1636.4 1443.4L1636.2 1444.4L1636.1 1445.4L1636.0 1446.4L1635.8 1447.4L1635.7 1448.4L1635.5 1449.4L1635.3 1450.4L1635.1 1451.4L1634.8 1452.4L1634.6 1453.4L1634.3 1454.4L1634.1 1455.4L1633.8 1456.4L1633.5 1457.4L1633.3 1458.4L1633.0 1459.4L1632.7 1460.4L1632.5 1461.4L1632.2 1462.4L1632.0 1463.4L1631.7 1464.4L1631.4 1465.4L1631.2 1466.4L1630.9 1467.4L1630.6 1468.4L1630.4 1469.4L1630.1 1470.4L1629.8 1471.4L1629.6 1472.4L1629.3 1473.4L1629.0 1474.4L1628.8 1475.4L1628.5 1476.4L1628.2 1477.4L1627.9 1478.4L1627.7 1479.4L1627.4 1480.4L1627.1 1481.4L1626.8 1482.4L1626.6 1483.4L1626.3 1484.4L1626.0 1485.4L1625.7 1486.4L1625.5 1487.4L1625.2 1488.4L1624.9 1489.4L1624.6 1490.4L1624.4 1491.4L1624.1 1492.4L1623.8 1493.4L1623.5 1494.4L1623.3 1495.4L1623.0 1496.4L1622.7 1497.4L1622.5 1498.4L1622.2 1499.4L1621.9 1500.4L1621.7 1501.4L1621.4 1502.4L1621.2 1503.4L1620.9 1504.4L1620.7 1505.4L1620.5 1506.4L1620.2 1507.4L1620.0 1508.4L1619.7 1509.4L1619.5 1510.4L1619.3 1511.4L1619.0 1512.4L1618.8 1513.4L1618.5 1514.4L1618.3 1515.4L1618.1 1516.4L1617.8 1517.4L1617.6 1518.4L1617.3 1519.4L1617.1 1520.4L1616.9 1521.4L1616.6 1522.4L1616.4 1523.4L1616.2 1524.4L1616.0 1525.4L1615.8 1526.4L1615.6 1527.4L1615.4 1528.4L1615.3 1529.4L1615.1 1530.4L1614.9 1531.4L1614.8 1532.4L1614.6 1533.4L1614.4 1534.4L1614.3 1535.4L1614.1 1536.4L1614.0 1537.4L1613.8 1538.4L1613.6 1539.4L1613.5 1540.4L1613.3 1541.4L1613.1 1542.4L1613.0 1543.4L1612.9 1544.4L1612.8 1545.4L1612.7 1546.4L1612.6 1547.4L1612.5 1548.4L1612.4 1549.4L1612.3 1550.4L1612.3 1551.4L1612.2 1552.4L1612.2 1553.4L1612.2 1554.4L1612.2 1555.4L1612.2 1556.4L1612.3 1557.4L1612.3 1558.4L1612.4 1559.4L1612.5 1560.4L1612.6 1561.4L1612.7 1562.4L1612.8 1563.4L1612.9 1564.4L1613.0 1565.4L1613.1 1566.4L1613.3 1567.4L1613.4 1568.4L1613.6 1569.4L1613.7 1570.4L1614.0 1571.4L1614.2 1572.4L1614.5 1573.4L1614.7 1574.4L1615.0 1575.4L1615.3 1576.4L1615.5 1577.4L1615.8 1578.4L1616.1 1579.4L1616.4 1580.4L1616.6 1581.4L1616.9 1582.4L1617.2 1583.4L1617.5 1584.4L1617.7 1585.4L1618.0 1586.4L1618.3 1587.4L1618.6 1588.4L1618.9 1589.4L1619.3 1590.4L1619.6 1591.4L1620.0 1592.4L1620.4 1593.4L1620.8 1594.4L1621.2 1595.4L1621.6 1596.4L1622.0 1597.4L1622.4 1598.4L1622.8 1599.4L1623.2 1600.4L1623.6 1601.4L1624.0 1602.4L1624.4 1603.4L1624.8 1604.4L1625.2 1605.4L1625.6 1606.4L1626.0 1607.4L1626.4 1608.4L1626.8 1609.4L1627.2 1610.4L1627.6 1611.4L1628.0 1612.4L1628.4 1613.4L1628.8 1614.4L1629.2 1615.4L1629.6 1616.4L1630.0 1617.4L1630.4 1618.4L1630.8 1619.4L1631.2 1620.4L1631.6 1621.4L1632.0 1622.4L1632.4 1623.4L1632.8 1624.4L1633.2 1625.4L1633.6 1626.4L1634.0 1627.4L1634.3 1628.4L1634.7 1629.4L1635.1 1630.4L1635.5 1631.4L1635.9 1632.4L1636.2 1633.4L1636.6 1634.4L1636.9 1635.4L1637.3 1636.4L1637.7 1637.4L1638.0 1638.4L1638.4 1639.4L1638.8 1640.4L1639.1 1641.4L1639.5 1642.4L1639.8 1643.4L1640.2 1644.4L1640.5 1645.4L1640.9 1646.4L1641.2 1647.4L1641.5 1648.4L1641.8 1649.4L1642.1 1650.4L1642.3 1651.4L1642.6 1652.4L1642.9 1653.4L1643.1 1654.4L1643.4 1655.4L1643.6 1656.4L1643.9 1657.4L1644.1 1658.4L1644.4 1659.4L1644.6 1660.4L1644.8 1661.4L1645.0 1662.4L1645.5 1663.4L1646.1 1663.4z" fill="#10803f"/>
<path d="M1645.5 1013.4L1645.5 1013.4L1645.5 1014.4L1645.5 1015.4L1645.5 1016.4L1645.5 1017.4L1645.5 1018.4L1645.5 1019.4L1645.5 1020.4L1645.6 1021.4L1645.6 1022.4L1645.6 1023.4L1645.6 1024.4L1645.6 1025.4L1645.6 1026.4L1645.6 1027.4L1645.6 1028.4L1645.6 1029.4L1645.6 1030.4L1645.6 1031.4L1645.6 1032.4L1645.6 1033.4L1645.6 1034.4L1645.7 1035.4L1645.7 1036.4L1645.7 1037.4L1645.7 1038.4L1645.7 1039.4L1645.7 1040.4L1645.7 1041.4L1645.7 1042.4L1645.7 1043.4L1645.7 1044.4L1645.7 1045.4L1645.7 1046.4L1645.7 1047.4L1645.7 1048.4L1645.7 1049.4L1645.8 1050.4L1645.8 1051.4L1645.8 1052.4L1645.8 1053.4L1645.8 1054.4L1645.8 1055.4L1645.8 1056.4L1645.8 1057.4L1645.8 1058.4L1645.8 1059.4L1645.8 1060.4L1645.8 1061.4L1645.8 1062.4L1645.8 1063.4L1645.9 1064.4L1645.9 1065.4L1645.9 1066.4L1645.9 1067.4L1645.9 1068.4L1645.9 1069.4L1645.9 1070.4L1645.9 1071.4L1645.9 1072.4L1645.9 1073.4L1645.9 1074.4L1645.9 1075.4L1645.9 1076.4L1645.9 1077.4L1646.0 1078.4L1646.0 1079.4L1646.0 1080.4L1646.0 1081.4L1646.0 1082.4L1646.0 1083.4L1646.0 1084.4L1646.0 1085.4L1646.0 1086.4L1646.0 1087.4L1646.0 1088.4L1646.0 1089.4L1646.0 1090.4L1646.0 1091.4L1646.0 1092.4L1646.1 1093.4L1646.1 1094.4L1646.1 1095.4L1646.1 1096.4L1646.1 1097.4L1646.1 1098.4L1646.1 1099.4L1646.1 1100.4L1646.1 1101.4L1646.1 1102.4L1646.1 1103.4L1646.1 1104.4L1646.1 1105.4L1646.1 1106.4L1646.1 1107.4L1646.1 1108.4L1646.1 1109.4L1646.1 1110.4L1646.1 1111.4L1646.1 1112.4L1646.2 1113.4L1646.2 1114.4L1646.2 1115.4L1646.2 1116.4L1646.2 1117.4L1646.2 1118.4L1646.2 1119.4L1646.2 1120.4L1646.2 1121.4L1646.2 1122.4L1646.2 1123.4L1646.2 1124.4L1646.2 1125.4L1646.2 1126.4L1646.2 1127.4L1646.2 1128.4L1646.2 1129.4L1646.2 1130.4L1646.2 1131.4L1646.2 1132.4L1646.2 1133.4L1646.2 1134.4L1646.2 1135.4L1646.2 1136.4L1646.2 1137.4L1646.3 1138.4L1646.3 1139.4L1646.3 1140.4L1646.3 1141.4L1646.3 1142.4L1646.3 1143.4L1646.3 1144.4L1646.3 1145.4L1646.3 1146.4L1646.3 1147.4L1646.3 1148.4L1646.3 1149.4L1646.3 1150.4L1646.3 1151.4L1646.3 1152.4L1646.3 1153.4L1646.3 1154.4L1646.3 1155.4L1646.3 1156.4L1646.3 1157.4L1646.3 1158.4L1646.3 1159.4L1646.3 1160.4L1646.3 1161.4L1646.3 1162.4L1646.4 1163.4L1646.4 1164.4L1646.4 1165.4L1646.4 1166.4L1646.4 1167.4L1646.4 1168.4L1646.4 1169.4L1646.4 1170.4L1646.4 1171.4L1646.4 1172.4L1646.4 1173.4L1646.4 1174.4L1646.4 1175.4L1646.4 1176.4L1646.4 1177.4L1646.4 1178.4L1646.4 1179.4L1646.4 1180.4L1646.4 1181.4L1646.4 1182.4L1646.4 1183.4L1646.4 1184.4L1646.4 1185.4L1646.4 1186.4L1646.4 1187.4L1646.5 1188.4L1646.5 1189.4L1646.5 1190.4L1646.5 1191.4L1646.5 1192.4L1646.5 1193.4L1646.5 1194.4L1646.5 1195.4L1646.5 1196.4L1646.5 1197.4L1646.5 1198.4L1646.5 1199.4L1646.5 1200.4L1646.5 1201.4L1646.5 1202.4L1646.5 1203.4L1646.6 1204.4L1646.6 1205.4L1646.6 1206.4L1646.6 1207.4L1646.6 1208.4L1646.6 1209.4L1646.6 1210.4L1646.6 1211.4L1646.6 1212.4L1646.7 1213.4L1646.7 1214.4L1646.7 1215.4L1646.7 1216.4L1646.7 1217.4L1646.7 1218.4L1646.7 1219.4L1646.7 1220.4L1646.8 1221.4L1646.8 1222.4L1646.8 1223.4L1646.8 1224.4L1646.8 1225.4L1646.8 1226.4L1646.8 1227.4L1646.8 1228.4L1646.9 1229.4L1646.9 1230.4L1646.9 1231.4L1646.9 1232.4L1646.9 1233.4L1646.9 1234.4L1646.9 1235.4L1646.9 1236.4L1646.9 1237.4L1647.0 1238.4L1647.0 1239.4L1647.0 1240.4L1647.0 1241.4L1647.0 1242.4L1647.0 1243.4L1647.0 1244.4L1647.0 1245.4L1647.1 1246.4L1647.1 1247.4L1647.1 1248.4L1647.1 1249.4L1647.1 1250.4L1647.1 1251.4L1647.1 1252.4L1647.1 1253.4L1647.1 1254.4L1647.2 1255.4L1647.2 1256.4L1647.2 1257.4L1647.2 1258.4L1647.2 1259.4L1647.2 1260.4L1647.2 1261.4L1647.2 1262.4L1647.3 1263.4L1647.3 1264.4L1647.3 1265.4L1647.3 1266.4L1647.3 1267.4L1647.3 1268.4L1647.3 1269.4L1647.3 1270.4L1647.4 1271.4L1647.4 1272.4L1647.4 1273.4L1647.4 1274.4L1647.4 1275.4L1647.4 1276.4L1647.4 1277.4L1647.4 1278.4L1647.4 1279.4L1647.5 1280.4L1647.5 1281.4L1647.5 1282.4L1647.5 1283.4L1647.5 1284.4L1647.6 1285.4L1647.6 1286.4L1647.6 1287.4L1647.7 1288.4L1647.7 1289.4L1647.7 1290.4L1647.8 1291.4L1647.8 1292.4L1647.8 1293.4L1647.9 1294.4L1647.9 1295.4L1647.9 1296.4L1648.0 1297.4L1648.0 1298.4L1648.0 1299.4L1648.1 1300.4L1648.1 1301.4L1648.1 1302.4L1648.2 1303.4L1648.2 1304.4L1648.2 1305.4L1648.3 1306.4L1648.3 1307.4L1648.3 1308.4L1648.4 1309.4L1648.4 1310.4L1648.4 1311.4L1648.5 1312.4L1648.5 1313.4L1648.5 1314.4L1648.6 1315.4L1648.6 1316.4L1648.6 1317.4L1648.7 1318.4L1648.7 1319.4L1648.7 1320.4L1648.8 1321.4L1648.8 1322.4L1648.9 1323.4L1648.9 1324.4L1648.9 1325.4L1649.0 1326.4L1649.0 1327.4L1649.0 1328.4L1649.1 1329.4L1649.1 1330.4L1649.1 1331.4L1649.2 1332.4L1649.2 1333.4L1649.2 1334.4L1649.3 1335.4L1649.3 1336.4L1649.3 1337.4L1649.4 1338.4L1649.4 1339.4L1649.4 1340.4L1649.5 1341.4L1649.5 1342.4L1649.5 1343.4L1649.6 1344.4L1649.6 1345.4L1649.6 1346.4L1649.7 1347.4L1649.7 1348.4L1649.7 1349.4L1649.8 1350.4L1649.8 1351.4L1649.8 1352.4L1649.9 1353.4L1649.9 1354.4L1649.9 1355.4L1650.0 1356.4L1650.0 1357.4L1650.1 1358.4L1650.1 1359.4L1650.2 1360.4L1650.2 1361.4L1650.3 1362.4L1650.4 1363.4L1650.4 1364.4L1650.5 1365.4L1650.6 1366.4L1650.7 1367.4L1650.8 1368.4L1650.8 1369.4L1650.9 1370.4L1651.0 1371.4L1651.1 1372.4L1651.1 1373.4L1651.2 1374.4L1651.3 1375.4L1651.4 1376.4L1651.5 1377.4L1651.5 1378.4L1651.6 1379.4L1651.7 1380.4L1651.8 1381.4L1651.8 1382.4L1651.9 1383.4L1652.0 1384.4L1652.1 1385.4L1652.1 1386.4L1652.2 1387.4L1652.3 1388.4L1652.4 1389.4L1652.5 1390.4L1652.5 1391.4L1652.6 1392.4L1652.7 1393.4L1652.8 1394.4L1652.8 1395.4L1652.9 1396.4L1653.0 1397.4L1653.1 1398.4L1653.2 1399.4L1653.2 1400.4L1653.3 1401.4L1653.4 1402.4L1653.5 1403.4L1653.5 1404.4L1653.6 1405.4L1653.7 1406.4L1653.8 1407.4L1653.9 1408.4L1653.9 1409.4L1654.0 1410.4L1654.1 1411.4L1654.2 1412.4L1654.2 1413.4L1654.3 1414.4L1654.4 1415.4L1654.5 1416.4L1654.6 1417.4L1654.7 1418.4L1654.9 1419.4L1655.0 1420.4L1655.1 1421.4L1655.3 1422.4L1655.4 1423.4L1655.5 1424.4L1655.7 1425.4L1655.8 1426.4L1655.9 1427.4L1656.1 1428.4L1656.2 1429.4L1656.3 1430.4L1656.5 1431.4L1656.6 1432.4L1656.8 1433.4L1656.9 1434.4L1657.0 1435.4L1657.2 1436.4L1657.3 1437.4L1657.4 1438.4L1657.6 1439.4L1657.7 1440.4L1657.8 1441.4L1658.0 1442.4L1658.1 1443.4L1658.2 1444.4L1658.4 1445.4L1658.5 1446.4L1658.7 1447.4L1658.8 1448.4L1659.0 1449.4L1659.1 1450.4L1659.3 1451.4L1659.5 1452.4L1659.6 1453.4L1659.8 1454.4L1660.0 1455.4L1660.2 1456.4L1660.4 1457.4L1660.6 1458.4L1660.7 1459.4L1660.9 1460.4L1661.1 1461.4L1661.3 1462.4L1661.5 1463.4L1661.7 1464.4L1661.8 1465.4L1662.0 1466.4L1662.2 1467.4L1662.4 1468.4L1662.6 1469.4L1662.8 1470.4L1663.0 1471.4L1663.2 1472.4L1663.4 1473.4L1663.6 1474.4L1663.8 1475.4L1664.0 1476.4L1664.2 1477.4L1664.5 1478.4L1664.7 1479.4L1664.9 1480.4L1665.2 1481.4L1665.4 1482.4L1665.6 1483.4L1665.9 1484.4L1666.1 1485.4L1666.3 1486.4L1666.6 1487.4L1666.8 1488.4L1667.0 1489.4L1667.3 1490.4L1667.5 1491.4L1667.7 1492.4L1668.0 1493.4L1668.2 1494.4L1668.4 1495.4L1668.7 1496.4L1668.9 1497.4L1669.1 1498.4L1669.4 1499.4L1669.6 1500.4L1669.8 1501.4L1670.0 1502.4L1670.2 1503.4L1670.5 1504.4L1670.7 1505.4L1670.9 1506.4L1671.1 1507.4L1671.3 1508.4L1671.6 1509.4L1671.8 1510.4L1672.0 1511.4L1672.2 1512.4L1672.4 1513.4L1672.7 1514.4L1672.9 1515.4L1673.1 1516.4L1673.3 1517.4L1673.5 1518.4L1673.8 1519.4L1674.0 1520.4L1674.2 1521.4L1674.4 1522.4L1674.6 1523.4L1674.8 1524.4L1675.0 1525.4L1675.2 1526.4L1675.4 1527.4L1675.6 1528.4L1675.7 1529.4L1675.9 1530.4L1676.1 1531.4L1676.2 1532.4L1676.4 1533.4L1676.6 1534.4L1676.7 1535.4L1676.9 1536.4L1677.1 1537.4L1677.2 1538.4L1677.4 1539.4L1677.5 1540.4L1677.7 1541.4L1677.8 1542.4L1677.9 1543.4L1678.0 1544.4L1678.1 1545.4L1678.1 1546.4L1678.2 1547.4L1678.3 1548.4L1678.3 1549.4L1678.3 1550.4L1678.4 1551.4L1678.4 1552.4L1678.4 1553.4L1678.3 1554.4L1678.3 1555.4L1678.2 1556.4L1678.1 1557.4L1678.1 1558.4L1678.0 1559.4L1677.9 1560.4L1677.8 1561.4L1677.7 1562.4L1677.6 1563.4L1677.5 1564.4L1677.4 1565.4L1677.3 1566.4L1677.2 1567.4L1677.1 1568.4L1676.9 1569.4L1676.7 1570.4L1676.5 1571.4L1676.3 1572.4L1676.0 1573.4L1675.8 1574.4L1675.5 1575.4L1675.2 1576.4L1675.0 1577.4L1674.7 1578.4L1674.4 1579.4L1674.1 1580.4L1673.9 1581.4L1673.6 1582.4L1673.3 1583.4L1673.0 1584.4L1672.8 1585.4L1672.5 1586.4L1672.2 1587.4L1671.9 1588.4L1671.6 1589.4L1671.2 1590.4L1670.9 1591.4L1670.5 1592.4L1670.1 1593.4L1669.7 1594.4L1669.3 1595.4L1668.9 1596.4L1668.5 1597.4L1668.1 1598.4L1667.7 1599.4L1667.3 1600.4L1666.9 1601.4L1666.5 1602.4L1666.1 1603.4L1665.7 1604.4L1665.3 1605.4L1664.9 1606.4L1664.5 1607.4L1664.1 1608.4L1663.7 1609.4L1663.3 1610.4L1662.9 1611.4L1662.5 1612.4L1662.1 1613.4L1661.7 1614.4L1661.3 1615.4L1660.9 1616.4L1660.5 1617.4L1660.1 1618.4L1659.7 1619.4L1659.3 1620.4L1658.9 1621.4L1658.5 1622.4L1658.1 1623.4L1657.7 1624.4L1657.3 1625.4L1656.9 1626.4L1656.5 1627.4L1656.2 1628.4L1655.8 1629.4L1655.4 1630.4L1655.0 1631.4L1654.6 1632.4L1654.3 1633.4L1653.9 1634.4L1653.6 1635.4L1653.2 1636.4L1652.8 1637.4L1652.5 1638.4L1652.1 1639.4L1651.7 1640.4L1651.4 1641.4L1651.0 1642.4L1650.7 1643.4L1650.3 1644.4L1650.0 1645.4L1649.6 1646.4L1649.3 1647.4L1649.0 1648.4L1648.8 1649.4L1648.5 1650.4L1648.3 1651.4L1648.0 1652.4L1647.8 1653.4L1647.6 1654.4L1647.4 1655.4L1647.1 1656.4L1646.9 1657.4L1646.7 1658.4L1646.5 1659.4L1646.3 1660.4L1646.1 1661.4L1645.9 1662.4L1645.5 1663.4L1645.5 1663.4z" fill="#e0282a"/>
<path d="M1739.6 1200.0L1739.0 1200.0L1739.0 1201.0L1739.0 1202.0L1739.0 1203.0L1739.0 1204.0L1739.0 1205.0L1739.0 1206.0L1739.0 1207.0L1738.9 1208.0L1738.9 1209.0L1738.9 1210.0L1738.9 1211.0L1738.9 1212.0L1738.9 1213.0L1738.9 1214.0L1738.9 1215.0L1738.9 1216.0L1738.9 1217.0L1738.9 1218.0L1738.9 1219.0L1738.9 1220.0L1738.9 1221.0L1738.8 1222.0L1738.8 1223.0L1738.8 1224.0L1738.8 1225.0L1738.8 1226.0L1738.8 1227.0L1738.8 1228.0L1738.8 1229.0L1738.8 1230.0L1738.8 1231.0L1738.8 1232.0L1738.8 1233.0L1738.8 1234.0L1738.8 1235.0L1738.7 1236.0L1738.7 1237.0L1738.7 1238.0L1738.7 1239.0L1738.7 1240.0L1738.7 1241.0L1738.7 1242.0L1738.7 1243.0L1738.7 1244.0L1738.7 1245.0L1738.7 1246.0L1738.7 1247.0L1738.7 1248.0L1738.7 1249.0L1738.7 1250.0L1738.6 1251.0L1738.6 1252.0L1738.6 1253.0L1738.6 1254.0L1738.6 1255.0L1738.6 1256.0L1738.6 1257.0L1738.6 1258.0L1738.6 1259.0L1738.6 1260.0L1738.6 1261.0L1738.6 1262.0L1738.6 1263.0L1738.6 1264.0L1738.5 1265.0L1738.5 1266.0L1738.5 1267.0L1738.5 1268.0L1738.5 1269.0L1738.5 1270.0L1738.5 1271.0L1738.5 1272.0L1738.5 1273.0L1738.5 1274.0L1738.5 1275.0L1738.5 1276.0L1738.5 1277.0L1738.5 1278.0L1738.4 1279.0L1738.4 1280.0L1738.4 1281.0L1738.4 1282.0L1738.4 1283.0L1738.4 1284.0L1738.4 1285.0L1738.4 1286.0L1738.4 1287.0L1738.4 1288.0L1738.4 1289.0L1738.4 1290.0L1738.4 1291.0L1738.4 1292.0L1738.3 1293.0L1738.3 1294.0L1738.3 1295.0L1738.3 1296.0L1738.3 1297.0L1738.3 1298.0L1738.3 1299.0L1738.3 1300.0L1738.3 1301.0L1738.3 1302.0L1738.3 1303.0L1738.3 1304.0L1738.3 1305.0L1738.2 1306.0L1738.2 1307.0L1738.2 1308.0L1738.2 1309.0L1738.2 1310.0L1738.2 1311.0L1738.2 1312.0L1738.2 1313.0L1738.2 1314.0L1738.2 1315.0L1738.2 1316.0L1738.2 1317.0L1738.1 1318.0L1738.1 1319.0L1738.1 1320.0L1738.1 1321.0L1738.1 1322.0L1738.1 1323.0L1738.1 1324.0L1738.1 1325.0L1738.1 1326.0L1738.1 1327.0L1738.1 1328.0L1738.1 1329.0L1738.0 1330.0L1738.0 1331.0L1738.0 1332.0L1738.0 1333.0L1738.0 1334.0L1738.0 1335.0L1738.0 1336.0L1738.0 1337.0L1738.0 1338.0L1738.0 1339.0L1738.0 1340.0L1738.0 1341.0L1737.9 1342.0L1737.9 1343.0L1737.9 1344.0L1737.9 1345.0L1737.9 1346.0L1737.9 1347.0L1737.9 1348.0L1737.9 1349.0L1737.9 1350.0L1737.9 1351.0L1737.9 1352.0L1737.9 1353.0L1737.8 1354.0L1737.8 1355.0L1737.8 1356.0L1737.8 1357.0L1737.8 1358.0L1737.8 1359.0L1737.8 1360.0L1737.8 1361.0L1737.7 1362.0L1737.7 1363.0L1737.7 1364.0L1737.7 1365.0L1737.6 1366.0L1737.6 1367.0L1737.6 1368.0L1737.5 1369.0L1737.5 1370.0L1737.5 1371.0L1737.4 1372.0L1737.4 1373.0L1737.4 1374.0L1737.4 1375.0L1737.3 1376.0L1737.3 1377.0L1737.3 1378.0L1737.2 1379.0L1737.2 1380.0L1737.2 1381.0L1737.2 1382.0L1737.1 1383.0L1737.1 1384.0L1737.1 1385.0L1737.0 1386.0L1737.0 1387.0L1737.0 1388.0L1737.0 1389.0L1736.9 1390.0L1736.9 1391.0L1736.9 1392.0L1736.8 1393.0L1736.8 1394.0L1736.8 1395.0L1736.8 1396.0L1736.7 1397.0L1736.7 1398.0L1736.7 1399.0L1736.6 1400.0L1736.6 1401.0L1736.6 1402.0L1736.6 1403.0L1736.5 1404.0L1736.5 1405.0L1736.5 1406.0L1736.4 1407.0L1736.4 1408.0L1736.4 1409.0L1736.3 1410.0L1736.3 1411.0L1736.3 1412.0L1736.3 1413.0L1736.2 1414.0L1736.2 1415.0L1736.2 1416.0L1736.1 1417.0L1736.1 1418.0L1736.1 1419.0L1736.1 1420.0L1736.0 1421.0L1736.0 1422.0L1736.0 1423.0L1735.9 1424.0L1735.9 1425.0L1735.9 1426.0L1735.9 1427.0L1735.8 1428.0L1735.8 1429.0L1735.8 1430.0L1735.7 1431.0L1735.7 1432.0L1735.7 1433.0L1735.6 1434.0L1735.6 1435.0L1735.5 1436.0L1735.4 1437.0L1735.3 1438.0L1735.3 1439.0L1735.2 1440.0L1735.1 1441.0L1734.9 1442.0L1734.8 1443.0L1734.7 1444.0L1734.6 1445.0L1734.5 1446.0L1734.4 1447.0L1734.3 1448.0L1734.2 1449.0L1734.1 1450.0L1734.0 1451.0L1733.9 1452.0L1733.8 1453.0L1733.7 1454.0L1733.6 1455.0L1733.5 1456.0L1733.4 1457.0L1733.3 1458.0L1733.2 1459.0L1733.1 1460.0L1732.9 1461.0L1732.8 1462.0L1732.7 1463.0L1732.6 1464.0L1732.5 1465.0L1732.4 1466.0L1732.3 1467.0L1732.2 1468.0L1732.0 1469.0L1731.9 1470.0L1731.7 1471.0L1731.5 1472.0L1731.3 1473.0L1731.1 1474.0L1730.9 1475.0L1730.6 1476.0L1730.4 1477.0L1730.2 1478.0L1729.9 1479.0L1729.7 1480.0L1729.5 1481.0L1729.3 1482.0L1729.0 1483.0L1728.8 1484.0L1728.6 1485.0L1728.4 1486.0L1728.1 1487.0L1727.9 1488.0L1727.7 1489.0L1727.4 1490.0L1727.2 1491.0L1726.9 1492.0L1726.6 1493.0L1726.3 1494.0L1726.0 1495.0L1725.7 1496.0L1725.3 1497.0L1725.0 1498.0L1724.6 1499.0L1724.3 1500.0L1723.9 1501.0L1723.6 1502.0L1723.2 1503.0L1722.9 1504.0L1722.5 1505.0L1722.2 1506.0L1721.8 1507.0L1721.5 1508.0L1721.1 1509.0L1720.8 1510.0L1720.4 1511.0L1720.0 1512.0L1719.7 1513.0L1719.3 1514.0L1719.0 1515.0L1718.6 1516.0L1718.2 1517.0L1717.8 1518.0L1717.4 1519.0L1717.0 1520.0L1716.6 1521.0L1716.2 1522.0L1715.8 1523.0L1715.4 1524.0L1715.0 1525.0L1714.6 1526.0L1714.2 1527.0L1713.8 1528.0L1713.4 1529.0L1713.0 1530.0L1712.6 1531.0L1712.2 1532.0L1711.8 1533.0L1711.5 1534.0L1711.1 1535.0L1710.8 1536.0L1710.5 1537.0L1710.2 1538.0L1709.9 1539.0L1709.7 1540.0L1709.4 1541.0L1709.1 1542.0L1708.9 1543.0L1708.6 1544.0L1708.3 1545.0L1708.1 1546.0L1707.8 1547.0L1707.6 1548.0L1707.4 1549.0L1707.2 1550.0L1707.0 1551.0L1706.9 1552.0L1706.8 1553.0L1706.7 1554.0L1706.6 1555.0L1706.5 1556.0L1706.4 1557.0L1706.3 1558.0L1706.2 1559.0L1706.2 1560.0L1706.1 1561.0L1706.1 1562.0L1706.1 1563.0L1706.2 1564.0L1706.2 1565.0L1706.3 1566.0L1706.4 1567.0L1706.6 1568.0L1706.7 1569.0L1706.8 1570.0L1707.0 1571.0L1707.1 1572.0L1707.3 1573.0L1707.5 1574.0L1707.7 1575.0L1708.0 1576.0L1708.3 1577.0L1708.6 1578.0L1709.0 1579.0L1709.3 1580.0L1709.7 1581.0L1710.1 1582.0L1710.4 1583.0L1710.8 1584.0L1711.2 1585.0L1711.5 1586.0L1711.9 1587.0L1712.3 1588.0L1712.7 1589.0L1713.1 1590.0L1713.6 1591.0L1714.0 1592.0L1714.5 1593.0L1715.0 1594.0L1715.5 1595.0L1716.0 1596.0L1716.5 1597.0L1717.0 1598.0L1717.5 1599.0L1718.0 1600.0L1718.5 1601.0L1719.0 1602.0L1719.5 1603.0L1720.0 1604.0L1720.5 1605.0L1721.0 1606.0L1721.5 1607.0L1722.0 1608.0L1722.5 1609.0L1723.0 1610.0L1723.5 1611.0L1724.0 1612.0L1724.5 1613.0L1725.0 1614.0L1725.5 1615.0L1726.0 1616.0L1726.5 1617.0L1727.0 1618.0L1727.5 1619.0L1728.0 1620.0L1728.4 1621.0L1728.9 1622.0L1729.4 1623.0L1729.9 1624.0L1730.3 1625.0L1730.8 1626.0L1731.2 1627.0L1731.7 1628.0L1732.2 1629.0L1732.6 1630.0L1733.1 1631.0L1733.6 1632.0L1734.0 1633.0L1734.5 1634.0L1734.9 1635.0L1735.3 1636.0L1735.7 1637.0L1736.2 1638.0L1736.6 1639.0L1737.0 1640.0L1737.4 1641.0L1737.7 1642.0L1738.0 1643.0L1739.0 1644.0L1739.6 1644.0z" fill="#10803f"/>
<path d="M1739.0 1178.3L1739.0 1178.3L1739.0 1179.3L1739.0 1180.3L1739.0 1181.3L1739.1 1182.3L1739.1 1183.3L1739.1 1184.3L1739.1 1185.3L1739.1 1186.3L1739.1 1187.3L1739.2 1188.3L1739.2 1189.3L1739.2 1190.3L1739.2 1191.3L1739.2 1192.3L1739.2 1193.3L1739.2 1194.3L1739.3 1195.3L1739.3 1196.3L1739.3 1197.3L1739.3 1198.3L1739.3 1199.3L1739.3 1200.3L1739.4 1201.3L1739.4 1202.3L1739.4 1203.3L1739.4 1204.3L1739.4 1205.3L1739.4 1206.3L1739.4 1207.3L1739.5 1208.3L1739.5 1209.3L1739.5 1210.3L1739.5 1211.3L1739.5 1212.3L1739.5 1213.3L1739.6 1214.3L1739.6 1215.3L1739.6 1216.3L1739.6 1217.3L1739.6 1218.3L1739.6 1219.3L1739.6 1220.3L1739.7 1221.3L1739.7 1222.3L1739.7 1223.3L1739.7 1224.3L1739.7 1225.3L1739.7 1226.3L1739.8 1227.3L1739.8 1228.3L1739.8 1229.3L1739.8 1230.3L1739.8 1231.3L1739.8 1232.3L1739.8 1233.3L1739.9 1234.3L1739.9 1235.3L1739.9 1236.3L1739.9 1237.3L1739.9 1238.3L1739.9 1239.3L1739.9 1240.3L1740.0 1241.3L1740.0 1242.3L1740.0 1243.3L1740.0 1244.3L1740.0 1245.3L1740.0 1246.3L1740.0 1247.3L1740.1 1248.3L1740.1 1249.3L1740.1 1250.3L1740.1 1251.3L1740.1 1252.3L1740.1 1253.3L1740.1 1254.3L1740.2 1255.3L1740.2 1256.3L1740.2 1257.3L1740.2 1258.3L1740.2 1259.3L1740.2 1260.3L1740.2 1261.3L1740.3 1262.3L1740.3 1263.3L1740.3 1264.3L1740.3 1265.3L1740.3 1266.3L1740.3 1267.3L1740.3 1268.3L1740.4 1269.3L1740.4 1270.3L1740.4 1271.3L1740.4 1272.3L1740.4 1273.3L1740.4 1274.3L1740.4 1275.3L1740.4 1276.3L1740.5 1277.3L1740.5 1278.3L1740.5 1279.3L1740.5 1280.3L1740.5 1281.3L1740.5 1282.3L1740.6 1283.3L1740.6 1284.3L1740.6 1285.3L1740.6 1286.3L1740.6 1287.3L1740.7 1288.3L1740.7 1289.3L1740.7 1290.3L1740.7 1291.3L1740.7 1292.3L1740.7 1293.3L1740.8 1294.3L1740.8 1295.3L1740.8 1296.3L1740.8 1297.3L1740.8 1298.3L1740.9 1299.3L1740.9 1300.3L1740.9 1301.3L1740.9 1302.3L1740.9 1303.3L1741.0 1304.3L1741.0 1305.3L1741.0 1306.3L1741.0 1307.3L1741.0 1308.3L1741.1 1309.3L1741.1 1310.3L1741.1 1311.3L1741.1 1312.3L1741.1 1313.3L1741.1 1314.3L1741.2 1315.3L1741.2 1316.3L1741.2 1317.3L1741.2 1318.3L1741.2 1319.3L1741.3 1320.3L1741.3 1321.3L1741.3 1322.3L1741.3 1323.3L1741.3 1324.3L1741.4 1325.3L1741.4 1326.3L1741.4 1327.3L1741.4 1328.3L1741.4 1329.3L1741.4 1330.3L1741.5 1331.3L1741.5 1332.3L1741.5 1333.3L1741.5 1334.3L1741.5 1335.3L1741.6 1336.3L1741.6 1337.3L1741.6 1338.3L1741.6 1339.3L1741.6 1340.3L1741.7 1341.3L1741.7 1342.3L1741.7 1343.3L1741.7 1344.3L1741.7 1345.3L1741.7 1346.3L1741.8 1347.3L1741.8 1348.3L1741.8 1349.3L1741.8 1350.3L1741.8 1351.3L1741.9 1352.3L1741.9 1353.3L1741.9 1354.3L1741.9 1355.3L1741.9 1356.3L1742.0 1357.3L1742.0 1358.3L1742.0 1359.3L1742.0 1360.3L1742.1 1361.3L1742.1 1362.3L1742.2 1363.3L1742.2 1364.3L1742.3 1365.3L1742.3 1366.3L1742.4 1367.3L1742.4 1368.3L1742.5 1369.3L1742.5 1370.3L1742.6 1371.3L1742.6 1372.3L1742.7 1373.3L1742.7 1374.3L1742.8 1375.3L1742.8 1376.3L1742.9 1377.3L1742.9 1378.3L1743.0 1379.3L1743.0 1380.3L1743.1 1381.3L1743.1 1382.3L1743.2 1383.3L1743.2 1384.3L1743.3 1385.3L1743.3 1386.3L1743.4 1387.3L1743.4 1388.3L1743.5 1389.3L1743.5 1390.3L1743.6 1391.3L1743.6 1392.3L1743.7 1393.3L1743.7 1394.3L1743.8 1395.3L1743.8 1396.3L1743.9 1397.3L1743.9 1398.3L1744.0 1399.3L1744.1 1400.3L1744.1 1401.3L1744.2 1402.3L1744.3 1403.3L1744.4 1404.3L1744.4 1405.3L1744.5 1406.3L1744.6 1407.3L1744.7 1408.3L1744.8 1409.3L1744.9 1410.3L1744.9 1411.3L1745.0 1412.3L1745.1 1413.3L1745.2 1414.3L1745.3 1415.3L1745.4 1416.3L1745.4 1417.3L1745.5 1418.3L1745.6 1419.3L1745.7 1420.3L1745.8 1421.3L1745.9 1422.3L1746.0 1423.3L1746.0 1424.3L1746.1 1425.3L1746.2 1426.3L1746.3 1427.3L1746.4 1428.3L1746.5 1429.3L1746.5 1430.3L1746.6 1431.3L1746.7 1432.3L1746.8 1433.3L1746.9 1434.3L1747.1 1435.3L1747.2 1436.3L1747.4 1437.3L1747.6 1438.3L1747.8 1439.3L1748.0 1440.3L1748.2 1441.3L1748.4 1442.3L1748.7 1443.3L1748.9 1444.3L1749.1 1445.3L1749.3 1446.3L1749.6 1447.3L1749.8 1448.3L1750.0 1449.3L1750.2 1450.3L1750.5 1451.3L1750.7 1452.3L1750.9 1453.3L1751.1 1454.3L1751.3 1455.3L1751.6 1456.3L1751.8 1457.3L1752.0 1458.3L1752.2 1459.3L1752.5 1460.3L1752.7 1461.3L1752.9 1462.3L1753.2 1463.3L1753.4 1464.3L1753.7 1465.3L1754.0 1466.3L1754.2 1467.3L1754.5 1468.3L1754.8 1469.3L1755.2 1470.3L1755.5 1471.3L1755.8 1472.3L1756.1 1473.3L1756.4 1474.3L1756.7 1475.3L1757.0 1476.3L1757.3 1477.3L1757.7 1478.3L1758.0 1479.3L1758.3 1480.3L1758.6 1481.3L1758.9 1482.3L1759.2 1483.3L1759.5 1484.3L1759.9 1485.3L1760.2 1486.3L1760.5 1487.3L1760.8 1488.3L1761.1 1489.3L1761.4 1490.3L1761.7 1491.3L1762.0 1492.3L1762.3 1493.3L1762.6 1494.3L1762.8 1495.3L1763.1 1496.3L1763.4 1497.3L1763.6 1498.3L1763.9 1499.3L1764.2 1500.3L1764.4 1501.3L1764.7 1502.3L1764.9 1503.3L1765.2 1504.3L1765.5 1505.3L1765.7 1506.3L1766.0 1507.3L1766.2 1508.3L1766.5 1509.3L1766.8 1510.3L1767.0 1511.3L1767.3 1512.3L1767.5 1513.3L1767.8 1514.3L1768.0 1515.3L1768.2 1516.3L1768.4 1517.3L1768.5 1518.3L1768.7 1519.3L1768.9 1520.3L1769.0 1521.3L1769.2 1522.3L1769.4 1523.3L1769.5 1524.3L1769.7 1525.3L1769.9 1526.3L1770.0 1527.3L1770.2 1528.3L1770.4 1529.3L1770.5 1530.3L1770.7 1531.3L1770.8 1532.3L1771.0 1533.3L1771.1 1534.3L1771.2 1535.3L1771.3 1536.3L1771.4 1537.3L1771.5 1538.3L1771.6 1539.3L1771.7 1540.3L1771.7 1541.3L1771.8 1542.3L1771.9 1543.3L1771.9 1544.3L1772.0 1545.3L1772.0 1546.3L1772.1 1547.3L1772.2 1548.3L1772.2 1549.3L1772.3 1550.3L1772.3 1551.3L1772.3 1552.3L1772.3 1553.3L1772.3 1554.3L1772.3 1555.3L1772.3 1556.3L1772.3 1557.3L1772.2 1558.3L1772.2 1559.3L1772.1 1560.3L1772.0 1561.3L1771.9 1562.3L1771.8 1563.3L1771.7 1564.3L1771.6 1565.3L1771.5 1566.3L1771.4 1567.3L1771.3 1568.3L1771.2 1569.3L1771.1 1570.3L1770.9 1571.3L1770.7 1572.3L1770.5 1573.3L1770.2 1574.3L1769.9 1575.3L1769.6 1576.3L1769.3 1577.3L1769.0 1578.3L1768.7 1579.3L1768.4 1580.3L1768.1 1581.3L1767.8 1582.3L1767.5 1583.3L1767.1 1584.3L1766.8 1585.3L1766.5 1586.3L1766.1 1587.3L1765.7 1588.3L1765.3 1589.3L1764.9 1590.3L1764.4 1591.3L1764.0 1592.3L1763.5 1593.3L1763.1 1594.3L1762.6 1595.3L1762.1 1596.3L1761.7 1597.3L1761.2 1598.3L1760.7 1599.3L1760.3 1600.3L1759.8 1601.3L1759.3 1602.3L1758.8 1603.3L1758.3 1604.3L1757.8 1605.3L1757.3 1606.3L1756.8 1607.3L1756.3 1608.3L1755.8 1609.3L1755.3 1610.3L1754.9 1611.3L1754.4 1612.3L1753.9 1613.3L1753.4 1614.3L1752.9 1615.3L1752.4 1616.3L1751.9 1617.3L1751.4 1618.3L1750.9 1619.3L1750.4 1620.3L1750.0 1621.3L1749.5 1622.3L1749.0 1623.3L1748.6 1624.3L1748.1 1625.3L1747.6 1626.3L1747.2 1627.3L1746.7 1628.3L1746.3 1629.3L1745.8 1630.3L1745.4 1631.3L1745.0 1632.3L1744.5 1633.3L1744.1 1634.3L1743.8 1635.3L1743.4 1636.3L1743.0 1637.3L1742.6 1638.3L1742.2 1639.3L1741.8 1640.3L1741.5 1641.3L1741.1 1642.3L1740.7 1643.3L1740.4 1644.3L1740.1 1645.3L1739.8 1646.3L1739.0 1647.3L1739.0 1647.3z" fill="#e0282a"/>
<rect x="1178.70" y="1582.90" width="22.20" height="7.50" fill="#fbfaf6" rx="1.2"/>
<rect x="1209.60" y="1583.40" width="22.20" height="7.50" fill="#fbfaf6" rx="1.2"/>
<rect x="1262.50" y="1577.90" width="22.20" height="7.50" fill="#fbfaf6" rx="1.2"/>
<rect x="1292.50" y="1577.40" width="22.20" height="7.50" fill="#fbfaf6" rx="1.2"/>
<rect x="1348.80" y="1577.90" width="22.20" height="7.50" fill="#fbfaf6" rx="1.2"/>
<rect x="1379.30" y="1575.40" width="22.20" height="7.50" fill="#fbfaf6" rx="1.2"/>
<rect x="1446.60" y="1563.40" width="22.20" height="7.50" fill="#fbfaf6" rx="1.2"/>
<rect x="1478.10" y="1556.40" width="22.20" height="7.50" fill="#fbfaf6" rx="1.2"/>
<rect x="1536.00" y="1569.90" width="22.20" height="7.50" fill="#fbfaf6" rx="1.2"/>
<rect x="1566.90" y="1571.40" width="22.20" height="7.50" fill="#fbfaf6" rx="1.2"/>
<rect x="1618.30" y="1541.00" width="22.20" height="7.50" fill="#fbfaf6" rx="1.2"/>
<rect x="1648.70" y="1529.50" width="22.20" height="7.50" fill="#fbfaf6" rx="1.2"/>
<rect x="1712.10" y="1555.90" width="22.20" height="7.50" fill="#fbfaf6" rx="1.2"/>
<rect x="1743.60" y="1543.00" width="22.20" height="7.50" fill="#fbfaf6" rx="1.2"/>
<path d="M1207.0 925.2L1647.2 925.2" stroke="#1d1d1b" stroke-width="1.4" fill="none"/>
<path d="M1207.0 975.0L1740.0 975.0" stroke="#1d1d1b" stroke-width="1.4" fill="none"/>
<text x="1380.8" y="917.2" font-size="19.5" textLength="91.5" lengthAdjust="spacingAndGlyphs"><tspan font-style="italic">p</tspan> ≤ 0.0001</text>
<text x="1427.7" y="967.0" font-size="19.5" textLength="91.5" lengthAdjust="spacingAndGlyphs"><tspan font-style="italic">p</tspan> ≤ 0.0001</text>
<text x="1598.8" y="1002.0" font-size="19.5" textLength="91.5" lengthAdjust="spacingAndGlyphs"><tspan font-style="italic">p</tspan> ≤ 0.0001</text>
<text x="1692.7" y="1168.2" font-size="19.5" textLength="91.5" lengthAdjust="spacingAndGlyphs"><tspan font-style="italic">p</tspan> ≤ 0.0001</text>
<text x="1785.0" y="1040.0" font-size="23.5" textLength="201.6" lengthAdjust="spacingAndGlyphs">KDM5B expression</text>
<rect x="1780.00" y="1055.00" width="23.00" height="23.00" fill="#10803f"/>
<rect x="1925.70" y="1055.00" width="22.50" height="23.00" fill="#e0282a"/>
<text x="1809.4" y="1073.6" font-size="23.2" textLength="70.4" lengthAdjust="spacingAndGlyphs">absent</text>
<text x="1954.6" y="1073.6" font-size="23.2">high</text>
<text transform="translate(1164.2 1721.6) rotate(45)" font-size="27.3">Undifferentiated</text>
<text transform="translate(1273.6 1721.6) rotate(45)" font-size="27.3">Undifferentiated-</text>
<text transform="translate(1251.8 1743.0) rotate(45)" font-size="27.3">Neural crest-like</text>
<text transform="translate(1367.8 1721.8) rotate(45)" font-size="27.3">Neural crest-like</text>
<text transform="translate(1484.8 1722.2) rotate(45)" font-size="27.3">Neural crest-like-</text>
<text transform="translate(1463.0 1745.5) rotate(45)" font-size="27.3">Transitory</text>
<text transform="translate(1558.8 1723.7) rotate(45)" font-size="27.3">Transitory</text>
<text transform="translate(1666.7 1723.0) rotate(45)" font-size="27.3">Transitory-</text>
<text transform="translate(1644.0 1744.2) rotate(45)" font-size="27.3">Melanocytic</text>
<text transform="translate(1748.9 1721.3) rotate(45)" font-size="27.3">Melanocytic</text></svg></body></html>
